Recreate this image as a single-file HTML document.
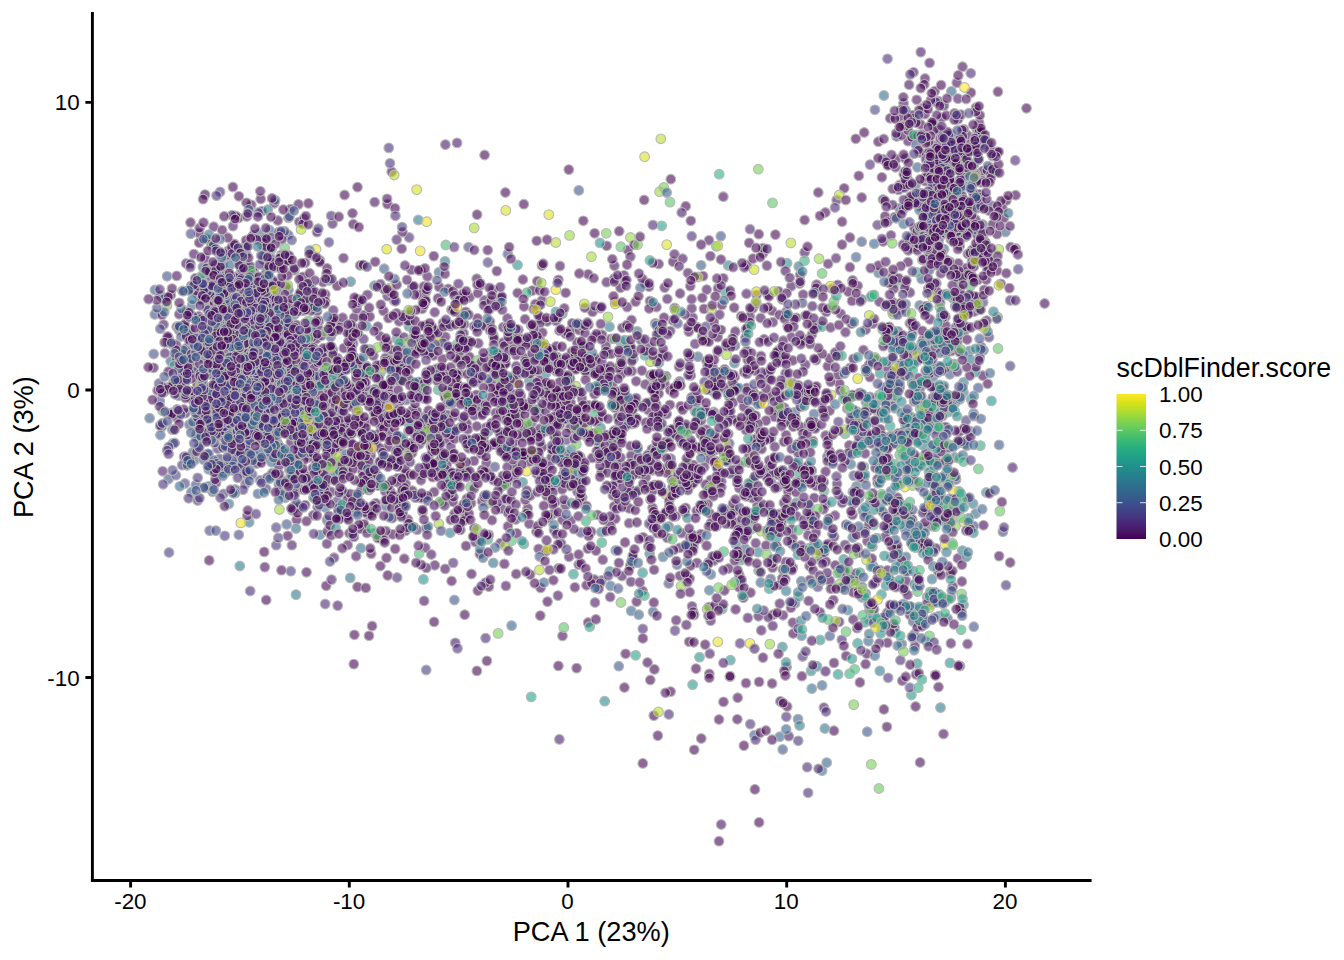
<!DOCTYPE html>
<html lang="en">
<head>
<meta charset="utf-8">
<title>PCA scDblFinder.score</title>
<style>
html,body{margin:0;padding:0;background:#fff;}
body{width:1344px;height:960px;overflow:hidden;font-family:"Liberation Sans",Arial,Helvetica,sans-serif;}
svg{display:block;}
.t{font-family:"Liberation Sans",Arial,Helvetica,sans-serif;font-size:22.4px;fill:#000;}
.T{font-family:"Liberation Sans",Arial,Helvetica,sans-serif;font-size:27.8px;fill:#000;}
</style>
</head>
<body>
<svg width="1344" height="960" viewBox="0 0 1344 960">
<defs>
<linearGradient id="vg" x1="0" y1="1" x2="0" y2="0">
<stop offset="0" stop-color="#440154"/><stop offset="0.0526" stop-color="#481567"/><stop offset="0.1053" stop-color="#482677"/><stop offset="0.1579" stop-color="#453781"/><stop offset="0.2105" stop-color="#404788"/><stop offset="0.2632" stop-color="#39568C"/><stop offset="0.3158" stop-color="#33638D"/><stop offset="0.3684" stop-color="#2D708E"/><stop offset="0.4211" stop-color="#287D8E"/><stop offset="0.4737" stop-color="#238A8D"/><stop offset="0.5263" stop-color="#1F968B"/><stop offset="0.5789" stop-color="#20A387"/><stop offset="0.6316" stop-color="#29AF7F"/><stop offset="0.6842" stop-color="#3CBB75"/><stop offset="0.7368" stop-color="#55C667"/><stop offset="0.7895" stop-color="#73D055"/><stop offset="0.8421" stop-color="#95D840"/><stop offset="0.8947" stop-color="#B8DE29"/><stop offset="0.9474" stop-color="#DCE319"/><stop offset="1" stop-color="#FDE725"/>
</linearGradient>
</defs>
<rect width="1344" height="960" fill="#fff"/>
<g id="pts" fill="#440154" fill-opacity="0.6" stroke="#B8B8B8" stroke-opacity="1" stroke-width="1.1">
<circle cx="564.7" cy="468.3" r="4.85" fill="#460B5D"/>
<circle cx="542.4" cy="332.6" r="4.85"/>
<circle cx="935.9" cy="223.0" r="4.85" fill="#414587"/>
<circle cx="785.9" cy="473.9" r="4.85"/>
<circle cx="809.5" cy="566.0" r="4.85" fill="#460B5D"/>
<circle cx="921.7" cy="404.9" r="4.85" fill="#433E84"/>
<circle cx="265.0" cy="435.5" r="4.85" fill="#472D7B"/>
<circle cx="282.1" cy="234.6" r="4.85"/>
<circle cx="896.3" cy="472.6" r="4.85" fill="#40BD73"/>
<circle cx="967.2" cy="167.3" r="4.85"/>
<circle cx="859.9" cy="682.4" r="4.85"/>
<circle cx="746.8" cy="350.8" r="4.85" fill="#460B5D"/>
<circle cx="361.0" cy="454.6" r="4.85" fill="#481467"/>
<circle cx="493.4" cy="335.7" r="4.85"/>
<circle cx="325.3" cy="507.5" r="4.85" fill="#31678D"/>
<circle cx="356.4" cy="462.1" r="4.85"/>
<circle cx="975.7" cy="513.5" r="4.85" fill="#31678D"/>
<circle cx="992.7" cy="224.3" r="4.85"/>
<circle cx="362.9" cy="394.0" r="4.85" fill="#481467"/>
<circle cx="232.3" cy="450.7" r="4.85" fill="#453680"/>
<circle cx="958.3" cy="263.4" r="4.85"/>
<circle cx="486.4" cy="463.0" r="4.85" fill="#460B5D"/>
<circle cx="505.7" cy="384.7" r="4.85" fill="#31678D"/>
<circle cx="276.2" cy="545.2" r="4.85" fill="#472D7B"/>
<circle cx="191.4" cy="492.2" r="4.85" fill="#3A548B"/>
<circle cx="219.2" cy="356.7" r="4.85"/>
<circle cx="631.1" cy="455.5" r="4.85"/>
<circle cx="386.7" cy="249.2" r="4.85" fill="#DDE319"/>
<circle cx="308.3" cy="341.9" r="4.85"/>
<circle cx="190.8" cy="336.1" r="4.85" fill="#482576"/>
<circle cx="255.1" cy="378.3" r="4.85" fill="#460B5D"/>
<circle cx="392.3" cy="461.7" r="4.85" fill="#433E84"/>
<circle cx="742.2" cy="556.7" r="4.85" fill="#34618D"/>
<circle cx="185.4" cy="413.1" r="4.85" fill="#481467"/>
<circle cx="923.2" cy="339.5" r="4.85"/>
<circle cx="844.3" cy="568.6" r="4.85" fill="#460B5D"/>
<circle cx="263.3" cy="321.3" r="4.85" fill="#375B8C"/>
<circle cx="251.3" cy="204.8" r="4.85" fill="#460B5D"/>
<circle cx="960.1" cy="158.0" r="4.85" fill="#98D83E"/>
<circle cx="392.4" cy="420.9" r="4.85"/>
<circle cx="244.7" cy="323.1" r="4.85" fill="#433E84"/>
<circle cx="343.8" cy="348.1" r="4.85"/>
<circle cx="601.6" cy="472.3" r="4.85"/>
<circle cx="539.8" cy="340.2" r="4.85" fill="#460B5D"/>
<circle cx="697.0" cy="562.9" r="4.85" fill="#460B5D"/>
<circle cx="331.7" cy="437.5" r="4.85" fill="#460B5D"/>
<circle cx="465.3" cy="346.4" r="4.85" fill="#460B5D"/>
<circle cx="958.1" cy="119.3" r="4.85"/>
<circle cx="262.9" cy="285.3" r="4.85" fill="#453680"/>
<circle cx="892.3" cy="405.9" r="4.85"/>
<circle cx="972.2" cy="149.0" r="4.85" fill="#460B5D"/>
<circle cx="704.0" cy="308.9" r="4.85"/>
<circle cx="607.4" cy="472.5" r="4.85" fill="#460B5D"/>
<circle cx="853.5" cy="358.8" r="4.85"/>
<circle cx="218.6" cy="376.3" r="4.85" fill="#472D7B"/>
<circle cx="296.1" cy="335.5" r="4.85" fill="#414587"/>
<circle cx="294.4" cy="314.7" r="4.85" fill="#2E6E8E"/>
<circle cx="898.8" cy="342.5" r="4.85"/>
<circle cx="857.0" cy="411.6" r="4.85" fill="#472D7B"/>
<circle cx="207.3" cy="454.0" r="4.85" fill="#433E84"/>
<circle cx="503.1" cy="342.5" r="4.85"/>
<circle cx="754.5" cy="513.6" r="4.85"/>
<circle cx="931.8" cy="593.3" r="4.85" fill="#460B5D"/>
<circle cx="521.6" cy="343.9" r="4.85" fill="#460B5D"/>
<circle cx="311.8" cy="397.2" r="4.85" fill="#460B5D"/>
<circle cx="454.4" cy="600.0" r="4.85" fill="#3A548B"/>
<circle cx="709.8" cy="653.7" r="4.85" fill="#481467"/>
<circle cx="911.3" cy="335.8" r="4.85" fill="#460B5D"/>
<circle cx="847.9" cy="610.2" r="4.85" fill="#297A8E"/>
<circle cx="829.7" cy="410.6" r="4.85" fill="#460B5D"/>
<circle cx="831.1" cy="394.8" r="4.85" fill="#CBE120"/>
<circle cx="954.8" cy="457.4" r="4.85" fill="#31678D"/>
<circle cx="459.6" cy="361.5" r="4.85" fill="#27818E"/>
<circle cx="506.8" cy="499.4" r="4.85"/>
<circle cx="384.4" cy="344.3" r="4.85"/>
<circle cx="355.3" cy="501.6" r="4.85"/>
<circle cx="523.4" cy="427.7" r="4.85" fill="#481467"/>
<circle cx="949.9" cy="374.3" r="4.85" fill="#3A548B"/>
<circle cx="238.9" cy="430.2" r="4.85" fill="#375B8C"/>
<circle cx="663.1" cy="355.0" r="4.85"/>
<circle cx="282.5" cy="480.6" r="4.85" fill="#482576"/>
<circle cx="360.2" cy="265.4" r="4.85"/>
<circle cx="434.8" cy="565.3" r="4.85" fill="#460B5D"/>
<circle cx="757.3" cy="505.9" r="4.85" fill="#460B5D"/>
<circle cx="978.2" cy="387.9" r="4.85" fill="#3D4D8A"/>
<circle cx="747.0" cy="387.9" r="4.85" fill="#460B5D"/>
<circle cx="446.8" cy="464.4" r="4.85" fill="#460B5D"/>
<circle cx="578.7" cy="564.6" r="4.85" fill="#460B5D"/>
<circle cx="240.8" cy="335.7" r="4.85" fill="#481467"/>
<circle cx="282.7" cy="399.7" r="4.85" fill="#414587"/>
<circle cx="664.6" cy="447.4" r="4.85" fill="#460B5D"/>
<circle cx="236.5" cy="313.8" r="4.85" fill="#460B5D"/>
<circle cx="728.8" cy="413.6" r="4.85" fill="#460B5D"/>
<circle cx="337.7" cy="605.6" r="4.85" fill="#481467"/>
<circle cx="855.8" cy="573.5" r="4.85"/>
<circle cx="262.0" cy="344.2" r="4.85" fill="#34618D"/>
<circle cx="778.2" cy="350.5" r="4.85"/>
<circle cx="301.8" cy="390.0" r="4.85" fill="#460B5D"/>
<circle cx="270.0" cy="389.5" r="4.85" fill="#453680"/>
<circle cx="794.9" cy="412.2" r="4.85" fill="#34618D"/>
<circle cx="246.5" cy="202.8" r="4.85"/>
<circle cx="346.7" cy="369.2" r="4.85"/>
<circle cx="734.7" cy="377.3" r="4.85"/>
<circle cx="952.6" cy="192.3" r="4.85" fill="#460B5D"/>
<circle cx="210.7" cy="428.5" r="4.85" fill="#375B8C"/>
<circle cx="221.1" cy="393.3" r="4.85"/>
<circle cx="479.7" cy="375.2" r="4.85" fill="#414587"/>
<circle cx="330.7" cy="337.0" r="4.85" fill="#414587"/>
<circle cx="471.1" cy="503.3" r="4.85" fill="#460B5D"/>
<circle cx="441.9" cy="502.4" r="4.85"/>
<circle cx="751.4" cy="353.1" r="4.85" fill="#460B5D"/>
<circle cx="872.1" cy="295.3" r="4.85" fill="#2CB17D"/>
<circle cx="903.6" cy="223.9" r="4.85" fill="#31678D"/>
<circle cx="279.6" cy="384.8" r="4.85"/>
<circle cx="268.2" cy="369.6" r="4.85" fill="#31678D"/>
<circle cx="569.2" cy="382.2" r="4.85"/>
<circle cx="760.1" cy="508.4" r="4.85" fill="#22A585"/>
<circle cx="982.6" cy="171.1" r="4.85" fill="#460B5D"/>
<circle cx="215.1" cy="328.6" r="4.85" fill="#375B8C"/>
<circle cx="170.7" cy="361.3" r="4.85" fill="#375B8C"/>
<circle cx="779.4" cy="352.0" r="4.85" fill="#460B5D"/>
<circle cx="322.3" cy="444.3" r="4.85"/>
<circle cx="506.9" cy="454.2" r="4.85" fill="#460B5D"/>
<circle cx="959.0" cy="491.4" r="4.85" fill="#228D8C"/>
<circle cx="631.4" cy="490.2" r="4.85" fill="#460B5D"/>
<circle cx="631.8" cy="424.0" r="4.85" fill="#460B5D"/>
<circle cx="786.6" cy="667.0" r="4.85" fill="#414587"/>
<circle cx="566.2" cy="440.1" r="4.85" fill="#472D7B"/>
<circle cx="469.4" cy="356.9" r="4.85"/>
<circle cx="935.4" cy="460.8" r="4.85" fill="#209F88"/>
<circle cx="391.3" cy="378.3" r="4.85" fill="#460B5D"/>
<circle cx="967.6" cy="498.5" r="4.85" fill="#460B5D"/>
<circle cx="951.1" cy="351.2" r="4.85" fill="#460B5D"/>
<circle cx="918.2" cy="377.9" r="4.85" fill="#460B5D"/>
<circle cx="982.3" cy="180.5" r="4.85" fill="#460B5D"/>
<circle cx="319.1" cy="438.0" r="4.85"/>
<circle cx="917.2" cy="243.3" r="4.85" fill="#36B778"/>
<circle cx="984.2" cy="289.8" r="4.85"/>
<circle cx="197.8" cy="371.1" r="4.85" fill="#460B5D"/>
<circle cx="689.4" cy="357.8" r="4.85" fill="#460B5D"/>
<circle cx="391.7" cy="171.7" r="4.85"/>
<circle cx="685.9" cy="546.9" r="4.85"/>
<circle cx="529.2" cy="523.8" r="4.85" fill="#460B5D"/>
<circle cx="266.6" cy="396.9" r="4.85" fill="#3A548B"/>
<circle cx="485.6" cy="427.7" r="4.85" fill="#460B5D"/>
<circle cx="400.0" cy="415.9" r="4.85" fill="#FDE725"/>
<circle cx="846.1" cy="524.7" r="4.85"/>
<circle cx="673.1" cy="261.8" r="4.85"/>
<circle cx="982.9" cy="375.7" r="4.85"/>
<circle cx="165.8" cy="388.8" r="4.85" fill="#460B5D"/>
<circle cx="873.4" cy="566.4" r="4.85" fill="#34618D"/>
<circle cx="747.4" cy="494.6" r="4.85" fill="#460B5D"/>
<circle cx="918.3" cy="195.4" r="4.85"/>
<circle cx="845.6" cy="397.5" r="4.85"/>
<circle cx="315.6" cy="361.8" r="4.85" fill="#460B5D"/>
<circle cx="431.2" cy="418.5" r="4.85" fill="#460B5D"/>
<circle cx="448.6" cy="439.7" r="4.85"/>
<circle cx="955.0" cy="403.1" r="4.85" fill="#24878D"/>
<circle cx="207.5" cy="352.6" r="4.85"/>
<circle cx="380.7" cy="537.8" r="4.85"/>
<circle cx="565.6" cy="333.7" r="4.85"/>
<circle cx="931.1" cy="217.6" r="4.85" fill="#460B5D"/>
<circle cx="553.4" cy="513.6" r="4.85" fill="#460B5D"/>
<circle cx="206.0" cy="415.7" r="4.85" fill="#472D7B"/>
<circle cx="582.1" cy="368.3" r="4.85"/>
<circle cx="459.9" cy="510.0" r="4.85"/>
<circle cx="898.0" cy="331.3" r="4.85" fill="#433E84"/>
<circle cx="224.3" cy="395.2" r="4.85" fill="#34618D"/>
<circle cx="426.6" cy="464.9" r="4.85"/>
<circle cx="327.0" cy="520.1" r="4.85" fill="#3A548B"/>
<circle cx="506.4" cy="483.6" r="4.85"/>
<circle cx="960.3" cy="272.6" r="4.85" fill="#460B5D"/>
<circle cx="401.7" cy="508.2" r="4.85"/>
<circle cx="189.4" cy="424.6" r="4.85" fill="#3D4D8A"/>
<circle cx="902.4" cy="520.2" r="4.85" fill="#3A548B"/>
<circle cx="451.5" cy="309.8" r="4.85" fill="#460B5D"/>
<circle cx="556.9" cy="356.8" r="4.85" fill="#481467"/>
<circle cx="544.5" cy="475.2" r="4.85"/>
<circle cx="840.8" cy="313.8" r="4.85" fill="#460B5D"/>
<circle cx="414.7" cy="384.4" r="4.85" fill="#460B5D"/>
<circle cx="201.3" cy="381.2" r="4.85"/>
<circle cx="657.4" cy="533.2" r="4.85"/>
<circle cx="781.2" cy="361.5" r="4.85"/>
<circle cx="876.4" cy="359.4" r="4.85"/>
<circle cx="681.7" cy="443.2" r="4.85" fill="#460B5D"/>
<circle cx="154.8" cy="314.4" r="4.85" fill="#3D4D8A"/>
<circle cx="594.4" cy="361.4" r="4.85"/>
<circle cx="1003.7" cy="218.2" r="4.85"/>
<circle cx="554.0" cy="530.1" r="4.85" fill="#460B5D"/>
<circle cx="776.3" cy="472.6" r="4.85"/>
<circle cx="741.2" cy="316.2" r="4.85"/>
<circle cx="758.2" cy="552.2" r="4.85" fill="#27818E"/>
<circle cx="237.8" cy="302.3" r="4.85" fill="#460B5D"/>
<circle cx="934.4" cy="520.3" r="4.85" fill="#433E84"/>
<circle cx="268.4" cy="382.4" r="4.85"/>
<circle cx="959.3" cy="189.7" r="4.85"/>
<circle cx="727.7" cy="453.3" r="4.85" fill="#98D83E"/>
<circle cx="380.5" cy="426.1" r="4.85" fill="#460B5D"/>
<circle cx="775.0" cy="409.7" r="4.85"/>
<circle cx="423.8" cy="286.5" r="4.85"/>
<circle cx="452.6" cy="390.3" r="4.85"/>
<circle cx="396.9" cy="338.9" r="4.85" fill="#20938C"/>
<circle cx="933.4" cy="173.6" r="4.85"/>
<circle cx="245.3" cy="246.3" r="4.85" fill="#460B5D"/>
<circle cx="347.1" cy="472.2" r="4.85"/>
<circle cx="715.4" cy="556.7" r="4.85" fill="#460B5D"/>
<circle cx="979.1" cy="122.7" r="4.85" fill="#460B5D"/>
<circle cx="893.0" cy="302.4" r="4.85"/>
<circle cx="259.3" cy="360.6" r="4.85" fill="#414587"/>
<circle cx="946.2" cy="184.8" r="4.85"/>
<circle cx="723.3" cy="196.7" r="4.85" fill="#460B5D"/>
<circle cx="184.9" cy="483.5" r="4.85" fill="#414587"/>
<circle cx="816.9" cy="327.4" r="4.85" fill="#433E84"/>
<circle cx="504.3" cy="345.7" r="4.85"/>
<circle cx="919.4" cy="348.6" r="4.85" fill="#375B8C"/>
<circle cx="551.5" cy="457.4" r="4.85"/>
<circle cx="234.8" cy="355.4" r="4.85"/>
<circle cx="952.0" cy="223.9" r="4.85" fill="#460B5D"/>
<circle cx="587.8" cy="548.8" r="4.85"/>
<circle cx="450.1" cy="472.8" r="4.85"/>
<circle cx="795.3" cy="463.7" r="4.85" fill="#481467"/>
<circle cx="246.6" cy="428.9" r="4.85"/>
<circle cx="903.3" cy="431.8" r="4.85"/>
<circle cx="457.6" cy="396.5" r="4.85" fill="#460B5D"/>
<circle cx="770.8" cy="396.2" r="4.85"/>
<circle cx="544.9" cy="394.7" r="4.85" fill="#460B5D"/>
<circle cx="400.3" cy="346.6" r="4.85"/>
<circle cx="948.1" cy="397.8" r="4.85" fill="#20938C"/>
<circle cx="202.9" cy="267.0" r="4.85" fill="#34618D"/>
<circle cx="679.9" cy="575.8" r="4.85" fill="#460B5D"/>
<circle cx="805.4" cy="364.6" r="4.85" fill="#460B5D"/>
<circle cx="803.1" cy="294.6" r="4.85" fill="#460B5D"/>
<circle cx="322.3" cy="410.2" r="4.85" fill="#460B5D"/>
<circle cx="552.1" cy="350.0" r="4.85" fill="#460B5D"/>
<circle cx="289.3" cy="369.1" r="4.85" fill="#3A548B"/>
<circle cx="774.4" cy="416.9" r="4.85" fill="#460B5D"/>
<circle cx="964.5" cy="225.2" r="4.85"/>
<circle cx="463.6" cy="333.0" r="4.85" fill="#460B5D"/>
<circle cx="535.9" cy="433.8" r="4.85" fill="#481D6E"/>
<circle cx="539.7" cy="380.0" r="4.85" fill="#460B5D"/>
<circle cx="218.5" cy="281.5" r="4.85"/>
<circle cx="652.7" cy="377.1" r="4.85"/>
<circle cx="238.9" cy="411.3" r="4.85" fill="#460B5D"/>
<circle cx="177.5" cy="360.5" r="4.85" fill="#67CC5C"/>
<circle cx="932.6" cy="333.0" r="4.85"/>
<circle cx="307.2" cy="478.9" r="4.85" fill="#375B8C"/>
<circle cx="232.5" cy="406.3" r="4.85"/>
<circle cx="747.8" cy="617.9" r="4.85" fill="#460B5D"/>
<circle cx="202.6" cy="349.6" r="4.85"/>
<circle cx="272.8" cy="368.1" r="4.85" fill="#67CC5C"/>
<circle cx="360.8" cy="548.2" r="4.85" fill="#2E6E8E"/>
<circle cx="931.4" cy="504.0" r="4.85" fill="#20938C"/>
<circle cx="895.5" cy="443.8" r="4.85" fill="#297A8E"/>
<circle cx="173.2" cy="383.0" r="4.85" fill="#453680"/>
<circle cx="250.5" cy="313.2" r="4.85" fill="#482576"/>
<circle cx="898.7" cy="189.9" r="4.85" fill="#460B5D"/>
<circle cx="286.2" cy="457.6" r="4.85" fill="#453680"/>
<circle cx="377.9" cy="418.2" r="4.85" fill="#460B5D"/>
<circle cx="869.8" cy="377.1" r="4.85"/>
<circle cx="333.8" cy="438.5" r="4.85"/>
<circle cx="247.3" cy="368.1" r="4.85"/>
<circle cx="805.9" cy="339.6" r="4.85" fill="#460B5D"/>
<circle cx="799.8" cy="393.3" r="4.85" fill="#460B5D"/>
<circle cx="405.7" cy="473.8" r="4.85" fill="#460B5D"/>
<circle cx="373.7" cy="511.6" r="4.85" fill="#3D4D8A"/>
<circle cx="885.1" cy="216.4" r="4.85"/>
<circle cx="502.6" cy="486.0" r="4.85" fill="#481467"/>
<circle cx="768.2" cy="532.6" r="4.85"/>
<circle cx="913.0" cy="351.0" r="4.85" fill="#460B5D"/>
<circle cx="588.5" cy="324.6" r="4.85"/>
<circle cx="911.2" cy="425.1" r="4.85" fill="#2B748E"/>
<circle cx="196.2" cy="282.9" r="4.85" fill="#3A548B"/>
<circle cx="652.5" cy="470.3" r="4.85" fill="#460B5D"/>
<circle cx="939.7" cy="186.9" r="4.85"/>
<circle cx="930.3" cy="591.8" r="4.85" fill="#22A585"/>
<circle cx="253.9" cy="271.6" r="4.85"/>
<circle cx="878.2" cy="463.9" r="4.85" fill="#2CB17D"/>
<circle cx="914.1" cy="395.8" r="4.85" fill="#414587"/>
<circle cx="362.4" cy="471.1" r="4.85"/>
<circle cx="924.4" cy="206.1" r="4.85" fill="#453680"/>
<circle cx="234.2" cy="352.3" r="4.85" fill="#472D7B"/>
<circle cx="932.3" cy="425.6" r="4.85" fill="#228D8C"/>
<circle cx="380.4" cy="372.9" r="4.85" fill="#26AB81"/>
<circle cx="948.3" cy="395.2" r="4.85" fill="#375B8C"/>
<circle cx="964.4" cy="215.9" r="4.85" fill="#375B8C"/>
<circle cx="896.4" cy="384.1" r="4.85" fill="#20938C"/>
<circle cx="887.6" cy="221.7" r="4.85"/>
<circle cx="842.6" cy="609.0" r="4.85" fill="#414587"/>
<circle cx="976.9" cy="129.8" r="4.85" fill="#460B5D"/>
<circle cx="302.9" cy="361.3" r="4.85" fill="#460B5D"/>
<circle cx="986.9" cy="170.2" r="4.85"/>
<circle cx="583.6" cy="347.2" r="4.85" fill="#453680"/>
<circle cx="422.1" cy="474.6" r="4.85" fill="#460B5D"/>
<circle cx="489.3" cy="502.8" r="4.85" fill="#87D549"/>
<circle cx="277.5" cy="443.0" r="4.85"/>
<circle cx="624.0" cy="275.3" r="4.85"/>
<circle cx="674.7" cy="489.7" r="4.85"/>
<circle cx="449.9" cy="326.2" r="4.85" fill="#460B5D"/>
<circle cx="723.3" cy="278.4" r="4.85"/>
<circle cx="792.5" cy="538.1" r="4.85"/>
<circle cx="800.8" cy="545.5" r="4.85" fill="#460B5D"/>
<circle cx="293.0" cy="507.5" r="4.85"/>
<circle cx="204.6" cy="439.4" r="4.85" fill="#375B8C"/>
<circle cx="785.5" cy="359.3" r="4.85" fill="#460B5D"/>
<circle cx="315.0" cy="436.4" r="4.85"/>
<circle cx="957.9" cy="558.4" r="4.85" fill="#460B5D"/>
<circle cx="705.7" cy="341.0" r="4.85" fill="#460B5D"/>
<circle cx="532.4" cy="336.0" r="4.85" fill="#460B5D"/>
<circle cx="713.2" cy="391.1" r="4.85" fill="#3A548B"/>
<circle cx="249.5" cy="409.0" r="4.85" fill="#460B5D"/>
<circle cx="185.1" cy="371.1" r="4.85" fill="#460B5D"/>
<circle cx="297.3" cy="335.7" r="4.85"/>
<circle cx="347.8" cy="545.0" r="4.85" fill="#460B5D"/>
<circle cx="874.2" cy="615.8" r="4.85" fill="#36B778"/>
<circle cx="696.0" cy="398.7" r="4.85" fill="#460B5D"/>
<circle cx="722.2" cy="608.9" r="4.85" fill="#1F998A"/>
<circle cx="233.0" cy="226.1" r="4.85" fill="#481467"/>
<circle cx="154.9" cy="290.0" r="4.85" fill="#375B8C"/>
<circle cx="335.7" cy="462.6" r="4.85" fill="#FDE725"/>
<circle cx="599.6" cy="446.7" r="4.85"/>
<circle cx="799.9" cy="481.0" r="4.85" fill="#460B5D"/>
<circle cx="629.6" cy="346.8" r="4.85" fill="#460B5D"/>
<circle cx="709.1" cy="607.1" r="4.85" fill="#460B5D"/>
<circle cx="363.8" cy="505.6" r="4.85"/>
<circle cx="935.8" cy="145.5" r="4.85"/>
<circle cx="777.1" cy="351.7" r="4.85"/>
<circle cx="278.7" cy="466.3" r="4.85" fill="#460B5D"/>
<circle cx="225.1" cy="318.4" r="4.85" fill="#472D7B"/>
<circle cx="779.7" cy="736.7" r="4.85" fill="#34618D"/>
<circle cx="569.0" cy="556.8" r="4.85" fill="#460B5D"/>
<circle cx="925.4" cy="339.6" r="4.85" fill="#481467"/>
<circle cx="398.2" cy="407.5" r="4.85"/>
<circle cx="665.5" cy="494.2" r="4.85" fill="#BADE28"/>
<circle cx="767.8" cy="535.0" r="4.85" fill="#A9DB33"/>
<circle cx="967.6" cy="222.0" r="4.85"/>
<circle cx="717.8" cy="641.8" r="4.85" fill="#EDE51F"/>
<circle cx="905.9" cy="460.3" r="4.85" fill="#27818E"/>
<circle cx="262.9" cy="418.3" r="4.85" fill="#460B5D"/>
<circle cx="551.9" cy="424.5" r="4.85" fill="#460B5D"/>
<circle cx="487.7" cy="539.4" r="4.85" fill="#22A585"/>
<circle cx="330.6" cy="419.6" r="4.85"/>
<circle cx="282.3" cy="370.7" r="4.85" fill="#433E84"/>
<circle cx="218.7" cy="276.3" r="4.85" fill="#3A548B"/>
<circle cx="185.9" cy="357.2" r="4.85" fill="#453680"/>
<circle cx="562.5" cy="635.9" r="4.85" fill="#460B5D"/>
<circle cx="706.5" cy="360.8" r="4.85"/>
<circle cx="725.5" cy="291.9" r="4.85" fill="#1F998A"/>
<circle cx="364.1" cy="380.4" r="4.85" fill="#460B5D"/>
<circle cx="220.7" cy="412.6" r="4.85" fill="#433E84"/>
<circle cx="518.4" cy="417.6" r="4.85"/>
<circle cx="250.3" cy="408.6" r="4.85"/>
<circle cx="427.4" cy="344.6" r="4.85" fill="#481467"/>
<circle cx="957.0" cy="200.5" r="4.85" fill="#460B5D"/>
<circle cx="299.1" cy="412.7" r="4.85" fill="#460B5D"/>
<circle cx="264.8" cy="567.1" r="4.85" fill="#460B5D"/>
<circle cx="224.1" cy="281.4" r="4.85"/>
<circle cx="954.6" cy="162.7" r="4.85" fill="#460B5D"/>
<circle cx="912.2" cy="334.3" r="4.85" fill="#453680"/>
<circle cx="547.8" cy="348.3" r="4.85"/>
<circle cx="722.4" cy="511.6" r="4.85"/>
<circle cx="242.0" cy="371.9" r="4.85"/>
<circle cx="207.0" cy="308.9" r="4.85"/>
<circle cx="284.4" cy="335.7" r="4.85" fill="#3D4D8A"/>
<circle cx="326.8" cy="386.4" r="4.85" fill="#460B5D"/>
<circle cx="422.6" cy="511.6" r="4.85" fill="#460B5D"/>
<circle cx="636.6" cy="601.6" r="4.85"/>
<circle cx="846.1" cy="656.0" r="4.85"/>
<circle cx="911.2" cy="523.3" r="4.85" fill="#2B748E"/>
<circle cx="394.1" cy="300.6" r="4.85" fill="#460B5D"/>
<circle cx="223.2" cy="355.4" r="4.85" fill="#453680"/>
<circle cx="290.4" cy="388.9" r="4.85" fill="#31678D"/>
<circle cx="209.7" cy="374.3" r="4.85" fill="#460B5D"/>
<circle cx="900.8" cy="349.5" r="4.85" fill="#433E84"/>
<circle cx="295.5" cy="379.1" r="4.85" fill="#460B5D"/>
<circle cx="336.4" cy="385.0" r="4.85"/>
<circle cx="668.7" cy="583.5" r="4.85" fill="#433E84"/>
<circle cx="396.0" cy="359.0" r="4.85" fill="#433E84"/>
<circle cx="268.4" cy="326.9" r="4.85"/>
<circle cx="436.6" cy="368.7" r="4.85"/>
<circle cx="448.8" cy="399.2" r="4.85" fill="#460B5D"/>
<circle cx="853.7" cy="414.7" r="4.85" fill="#460B5D"/>
<circle cx="371.2" cy="553.8" r="4.85"/>
<circle cx="849.3" cy="445.3" r="4.85" fill="#460B5D"/>
<circle cx="954.8" cy="411.5" r="4.85" fill="#20938C"/>
<circle cx="800.2" cy="274.7" r="4.85" fill="#460B5D"/>
<circle cx="941.4" cy="232.7" r="4.85"/>
<circle cx="750.9" cy="483.2" r="4.85"/>
<circle cx="290.8" cy="359.7" r="4.85" fill="#460B5D"/>
<circle cx="917.6" cy="591.5" r="4.85" fill="#4CC26C"/>
<circle cx="1002.9" cy="531.7" r="4.85" fill="#414587"/>
<circle cx="298.9" cy="506.6" r="4.85"/>
<circle cx="526.2" cy="368.4" r="4.85"/>
<circle cx="290.5" cy="209.2" r="4.85" fill="#460B5D"/>
<circle cx="251.1" cy="425.5" r="4.85" fill="#481467"/>
<circle cx="561.1" cy="543.4" r="4.85"/>
<circle cx="178.7" cy="395.7" r="4.85" fill="#414587"/>
<circle cx="297.7" cy="386.8" r="4.85" fill="#34618D"/>
<circle cx="322.1" cy="431.1" r="4.85" fill="#460B5D"/>
<circle cx="912.0" cy="247.7" r="4.85" fill="#460B5D"/>
<circle cx="700.9" cy="534.1" r="4.85" fill="#460B5D"/>
<circle cx="507.8" cy="254.0" r="4.85" fill="#414587"/>
<circle cx="920.4" cy="401.4" r="4.85" fill="#31678D"/>
<circle cx="188.6" cy="498.3" r="4.85" fill="#482576"/>
<circle cx="364.9" cy="527.7" r="4.85" fill="#76D153"/>
<circle cx="187.1" cy="371.9" r="4.85" fill="#482576"/>
<circle cx="899.8" cy="387.2" r="4.85" fill="#472D7B"/>
<circle cx="550.9" cy="389.2" r="4.85" fill="#460B5D"/>
<circle cx="477.6" cy="360.5" r="4.85" fill="#67CC5C"/>
<circle cx="717.7" cy="337.1" r="4.85"/>
<circle cx="900.8" cy="565.3" r="4.85" fill="#1F998A"/>
<circle cx="802.4" cy="340.9" r="4.85" fill="#460B5D"/>
<circle cx="559.5" cy="330.7" r="4.85" fill="#460B5D"/>
<circle cx="912.0" cy="115.1" r="4.85"/>
<circle cx="465.0" cy="518.1" r="4.85"/>
<circle cx="220.9" cy="363.1" r="4.85" fill="#3D4D8A"/>
<circle cx="166.9" cy="305.4" r="4.85" fill="#76D153"/>
<circle cx="693.1" cy="464.8" r="4.85" fill="#460B5D"/>
<circle cx="961.8" cy="195.3" r="4.85" fill="#460B5D"/>
<circle cx="750.0" cy="229.2" r="4.85" fill="#481D6E"/>
<circle cx="982.7" cy="224.5" r="4.85" fill="#3D4D8A"/>
<circle cx="420.5" cy="390.3" r="4.85" fill="#460B5D"/>
<circle cx="214.4" cy="365.5" r="4.85" fill="#34618D"/>
<circle cx="201.1" cy="341.4" r="4.85"/>
<circle cx="465.7" cy="311.8" r="4.85"/>
<circle cx="906.0" cy="556.9" r="4.85" fill="#375B8C"/>
<circle cx="945.0" cy="139.9" r="4.85"/>
<circle cx="959.1" cy="170.0" r="4.85"/>
<circle cx="983.8" cy="240.6" r="4.85" fill="#59C765"/>
<circle cx="472.8" cy="446.1" r="4.85" fill="#481467"/>
<circle cx="438.8" cy="523.7" r="4.85" fill="#A9DB33"/>
<circle cx="763.2" cy="504.7" r="4.85"/>
<circle cx="880.0" cy="373.5" r="4.85" fill="#228D8C"/>
<circle cx="1018.2" cy="269.2" r="4.85" fill="#453680"/>
<circle cx="820.7" cy="558.2" r="4.85" fill="#481D6E"/>
<circle cx="895.8" cy="386.9" r="4.85" fill="#414587"/>
<circle cx="796.5" cy="516.1" r="4.85" fill="#460B5D"/>
<circle cx="691.5" cy="397.4" r="4.85" fill="#460B5D"/>
<circle cx="524.1" cy="453.1" r="4.85"/>
<circle cx="801.5" cy="635.7" r="4.85" fill="#2B748E"/>
<circle cx="810.0" cy="468.2" r="4.85" fill="#460B5D"/>
<circle cx="337.2" cy="469.8" r="4.85" fill="#460B5D"/>
<circle cx="910.7" cy="517.6" r="4.85" fill="#20938C"/>
<circle cx="623.5" cy="495.8" r="4.85" fill="#460B5D"/>
<circle cx="581.5" cy="478.8" r="4.85" fill="#453680"/>
<circle cx="771.1" cy="437.8" r="4.85" fill="#460B5D"/>
<circle cx="532.3" cy="290.6" r="4.85"/>
<circle cx="911.4" cy="695.0" r="4.85" fill="#1F998A"/>
<circle cx="899.3" cy="505.1" r="4.85" fill="#297A8E"/>
<circle cx="282.8" cy="349.6" r="4.85" fill="#460B5D"/>
<circle cx="274.4" cy="267.4" r="4.85" fill="#460B5D"/>
<circle cx="798.3" cy="472.4" r="4.85" fill="#26AB81"/>
<circle cx="898.1" cy="481.7" r="4.85"/>
<circle cx="848.6" cy="584.3" r="4.85" fill="#2B748E"/>
<circle cx="160.4" cy="295.6" r="4.85"/>
<circle cx="597.4" cy="420.5" r="4.85"/>
<circle cx="221.6" cy="320.3" r="4.85" fill="#482576"/>
<circle cx="500.8" cy="432.4" r="4.85" fill="#460B5D"/>
<circle cx="273.4" cy="296.5" r="4.85"/>
<circle cx="548.8" cy="486.0" r="4.85" fill="#460B5D"/>
<circle cx="864.2" cy="477.4" r="4.85" fill="#453680"/>
<circle cx="497.4" cy="443.3" r="4.85" fill="#460B5D"/>
<circle cx="213.7" cy="226.7" r="4.85" fill="#460B5D"/>
<circle cx="224.8" cy="290.7" r="4.85"/>
<circle cx="1010.2" cy="300.4" r="4.85" fill="#482576"/>
<circle cx="957.3" cy="371.6" r="4.85" fill="#481467"/>
<circle cx="236.6" cy="433.2" r="4.85" fill="#482576"/>
<circle cx="930.6" cy="199.2" r="4.85" fill="#460B5D"/>
<circle cx="570.4" cy="330.4" r="4.85" fill="#460B5D"/>
<circle cx="739.2" cy="488.3" r="4.85" fill="#481467"/>
<circle cx="332.6" cy="451.8" r="4.85"/>
<circle cx="457.9" cy="385.6" r="4.85" fill="#481467"/>
<circle cx="908.1" cy="141.2" r="4.85" fill="#460B5D"/>
<circle cx="311.4" cy="431.9" r="4.85"/>
<circle cx="418.9" cy="389.6" r="4.85"/>
<circle cx="999.9" cy="511.1" r="4.85" fill="#67CC5C"/>
<circle cx="291.3" cy="339.9" r="4.85" fill="#472D7B"/>
<circle cx="989.0" cy="337.3" r="4.85" fill="#472D7B"/>
<circle cx="247.2" cy="474.8" r="4.85" fill="#414587"/>
<circle cx="470.3" cy="365.3" r="4.85" fill="#460B5D"/>
<circle cx="267.1" cy="351.0" r="4.85" fill="#460B5D"/>
<circle cx="577.1" cy="342.3" r="4.85"/>
<circle cx="262.6" cy="393.9" r="4.85" fill="#31678D"/>
<circle cx="252.6" cy="318.3" r="4.85" fill="#460B5D"/>
<circle cx="463.0" cy="347.9" r="4.85" fill="#460B5D"/>
<circle cx="842.1" cy="244.6" r="4.85"/>
<circle cx="430.2" cy="417.8" r="4.85" fill="#460B5D"/>
<circle cx="909.7" cy="240.7" r="4.85"/>
<circle cx="527.2" cy="426.3" r="4.85" fill="#414587"/>
<circle cx="904.6" cy="172.8" r="4.85" fill="#375B8C"/>
<circle cx="645.3" cy="384.4" r="4.85" fill="#460B5D"/>
<circle cx="917.2" cy="533.9" r="4.85" fill="#414587"/>
<circle cx="325.4" cy="483.2" r="4.85" fill="#460B5D"/>
<circle cx="271.4" cy="416.9" r="4.85" fill="#460B5D"/>
<circle cx="809.5" cy="506.5" r="4.85" fill="#24878D"/>
<circle cx="887.5" cy="389.6" r="4.85" fill="#228D8C"/>
<circle cx="978.0" cy="279.9" r="4.85"/>
<circle cx="488.1" cy="431.4" r="4.85" fill="#27818E"/>
<circle cx="193.4" cy="397.4" r="4.85" fill="#375B8C"/>
<circle cx="580.8" cy="563.4" r="4.85"/>
<circle cx="728.6" cy="568.5" r="4.85"/>
<circle cx="181.0" cy="376.1" r="4.85"/>
<circle cx="288.0" cy="257.3" r="4.85"/>
<circle cx="276.8" cy="354.5" r="4.85" fill="#453680"/>
<circle cx="325.5" cy="409.8" r="4.85" fill="#433E84"/>
<circle cx="948.6" cy="447.9" r="4.85" fill="#481467"/>
<circle cx="642.6" cy="572.7" r="4.85" fill="#20938C"/>
<circle cx="570.2" cy="427.8" r="4.85"/>
<circle cx="594.5" cy="336.6" r="4.85" fill="#460B5D"/>
<circle cx="190.0" cy="373.1" r="4.85"/>
<circle cx="925.2" cy="181.2" r="4.85" fill="#460B5D"/>
<circle cx="447.3" cy="325.0" r="4.85" fill="#24878D"/>
<circle cx="766.9" cy="265.6" r="4.85" fill="#460B5D"/>
<circle cx="748.7" cy="415.5" r="4.85" fill="#297A8E"/>
<circle cx="664.6" cy="383.5" r="4.85" fill="#460B5D"/>
<circle cx="256.8" cy="422.9" r="4.85" fill="#481D6E"/>
<circle cx="931.3" cy="604.3" r="4.85" fill="#24878D"/>
<circle cx="874.1" cy="609.2" r="4.85" fill="#460B5D"/>
<circle cx="611.9" cy="441.1" r="4.85"/>
<circle cx="659.0" cy="362.8" r="4.85" fill="#27818E"/>
<circle cx="811.1" cy="670.9" r="4.85" fill="#24878D"/>
<circle cx="955.1" cy="218.2" r="4.85" fill="#460B5D"/>
<circle cx="556.5" cy="534.1" r="4.85" fill="#460B5D"/>
<circle cx="272.3" cy="382.1" r="4.85" fill="#472D7B"/>
<circle cx="206.0" cy="333.0" r="4.85"/>
<circle cx="333.1" cy="479.5" r="4.85" fill="#460B5D"/>
<circle cx="936.1" cy="413.9" r="4.85" fill="#375B8C"/>
<circle cx="225.1" cy="472.6" r="4.85" fill="#375B8C"/>
<circle cx="414.2" cy="391.2" r="4.85" fill="#453680"/>
<circle cx="438.9" cy="272.3" r="4.85" fill="#34618D"/>
<circle cx="624.3" cy="427.7" r="4.85" fill="#460B5D"/>
<circle cx="506.7" cy="413.8" r="4.85" fill="#460B5D"/>
<circle cx="341.1" cy="460.3" r="4.85" fill="#453680"/>
<circle cx="922.5" cy="259.9" r="4.85" fill="#460B5D"/>
<circle cx="955.7" cy="214.6" r="4.85" fill="#460B5D"/>
<circle cx="726.9" cy="456.3" r="4.85" fill="#460B5D"/>
<circle cx="691.2" cy="484.7" r="4.85"/>
<circle cx="669.1" cy="500.9" r="4.85"/>
<circle cx="413.8" cy="386.0" r="4.85" fill="#40BD73"/>
<circle cx="729.3" cy="443.5" r="4.85" fill="#453680"/>
<circle cx="938.3" cy="101.2" r="4.85" fill="#460B5D"/>
<circle cx="339.3" cy="447.0" r="4.85" fill="#460B5D"/>
<circle cx="273.1" cy="420.3" r="4.85"/>
<circle cx="956.0" cy="479.5" r="4.85" fill="#453680"/>
<circle cx="355.8" cy="391.1" r="4.85" fill="#460B5D"/>
<circle cx="264.7" cy="249.4" r="4.85" fill="#34618D"/>
<circle cx="944.5" cy="504.2" r="4.85" fill="#40BD73"/>
<circle cx="758.6" cy="570.8" r="4.85" fill="#2CB17D"/>
<circle cx="452.8" cy="501.7" r="4.85"/>
<circle cx="221.9" cy="271.0" r="4.85" fill="#453680"/>
<circle cx="579.1" cy="416.0" r="4.85"/>
<circle cx="247.0" cy="384.1" r="4.85" fill="#3D4D8A"/>
<circle cx="909.8" cy="687.7" r="4.85" fill="#453680"/>
<circle cx="788.0" cy="491.3" r="4.85"/>
<circle cx="952.8" cy="586.5" r="4.85"/>
<circle cx="755.2" cy="463.9" r="4.85"/>
<circle cx="339.8" cy="412.6" r="4.85" fill="#460B5D"/>
<circle cx="660.5" cy="357.7" r="4.85" fill="#460B5D"/>
<circle cx="539.6" cy="428.7" r="4.85" fill="#460B5D"/>
<circle cx="226.5" cy="364.7" r="4.85" fill="#482576"/>
<circle cx="910.5" cy="426.0" r="4.85" fill="#481467"/>
<circle cx="502.5" cy="356.1" r="4.85" fill="#414587"/>
<circle cx="546.1" cy="431.1" r="4.85" fill="#460B5D"/>
<circle cx="321.9" cy="363.2" r="4.85"/>
<circle cx="857.4" cy="444.2" r="4.85" fill="#27818E"/>
<circle cx="364.1" cy="524.0" r="4.85"/>
<circle cx="205.2" cy="388.5" r="4.85" fill="#433E84"/>
<circle cx="514.1" cy="477.6" r="4.85" fill="#481467"/>
<circle cx="244.5" cy="317.7" r="4.85" fill="#31678D"/>
<circle cx="512.8" cy="379.0" r="4.85"/>
<circle cx="933.2" cy="376.6" r="4.85" fill="#34618D"/>
<circle cx="269.6" cy="230.2" r="4.85" fill="#34618D"/>
<circle cx="929.2" cy="502.6" r="4.85" fill="#31678D"/>
<circle cx="631.4" cy="347.9" r="4.85"/>
<circle cx="857.1" cy="628.2" r="4.85" fill="#460B5D"/>
<circle cx="955.9" cy="210.5" r="4.85" fill="#481467"/>
<circle cx="264.4" cy="313.3" r="4.85"/>
<circle cx="235.5" cy="403.8" r="4.85" fill="#375B8C"/>
<circle cx="227.8" cy="350.1" r="4.85" fill="#481467"/>
<circle cx="290.9" cy="442.1" r="4.85" fill="#460B5D"/>
<circle cx="760.9" cy="531.1" r="4.85" fill="#A9DB33"/>
<circle cx="615.1" cy="430.2" r="4.85"/>
<circle cx="270.6" cy="279.0" r="4.85"/>
<circle cx="299.0" cy="380.9" r="4.85"/>
<circle cx="644.2" cy="200.0" r="4.85"/>
<circle cx="366.6" cy="443.4" r="4.85" fill="#87D549"/>
<circle cx="967.8" cy="253.9" r="4.85" fill="#460B5D"/>
<circle cx="766.3" cy="473.3" r="4.85" fill="#460B5D"/>
<circle cx="509.9" cy="406.1" r="4.85" fill="#460B5D"/>
<circle cx="911.8" cy="607.4" r="4.85" fill="#3D4D8A"/>
<circle cx="938.8" cy="387.3" r="4.85" fill="#76D153"/>
<circle cx="800.7" cy="467.8" r="4.85" fill="#460B5D"/>
<circle cx="898.0" cy="433.5" r="4.85"/>
<circle cx="534.3" cy="371.2" r="4.85"/>
<circle cx="233.0" cy="326.1" r="4.85" fill="#472D7B"/>
<circle cx="455.0" cy="477.0" r="4.85" fill="#460B5D"/>
<circle cx="932.5" cy="179.9" r="4.85" fill="#481467"/>
<circle cx="882.6" cy="511.9" r="4.85"/>
<circle cx="629.2" cy="508.4" r="4.85"/>
<circle cx="539.4" cy="570.0" r="4.85" fill="#BADE28"/>
<circle cx="238.2" cy="453.6" r="4.85" fill="#460B5D"/>
<circle cx="715.6" cy="372.9" r="4.85" fill="#98D83E"/>
<circle cx="760.5" cy="403.3" r="4.85" fill="#460B5D"/>
<circle cx="962.4" cy="550.6" r="4.85" fill="#2B748E"/>
<circle cx="274.1" cy="323.7" r="4.85" fill="#375B8C"/>
<circle cx="760.6" cy="572.3" r="4.85"/>
<circle cx="501.2" cy="447.9" r="4.85"/>
<circle cx="925.4" cy="383.8" r="4.85" fill="#2E6E8E"/>
<circle cx="959.4" cy="143.9" r="4.85"/>
<circle cx="758.8" cy="234.2" r="4.85"/>
<circle cx="201.4" cy="276.1" r="4.85" fill="#472D7B"/>
<circle cx="555.4" cy="502.2" r="4.85" fill="#460B5D"/>
<circle cx="654.1" cy="569.8" r="4.85"/>
<circle cx="257.9" cy="368.1" r="4.85" fill="#34618D"/>
<circle cx="695.0" cy="411.1" r="4.85" fill="#460B5D"/>
<circle cx="284.1" cy="415.4" r="4.85" fill="#2CB17D"/>
<circle cx="714.1" cy="450.6" r="4.85" fill="#460B5D"/>
<circle cx="914.5" cy="117.9" r="4.85"/>
<circle cx="261.6" cy="438.2" r="4.85" fill="#433E84"/>
<circle cx="409.2" cy="237.5" r="4.85" fill="#482576"/>
<circle cx="194.2" cy="460.5" r="4.85" fill="#375B8C"/>
<circle cx="910.8" cy="518.8" r="4.85" fill="#2B748E"/>
<circle cx="689.2" cy="641.8" r="4.85"/>
<circle cx="890.8" cy="435.8" r="4.85" fill="#375B8C"/>
<circle cx="877.2" cy="398.6" r="4.85"/>
<circle cx="798.0" cy="719.1" r="4.85" fill="#34618D"/>
<circle cx="906.0" cy="581.0" r="4.85" fill="#460B5D"/>
<circle cx="635.9" cy="418.1" r="4.85"/>
<circle cx="535.7" cy="460.7" r="4.85"/>
<circle cx="216.4" cy="334.3" r="4.85"/>
<circle cx="306.0" cy="477.0" r="4.85" fill="#433E84"/>
<circle cx="969.8" cy="170.0" r="4.85"/>
<circle cx="950.1" cy="210.1" r="4.85"/>
<circle cx="916.7" cy="616.6" r="4.85" fill="#26AB81"/>
<circle cx="238.6" cy="218.0" r="4.85"/>
<circle cx="601.5" cy="580.5" r="4.85"/>
<circle cx="298.9" cy="472.2" r="4.85"/>
<circle cx="921.6" cy="279.0" r="4.85" fill="#3A548B"/>
<circle cx="246.3" cy="254.0" r="4.85" fill="#414587"/>
<circle cx="235.6" cy="328.9" r="4.85" fill="#472D7B"/>
<circle cx="730.0" cy="290.6" r="4.85"/>
<circle cx="507.7" cy="331.0" r="4.85"/>
<circle cx="957.3" cy="188.0" r="4.85"/>
<circle cx="946.2" cy="197.9" r="4.85"/>
<circle cx="218.3" cy="310.1" r="4.85" fill="#472D7B"/>
<circle cx="399.2" cy="321.4" r="4.85" fill="#460B5D"/>
<circle cx="308.8" cy="457.5" r="4.85" fill="#460B5D"/>
<circle cx="643.2" cy="537.3" r="4.85"/>
<circle cx="322.9" cy="379.5" r="4.85" fill="#FDE725"/>
<circle cx="706.3" cy="429.6" r="4.85" fill="#460B5D"/>
<circle cx="428.3" cy="464.8" r="4.85" fill="#482576"/>
<circle cx="267.8" cy="401.7" r="4.85" fill="#460B5D"/>
<circle cx="628.4" cy="492.0" r="4.85"/>
<circle cx="975.5" cy="219.6" r="4.85" fill="#460B5D"/>
<circle cx="417.2" cy="529.7" r="4.85" fill="#482576"/>
<circle cx="964.0" cy="522.3" r="4.85" fill="#DDE319"/>
<circle cx="792.8" cy="567.8" r="4.85"/>
<circle cx="304.0" cy="474.0" r="4.85" fill="#460B5D"/>
<circle cx="522.6" cy="482.3" r="4.85" fill="#27818E"/>
<circle cx="786.7" cy="415.4" r="4.85" fill="#460B5D"/>
<circle cx="662.9" cy="376.3" r="4.85" fill="#297A8E"/>
<circle cx="627.9" cy="250.0" r="4.85"/>
<circle cx="332.5" cy="223.8" r="4.85" fill="#481467"/>
<circle cx="702.1" cy="450.9" r="4.85" fill="#460B5D"/>
<circle cx="253.0" cy="270.6" r="4.85" fill="#482576"/>
<circle cx="258.8" cy="233.6" r="4.85" fill="#2B748E"/>
<circle cx="877.5" cy="225.0" r="4.85" fill="#482576"/>
<circle cx="333.0" cy="471.0" r="4.85" fill="#20938C"/>
<circle cx="224.8" cy="467.8" r="4.85"/>
<circle cx="217.4" cy="402.1" r="4.85" fill="#453680"/>
<circle cx="360.2" cy="447.3" r="4.85" fill="#460B5D"/>
<circle cx="217.6" cy="329.8" r="4.85" fill="#460B5D"/>
<circle cx="585.5" cy="370.2" r="4.85" fill="#460B5D"/>
<circle cx="522.2" cy="405.7" r="4.85"/>
<circle cx="686.6" cy="478.8" r="4.85"/>
<circle cx="782.3" cy="578.2" r="4.85" fill="#460B5D"/>
<circle cx="816.2" cy="486.0" r="4.85"/>
<circle cx="238.8" cy="363.4" r="4.85" fill="#453680"/>
<circle cx="385.9" cy="387.8" r="4.85"/>
<circle cx="648.3" cy="410.1" r="4.85" fill="#460B5D"/>
<circle cx="399.9" cy="420.3" r="4.85" fill="#460B5D"/>
<circle cx="907.0" cy="413.9" r="4.85" fill="#2E6E8E"/>
<circle cx="495.1" cy="357.5" r="4.85"/>
<circle cx="462.0" cy="297.6" r="4.85" fill="#460B5D"/>
<circle cx="752.4" cy="498.2" r="4.85"/>
<circle cx="356.5" cy="430.5" r="4.85"/>
<circle cx="415.4" cy="338.4" r="4.85" fill="#460B5D"/>
<circle cx="932.5" cy="526.1" r="4.85" fill="#460B5D"/>
<circle cx="917.4" cy="167.3" r="4.85" fill="#375B8C"/>
<circle cx="432.5" cy="472.3" r="4.85"/>
<circle cx="945.1" cy="227.8" r="4.85" fill="#460B5D"/>
<circle cx="753.1" cy="420.2" r="4.85"/>
<circle cx="872.4" cy="546.5" r="4.85" fill="#433E84"/>
<circle cx="848.7" cy="452.8" r="4.85"/>
<circle cx="341.6" cy="405.6" r="4.85" fill="#A9DB33"/>
<circle cx="299.1" cy="295.5" r="4.85" fill="#460B5D"/>
<circle cx="263.8" cy="430.6" r="4.85" fill="#460B5D"/>
<circle cx="318.2" cy="328.1" r="4.85"/>
<circle cx="869.5" cy="619.4" r="4.85" fill="#228D8C"/>
<circle cx="455.6" cy="479.0" r="4.85" fill="#460B5D"/>
<circle cx="261.4" cy="239.4" r="4.85" fill="#3D4D8A"/>
<circle cx="862.0" cy="597.4" r="4.85" fill="#297A8E"/>
<circle cx="707.7" cy="366.0" r="4.85" fill="#460B5D"/>
<circle cx="973.8" cy="526.1" r="4.85" fill="#414587"/>
<circle cx="570.8" cy="359.2" r="4.85" fill="#460B5D"/>
<circle cx="516.6" cy="382.7" r="4.85" fill="#EDE51F"/>
<circle cx="474.0" cy="326.3" r="4.85"/>
<circle cx="185.5" cy="359.9" r="4.85" fill="#453680"/>
<circle cx="758.3" cy="436.7" r="4.85" fill="#460B5D"/>
<circle cx="591.8" cy="371.4" r="4.85" fill="#460B5D"/>
<circle cx="392.7" cy="534.4" r="4.85"/>
<circle cx="327.9" cy="449.8" r="4.85" fill="#460B5D"/>
<circle cx="668.8" cy="526.5" r="4.85" fill="#3D4D8A"/>
<circle cx="658.7" cy="264.0" r="4.85" fill="#460B5D"/>
<circle cx="622.0" cy="576.0" r="4.85" fill="#460B5D"/>
<circle cx="538.6" cy="457.3" r="4.85" fill="#481467"/>
<circle cx="827.7" cy="366.3" r="4.85"/>
<circle cx="426.3" cy="351.1" r="4.85" fill="#3D4D8A"/>
<circle cx="240.3" cy="415.4" r="4.85" fill="#34618D"/>
<circle cx="343.5" cy="459.5" r="4.85"/>
<circle cx="649.8" cy="402.7" r="4.85" fill="#34618D"/>
<circle cx="323.1" cy="282.2" r="4.85" fill="#460B5D"/>
<circle cx="631.4" cy="469.9" r="4.85" fill="#67CC5C"/>
<circle cx="524.1" cy="403.5" r="4.85"/>
<circle cx="800.4" cy="406.9" r="4.85" fill="#460B5D"/>
<circle cx="308.5" cy="283.9" r="4.85" fill="#481D6E"/>
<circle cx="946.8" cy="205.0" r="4.85" fill="#2E6E8E"/>
<circle cx="269.5" cy="255.3" r="4.85" fill="#375B8C"/>
<circle cx="839.5" cy="584.2" r="4.85" fill="#87D549"/>
<circle cx="845.0" cy="571.8" r="4.85" fill="#460B5D"/>
<circle cx="162.0" cy="426.6" r="4.85" fill="#460B5D"/>
<circle cx="193.4" cy="371.0" r="4.85" fill="#375B8C"/>
<circle cx="192.8" cy="452.4" r="4.85" fill="#375B8C"/>
<circle cx="277.7" cy="340.6" r="4.85" fill="#460B5D"/>
<circle cx="558.5" cy="359.2" r="4.85" fill="#460B5D"/>
<circle cx="340.9" cy="464.8" r="4.85"/>
<circle cx="944.1" cy="249.1" r="4.85" fill="#34618D"/>
<circle cx="266.4" cy="422.1" r="4.85" fill="#3A548B"/>
<circle cx="418.9" cy="381.9" r="4.85" fill="#460B5D"/>
<circle cx="449.7" cy="347.2" r="4.85"/>
<circle cx="364.0" cy="481.0" r="4.85" fill="#34618D"/>
<circle cx="239.5" cy="354.7" r="4.85" fill="#453680"/>
<circle cx="228.2" cy="250.8" r="4.85" fill="#460B5D"/>
<circle cx="389.9" cy="287.8" r="4.85" fill="#CBE120"/>
<circle cx="370.6" cy="349.6" r="4.85" fill="#460B5D"/>
<circle cx="291.2" cy="368.6" r="4.85" fill="#460B5D"/>
<circle cx="935.2" cy="489.3" r="4.85" fill="#67CC5C"/>
<circle cx="971.0" cy="399.2" r="4.85" fill="#20938C"/>
<circle cx="936.1" cy="102.0" r="4.85" fill="#482576"/>
<circle cx="234.2" cy="325.7" r="4.85" fill="#22A585"/>
<circle cx="905.5" cy="424.5" r="4.85" fill="#2E6E8E"/>
<circle cx="986.4" cy="492.5" r="4.85" fill="#228D8C"/>
<circle cx="441.3" cy="452.8" r="4.85" fill="#460B5D"/>
<circle cx="938.7" cy="164.5" r="4.85" fill="#433E84"/>
<circle cx="196.8" cy="433.5" r="4.85"/>
<circle cx="935.2" cy="457.1" r="4.85" fill="#472D7B"/>
<circle cx="640.2" cy="474.0" r="4.85" fill="#460B5D"/>
<circle cx="551.5" cy="485.8" r="4.85"/>
<circle cx="217.0" cy="307.6" r="4.85" fill="#482576"/>
<circle cx="621.0" cy="398.2" r="4.85" fill="#460B5D"/>
<circle cx="378.4" cy="485.6" r="4.85"/>
<circle cx="946.7" cy="508.3" r="4.85" fill="#36B778"/>
<circle cx="267.3" cy="401.4" r="4.85"/>
<circle cx="224.3" cy="390.7" r="4.85" fill="#433E84"/>
<circle cx="983.2" cy="302.3" r="4.85" fill="#433E84"/>
<circle cx="874.2" cy="422.5" r="4.85" fill="#460B5D"/>
<circle cx="888.9" cy="446.2" r="4.85"/>
<circle cx="648.1" cy="486.6" r="4.85"/>
<circle cx="920.1" cy="408.6" r="4.85" fill="#36B778"/>
<circle cx="592.5" cy="311.9" r="4.85"/>
<circle cx="657.2" cy="362.0" r="4.85"/>
<circle cx="961.1" cy="629.8" r="4.85" fill="#2CB17D"/>
<circle cx="565.8" cy="389.4" r="4.85"/>
<circle cx="241.3" cy="307.2" r="4.85" fill="#460B5D"/>
<circle cx="227.0" cy="446.4" r="4.85"/>
<circle cx="969.3" cy="163.7" r="4.85" fill="#460B5D"/>
<circle cx="275.4" cy="288.4" r="4.85" fill="#3D4D8A"/>
<circle cx="419.8" cy="294.7" r="4.85"/>
<circle cx="955.4" cy="165.8" r="4.85" fill="#460B5D"/>
<circle cx="888.2" cy="458.1" r="4.85" fill="#472D7B"/>
<circle cx="766.0" cy="420.6" r="4.85"/>
<circle cx="453.3" cy="486.1" r="4.85"/>
<circle cx="877.5" cy="479.1" r="4.85"/>
<circle cx="967.2" cy="135.0" r="4.85" fill="#460B5D"/>
<circle cx="264.5" cy="336.8" r="4.85"/>
<circle cx="255.2" cy="439.2" r="4.85" fill="#34618D"/>
<circle cx="461.3" cy="342.8" r="4.85"/>
<circle cx="514.6" cy="412.7" r="4.85" fill="#4CC26C"/>
<circle cx="660.7" cy="414.7" r="4.85" fill="#460B5D"/>
<circle cx="832.0" cy="288.6" r="4.85" fill="#460B5D"/>
<circle cx="218.2" cy="417.4" r="4.85" fill="#375B8C"/>
<circle cx="426.4" cy="567.9" r="4.85" fill="#460B5D"/>
<circle cx="501.7" cy="508.8" r="4.85" fill="#481467"/>
<circle cx="250.8" cy="440.1" r="4.85" fill="#3D4D8A"/>
<circle cx="935.4" cy="387.9" r="4.85" fill="#34618D"/>
<circle cx="269.8" cy="437.4" r="4.85"/>
<circle cx="884.7" cy="418.1" r="4.85" fill="#228D8C"/>
<circle cx="498.1" cy="633.4" r="4.85" fill="#76D153"/>
<circle cx="457.0" cy="344.3" r="4.85" fill="#4CC26C"/>
<circle cx="905.3" cy="439.4" r="4.85" fill="#3D4D8A"/>
<circle cx="782.4" cy="415.9" r="4.85" fill="#87D549"/>
<circle cx="425.7" cy="325.5" r="4.85" fill="#460B5D"/>
<circle cx="600.8" cy="376.9" r="4.85" fill="#460B5D"/>
<circle cx="873.7" cy="525.0" r="4.85" fill="#22A585"/>
<circle cx="405.1" cy="468.9" r="4.85"/>
<circle cx="608.0" cy="316.8" r="4.85" fill="#98D83E"/>
<circle cx="637.1" cy="419.1" r="4.85" fill="#460B5D"/>
<circle cx="499.3" cy="353.7" r="4.85"/>
<circle cx="973.3" cy="296.3" r="4.85"/>
<circle cx="444.0" cy="368.9" r="4.85"/>
<circle cx="505.4" cy="419.6" r="4.85" fill="#460B5D"/>
<circle cx="290.8" cy="571.2" r="4.85" fill="#453680"/>
<circle cx="619.9" cy="341.0" r="4.85" fill="#26AB81"/>
<circle cx="944.7" cy="160.4" r="4.85"/>
<circle cx="235.6" cy="313.9" r="4.85" fill="#31678D"/>
<circle cx="453.5" cy="497.0" r="4.85" fill="#460B5D"/>
<circle cx="790.6" cy="421.7" r="4.85" fill="#36B778"/>
<circle cx="873.6" cy="500.2" r="4.85" fill="#460B5D"/>
<circle cx="708.3" cy="451.5" r="4.85" fill="#2B748E"/>
<circle cx="953.5" cy="343.3" r="4.85" fill="#DDE319"/>
<circle cx="311.8" cy="487.9" r="4.85" fill="#375B8C"/>
<circle cx="758.3" cy="169.2" r="4.85" fill="#76D153"/>
<circle cx="922.9" cy="108.1" r="4.85" fill="#481467"/>
<circle cx="790.8" cy="242.9" r="4.85" fill="#BADE28"/>
<circle cx="495.7" cy="412.8" r="4.85" fill="#460B5D"/>
<circle cx="744.1" cy="371.9" r="4.85"/>
<circle cx="782.7" cy="749.5" r="4.85" fill="#3A548B"/>
<circle cx="895.0" cy="608.2" r="4.85" fill="#228D8C"/>
<circle cx="547.2" cy="321.4" r="4.85"/>
<circle cx="935.0" cy="390.2" r="4.85" fill="#3D4D8A"/>
<circle cx="630.2" cy="565.6" r="4.85"/>
<circle cx="399.4" cy="502.5" r="4.85"/>
<circle cx="289.5" cy="362.5" r="4.85" fill="#460B5D"/>
<circle cx="580.1" cy="410.4" r="4.85"/>
<circle cx="518.4" cy="329.8" r="4.85" fill="#460B5D"/>
<circle cx="914.4" cy="228.1" r="4.85"/>
<circle cx="614.1" cy="278.7" r="4.85"/>
<circle cx="316.4" cy="339.0" r="4.85" fill="#460B5D"/>
<circle cx="343.2" cy="435.8" r="4.85" fill="#460B5D"/>
<circle cx="839.2" cy="621.9" r="4.85" fill="#460B5D"/>
<circle cx="932.7" cy="472.1" r="4.85" fill="#2B748E"/>
<circle cx="502.5" cy="382.4" r="4.85" fill="#460B5D"/>
<circle cx="949.6" cy="261.6" r="4.85" fill="#460B5D"/>
<circle cx="792.1" cy="544.0" r="4.85" fill="#460B5D"/>
<circle cx="251.9" cy="307.3" r="4.85" fill="#453680"/>
<circle cx="424.4" cy="497.8" r="4.85" fill="#460B5D"/>
<circle cx="228.8" cy="285.0" r="4.85"/>
<circle cx="527.7" cy="508.2" r="4.85" fill="#460B5D"/>
<circle cx="512.5" cy="393.8" r="4.85" fill="#460B5D"/>
<circle cx="888.3" cy="530.4" r="4.85" fill="#460B5D"/>
<circle cx="266.3" cy="284.6" r="4.85"/>
<circle cx="583.8" cy="466.2" r="4.85"/>
<circle cx="650.0" cy="301.0" r="4.85" fill="#460B5D"/>
<circle cx="542.0" cy="447.3" r="4.85"/>
<circle cx="566.1" cy="411.5" r="4.85"/>
<circle cx="934.8" cy="592.2" r="4.85" fill="#460B5D"/>
<circle cx="845.1" cy="433.8" r="4.85" fill="#36B778"/>
<circle cx="323.0" cy="372.6" r="4.85" fill="#3D4D8A"/>
<circle cx="710.8" cy="479.9" r="4.85" fill="#460B5D"/>
<circle cx="214.3" cy="432.6" r="4.85" fill="#472D7B"/>
<circle cx="941.5" cy="235.1" r="4.85" fill="#481467"/>
<circle cx="967.5" cy="160.4" r="4.85"/>
<circle cx="609.5" cy="326.7" r="4.85" fill="#297A8E"/>
<circle cx="714.3" cy="605.8" r="4.85" fill="#460B5D"/>
<circle cx="795.6" cy="417.7" r="4.85"/>
<circle cx="266.0" cy="338.4" r="4.85" fill="#460B5D"/>
<circle cx="365.3" cy="465.0" r="4.85" fill="#481467"/>
<circle cx="914.4" cy="584.2" r="4.85" fill="#31678D"/>
<circle cx="692.0" cy="606.3" r="4.85" fill="#460B5D"/>
<circle cx="516.3" cy="355.2" r="4.85" fill="#460B5D"/>
<circle cx="225.1" cy="393.9" r="4.85"/>
<circle cx="706.7" cy="289.6" r="4.85" fill="#460B5D"/>
<circle cx="704.5" cy="381.9" r="4.85" fill="#472D7B"/>
<circle cx="474.0" cy="460.9" r="4.85"/>
<circle cx="201.1" cy="429.7" r="4.85" fill="#375B8C"/>
<circle cx="723.2" cy="604.4" r="4.85"/>
<circle cx="304.5" cy="359.0" r="4.85" fill="#481467"/>
<circle cx="385.3" cy="392.4" r="4.85"/>
<circle cx="962.7" cy="175.8" r="4.85" fill="#3D4D8A"/>
<circle cx="238.4" cy="275.7" r="4.85" fill="#453680"/>
<circle cx="938.5" cy="687.0" r="4.85"/>
<circle cx="267.0" cy="295.0" r="4.85" fill="#481D6E"/>
<circle cx="287.8" cy="314.4" r="4.85" fill="#460B5D"/>
<circle cx="897.7" cy="340.3" r="4.85" fill="#31678D"/>
<circle cx="251.8" cy="304.8" r="4.85" fill="#31678D"/>
<circle cx="199.4" cy="323.7" r="4.85" fill="#482576"/>
<circle cx="728.2" cy="460.8" r="4.85" fill="#460B5D"/>
<circle cx="444.7" cy="395.2" r="4.85" fill="#460B5D"/>
<circle cx="931.7" cy="549.4" r="4.85" fill="#2CB17D"/>
<circle cx="289.1" cy="387.0" r="4.85" fill="#453680"/>
<circle cx="319.1" cy="320.9" r="4.85" fill="#460B5D"/>
<circle cx="375.4" cy="468.5" r="4.85" fill="#31678D"/>
<circle cx="540.2" cy="442.3" r="4.85" fill="#481467"/>
<circle cx="349.4" cy="533.3" r="4.85" fill="#460B5D"/>
<circle cx="159.8" cy="401.1" r="4.85" fill="#3D4D8A"/>
<circle cx="824.1" cy="491.0" r="4.85" fill="#36B778"/>
<circle cx="903.0" cy="244.5" r="4.85" fill="#460B5D"/>
<circle cx="281.7" cy="415.3" r="4.85"/>
<circle cx="232.5" cy="279.0" r="4.85" fill="#34618D"/>
<circle cx="685.8" cy="206.2" r="4.85"/>
<circle cx="321.1" cy="409.2" r="4.85" fill="#2E6E8E"/>
<circle cx="890.2" cy="118.3" r="4.85"/>
<circle cx="478.3" cy="442.3" r="4.85"/>
<circle cx="421.4" cy="564.9" r="4.85" fill="#460B5D"/>
<circle cx="461.8" cy="508.8" r="4.85" fill="#481467"/>
<circle cx="231.3" cy="301.0" r="4.85"/>
<circle cx="381.0" cy="365.4" r="4.85"/>
<circle cx="803.1" cy="400.7" r="4.85"/>
<circle cx="891.0" cy="235.3" r="4.85" fill="#460B5D"/>
<circle cx="899.6" cy="185.0" r="4.85" fill="#460B5D"/>
<circle cx="909.0" cy="239.6" r="4.85" fill="#460B5D"/>
<circle cx="288.5" cy="290.0" r="4.85" fill="#3A548B"/>
<circle cx="665.3" cy="442.1" r="4.85"/>
<circle cx="945.4" cy="194.0" r="4.85" fill="#460B5D"/>
<circle cx="835.7" cy="621.3" r="4.85" fill="#BADE28"/>
<circle cx="160.2" cy="425.6" r="4.85" fill="#460B5D"/>
<circle cx="412.4" cy="490.7" r="4.85"/>
<circle cx="901.4" cy="118.1" r="4.85" fill="#460B5D"/>
<circle cx="180.2" cy="391.4" r="4.85" fill="#460B5D"/>
<circle cx="248.0" cy="267.9" r="4.85" fill="#481467"/>
<circle cx="494.1" cy="338.5" r="4.85"/>
<circle cx="553.7" cy="449.7" r="4.85"/>
<circle cx="551.7" cy="365.0" r="4.85" fill="#433E84"/>
<circle cx="773.2" cy="473.0" r="4.85" fill="#481D6E"/>
<circle cx="467.3" cy="439.7" r="4.85" fill="#297A8E"/>
<circle cx="315.5" cy="440.7" r="4.85" fill="#34618D"/>
<circle cx="523.6" cy="436.2" r="4.85" fill="#481467"/>
<circle cx="299.1" cy="398.0" r="4.85"/>
<circle cx="943.3" cy="201.7" r="4.85" fill="#460B5D"/>
<circle cx="317.0" cy="232.1" r="4.85"/>
<circle cx="254.9" cy="296.1" r="4.85"/>
<circle cx="629.8" cy="466.3" r="4.85"/>
<circle cx="253.7" cy="350.4" r="4.85" fill="#1F998A"/>
<circle cx="671.4" cy="433.4" r="4.85" fill="#460B5D"/>
<circle cx="753.3" cy="479.8" r="4.85" fill="#209F88"/>
<circle cx="218.2" cy="346.5" r="4.85" fill="#460B5D"/>
<circle cx="936.4" cy="283.2" r="4.85" fill="#460B5D"/>
<circle cx="268.1" cy="300.1" r="4.85" fill="#34618D"/>
<circle cx="239.6" cy="379.9" r="4.85" fill="#460B5D"/>
<circle cx="225.0" cy="283.0" r="4.85" fill="#460B5D"/>
<circle cx="697.7" cy="448.0" r="4.85"/>
<circle cx="408.7" cy="379.1" r="4.85" fill="#460B5D"/>
<circle cx="650.3" cy="680.0" r="4.85"/>
<circle cx="790.3" cy="515.8" r="4.85"/>
<circle cx="826.3" cy="311.9" r="4.85" fill="#460B5D"/>
<circle cx="295.5" cy="472.5" r="4.85"/>
<circle cx="216.2" cy="301.2" r="4.85" fill="#3A548B"/>
<circle cx="449.3" cy="404.1" r="4.85" fill="#460B5D"/>
<circle cx="963.9" cy="129.4" r="4.85" fill="#460B5D"/>
<circle cx="782.0" cy="521.0" r="4.85"/>
<circle cx="220.1" cy="191.9" r="4.85" fill="#472D7B"/>
<circle cx="721.0" cy="259.5" r="4.85"/>
<circle cx="345.3" cy="454.2" r="4.85" fill="#3D4D8A"/>
<circle cx="209.5" cy="240.4" r="4.85" fill="#87D549"/>
<circle cx="656.5" cy="307.1" r="4.85" fill="#460B5D"/>
<circle cx="812.8" cy="325.8" r="4.85"/>
<circle cx="975.5" cy="372.1" r="4.85" fill="#24878D"/>
<circle cx="602.1" cy="334.7" r="4.85"/>
<circle cx="247.3" cy="449.6" r="4.85" fill="#453680"/>
<circle cx="924.3" cy="527.7" r="4.85" fill="#2B748E"/>
<circle cx="940.2" cy="302.5" r="4.85" fill="#460B5D"/>
<circle cx="249.2" cy="522.3" r="4.85" fill="#2E6E8E"/>
<circle cx="814.9" cy="388.3" r="4.85" fill="#460B5D"/>
<circle cx="280.4" cy="303.0" r="4.85" fill="#3D4D8A"/>
<circle cx="379.0" cy="433.5" r="4.85"/>
<circle cx="764.1" cy="339.2" r="4.85"/>
<circle cx="565.1" cy="454.3" r="4.85"/>
<circle cx="825.9" cy="546.1" r="4.85"/>
<circle cx="988.2" cy="143.7" r="4.85" fill="#460B5D"/>
<circle cx="162.7" cy="471.3" r="4.85" fill="#481D6E"/>
<circle cx="504.9" cy="454.8" r="4.85"/>
<circle cx="390.5" cy="383.3" r="4.85" fill="#460B5D"/>
<circle cx="958.8" cy="180.8" r="4.85"/>
<circle cx="959.0" cy="234.4" r="4.85" fill="#460B5D"/>
<circle cx="923.6" cy="413.1" r="4.85"/>
<circle cx="923.7" cy="204.5" r="4.85"/>
<circle cx="769.9" cy="466.0" r="4.85" fill="#460B5D"/>
<circle cx="970.4" cy="143.8" r="4.85"/>
<circle cx="396.7" cy="284.8" r="4.85"/>
<circle cx="258.3" cy="386.7" r="4.85" fill="#3A548B"/>
<circle cx="916.7" cy="99.8" r="4.85" fill="#460B5D"/>
<circle cx="669.9" cy="404.8" r="4.85"/>
<circle cx="892.7" cy="188.9" r="4.85" fill="#460B5D"/>
<circle cx="844.0" cy="429.6" r="4.85" fill="#BADE28"/>
<circle cx="303.9" cy="411.8" r="4.85" fill="#460B5D"/>
<circle cx="741.1" cy="582.0" r="4.85" fill="#3A548B"/>
<circle cx="219.5" cy="458.9" r="4.85" fill="#472D7B"/>
<circle cx="890.6" cy="466.0" r="4.85" fill="#26AB81"/>
<circle cx="373.7" cy="410.4" r="4.85" fill="#460B5D"/>
<circle cx="932.7" cy="188.4" r="4.85"/>
<circle cx="979.2" cy="240.4" r="4.85"/>
<circle cx="737.3" cy="719.3" r="4.85"/>
<circle cx="400.2" cy="419.5" r="4.85"/>
<circle cx="197.7" cy="294.3" r="4.85" fill="#472D7B"/>
<circle cx="848.3" cy="580.5" r="4.85" fill="#460B5D"/>
<circle cx="251.4" cy="272.2" r="4.85"/>
<circle cx="684.5" cy="484.8" r="4.85"/>
<circle cx="274.2" cy="305.7" r="4.85" fill="#433E84"/>
<circle cx="581.9" cy="398.5" r="4.85" fill="#460B5D"/>
<circle cx="246.0" cy="314.5" r="4.85" fill="#460B5D"/>
<circle cx="452.4" cy="373.8" r="4.85" fill="#460B5D"/>
<circle cx="493.9" cy="357.1" r="4.85" fill="#481D6E"/>
<circle cx="729.4" cy="396.7" r="4.85"/>
<circle cx="414.7" cy="394.9" r="4.85"/>
<circle cx="223.6" cy="279.3" r="4.85" fill="#3A548B"/>
<circle cx="313.2" cy="515.3" r="4.85" fill="#460B5D"/>
<circle cx="356.3" cy="374.6" r="4.85" fill="#460B5D"/>
<circle cx="730.9" cy="515.9" r="4.85" fill="#228D8C"/>
<circle cx="786.0" cy="422.0" r="4.85" fill="#460B5D"/>
<circle cx="699.9" cy="447.1" r="4.85"/>
<circle cx="208.0" cy="410.5" r="4.85" fill="#453680"/>
<circle cx="750.3" cy="724.1" r="4.85" fill="#472D7B"/>
<circle cx="791.2" cy="286.3" r="4.85" fill="#460B5D"/>
<circle cx="881.2" cy="457.7" r="4.85" fill="#460B5D"/>
<circle cx="747.0" cy="265.0" r="4.85"/>
<circle cx="932.2" cy="183.8" r="4.85" fill="#433E84"/>
<circle cx="316.6" cy="469.7" r="4.85" fill="#460B5D"/>
<circle cx="937.6" cy="519.0" r="4.85" fill="#34618D"/>
<circle cx="433.6" cy="355.5" r="4.85"/>
<circle cx="974.6" cy="311.5" r="4.85"/>
<circle cx="500.4" cy="411.7" r="4.85"/>
<circle cx="255.6" cy="380.7" r="4.85"/>
<circle cx="992.0" cy="168.0" r="4.85"/>
<circle cx="445.4" cy="397.7" r="4.85"/>
<circle cx="926.8" cy="550.4" r="4.85" fill="#433E84"/>
<circle cx="218.1" cy="347.8" r="4.85" fill="#34618D"/>
<circle cx="883.0" cy="495.8" r="4.85" fill="#3A548B"/>
<circle cx="223.6" cy="388.3" r="4.85"/>
<circle cx="432.6" cy="477.1" r="4.85"/>
<circle cx="285.1" cy="426.5" r="4.85"/>
<circle cx="237.9" cy="277.4" r="4.85"/>
<circle cx="826.0" cy="561.6" r="4.85"/>
<circle cx="361.7" cy="434.2" r="4.85" fill="#27818E"/>
<circle cx="952.1" cy="543.1" r="4.85" fill="#4CC26C"/>
<circle cx="739.1" cy="587.3" r="4.85"/>
<circle cx="894.8" cy="347.3" r="4.85" fill="#2B748E"/>
<circle cx="214.7" cy="400.1" r="4.85" fill="#472D7B"/>
<circle cx="951.0" cy="171.2" r="4.85" fill="#2CB17D"/>
<circle cx="825.6" cy="471.6" r="4.85"/>
<circle cx="866.8" cy="653.7" r="4.85"/>
<circle cx="667.3" cy="537.9" r="4.85" fill="#460B5D"/>
<circle cx="162.0" cy="315.0" r="4.85"/>
<circle cx="887.4" cy="642.7" r="4.85"/>
<circle cx="653.8" cy="426.2" r="4.85" fill="#460B5D"/>
<circle cx="793.3" cy="426.8" r="4.85"/>
<circle cx="388.2" cy="446.9" r="4.85"/>
<circle cx="212.6" cy="491.8" r="4.85" fill="#375B8C"/>
<circle cx="412.4" cy="286.7" r="4.85" fill="#460B5D"/>
<circle cx="981.2" cy="346.7" r="4.85" fill="#472D7B"/>
<circle cx="198.5" cy="431.9" r="4.85" fill="#31678D"/>
<circle cx="928.1" cy="239.1" r="4.85"/>
<circle cx="215.4" cy="463.8" r="4.85" fill="#481D6E"/>
<circle cx="515.3" cy="375.4" r="4.85"/>
<circle cx="556.3" cy="346.3" r="4.85" fill="#460B5D"/>
<circle cx="536.7" cy="473.8" r="4.85" fill="#460B5D"/>
<circle cx="188.6" cy="463.6" r="4.85" fill="#3A548B"/>
<circle cx="409.1" cy="424.3" r="4.85" fill="#228D8C"/>
<circle cx="768.0" cy="372.4" r="4.85"/>
<circle cx="247.4" cy="515.8" r="4.85" fill="#460B5D"/>
<circle cx="183.9" cy="409.5" r="4.85" fill="#460B5D"/>
<circle cx="236.2" cy="351.9" r="4.85"/>
<circle cx="258.0" cy="338.2" r="4.85" fill="#375B8C"/>
<circle cx="980.7" cy="251.4" r="4.85"/>
<circle cx="595.8" cy="407.2" r="4.85" fill="#481467"/>
<circle cx="743.9" cy="745.6" r="4.85"/>
<circle cx="901.8" cy="644.1" r="4.85" fill="#34618D"/>
<circle cx="941.2" cy="600.8" r="4.85" fill="#76D153"/>
<circle cx="906.8" cy="478.7" r="4.85" fill="#31678D"/>
<circle cx="261.2" cy="318.9" r="4.85" fill="#375B8C"/>
<circle cx="692.7" cy="317.6" r="4.85" fill="#460B5D"/>
<circle cx="705.0" cy="447.9" r="4.85" fill="#460B5D"/>
<circle cx="826.6" cy="395.0" r="4.85" fill="#3D4D8A"/>
<circle cx="299.3" cy="221.9" r="4.85" fill="#460B5D"/>
<circle cx="546.2" cy="373.1" r="4.85" fill="#27818E"/>
<circle cx="940.0" cy="234.7" r="4.85" fill="#460B5D"/>
<circle cx="569.3" cy="457.3" r="4.85" fill="#31678D"/>
<circle cx="387.5" cy="204.2" r="4.85"/>
<circle cx="932.7" cy="397.8" r="4.85" fill="#460B5D"/>
<circle cx="950.9" cy="239.4" r="4.85" fill="#481467"/>
<circle cx="814.0" cy="414.0" r="4.85" fill="#375B8C"/>
<circle cx="979.6" cy="133.2" r="4.85" fill="#460B5D"/>
<circle cx="952.2" cy="238.1" r="4.85" fill="#460B5D"/>
<circle cx="968.6" cy="309.5" r="4.85" fill="#460B5D"/>
<circle cx="325.4" cy="403.3" r="4.85" fill="#460B5D"/>
<circle cx="325.8" cy="502.3" r="4.85"/>
<circle cx="918.3" cy="460.9" r="4.85" fill="#414587"/>
<circle cx="205.9" cy="387.3" r="4.85" fill="#433E84"/>
<circle cx="225.6" cy="350.2" r="4.85" fill="#34618D"/>
<circle cx="845.0" cy="544.9" r="4.85" fill="#481467"/>
<circle cx="823.6" cy="412.7" r="4.85"/>
<circle cx="976.6" cy="248.5" r="4.85"/>
<circle cx="494.8" cy="466.9" r="4.85" fill="#414587"/>
<circle cx="468.9" cy="409.4" r="4.85" fill="#460B5D"/>
<circle cx="851.6" cy="426.0" r="4.85" fill="#460B5D"/>
<circle cx="908.2" cy="432.1" r="4.85" fill="#433E84"/>
<circle cx="323.0" cy="481.4" r="4.85" fill="#20938C"/>
<circle cx="907.3" cy="508.5" r="4.85" fill="#2E6E8E"/>
<circle cx="540.1" cy="318.5" r="4.85" fill="#460B5D"/>
<circle cx="769.2" cy="460.4" r="4.85" fill="#460B5D"/>
<circle cx="278.2" cy="449.1" r="4.85" fill="#414587"/>
<circle cx="465.0" cy="399.4" r="4.85"/>
<circle cx="651.8" cy="449.3" r="4.85" fill="#460B5D"/>
<circle cx="290.8" cy="367.5" r="4.85" fill="#460B5D"/>
<circle cx="956.0" cy="444.4" r="4.85" fill="#297A8E"/>
<circle cx="670.6" cy="691.6" r="4.85"/>
<circle cx="837.7" cy="284.8" r="4.85" fill="#460B5D"/>
<circle cx="746.1" cy="329.6" r="4.85"/>
<circle cx="958.1" cy="212.9" r="4.85" fill="#460B5D"/>
<circle cx="571.8" cy="351.7" r="4.85"/>
<circle cx="335.3" cy="448.0" r="4.85" fill="#460B5D"/>
<circle cx="919.8" cy="152.5" r="4.85"/>
<circle cx="972.0" cy="261.3" r="4.85"/>
<circle cx="199.3" cy="420.5" r="4.85" fill="#482576"/>
<circle cx="412.9" cy="351.5" r="4.85"/>
<circle cx="670.6" cy="466.6" r="4.85"/>
<circle cx="969.5" cy="350.9" r="4.85" fill="#31678D"/>
<circle cx="196.5" cy="344.9" r="4.85" fill="#460B5D"/>
<circle cx="251.1" cy="277.1" r="4.85" fill="#414587"/>
<circle cx="354.1" cy="404.1" r="4.85"/>
<circle cx="945.5" cy="325.4" r="4.85"/>
<circle cx="220.7" cy="432.2" r="4.85" fill="#414587"/>
<circle cx="286.7" cy="433.7" r="4.85" fill="#460B5D"/>
<circle cx="654.7" cy="390.3" r="4.85" fill="#460B5D"/>
<circle cx="696.1" cy="402.8" r="4.85" fill="#460B5D"/>
<circle cx="862.7" cy="510.6" r="4.85" fill="#31678D"/>
<circle cx="910.1" cy="434.4" r="4.85"/>
<circle cx="655.4" cy="387.1" r="4.85" fill="#375B8C"/>
<circle cx="265.1" cy="238.1" r="4.85" fill="#414587"/>
<circle cx="235.9" cy="359.9" r="4.85"/>
<circle cx="380.0" cy="336.2" r="4.85"/>
<circle cx="953.8" cy="161.8" r="4.85" fill="#460B5D"/>
<circle cx="187.6" cy="391.7" r="4.85" fill="#460B5D"/>
<circle cx="940.2" cy="253.0" r="4.85"/>
<circle cx="220.5" cy="369.5" r="4.85" fill="#482576"/>
<circle cx="343.8" cy="492.5" r="4.85" fill="#27818E"/>
<circle cx="724.4" cy="590.5" r="4.85"/>
<circle cx="339.4" cy="471.5" r="4.85" fill="#2E6E8E"/>
<circle cx="176.7" cy="326.7" r="4.85"/>
<circle cx="402.9" cy="368.8" r="4.85" fill="#460B5D"/>
<circle cx="273.5" cy="336.7" r="4.85" fill="#460B5D"/>
<circle cx="680.1" cy="293.5" r="4.85"/>
<circle cx="928.9" cy="205.1" r="4.85"/>
<circle cx="505.0" cy="376.2" r="4.85" fill="#460B5D"/>
<circle cx="574.3" cy="356.4" r="4.85" fill="#460B5D"/>
<circle cx="205.9" cy="407.2" r="4.85" fill="#375B8C"/>
<circle cx="363.7" cy="315.4" r="4.85"/>
<circle cx="333.1" cy="461.0" r="4.85" fill="#2B748E"/>
<circle cx="443.6" cy="476.7" r="4.85" fill="#460B5D"/>
<circle cx="531.9" cy="438.7" r="4.85"/>
<circle cx="192.1" cy="305.4" r="4.85" fill="#31678D"/>
<circle cx="229.8" cy="304.1" r="4.85" fill="#460B5D"/>
<circle cx="981.6" cy="144.6" r="4.85" fill="#481467"/>
<circle cx="439.5" cy="340.9" r="4.85" fill="#CBE120"/>
<circle cx="587.3" cy="359.6" r="4.85" fill="#460B5D"/>
<circle cx="954.3" cy="216.1" r="4.85"/>
<circle cx="387.3" cy="341.9" r="4.85" fill="#460B5D"/>
<circle cx="240.7" cy="393.5" r="4.85" fill="#460B5D"/>
<circle cx="871.3" cy="764.4" r="4.85" fill="#76D153"/>
<circle cx="253.0" cy="283.1" r="4.85" fill="#2CB17D"/>
<circle cx="880.4" cy="429.3" r="4.85" fill="#460B5D"/>
<circle cx="186.9" cy="347.9" r="4.85"/>
<circle cx="582.2" cy="497.6" r="4.85" fill="#460B5D"/>
<circle cx="214.8" cy="339.1" r="4.85" fill="#375B8C"/>
<circle cx="894.4" cy="627.3" r="4.85"/>
<circle cx="228.1" cy="328.6" r="4.85" fill="#460B5D"/>
<circle cx="939.7" cy="306.5" r="4.85" fill="#67CC5C"/>
<circle cx="225.9" cy="349.1" r="4.85"/>
<circle cx="1010.2" cy="366.0" r="4.85" fill="#453680"/>
<circle cx="330.7" cy="491.7" r="4.85" fill="#460B5D"/>
<circle cx="655.3" cy="323.4" r="4.85" fill="#3D4D8A"/>
<circle cx="724.6" cy="369.3" r="4.85"/>
<circle cx="653.0" cy="262.9" r="4.85" fill="#460B5D"/>
<circle cx="606.7" cy="245.8" r="4.85"/>
<circle cx="575.7" cy="479.1" r="4.85" fill="#433E84"/>
<circle cx="896.2" cy="159.2" r="4.85"/>
<circle cx="570.8" cy="520.7" r="4.85" fill="#460B5D"/>
<circle cx="978.6" cy="132.0" r="4.85" fill="#460B5D"/>
<circle cx="950.3" cy="162.5" r="4.85"/>
<circle cx="250.0" cy="266.0" r="4.85" fill="#460B5D"/>
<circle cx="666.7" cy="244.6" r="4.85" fill="#DDE319"/>
<circle cx="450.0" cy="349.1" r="4.85"/>
<circle cx="928.9" cy="208.7" r="4.85" fill="#460B5D"/>
<circle cx="479.8" cy="553.9" r="4.85"/>
<circle cx="963.5" cy="382.4" r="4.85" fill="#297A8E"/>
<circle cx="858.8" cy="436.9" r="4.85" fill="#460B5D"/>
<circle cx="248.4" cy="332.0" r="4.85" fill="#482576"/>
<circle cx="754.9" cy="439.2" r="4.85"/>
<circle cx="676.6" cy="386.3" r="4.85"/>
<circle cx="216.6" cy="357.6" r="4.85"/>
<circle cx="272.7" cy="357.9" r="4.85"/>
<circle cx="276.0" cy="442.7" r="4.85" fill="#472D7B"/>
<circle cx="233.0" cy="300.2" r="4.85" fill="#375B8C"/>
<circle cx="306.1" cy="417.3" r="4.85" fill="#482576"/>
<circle cx="795.0" cy="603.4" r="4.85" fill="#375B8C"/>
<circle cx="839.5" cy="383.7" r="4.85"/>
<circle cx="267.8" cy="317.0" r="4.85" fill="#460B5D"/>
<circle cx="236.7" cy="343.7" r="4.85" fill="#3D4D8A"/>
<circle cx="471.1" cy="445.3" r="4.85"/>
<circle cx="250.6" cy="341.5" r="4.85"/>
<circle cx="585.4" cy="371.3" r="4.85"/>
<circle cx="970.5" cy="431.4" r="4.85" fill="#3D4D8A"/>
<circle cx="235.5" cy="452.0" r="4.85" fill="#481D6E"/>
<circle cx="350.0" cy="406.4" r="4.85"/>
<circle cx="265.3" cy="335.9" r="4.85"/>
<circle cx="552.7" cy="450.1" r="4.85"/>
<circle cx="378.9" cy="405.0" r="4.85" fill="#460B5D"/>
<circle cx="663.3" cy="446.5" r="4.85" fill="#481467"/>
<circle cx="500.8" cy="298.0" r="4.85" fill="#460B5D"/>
<circle cx="241.1" cy="309.4" r="4.85"/>
<circle cx="939.4" cy="367.7" r="4.85" fill="#1F998A"/>
<circle cx="496.1" cy="445.0" r="4.85"/>
<circle cx="288.1" cy="484.1" r="4.85"/>
<circle cx="761.0" cy="356.0" r="4.85"/>
<circle cx="719.2" cy="174.2" r="4.85" fill="#2CB17D"/>
<circle cx="421.0" cy="498.1" r="4.85" fill="#460B5D"/>
<circle cx="699.3" cy="538.6" r="4.85" fill="#460B5D"/>
<circle cx="848.6" cy="548.7" r="4.85"/>
<circle cx="833.4" cy="600.1" r="4.85" fill="#460B5D"/>
<circle cx="555.8" cy="242.5" r="4.85" fill="#BADE28"/>
<circle cx="262.6" cy="390.8" r="4.85"/>
<circle cx="965.5" cy="272.7" r="4.85"/>
<circle cx="208.8" cy="486.1" r="4.85" fill="#34618D"/>
<circle cx="959.7" cy="431.5" r="4.85"/>
<circle cx="218.7" cy="472.2" r="4.85" fill="#433E84"/>
<circle cx="375.8" cy="503.2" r="4.85"/>
<circle cx="239.2" cy="402.5" r="4.85"/>
<circle cx="321.5" cy="335.8" r="4.85"/>
<circle cx="834.2" cy="536.7" r="4.85" fill="#460B5D"/>
<circle cx="890.0" cy="467.0" r="4.85" fill="#2B748E"/>
<circle cx="594.3" cy="579.5" r="4.85"/>
<circle cx="638.9" cy="405.8" r="4.85" fill="#433E84"/>
<circle cx="339.4" cy="394.8" r="4.85" fill="#460B5D"/>
<circle cx="518.7" cy="337.5" r="4.85"/>
<circle cx="486.9" cy="660.9" r="4.85"/>
<circle cx="830.7" cy="381.7" r="4.85"/>
<circle cx="630.9" cy="581.8" r="4.85" fill="#460B5D"/>
<circle cx="728.2" cy="408.7" r="4.85" fill="#460B5D"/>
<circle cx="294.3" cy="423.6" r="4.85" fill="#31678D"/>
<circle cx="973.8" cy="225.3" r="4.85" fill="#460B5D"/>
<circle cx="226.2" cy="426.1" r="4.85" fill="#414587"/>
<circle cx="880.3" cy="507.8" r="4.85" fill="#297A8E"/>
<circle cx="905.4" cy="452.7" r="4.85" fill="#DDE319"/>
<circle cx="827.4" cy="456.5" r="4.85" fill="#453680"/>
<circle cx="669.7" cy="469.3" r="4.85" fill="#BADE28"/>
<circle cx="522.8" cy="408.9" r="4.85" fill="#460B5D"/>
<circle cx="218.9" cy="377.3" r="4.85" fill="#482576"/>
<circle cx="248.4" cy="374.7" r="4.85" fill="#375B8C"/>
<circle cx="958.4" cy="442.8" r="4.85" fill="#2CB17D"/>
<circle cx="945.4" cy="190.9" r="4.85"/>
<circle cx="247.8" cy="398.5" r="4.85" fill="#460B5D"/>
<circle cx="865.0" cy="622.3" r="4.85" fill="#228D8C"/>
<circle cx="896.7" cy="345.5" r="4.85"/>
<circle cx="796.2" cy="317.8" r="4.85"/>
<circle cx="238.5" cy="346.9" r="4.85" fill="#DDE319"/>
<circle cx="733.2" cy="374.8" r="4.85"/>
<circle cx="937.6" cy="508.6" r="4.85" fill="#209F88"/>
<circle cx="256.9" cy="325.8" r="4.85" fill="#460B5D"/>
<circle cx="423.9" cy="383.4" r="4.85"/>
<circle cx="367.3" cy="349.3" r="4.85" fill="#59C765"/>
<circle cx="221.9" cy="291.9" r="4.85"/>
<circle cx="857.8" cy="449.8" r="4.85" fill="#453680"/>
<circle cx="232.9" cy="470.5" r="4.85" fill="#34618D"/>
<circle cx="949.4" cy="224.2" r="4.85" fill="#460B5D"/>
<circle cx="481.2" cy="453.9" r="4.85"/>
<circle cx="194.7" cy="410.7" r="4.85" fill="#3A548B"/>
<circle cx="826.5" cy="393.1" r="4.85"/>
<circle cx="411.3" cy="269.9" r="4.85" fill="#460B5D"/>
<circle cx="268.9" cy="281.5" r="4.85" fill="#414587"/>
<circle cx="609.4" cy="463.8" r="4.85"/>
<circle cx="672.8" cy="320.4" r="4.85" fill="#460B5D"/>
<circle cx="940.4" cy="220.8" r="4.85"/>
<circle cx="204.3" cy="333.3" r="4.85" fill="#433E84"/>
<circle cx="251.9" cy="372.8" r="4.85" fill="#414587"/>
<circle cx="310.4" cy="444.0" r="4.85" fill="#433E84"/>
<circle cx="627.6" cy="424.4" r="4.85" fill="#414587"/>
<circle cx="455.8" cy="396.7" r="4.85"/>
<circle cx="875.1" cy="582.6" r="4.85" fill="#481467"/>
<circle cx="677.1" cy="564.8" r="4.85" fill="#3D4D8A"/>
<circle cx="321.4" cy="472.2" r="4.85" fill="#460B5D"/>
<circle cx="954.3" cy="218.5" r="4.85" fill="#460B5D"/>
<circle cx="223.9" cy="360.2" r="4.85" fill="#34618D"/>
<circle cx="670.0" cy="202.1" r="4.85" fill="#59C765"/>
<circle cx="829.7" cy="580.6" r="4.85"/>
<circle cx="353.2" cy="343.4" r="4.85" fill="#481467"/>
<circle cx="1001.9" cy="502.0" r="4.85"/>
<circle cx="510.2" cy="427.0" r="4.85"/>
<circle cx="723.6" cy="551.6" r="4.85" fill="#40BD73"/>
<circle cx="162.4" cy="410.7" r="4.85" fill="#4CC26C"/>
<circle cx="290.6" cy="476.3" r="4.85" fill="#24878D"/>
<circle cx="232.0" cy="256.3" r="4.85" fill="#3D4D8A"/>
<circle cx="771.6" cy="512.4" r="4.85"/>
<circle cx="233.6" cy="330.0" r="4.85" fill="#482576"/>
<circle cx="609.5" cy="458.6" r="4.85"/>
<circle cx="675.2" cy="494.0" r="4.85" fill="#460B5D"/>
<circle cx="990.6" cy="174.0" r="4.85" fill="#433E84"/>
<circle cx="679.5" cy="381.4" r="4.85" fill="#414587"/>
<circle cx="859.9" cy="572.6" r="4.85" fill="#22A585"/>
<circle cx="577.5" cy="491.9" r="4.85" fill="#460B5D"/>
<circle cx="315.5" cy="499.1" r="4.85" fill="#460B5D"/>
<circle cx="681.0" cy="480.0" r="4.85"/>
<circle cx="522.9" cy="279.5" r="4.85"/>
<circle cx="246.7" cy="445.6" r="4.85" fill="#433E84"/>
<circle cx="261.9" cy="404.3" r="4.85" fill="#414587"/>
<circle cx="979.2" cy="130.1" r="4.85" fill="#460B5D"/>
<circle cx="807.5" cy="466.1" r="4.85"/>
<circle cx="351.0" cy="345.1" r="4.85" fill="#460B5D"/>
<circle cx="908.3" cy="250.4" r="4.85" fill="#481467"/>
<circle cx="934.6" cy="256.8" r="4.85"/>
<circle cx="660.2" cy="426.7" r="4.85" fill="#22A585"/>
<circle cx="557.7" cy="361.8" r="4.85" fill="#460B5D"/>
<circle cx="296.2" cy="438.2" r="4.85" fill="#34618D"/>
<circle cx="221.3" cy="392.2" r="4.85"/>
<circle cx="414.3" cy="335.7" r="4.85" fill="#460B5D"/>
<circle cx="811.8" cy="334.7" r="4.85"/>
<circle cx="762.3" cy="372.5" r="4.85" fill="#481467"/>
<circle cx="923.2" cy="537.9" r="4.85"/>
<circle cx="269.4" cy="387.9" r="4.85"/>
<circle cx="221.4" cy="417.2" r="4.85" fill="#460B5D"/>
<circle cx="782.4" cy="646.9" r="4.85" fill="#24878D"/>
<circle cx="231.7" cy="351.7" r="4.85"/>
<circle cx="615.3" cy="301.9" r="4.85" fill="#460B5D"/>
<circle cx="486.3" cy="326.0" r="4.85"/>
<circle cx="302.5" cy="349.0" r="4.85"/>
<circle cx="686.2" cy="427.8" r="4.85"/>
<circle cx="836.7" cy="200.0" r="4.85" fill="#481467"/>
<circle cx="780.4" cy="701.4" r="4.85"/>
<circle cx="343.6" cy="429.5" r="4.85"/>
<circle cx="792.8" cy="360.5" r="4.85"/>
<circle cx="894.9" cy="408.3" r="4.85" fill="#27818E"/>
<circle cx="354.1" cy="317.5" r="4.85"/>
<circle cx="963.5" cy="604.9" r="4.85" fill="#24878D"/>
<circle cx="197.7" cy="500.5" r="4.85" fill="#472D7B"/>
<circle cx="916.6" cy="135.0" r="4.85"/>
<circle cx="440.2" cy="459.9" r="4.85" fill="#460B5D"/>
<circle cx="930.9" cy="470.7" r="4.85" fill="#209F88"/>
<circle cx="450.7" cy="446.5" r="4.85" fill="#481467"/>
<circle cx="279.0" cy="460.9" r="4.85"/>
<circle cx="245.6" cy="483.9" r="4.85" fill="#433E84"/>
<circle cx="262.6" cy="431.6" r="4.85" fill="#3A548B"/>
<circle cx="900.4" cy="660.2" r="4.85" fill="#482576"/>
<circle cx="275.0" cy="305.6" r="4.85" fill="#460B5D"/>
<circle cx="969.8" cy="375.8" r="4.85" fill="#460B5D"/>
<circle cx="342.2" cy="364.2" r="4.85"/>
<circle cx="945.6" cy="426.9" r="4.85"/>
<circle cx="881.5" cy="594.5" r="4.85" fill="#20938C"/>
<circle cx="919.7" cy="305.4" r="4.85" fill="#34618D"/>
<circle cx="445.4" cy="336.8" r="4.85" fill="#460B5D"/>
<circle cx="899.7" cy="454.9" r="4.85" fill="#4CC26C"/>
<circle cx="719.0" cy="841.2" r="4.85"/>
<circle cx="814.2" cy="497.9" r="4.85"/>
<circle cx="552.7" cy="427.5" r="4.85"/>
<circle cx="738.8" cy="464.8" r="4.85"/>
<circle cx="197.3" cy="384.5" r="4.85" fill="#460B5D"/>
<circle cx="960.1" cy="607.4" r="4.85"/>
<circle cx="798.7" cy="596.6" r="4.85" fill="#24878D"/>
<circle cx="254.7" cy="297.4" r="4.85" fill="#460B5D"/>
<circle cx="559.8" cy="400.2" r="4.85"/>
<circle cx="326.0" cy="372.7" r="4.85"/>
<circle cx="717.7" cy="351.9" r="4.85"/>
<circle cx="924.2" cy="198.7" r="4.85"/>
<circle cx="945.4" cy="316.8" r="4.85" fill="#460B5D"/>
<circle cx="235.8" cy="216.0" r="4.85"/>
<circle cx="614.5" cy="461.7" r="4.85" fill="#27818E"/>
<circle cx="329.4" cy="448.9" r="4.85" fill="#460B5D"/>
<circle cx="962.3" cy="129.9" r="4.85"/>
<circle cx="920.7" cy="206.5" r="4.85" fill="#460B5D"/>
<circle cx="921.9" cy="135.6" r="4.85"/>
<circle cx="825.4" cy="212.5" r="4.85"/>
<circle cx="980.5" cy="231.2" r="4.85" fill="#460B5D"/>
<circle cx="814.4" cy="543.8" r="4.85" fill="#460B5D"/>
<circle cx="209.4" cy="405.5" r="4.85" fill="#460B5D"/>
<circle cx="871.2" cy="443.5" r="4.85"/>
<circle cx="262.2" cy="417.9" r="4.85" fill="#460B5D"/>
<circle cx="391.2" cy="349.7" r="4.85"/>
<circle cx="547.0" cy="349.6" r="4.85"/>
<circle cx="918.0" cy="246.4" r="4.85"/>
<circle cx="604.7" cy="701.2" r="4.85" fill="#24878D"/>
<circle cx="499.5" cy="367.7" r="4.85" fill="#460B5D"/>
<circle cx="405.8" cy="530.8" r="4.85" fill="#460B5D"/>
<circle cx="302.4" cy="392.5" r="4.85"/>
<circle cx="237.5" cy="339.3" r="4.85"/>
<circle cx="707.9" cy="504.2" r="4.85"/>
<circle cx="955.8" cy="217.5" r="4.85"/>
<circle cx="191.4" cy="285.7" r="4.85"/>
<circle cx="548.0" cy="394.4" r="4.85"/>
<circle cx="938.3" cy="443.4" r="4.85" fill="#460B5D"/>
<circle cx="734.5" cy="363.2" r="4.85" fill="#2E6E8E"/>
<circle cx="696.3" cy="326.8" r="4.85" fill="#460B5D"/>
<circle cx="647.5" cy="662.5" r="4.85"/>
<circle cx="862.7" cy="422.5" r="4.85" fill="#59C765"/>
<circle cx="417.6" cy="350.8" r="4.85"/>
<circle cx="208.3" cy="360.8" r="4.85" fill="#3D4D8A"/>
<circle cx="249.0" cy="412.0" r="4.85" fill="#460B5D"/>
<circle cx="260.6" cy="437.4" r="4.85" fill="#481D6E"/>
<circle cx="906.4" cy="570.2" r="4.85" fill="#2B748E"/>
<circle cx="883.2" cy="470.3" r="4.85" fill="#20938C"/>
<circle cx="872.8" cy="323.7" r="4.85" fill="#460B5D"/>
<circle cx="943.5" cy="205.7" r="4.85" fill="#460B5D"/>
<circle cx="936.9" cy="506.1" r="4.85" fill="#453680"/>
<circle cx="539.8" cy="472.9" r="4.85" fill="#481467"/>
<circle cx="873.3" cy="622.6" r="4.85" fill="#453680"/>
<circle cx="270.5" cy="407.2" r="4.85" fill="#433E84"/>
<circle cx="928.3" cy="178.4" r="4.85" fill="#414587"/>
<circle cx="806.3" cy="526.1" r="4.85"/>
<circle cx="254.9" cy="357.7" r="4.85" fill="#36B778"/>
<circle cx="317.0" cy="464.4" r="4.85"/>
<circle cx="618.5" cy="393.9" r="4.85" fill="#460B5D"/>
<circle cx="781.4" cy="525.8" r="4.85" fill="#481467"/>
<circle cx="289.3" cy="469.8" r="4.85" fill="#482576"/>
<circle cx="356.7" cy="308.9" r="4.85" fill="#460B5D"/>
<circle cx="822.6" cy="307.7" r="4.85"/>
<circle cx="669.9" cy="430.0" r="4.85"/>
<circle cx="927.8" cy="431.5" r="4.85" fill="#433E84"/>
<circle cx="327.1" cy="268.4" r="4.85"/>
<circle cx="186.1" cy="263.5" r="4.85" fill="#460B5D"/>
<circle cx="858.7" cy="552.7" r="4.85"/>
<circle cx="955.9" cy="139.3" r="4.85"/>
<circle cx="276.7" cy="340.1" r="4.85"/>
<circle cx="302.7" cy="428.5" r="4.85" fill="#460B5D"/>
<circle cx="973.0" cy="145.3" r="4.85"/>
<circle cx="947.9" cy="412.2" r="4.85" fill="#20938C"/>
<circle cx="688.8" cy="331.6" r="4.85"/>
<circle cx="954.1" cy="364.0" r="4.85" fill="#297A8E"/>
<circle cx="934.3" cy="196.3" r="4.85" fill="#460B5D"/>
<circle cx="565.5" cy="505.4" r="4.85" fill="#460B5D"/>
<circle cx="839.0" cy="430.8" r="4.85" fill="#460B5D"/>
<circle cx="227.9" cy="326.7" r="4.85"/>
<circle cx="312.3" cy="331.5" r="4.85" fill="#34618D"/>
<circle cx="280.6" cy="375.3" r="4.85" fill="#460B5D"/>
<circle cx="200.6" cy="338.9" r="4.85" fill="#453680"/>
<circle cx="455.3" cy="642.8" r="4.85" fill="#481467"/>
<circle cx="172.3" cy="429.7" r="4.85" fill="#34618D"/>
<circle cx="851.9" cy="658.8" r="4.85" fill="#1F998A"/>
<circle cx="837.1" cy="483.7" r="4.85" fill="#460B5D"/>
<circle cx="881.0" cy="468.7" r="4.85"/>
<circle cx="607.2" cy="463.7" r="4.85"/>
<circle cx="267.6" cy="270.1" r="4.85" fill="#3A548B"/>
<circle cx="302.2" cy="285.7" r="4.85" fill="#460B5D"/>
<circle cx="887.9" cy="368.2" r="4.85" fill="#460B5D"/>
<circle cx="882.6" cy="387.3" r="4.85" fill="#3D4D8A"/>
<circle cx="753.0" cy="258.6" r="4.85"/>
<circle cx="769.5" cy="378.7" r="4.85" fill="#460B5D"/>
<circle cx="289.1" cy="311.4" r="4.85" fill="#460B5D"/>
<circle cx="305.2" cy="505.1" r="4.85"/>
<circle cx="488.9" cy="586.6" r="4.85"/>
<circle cx="562.4" cy="519.8" r="4.85" fill="#460B5D"/>
<circle cx="216.7" cy="385.1" r="4.85" fill="#482576"/>
<circle cx="958.4" cy="319.5" r="4.85" fill="#3A548B"/>
<circle cx="475.4" cy="382.1" r="4.85" fill="#481467"/>
<circle cx="905.2" cy="158.5" r="4.85"/>
<circle cx="653.8" cy="715.6" r="4.85"/>
<circle cx="226.0" cy="357.5" r="4.85"/>
<circle cx="778.5" cy="653.7" r="4.85"/>
<circle cx="258.2" cy="406.1" r="4.85" fill="#472D7B"/>
<circle cx="686.6" cy="575.9" r="4.85" fill="#460B5D"/>
<circle cx="895.1" cy="282.5" r="4.85" fill="#36B778"/>
<circle cx="743.8" cy="406.6" r="4.85"/>
<circle cx="324.8" cy="459.8" r="4.85"/>
<circle cx="434.5" cy="430.9" r="4.85" fill="#460B5D"/>
<circle cx="894.8" cy="376.3" r="4.85"/>
<circle cx="207.8" cy="309.8" r="4.85" fill="#414587"/>
<circle cx="256.8" cy="366.1" r="4.85" fill="#34618D"/>
<circle cx="385.9" cy="338.3" r="4.85"/>
<circle cx="681.7" cy="533.2" r="4.85" fill="#460B5D"/>
<circle cx="397.0" cy="439.2" r="4.85" fill="#460B5D"/>
<circle cx="466.8" cy="498.7" r="4.85"/>
<circle cx="300.5" cy="392.2" r="4.85"/>
<circle cx="631.2" cy="610.9" r="4.85" fill="#34618D"/>
<circle cx="924.5" cy="346.0" r="4.85" fill="#297A8E"/>
<circle cx="787.2" cy="706.5" r="4.85"/>
<circle cx="861.7" cy="197.5" r="4.85"/>
<circle cx="808.1" cy="792.8" r="4.85" fill="#482576"/>
<circle cx="452.4" cy="432.7" r="4.85"/>
<circle cx="594.8" cy="414.2" r="4.85" fill="#36B778"/>
<circle cx="754.5" cy="735.1" r="4.85" fill="#34618D"/>
<circle cx="287.0" cy="256.2" r="4.85" fill="#67CC5C"/>
<circle cx="381.4" cy="424.6" r="4.85" fill="#460B5D"/>
<circle cx="484.5" cy="300.3" r="4.85" fill="#481467"/>
<circle cx="294.4" cy="270.2" r="4.85" fill="#460B5D"/>
<circle cx="947.1" cy="270.2" r="4.85" fill="#460B5D"/>
<circle cx="279.5" cy="305.6" r="4.85" fill="#460B5D"/>
<circle cx="652.5" cy="387.3" r="4.85" fill="#460B5D"/>
<circle cx="353.1" cy="455.1" r="4.85" fill="#460B5D"/>
<circle cx="373.2" cy="401.6" r="4.85"/>
<circle cx="428.0" cy="380.5" r="4.85" fill="#460B5D"/>
<circle cx="476.8" cy="426.3" r="4.85"/>
<circle cx="252.9" cy="235.5" r="4.85" fill="#460B5D"/>
<circle cx="897.6" cy="549.9" r="4.85" fill="#481467"/>
<circle cx="776.3" cy="537.9" r="4.85" fill="#20938C"/>
<circle cx="335.0" cy="326.4" r="4.85" fill="#460B5D"/>
<circle cx="198.8" cy="436.5" r="4.85" fill="#34618D"/>
<circle cx="895.4" cy="632.5" r="4.85" fill="#297A8E"/>
<circle cx="953.4" cy="400.7" r="4.85" fill="#460B5D"/>
<circle cx="517.5" cy="265.0" r="4.85" fill="#20938C"/>
<circle cx="182.2" cy="465.1" r="4.85" fill="#472D7B"/>
<circle cx="595.0" cy="421.5" r="4.85"/>
<circle cx="611.1" cy="338.9" r="4.85"/>
<circle cx="598.2" cy="389.2" r="4.85" fill="#26AB81"/>
<circle cx="979.0" cy="309.2" r="4.85" fill="#36B778"/>
<circle cx="616.4" cy="482.1" r="4.85"/>
<circle cx="554.8" cy="447.2" r="4.85" fill="#26AB81"/>
<circle cx="973.8" cy="266.8" r="4.85"/>
<circle cx="928.9" cy="472.0" r="4.85" fill="#20938C"/>
<circle cx="483.4" cy="448.3" r="4.85"/>
<circle cx="833.0" cy="461.2" r="4.85" fill="#460B5D"/>
<circle cx="257.5" cy="345.3" r="4.85"/>
<circle cx="538.9" cy="413.1" r="4.85" fill="#460B5D"/>
<circle cx="401.9" cy="420.4" r="4.85" fill="#460B5D"/>
<circle cx="222.1" cy="436.3" r="4.85" fill="#414587"/>
<circle cx="249.3" cy="318.8" r="4.85" fill="#472D7B"/>
<circle cx="891.9" cy="303.7" r="4.85" fill="#460B5D"/>
<circle cx="733.7" cy="388.4" r="4.85" fill="#297A8E"/>
<circle cx="788.8" cy="736.2" r="4.85" fill="#481467"/>
<circle cx="249.1" cy="362.4" r="4.85" fill="#482576"/>
<circle cx="359.7" cy="528.9" r="4.85"/>
<circle cx="185.3" cy="366.8" r="4.85"/>
<circle cx="558.4" cy="665.9" r="4.85"/>
<circle cx="801.6" cy="387.7" r="4.85" fill="#460B5D"/>
<circle cx="957.3" cy="342.0" r="4.85" fill="#460B5D"/>
<circle cx="923.9" cy="308.6" r="4.85" fill="#481467"/>
<circle cx="163.6" cy="324.6" r="4.85" fill="#481467"/>
<circle cx="973.1" cy="503.6" r="4.85" fill="#297A8E"/>
<circle cx="855.6" cy="447.6" r="4.85" fill="#3A548B"/>
<circle cx="840.0" cy="454.0" r="4.85" fill="#460B5D"/>
<circle cx="879.1" cy="446.8" r="4.85" fill="#460B5D"/>
<circle cx="986.3" cy="279.7" r="4.85"/>
<circle cx="783.7" cy="480.2" r="4.85" fill="#460B5D"/>
<circle cx="447.5" cy="414.9" r="4.85" fill="#460B5D"/>
<circle cx="214.0" cy="324.8" r="4.85"/>
<circle cx="588.1" cy="622.5" r="4.85"/>
<circle cx="203.8" cy="435.5" r="4.85" fill="#414587"/>
<circle cx="445.3" cy="468.9" r="4.85" fill="#460B5D"/>
<circle cx="896.7" cy="515.8" r="4.85" fill="#433E84"/>
<circle cx="631.3" cy="409.1" r="4.85" fill="#460B5D"/>
<circle cx="448.2" cy="288.9" r="4.85"/>
<circle cx="710.4" cy="256.1" r="4.85" fill="#460B5D"/>
<circle cx="478.7" cy="379.0" r="4.85" fill="#460B5D"/>
<circle cx="312.2" cy="486.7" r="4.85" fill="#460B5D"/>
<circle cx="938.4" cy="571.6" r="4.85"/>
<circle cx="835.3" cy="565.3" r="4.85"/>
<circle cx="219.0" cy="253.4" r="4.85" fill="#472D7B"/>
<circle cx="324.1" cy="474.1" r="4.85" fill="#460B5D"/>
<circle cx="964.0" cy="209.5" r="4.85" fill="#460B5D"/>
<circle cx="259.8" cy="429.1" r="4.85" fill="#472D7B"/>
<circle cx="558.4" cy="568.4" r="4.85"/>
<circle cx="460.6" cy="427.4" r="4.85"/>
<circle cx="455.8" cy="348.6" r="4.85"/>
<circle cx="330.1" cy="435.5" r="4.85"/>
<circle cx="616.3" cy="438.5" r="4.85" fill="#209F88"/>
<circle cx="975.9" cy="174.1" r="4.85"/>
<circle cx="948.3" cy="148.5" r="4.85" fill="#460B5D"/>
<circle cx="952.8" cy="298.1" r="4.85" fill="#2B748E"/>
<circle cx="198.7" cy="425.9" r="4.85" fill="#3A548B"/>
<circle cx="883.8" cy="619.7" r="4.85" fill="#460B5D"/>
<circle cx="489.7" cy="475.6" r="4.85"/>
<circle cx="703.1" cy="276.1" r="4.85"/>
<circle cx="243.8" cy="473.1" r="4.85" fill="#375B8C"/>
<circle cx="230.0" cy="324.8" r="4.85" fill="#460B5D"/>
<circle cx="857.6" cy="643.4" r="4.85" fill="#1F998A"/>
<circle cx="857.5" cy="547.6" r="4.85" fill="#472D7B"/>
<circle cx="653.1" cy="611.9" r="4.85" fill="#3A548B"/>
<circle cx="263.5" cy="260.0" r="4.85"/>
<circle cx="893.1" cy="395.6" r="4.85" fill="#297A8E"/>
<circle cx="302.7" cy="276.9" r="4.85"/>
<circle cx="795.7" cy="547.4" r="4.85" fill="#3A548B"/>
<circle cx="778.8" cy="475.0" r="4.85"/>
<circle cx="268.9" cy="450.5" r="4.85" fill="#34618D"/>
<circle cx="998.8" cy="249.4" r="4.85" fill="#A9DB33"/>
<circle cx="322.4" cy="352.4" r="4.85"/>
<circle cx="916.4" cy="586.9" r="4.85" fill="#20938C"/>
<circle cx="260.0" cy="480.3" r="4.85" fill="#414587"/>
<circle cx="948.0" cy="178.9" r="4.85"/>
<circle cx="215.9" cy="297.3" r="4.85" fill="#433E84"/>
<circle cx="410.1" cy="462.0" r="4.85" fill="#481467"/>
<circle cx="926.1" cy="154.1" r="4.85" fill="#460B5D"/>
<circle cx="511.6" cy="540.8" r="4.85" fill="#4CC26C"/>
<circle cx="384.0" cy="456.5" r="4.85" fill="#460B5D"/>
<circle cx="865.5" cy="419.1" r="4.85" fill="#460B5D"/>
<circle cx="880.9" cy="398.6" r="4.85" fill="#2CB17D"/>
<circle cx="906.5" cy="370.7" r="4.85" fill="#460B5D"/>
<circle cx="942.9" cy="317.7" r="4.85" fill="#460B5D"/>
<circle cx="609.8" cy="571.3" r="4.85" fill="#27818E"/>
<circle cx="444.9" cy="273.9" r="4.85" fill="#460B5D"/>
<circle cx="314.2" cy="408.5" r="4.85"/>
<circle cx="985.6" cy="327.7" r="4.85" fill="#2B748E"/>
<circle cx="252.9" cy="276.4" r="4.85" fill="#482576"/>
<circle cx="823.8" cy="482.1" r="4.85" fill="#460B5D"/>
<circle cx="192.8" cy="361.1" r="4.85" fill="#460B5D"/>
<circle cx="635.2" cy="510.2" r="4.85"/>
<circle cx="938.3" cy="445.9" r="4.85" fill="#59C765"/>
<circle cx="392.0" cy="412.6" r="4.85" fill="#460B5D"/>
<circle cx="675.2" cy="434.5" r="4.85"/>
<circle cx="285.1" cy="497.8" r="4.85" fill="#2E6E8E"/>
<circle cx="969.1" cy="518.1" r="4.85" fill="#27818E"/>
<circle cx="562.2" cy="481.0" r="4.85"/>
<circle cx="243.8" cy="327.8" r="4.85" fill="#460B5D"/>
<circle cx="452.0" cy="472.6" r="4.85"/>
<circle cx="459.9" cy="360.0" r="4.85"/>
<circle cx="996.8" cy="151.9" r="4.85"/>
<circle cx="911.3" cy="534.2" r="4.85" fill="#26AB81"/>
<circle cx="296.4" cy="389.3" r="4.85" fill="#460B5D"/>
<circle cx="801.0" cy="468.8" r="4.85"/>
<circle cx="715.9" cy="394.2" r="4.85" fill="#460B5D"/>
<circle cx="275.6" cy="360.1" r="4.85" fill="#3D4D8A"/>
<circle cx="796.1" cy="492.3" r="4.85"/>
<circle cx="909.9" cy="614.9" r="4.85"/>
<circle cx="917.1" cy="272.5" r="4.85" fill="#26AB81"/>
<circle cx="983.5" cy="350.2" r="4.85" fill="#3D4D8A"/>
<circle cx="874.9" cy="109.8" r="4.85" fill="#414587"/>
<circle cx="853.9" cy="554.2" r="4.85" fill="#76D153"/>
<circle cx="312.4" cy="304.7" r="4.85" fill="#481467"/>
<circle cx="239.2" cy="313.1" r="4.85" fill="#3D4D8A"/>
<circle cx="709.3" cy="673.9" r="4.85"/>
<circle cx="204.4" cy="334.5" r="4.85" fill="#3A548B"/>
<circle cx="650.5" cy="361.7" r="4.85" fill="#A9DB33"/>
<circle cx="508.1" cy="512.9" r="4.85"/>
<circle cx="445.4" cy="144.6" r="4.85" fill="#481467"/>
<circle cx="818.3" cy="192.5" r="4.85"/>
<circle cx="464.3" cy="324.3" r="4.85" fill="#481467"/>
<circle cx="866.3" cy="371.9" r="4.85"/>
<circle cx="505.5" cy="499.0" r="4.85" fill="#460B5D"/>
<circle cx="232.2" cy="313.9" r="4.85"/>
<circle cx="700.6" cy="434.1" r="4.85"/>
<circle cx="955.3" cy="366.7" r="4.85" fill="#2B748E"/>
<circle cx="281.1" cy="450.4" r="4.85"/>
<circle cx="949.8" cy="137.5" r="4.85" fill="#460B5D"/>
<circle cx="815.2" cy="426.5" r="4.85"/>
<circle cx="861.7" cy="241.7" r="4.85" fill="#3A548B"/>
<circle cx="529.5" cy="461.7" r="4.85"/>
<circle cx="363.0" cy="447.6" r="4.85" fill="#3A548B"/>
<circle cx="216.3" cy="387.9" r="4.85" fill="#34618D"/>
<circle cx="622.4" cy="428.9" r="4.85" fill="#460B5D"/>
<circle cx="663.1" cy="349.1" r="4.85" fill="#460B5D"/>
<circle cx="405.7" cy="484.0" r="4.85" fill="#460B5D"/>
<circle cx="705.6" cy="484.6" r="4.85"/>
<circle cx="296.2" cy="324.8" r="4.85"/>
<circle cx="905.4" cy="529.6" r="4.85" fill="#3A548B"/>
<circle cx="886.9" cy="726.8" r="4.85"/>
<circle cx="836.0" cy="258.2" r="4.85" fill="#481467"/>
<circle cx="934.8" cy="91.1" r="4.85" fill="#460B5D"/>
<circle cx="252.4" cy="375.9" r="4.85" fill="#460B5D"/>
<circle cx="199.0" cy="233.1" r="4.85"/>
<circle cx="637.6" cy="447.2" r="4.85" fill="#460B5D"/>
<circle cx="967.2" cy="203.7" r="4.85"/>
<circle cx="238.3" cy="387.6" r="4.85" fill="#31678D"/>
<circle cx="972.2" cy="249.9" r="4.85" fill="#460B5D"/>
<circle cx="940.6" cy="447.1" r="4.85" fill="#20938C"/>
<circle cx="373.1" cy="505.5" r="4.85" fill="#460B5D"/>
<circle cx="973.7" cy="164.7" r="4.85"/>
<circle cx="183.8" cy="371.4" r="4.85" fill="#460B5D"/>
<circle cx="457.8" cy="384.8" r="4.85"/>
<circle cx="685.6" cy="507.9" r="4.85"/>
<circle cx="222.6" cy="265.0" r="4.85" fill="#3A548B"/>
<circle cx="680.7" cy="406.2" r="4.85"/>
<circle cx="746.0" cy="683.1" r="4.85"/>
<circle cx="892.4" cy="311.3" r="4.85" fill="#2B748E"/>
<circle cx="376.1" cy="441.7" r="4.85"/>
<circle cx="262.7" cy="357.1" r="4.85" fill="#460B5D"/>
<circle cx="918.3" cy="360.3" r="4.85" fill="#453680"/>
<circle cx="666.2" cy="527.7" r="4.85" fill="#297A8E"/>
<circle cx="399.2" cy="449.6" r="4.85" fill="#27818E"/>
<circle cx="426.1" cy="291.6" r="4.85"/>
<circle cx="718.5" cy="610.4" r="4.85"/>
<circle cx="320.0" cy="534.8" r="4.85" fill="#34618D"/>
<circle cx="546.7" cy="495.9" r="4.85" fill="#460B5D"/>
<circle cx="564.9" cy="378.9" r="4.85" fill="#2B748E"/>
<circle cx="963.8" cy="166.6" r="4.85"/>
<circle cx="273.4" cy="302.9" r="4.85" fill="#460B5D"/>
<circle cx="198.3" cy="402.7" r="4.85" fill="#31678D"/>
<circle cx="160.3" cy="328.7" r="4.85" fill="#414587"/>
<circle cx="1044.6" cy="303.5" r="4.85"/>
<circle cx="939.7" cy="250.0" r="4.85" fill="#481467"/>
<circle cx="308.5" cy="320.8" r="4.85" fill="#36B778"/>
<circle cx="900.8" cy="508.9" r="4.85" fill="#20938C"/>
<circle cx="723.2" cy="452.0" r="4.85"/>
<circle cx="964.9" cy="276.3" r="4.85" fill="#481467"/>
<circle cx="209.2" cy="560.4" r="4.85"/>
<circle cx="874.1" cy="509.8" r="4.85" fill="#24878D"/>
<circle cx="758.2" cy="423.5" r="4.85" fill="#460B5D"/>
<circle cx="999.1" cy="556.1" r="4.85"/>
<circle cx="566.5" cy="549.4" r="4.85" fill="#472D7B"/>
<circle cx="633.3" cy="358.7" r="4.85" fill="#26AB81"/>
<circle cx="400.7" cy="366.1" r="4.85" fill="#2CB17D"/>
<circle cx="195.8" cy="485.0" r="4.85" fill="#414587"/>
<circle cx="855.9" cy="420.7" r="4.85" fill="#228D8C"/>
<circle cx="296.0" cy="594.6" r="4.85" fill="#297A8E"/>
<circle cx="198.6" cy="280.8" r="4.85"/>
<circle cx="173.8" cy="413.5" r="4.85" fill="#472D7B"/>
<circle cx="630.4" cy="256.6" r="4.85" fill="#460B5D"/>
<circle cx="986.1" cy="253.1" r="4.85"/>
<circle cx="439.5" cy="376.4" r="4.85"/>
<circle cx="276.1" cy="283.7" r="4.85"/>
<circle cx="325.3" cy="294.4" r="4.85"/>
<circle cx="749.2" cy="242.9" r="4.85"/>
<circle cx="939.5" cy="188.3" r="4.85" fill="#460B5D"/>
<circle cx="499.2" cy="403.3" r="4.85" fill="#460B5D"/>
<circle cx="653.0" cy="389.8" r="4.85" fill="#460B5D"/>
<circle cx="238.9" cy="416.1" r="4.85" fill="#460B5D"/>
<circle cx="388.3" cy="387.2" r="4.85"/>
<circle cx="745.5" cy="337.6" r="4.85" fill="#460B5D"/>
<circle cx="555.3" cy="390.8" r="4.85"/>
<circle cx="868.2" cy="434.0" r="4.85"/>
<circle cx="588.0" cy="405.2" r="4.85" fill="#460B5D"/>
<circle cx="404.2" cy="315.0" r="4.85"/>
<circle cx="559.7" cy="425.0" r="4.85" fill="#460B5D"/>
<circle cx="256.1" cy="279.7" r="4.85" fill="#375B8C"/>
<circle cx="266.6" cy="269.4" r="4.85" fill="#31678D"/>
<circle cx="503.1" cy="327.2" r="4.85" fill="#460B5D"/>
<circle cx="885.1" cy="222.8" r="4.85" fill="#460B5D"/>
<circle cx="955.5" cy="526.2" r="4.85" fill="#87D549"/>
<circle cx="621.1" cy="439.1" r="4.85"/>
<circle cx="265.7" cy="343.5" r="4.85" fill="#460B5D"/>
<circle cx="304.3" cy="459.8" r="4.85"/>
<circle cx="719.0" cy="719.5" r="4.85"/>
<circle cx="983.5" cy="525.3" r="4.85"/>
<circle cx="562.3" cy="534.0" r="4.85"/>
<circle cx="241.5" cy="351.2" r="4.85"/>
<circle cx="974.6" cy="139.6" r="4.85"/>
<circle cx="893.0" cy="314.2" r="4.85" fill="#76D153"/>
<circle cx="875.5" cy="467.9" r="4.85" fill="#460B5D"/>
<circle cx="727.1" cy="461.3" r="4.85" fill="#481467"/>
<circle cx="223.1" cy="381.0" r="4.85" fill="#472D7B"/>
<circle cx="926.1" cy="429.9" r="4.85" fill="#453680"/>
<circle cx="856.1" cy="257.1" r="4.85" fill="#375B8C"/>
<circle cx="911.3" cy="203.8" r="4.85" fill="#31678D"/>
<circle cx="710.8" cy="485.9" r="4.85" fill="#460B5D"/>
<circle cx="936.0" cy="174.9" r="4.85" fill="#460B5D"/>
<circle cx="246.0" cy="240.3" r="4.85"/>
<circle cx="799.9" cy="426.5" r="4.85"/>
<circle cx="887.4" cy="612.6" r="4.85" fill="#460B5D"/>
<circle cx="709.0" cy="240.3" r="4.85" fill="#460B5D"/>
<circle cx="697.9" cy="328.0" r="4.85"/>
<circle cx="385.2" cy="491.4" r="4.85" fill="#460B5D"/>
<circle cx="288.5" cy="217.8" r="4.85" fill="#460B5D"/>
<circle cx="708.5" cy="489.4" r="4.85" fill="#22A585"/>
<circle cx="315.3" cy="449.7" r="4.85" fill="#3D4D8A"/>
<circle cx="269.5" cy="257.3" r="4.85" fill="#453680"/>
<circle cx="278.2" cy="399.8" r="4.85" fill="#482576"/>
<circle cx="835.0" cy="515.5" r="4.85" fill="#460B5D"/>
<circle cx="888.8" cy="437.9" r="4.85" fill="#460B5D"/>
<circle cx="405.2" cy="505.1" r="4.85" fill="#460B5D"/>
<circle cx="923.6" cy="544.5" r="4.85" fill="#34618D"/>
<circle cx="346.3" cy="517.3" r="4.85"/>
<circle cx="987.7" cy="331.9" r="4.85" fill="#2B748E"/>
<circle cx="674.5" cy="254.3" r="4.85" fill="#460B5D"/>
<circle cx="263.4" cy="458.9" r="4.85"/>
<circle cx="618.8" cy="406.1" r="4.85" fill="#67CC5C"/>
<circle cx="248.4" cy="257.8" r="4.85"/>
<circle cx="912.2" cy="419.3" r="4.85" fill="#36B778"/>
<circle cx="744.5" cy="267.4" r="4.85" fill="#460B5D"/>
<circle cx="890.0" cy="382.4" r="4.85" fill="#453680"/>
<circle cx="245.9" cy="330.6" r="4.85" fill="#31678D"/>
<circle cx="929.6" cy="215.1" r="4.85"/>
<circle cx="906.7" cy="571.8" r="4.85" fill="#453680"/>
<circle cx="217.8" cy="306.4" r="4.85" fill="#3D4D8A"/>
<circle cx="781.3" cy="474.2" r="4.85"/>
<circle cx="771.3" cy="482.7" r="4.85" fill="#460B5D"/>
<circle cx="186.9" cy="333.7" r="4.85" fill="#36B778"/>
<circle cx="339.8" cy="515.6" r="4.85" fill="#460B5D"/>
<circle cx="438.9" cy="440.7" r="4.85" fill="#460B5D"/>
<circle cx="962.7" cy="136.4" r="4.85" fill="#460B5D"/>
<circle cx="791.4" cy="337.2" r="4.85" fill="#460B5D"/>
<circle cx="309.8" cy="349.7" r="4.85"/>
<circle cx="891.4" cy="557.8" r="4.85" fill="#3A548B"/>
<circle cx="272.7" cy="295.1" r="4.85"/>
<circle cx="670.8" cy="458.6" r="4.85" fill="#453680"/>
<circle cx="894.7" cy="217.1" r="4.85"/>
<circle cx="298.5" cy="204.4" r="4.85" fill="#460B5D"/>
<circle cx="870.9" cy="566.6" r="4.85" fill="#27818E"/>
<circle cx="865.9" cy="401.9" r="4.85" fill="#31678D"/>
<circle cx="748.0" cy="512.9" r="4.85" fill="#460B5D"/>
<circle cx="446.9" cy="477.8" r="4.85" fill="#36B778"/>
<circle cx="769.9" cy="439.1" r="4.85" fill="#460B5D"/>
<circle cx="907.9" cy="514.4" r="4.85" fill="#460B5D"/>
<circle cx="824.8" cy="728.5" r="4.85" fill="#297A8E"/>
<circle cx="923.5" cy="620.5" r="4.85" fill="#460B5D"/>
<circle cx="737.7" cy="697.7" r="4.85"/>
<circle cx="935.5" cy="674.8" r="4.85"/>
<circle cx="952.0" cy="221.1" r="4.85" fill="#460B5D"/>
<circle cx="172.9" cy="413.9" r="4.85" fill="#433E84"/>
<circle cx="222.3" cy="337.2" r="4.85" fill="#3D4D8A"/>
<circle cx="213.0" cy="300.9" r="4.85"/>
<circle cx="575.1" cy="458.5" r="4.85"/>
<circle cx="855.4" cy="580.7" r="4.85" fill="#472D7B"/>
<circle cx="987.9" cy="166.1" r="4.85" fill="#414587"/>
<circle cx="293.1" cy="340.0" r="4.85" fill="#460B5D"/>
<circle cx="230.8" cy="276.1" r="4.85" fill="#481D6E"/>
<circle cx="206.4" cy="268.0" r="4.85" fill="#481467"/>
<circle cx="880.6" cy="417.5" r="4.85" fill="#24878D"/>
<circle cx="246.8" cy="357.8" r="4.85" fill="#460B5D"/>
<circle cx="347.3" cy="499.5" r="4.85"/>
<circle cx="225.2" cy="327.9" r="4.85" fill="#482576"/>
<circle cx="666.7" cy="414.1" r="4.85" fill="#460B5D"/>
<circle cx="448.3" cy="390.2" r="4.85"/>
<circle cx="249.9" cy="369.1" r="4.85" fill="#460B5D"/>
<circle cx="264.8" cy="274.7" r="4.85" fill="#472D7B"/>
<circle cx="856.5" cy="486.3" r="4.85" fill="#31678D"/>
<circle cx="958.8" cy="458.2" r="4.85" fill="#36B778"/>
<circle cx="228.9" cy="503.9" r="4.85" fill="#2E6E8E"/>
<circle cx="224.8" cy="535.8" r="4.85" fill="#453680"/>
<circle cx="343.1" cy="471.4" r="4.85" fill="#460B5D"/>
<circle cx="406.0" cy="400.1" r="4.85" fill="#433E84"/>
<circle cx="434.5" cy="465.5" r="4.85" fill="#460B5D"/>
<circle cx="926.2" cy="238.8" r="4.85"/>
<circle cx="779.9" cy="584.8" r="4.85"/>
<circle cx="863.3" cy="577.1" r="4.85" fill="#3A548B"/>
<circle cx="697.4" cy="410.5" r="4.85" fill="#36B778"/>
<circle cx="424.5" cy="396.0" r="4.85"/>
<circle cx="909.8" cy="323.3" r="4.85" fill="#460B5D"/>
<circle cx="990.9" cy="261.3" r="4.85" fill="#460B5D"/>
<circle cx="310.2" cy="305.9" r="4.85" fill="#460B5D"/>
<circle cx="320.2" cy="403.7" r="4.85" fill="#20938C"/>
<circle cx="959.1" cy="153.8" r="4.85" fill="#460B5D"/>
<circle cx="496.8" cy="271.1" r="4.85"/>
<circle cx="944.8" cy="158.8" r="4.85"/>
<circle cx="936.1" cy="177.4" r="4.85" fill="#460B5D"/>
<circle cx="249.0" cy="356.1" r="4.85"/>
<circle cx="606.6" cy="282.2" r="4.85" fill="#460B5D"/>
<circle cx="969.8" cy="253.0" r="4.85" fill="#460B5D"/>
<circle cx="225.8" cy="326.2" r="4.85" fill="#460B5D"/>
<circle cx="316.4" cy="379.6" r="4.85" fill="#460B5D"/>
<circle cx="632.7" cy="557.9" r="4.85" fill="#460B5D"/>
<circle cx="869.1" cy="364.5" r="4.85"/>
<circle cx="253.5" cy="454.2" r="4.85" fill="#453680"/>
<circle cx="874.8" cy="655.6" r="4.85" fill="#34618D"/>
<circle cx="770.2" cy="527.0" r="4.85" fill="#31678D"/>
<circle cx="772.9" cy="514.7" r="4.85" fill="#460B5D"/>
<circle cx="941.1" cy="85.1" r="4.85"/>
<circle cx="645.8" cy="422.6" r="4.85"/>
<circle cx="850.9" cy="464.3" r="4.85" fill="#31678D"/>
<circle cx="354.3" cy="456.6" r="4.85"/>
<circle cx="759.1" cy="681.9" r="4.85"/>
<circle cx="908.9" cy="436.8" r="4.85" fill="#433E84"/>
<circle cx="924.8" cy="532.5" r="4.85" fill="#375B8C"/>
<circle cx="515.7" cy="519.5" r="4.85" fill="#481467"/>
<circle cx="470.5" cy="487.1" r="4.85" fill="#59C765"/>
<circle cx="403.7" cy="505.2" r="4.85" fill="#460B5D"/>
<circle cx="989.9" cy="260.7" r="4.85" fill="#460B5D"/>
<circle cx="945.6" cy="368.2" r="4.85"/>
<circle cx="912.3" cy="519.6" r="4.85"/>
<circle cx="913.1" cy="433.6" r="4.85" fill="#228D8C"/>
<circle cx="270.8" cy="428.4" r="4.85" fill="#460B5D"/>
<circle cx="208.7" cy="346.2" r="4.85" fill="#460B5D"/>
<circle cx="388.6" cy="432.2" r="4.85" fill="#481467"/>
<circle cx="256.2" cy="374.4" r="4.85"/>
<circle cx="326.2" cy="585.8" r="4.85"/>
<circle cx="670.3" cy="331.0" r="4.85" fill="#460B5D"/>
<circle cx="964.3" cy="200.5" r="4.85" fill="#460B5D"/>
<circle cx="536.5" cy="531.8" r="4.85"/>
<circle cx="352.3" cy="422.5" r="4.85"/>
<circle cx="579.3" cy="330.2" r="4.85"/>
<circle cx="756.6" cy="294.8" r="4.85" fill="#460B5D"/>
<circle cx="916.0" cy="674.4" r="4.85" fill="#460B5D"/>
<circle cx="891.5" cy="154.9" r="4.85" fill="#460B5D"/>
<circle cx="229.9" cy="418.4" r="4.85" fill="#453680"/>
<circle cx="275.8" cy="265.3" r="4.85" fill="#481467"/>
<circle cx="319.5" cy="436.6" r="4.85" fill="#460B5D"/>
<circle cx="434.9" cy="330.4" r="4.85"/>
<circle cx="333.0" cy="400.4" r="4.85"/>
<circle cx="171.5" cy="413.0" r="4.85" fill="#460B5D"/>
<circle cx="916.0" cy="391.5" r="4.85" fill="#3A548B"/>
<circle cx="915.7" cy="545.2" r="4.85" fill="#24878D"/>
<circle cx="798.6" cy="484.7" r="4.85"/>
<circle cx="424.3" cy="398.7" r="4.85" fill="#481467"/>
<circle cx="222.2" cy="230.2" r="4.85"/>
<circle cx="899.5" cy="383.2" r="4.85" fill="#3A548B"/>
<circle cx="354.1" cy="328.1" r="4.85" fill="#460B5D"/>
<circle cx="351.1" cy="324.5" r="4.85" fill="#460B5D"/>
<circle cx="767.9" cy="294.9" r="4.85"/>
<circle cx="269.2" cy="399.0" r="4.85"/>
<circle cx="376.9" cy="483.6" r="4.85" fill="#3D4D8A"/>
<circle cx="216.6" cy="195.6" r="4.85" fill="#472D7B"/>
<circle cx="493.5" cy="480.3" r="4.85"/>
<circle cx="711.5" cy="309.3" r="4.85" fill="#BADE28"/>
<circle cx="282.7" cy="383.1" r="4.85" fill="#375B8C"/>
<circle cx="835.0" cy="207.5" r="4.85" fill="#482576"/>
<circle cx="933.8" cy="167.0" r="4.85" fill="#460B5D"/>
<circle cx="657.7" cy="516.7" r="4.85" fill="#22A585"/>
<circle cx="397.5" cy="478.3" r="4.85" fill="#460B5D"/>
<circle cx="614.3" cy="434.8" r="4.85"/>
<circle cx="300.1" cy="489.2" r="4.85" fill="#460B5D"/>
<circle cx="526.5" cy="513.2" r="4.85"/>
<circle cx="629.5" cy="415.4" r="4.85"/>
<circle cx="257.8" cy="377.3" r="4.85" fill="#433E84"/>
<circle cx="913.0" cy="621.4" r="4.85" fill="#3A548B"/>
<circle cx="387.5" cy="296.2" r="4.85" fill="#481467"/>
<circle cx="838.1" cy="674.4" r="4.85" fill="#1F998A"/>
<circle cx="843.7" cy="559.3" r="4.85" fill="#24878D"/>
<circle cx="282.5" cy="378.0" r="4.85"/>
<circle cx="190.0" cy="460.7" r="4.85"/>
<circle cx="946.2" cy="599.4" r="4.85" fill="#209F88"/>
<circle cx="317.6" cy="507.2" r="4.85" fill="#481467"/>
<circle cx="746.9" cy="373.9" r="4.85" fill="#481467"/>
<circle cx="934.8" cy="348.4" r="4.85" fill="#460B5D"/>
<circle cx="943.9" cy="478.5" r="4.85" fill="#472D7B"/>
<circle cx="840.5" cy="573.3" r="4.85" fill="#375B8C"/>
<circle cx="931.1" cy="475.7" r="4.85" fill="#1F998A"/>
<circle cx="888.1" cy="677.8" r="4.85" fill="#472D7B"/>
<circle cx="212.2" cy="401.4" r="4.85"/>
<circle cx="1005.5" cy="232.0" r="4.85" fill="#375B8C"/>
<circle cx="248.0" cy="347.8" r="4.85" fill="#433E84"/>
<circle cx="962.6" cy="179.9" r="4.85" fill="#453680"/>
<circle cx="925.7" cy="510.0" r="4.85"/>
<circle cx="230.7" cy="286.2" r="4.85" fill="#453680"/>
<circle cx="540.6" cy="587.9" r="4.85"/>
<circle cx="555.9" cy="311.9" r="4.85" fill="#24878D"/>
<circle cx="961.2" cy="142.8" r="4.85" fill="#460B5D"/>
<circle cx="228.5" cy="393.4" r="4.85" fill="#34618D"/>
<circle cx="967.3" cy="172.8" r="4.85" fill="#460B5D"/>
<circle cx="247.3" cy="452.7" r="4.85" fill="#472D7B"/>
<circle cx="537.4" cy="336.2" r="4.85"/>
<circle cx="784.2" cy="407.6" r="4.85" fill="#482576"/>
<circle cx="303.8" cy="400.9" r="4.85"/>
<circle cx="723.5" cy="701.9" r="4.85"/>
<circle cx="426.4" cy="528.1" r="4.85" fill="#460B5D"/>
<circle cx="558.0" cy="512.2" r="4.85"/>
<circle cx="356.7" cy="361.5" r="4.85"/>
<circle cx="221.4" cy="319.7" r="4.85" fill="#414587"/>
<circle cx="379.0" cy="378.6" r="4.85" fill="#460B5D"/>
<circle cx="452.7" cy="309.6" r="4.85" fill="#460B5D"/>
<circle cx="267.2" cy="357.7" r="4.85"/>
<circle cx="828.1" cy="263.8" r="4.85" fill="#460B5D"/>
<circle cx="308.6" cy="289.6" r="4.85" fill="#453680"/>
<circle cx="223.3" cy="406.2" r="4.85" fill="#433E84"/>
<circle cx="314.2" cy="376.4" r="4.85" fill="#482576"/>
<circle cx="278.5" cy="342.9" r="4.85" fill="#460B5D"/>
<circle cx="735.8" cy="544.2" r="4.85" fill="#297A8E"/>
<circle cx="936.4" cy="193.2" r="4.85" fill="#460B5D"/>
<circle cx="230.5" cy="354.8" r="4.85" fill="#31678D"/>
<circle cx="923.1" cy="461.1" r="4.85"/>
<circle cx="897.7" cy="645.7" r="4.85" fill="#34618D"/>
<circle cx="712.1" cy="440.6" r="4.85" fill="#460B5D"/>
<circle cx="931.5" cy="504.8" r="4.85"/>
<circle cx="540.2" cy="323.0" r="4.85" fill="#460B5D"/>
<circle cx="961.6" cy="594.0" r="4.85" fill="#67CC5C"/>
<circle cx="952.5" cy="166.1" r="4.85"/>
<circle cx="350.6" cy="281.6" r="4.85" fill="#2B748E"/>
<circle cx="955.1" cy="397.3" r="4.85" fill="#228D8C"/>
<circle cx="928.9" cy="141.6" r="4.85"/>
<circle cx="510.9" cy="258.9" r="4.85" fill="#460B5D"/>
<circle cx="491.5" cy="381.9" r="4.85" fill="#460B5D"/>
<circle cx="241.0" cy="260.4" r="4.85"/>
<circle cx="366.7" cy="477.5" r="4.85"/>
<circle cx="634.1" cy="400.2" r="4.85" fill="#460B5D"/>
<circle cx="805.5" cy="315.8" r="4.85"/>
<circle cx="505.0" cy="433.7" r="4.85"/>
<circle cx="847.3" cy="408.5" r="4.85" fill="#460B5D"/>
<circle cx="337.0" cy="501.2" r="4.85" fill="#453680"/>
<circle cx="735.3" cy="331.5" r="4.85"/>
<circle cx="507.4" cy="318.4" r="4.85" fill="#460B5D"/>
<circle cx="857.7" cy="378.6" r="4.85" fill="#DDE319"/>
<circle cx="682.6" cy="258.7" r="4.85" fill="#460B5D"/>
<circle cx="405.4" cy="416.7" r="4.85"/>
<circle cx="233.3" cy="314.4" r="4.85" fill="#3D4D8A"/>
<circle cx="527.0" cy="292.6" r="4.85" fill="#2CB17D"/>
<circle cx="242.8" cy="397.2" r="4.85"/>
<circle cx="917.5" cy="250.4" r="4.85"/>
<circle cx="849.6" cy="673.7" r="4.85" fill="#2CB17D"/>
<circle cx="245.0" cy="400.8" r="4.85"/>
<circle cx="908.7" cy="519.5" r="4.85" fill="#67CC5C"/>
<circle cx="711.1" cy="522.7" r="4.85" fill="#460B5D"/>
<circle cx="255.3" cy="437.0" r="4.85" fill="#482576"/>
<circle cx="718.5" cy="587.6" r="4.85" fill="#76D153"/>
<circle cx="905.5" cy="282.4" r="4.85" fill="#472D7B"/>
<circle cx="460.3" cy="351.2" r="4.85"/>
<circle cx="482.0" cy="501.1" r="4.85" fill="#460B5D"/>
<circle cx="180.1" cy="362.3" r="4.85" fill="#453680"/>
<circle cx="400.6" cy="400.6" r="4.85"/>
<circle cx="596.0" cy="550.6" r="4.85"/>
<circle cx="460.7" cy="334.7" r="4.85" fill="#460B5D"/>
<circle cx="312.7" cy="468.2" r="4.85"/>
<circle cx="891.7" cy="606.4" r="4.85"/>
<circle cx="705.9" cy="326.6" r="4.85" fill="#453680"/>
<circle cx="246.3" cy="337.1" r="4.85" fill="#375B8C"/>
<circle cx="214.5" cy="248.4" r="4.85" fill="#482576"/>
<circle cx="476.6" cy="369.3" r="4.85"/>
<circle cx="944.0" cy="105.7" r="4.85" fill="#460B5D"/>
<circle cx="204.9" cy="300.1" r="4.85" fill="#3D4D8A"/>
<circle cx="906.1" cy="535.6" r="4.85" fill="#3D4D8A"/>
<circle cx="896.5" cy="506.3" r="4.85" fill="#433E84"/>
<circle cx="951.4" cy="159.3" r="4.85" fill="#460B5D"/>
<circle cx="732.1" cy="419.0" r="4.85" fill="#460B5D"/>
<circle cx="359.5" cy="509.1" r="4.85"/>
<circle cx="666.4" cy="472.6" r="4.85"/>
<circle cx="283.6" cy="324.2" r="4.85"/>
<circle cx="245.9" cy="427.8" r="4.85" fill="#460B5D"/>
<circle cx="417.0" cy="411.3" r="4.85"/>
<circle cx="941.3" cy="311.0" r="4.85" fill="#2E6E8E"/>
<circle cx="398.9" cy="380.7" r="4.85"/>
<circle cx="509.7" cy="509.8" r="4.85" fill="#460B5D"/>
<circle cx="591.2" cy="531.6" r="4.85" fill="#460B5D"/>
<circle cx="931.5" cy="386.9" r="4.85"/>
<circle cx="763.0" cy="253.5" r="4.85" fill="#460B5D"/>
<circle cx="820.2" cy="640.0" r="4.85" fill="#20938C"/>
<circle cx="604.9" cy="373.5" r="4.85" fill="#460B5D"/>
<circle cx="298.0" cy="441.9" r="4.85"/>
<circle cx="940.0" cy="399.4" r="4.85" fill="#460B5D"/>
<circle cx="812.1" cy="395.0" r="4.85"/>
<circle cx="245.3" cy="329.9" r="4.85" fill="#481467"/>
<circle cx="951.3" cy="347.9" r="4.85" fill="#3D4D8A"/>
<circle cx="259.8" cy="264.4" r="4.85" fill="#482576"/>
<circle cx="179.4" cy="389.7" r="4.85" fill="#460B5D"/>
<circle cx="313.8" cy="294.7" r="4.85"/>
<circle cx="280.7" cy="321.9" r="4.85" fill="#31678D"/>
<circle cx="910.2" cy="416.3" r="4.85" fill="#20938C"/>
<circle cx="649.2" cy="308.5" r="4.85"/>
<circle cx="288.2" cy="373.5" r="4.85" fill="#460B5D"/>
<circle cx="862.8" cy="615.4" r="4.85" fill="#40BD73"/>
<circle cx="827.4" cy="308.8" r="4.85" fill="#460B5D"/>
<circle cx="712.4" cy="305.3" r="4.85" fill="#460B5D"/>
<circle cx="963.5" cy="392.2" r="4.85" fill="#27818E"/>
<circle cx="255.9" cy="329.9" r="4.85" fill="#460B5D"/>
<circle cx="785.6" cy="562.0" r="4.85" fill="#460B5D"/>
<circle cx="803.2" cy="549.6" r="4.85"/>
<circle cx="656.3" cy="325.2" r="4.85" fill="#3A548B"/>
<circle cx="944.5" cy="602.8" r="4.85" fill="#34618D"/>
<circle cx="694.5" cy="479.4" r="4.85"/>
<circle cx="928.1" cy="510.8" r="4.85"/>
<circle cx="330.1" cy="415.8" r="4.85"/>
<circle cx="708.5" cy="562.3" r="4.85" fill="#460B5D"/>
<circle cx="611.1" cy="436.0" r="4.85"/>
<circle cx="825.7" cy="504.1" r="4.85" fill="#460B5D"/>
<circle cx="900.6" cy="524.9" r="4.85" fill="#228D8C"/>
<circle cx="240.3" cy="442.4" r="4.85" fill="#472D7B"/>
<circle cx="325.3" cy="301.0" r="4.85"/>
<circle cx="973.6" cy="413.5" r="4.85" fill="#34618D"/>
<circle cx="517.4" cy="452.5" r="4.85"/>
<circle cx="977.4" cy="235.4" r="4.85"/>
<circle cx="653.8" cy="602.5" r="4.85"/>
<circle cx="412.6" cy="409.9" r="4.85" fill="#460B5D"/>
<circle cx="875.0" cy="409.5" r="4.85" fill="#34618D"/>
<circle cx="709.9" cy="373.4" r="4.85"/>
<circle cx="929.5" cy="228.2" r="4.85" fill="#460B5D"/>
<circle cx="882.9" cy="465.0" r="4.85" fill="#481467"/>
<circle cx="630.4" cy="237.5" r="4.85" fill="#98D83E"/>
<circle cx="888.6" cy="164.4" r="4.85" fill="#481467"/>
<circle cx="690.8" cy="375.5" r="4.85"/>
<circle cx="369.8" cy="316.6" r="4.85"/>
<circle cx="374.5" cy="285.7" r="4.85" fill="#2B748E"/>
<circle cx="427.5" cy="336.8" r="4.85" fill="#460B5D"/>
<circle cx="674.7" cy="308.0" r="4.85"/>
<circle cx="667.4" cy="443.8" r="4.85"/>
<circle cx="690.6" cy="470.1" r="4.85" fill="#481467"/>
<circle cx="244.5" cy="406.9" r="4.85" fill="#482576"/>
<circle cx="205.6" cy="319.4" r="4.85"/>
<circle cx="645.9" cy="477.3" r="4.85" fill="#460B5D"/>
<circle cx="931.8" cy="405.7" r="4.85" fill="#20938C"/>
<circle cx="214.3" cy="303.1" r="4.85"/>
<circle cx="897.5" cy="497.6" r="4.85" fill="#460B5D"/>
<circle cx="847.6" cy="569.4" r="4.85" fill="#59C765"/>
<circle cx="250.4" cy="407.2" r="4.85" fill="#2CB17D"/>
<circle cx="196.3" cy="437.6" r="4.85" fill="#31678D"/>
<circle cx="912.7" cy="570.8" r="4.85" fill="#27818E"/>
<circle cx="694.1" cy="542.6" r="4.85"/>
<circle cx="443.0" cy="323.0" r="4.85" fill="#460B5D"/>
<circle cx="371.1" cy="512.8" r="4.85"/>
<circle cx="621.5" cy="374.0" r="4.85"/>
<circle cx="852.7" cy="537.5" r="4.85" fill="#375B8C"/>
<circle cx="383.5" cy="420.0" r="4.85"/>
<circle cx="182.5" cy="290.9" r="4.85" fill="#460B5D"/>
<circle cx="461.3" cy="317.9" r="4.85" fill="#460B5D"/>
<circle cx="491.3" cy="351.8" r="4.85" fill="#27818E"/>
<circle cx="884.3" cy="616.8" r="4.85" fill="#453680"/>
<circle cx="226.0" cy="255.7" r="4.85" fill="#482576"/>
<circle cx="456.1" cy="358.5" r="4.85"/>
<circle cx="850.4" cy="579.4" r="4.85" fill="#2E6E8E"/>
<circle cx="378.7" cy="410.6" r="4.85"/>
<circle cx="923.8" cy="217.6" r="4.85" fill="#460B5D"/>
<circle cx="878.3" cy="141.7" r="4.85"/>
<circle cx="434.7" cy="312.3" r="4.85" fill="#460B5D"/>
<circle cx="475.9" cy="327.1" r="4.85" fill="#460B5D"/>
<circle cx="636.2" cy="381.3" r="4.85"/>
<circle cx="883.2" cy="159.4" r="4.85" fill="#453680"/>
<circle cx="229.8" cy="265.1" r="4.85" fill="#34618D"/>
<circle cx="936.7" cy="291.2" r="4.85"/>
<circle cx="596.0" cy="358.4" r="4.85"/>
<circle cx="850.0" cy="237.5" r="4.85"/>
<circle cx="541.9" cy="300.6" r="4.85" fill="#460B5D"/>
<circle cx="447.8" cy="402.8" r="4.85"/>
<circle cx="825.6" cy="435.5" r="4.85" fill="#460B5D"/>
<circle cx="726.4" cy="354.6" r="4.85" fill="#A9DB33"/>
<circle cx="808.5" cy="425.0" r="4.85"/>
<circle cx="219.3" cy="280.6" r="4.85" fill="#460B5D"/>
<circle cx="307.2" cy="395.9" r="4.85" fill="#3A548B"/>
<circle cx="395.1" cy="369.8" r="4.85" fill="#67CC5C"/>
<circle cx="771.8" cy="464.8" r="4.85"/>
<circle cx="613.8" cy="431.0" r="4.85" fill="#481467"/>
<circle cx="962.6" cy="387.5" r="4.85" fill="#3A548B"/>
<circle cx="904.8" cy="186.0" r="4.85"/>
<circle cx="271.7" cy="340.9" r="4.85" fill="#460B5D"/>
<circle cx="964.6" cy="443.7" r="4.85" fill="#24878D"/>
<circle cx="272.0" cy="375.7" r="4.85"/>
<circle cx="201.6" cy="282.1" r="4.85"/>
<circle cx="769.3" cy="588.7" r="4.85" fill="#1F998A"/>
<circle cx="217.6" cy="448.8" r="4.85" fill="#482576"/>
<circle cx="460.4" cy="529.9" r="4.85"/>
<circle cx="966.8" cy="440.7" r="4.85" fill="#481467"/>
<circle cx="328.0" cy="348.0" r="4.85"/>
<circle cx="600.2" cy="465.9" r="4.85" fill="#460B5D"/>
<circle cx="625.0" cy="542.4" r="4.85"/>
<circle cx="297.3" cy="420.5" r="4.85"/>
<circle cx="997.9" cy="91.7" r="4.85"/>
<circle cx="354.5" cy="357.2" r="4.85"/>
<circle cx="929.3" cy="270.2" r="4.85" fill="#433E84"/>
<circle cx="346.4" cy="425.7" r="4.85"/>
<circle cx="963.6" cy="185.4" r="4.85" fill="#2E6E8E"/>
<circle cx="736.1" cy="387.7" r="4.85" fill="#460B5D"/>
<circle cx="236.7" cy="410.2" r="4.85" fill="#460B5D"/>
<circle cx="354.0" cy="388.5" r="4.85"/>
<circle cx="525.3" cy="500.0" r="4.85" fill="#460B5D"/>
<circle cx="944.9" cy="332.6" r="4.85"/>
<circle cx="890.8" cy="491.4" r="4.85" fill="#3A548B"/>
<circle cx="273.7" cy="281.2" r="4.85" fill="#481467"/>
<circle cx="972.0" cy="215.1" r="4.85" fill="#460B5D"/>
<circle cx="196.6" cy="451.8" r="4.85" fill="#460B5D"/>
<circle cx="234.0" cy="297.7" r="4.85" fill="#460B5D"/>
<circle cx="511.8" cy="431.7" r="4.85" fill="#460B5D"/>
<circle cx="367.4" cy="441.2" r="4.85" fill="#482576"/>
<circle cx="200.7" cy="400.6" r="4.85" fill="#460B5D"/>
<circle cx="288.7" cy="322.1" r="4.85"/>
<circle cx="898.9" cy="501.1" r="4.85" fill="#460B5D"/>
<circle cx="917.6" cy="399.6" r="4.85" fill="#76D153"/>
<circle cx="966.7" cy="267.9" r="4.85" fill="#460B5D"/>
<circle cx="348.1" cy="433.8" r="4.85"/>
<circle cx="387.1" cy="363.9" r="4.85" fill="#481467"/>
<circle cx="257.9" cy="493.8" r="4.85" fill="#3A548B"/>
<circle cx="867.3" cy="541.3" r="4.85" fill="#460B5D"/>
<circle cx="189.2" cy="396.7" r="4.85" fill="#460B5D"/>
<circle cx="514.2" cy="451.8" r="4.85"/>
<circle cx="1015.6" cy="195.2" r="4.85"/>
<circle cx="621.4" cy="359.9" r="4.85" fill="#481467"/>
<circle cx="929.2" cy="221.2" r="4.85" fill="#414587"/>
<circle cx="697.6" cy="419.9" r="4.85" fill="#414587"/>
<circle cx="401.4" cy="362.0" r="4.85" fill="#460B5D"/>
<circle cx="426.8" cy="426.2" r="4.85"/>
<circle cx="920.5" cy="396.5" r="4.85" fill="#2CB17D"/>
<circle cx="635.6" cy="655.3" r="4.85" fill="#22A585"/>
<circle cx="493.3" cy="562.9" r="4.85" fill="#2E6E8E"/>
<circle cx="1010.6" cy="247.1" r="4.85" fill="#460B5D"/>
<circle cx="600.6" cy="427.7" r="4.85" fill="#27818E"/>
<circle cx="556.9" cy="456.9" r="4.85" fill="#460B5D"/>
<circle cx="957.0" cy="206.3" r="4.85"/>
<circle cx="485.6" cy="582.6" r="4.85" fill="#481467"/>
<circle cx="929.9" cy="319.4" r="4.85" fill="#460B5D"/>
<circle cx="786.3" cy="311.8" r="4.85"/>
<circle cx="934.9" cy="401.3" r="4.85"/>
<circle cx="316.0" cy="422.4" r="4.85"/>
<circle cx="945.6" cy="259.6" r="4.85" fill="#460B5D"/>
<circle cx="248.0" cy="298.1" r="4.85" fill="#460B5D"/>
<circle cx="300.4" cy="418.1" r="4.85"/>
<circle cx="938.6" cy="366.5" r="4.85" fill="#228D8C"/>
<circle cx="960.0" cy="666.0" r="4.85"/>
<circle cx="953.0" cy="490.5" r="4.85" fill="#EDE51F"/>
<circle cx="894.9" cy="118.6" r="4.85"/>
<circle cx="510.5" cy="339.6" r="4.85"/>
<circle cx="762.9" cy="248.1" r="4.85" fill="#460B5D"/>
<circle cx="280.2" cy="405.7" r="4.85"/>
<circle cx="766.9" cy="530.5" r="4.85" fill="#209F88"/>
<circle cx="619.7" cy="474.1" r="4.85" fill="#460B5D"/>
<circle cx="973.8" cy="150.7" r="4.85"/>
<circle cx="979.9" cy="144.1" r="4.85"/>
<circle cx="869.5" cy="610.3" r="4.85" fill="#453680"/>
<circle cx="294.2" cy="464.8" r="4.85" fill="#453680"/>
<circle cx="936.6" cy="265.2" r="4.85" fill="#460B5D"/>
<circle cx="717.3" cy="386.9" r="4.85"/>
<circle cx="325.0" cy="485.6" r="4.85" fill="#460B5D"/>
<circle cx="290.9" cy="327.0" r="4.85" fill="#481D6E"/>
<circle cx="229.9" cy="466.0" r="4.85" fill="#460B5D"/>
<circle cx="222.9" cy="316.5" r="4.85" fill="#472D7B"/>
<circle cx="557.9" cy="416.6" r="4.85"/>
<circle cx="332.8" cy="358.0" r="4.85" fill="#98D83E"/>
<circle cx="269.7" cy="400.6" r="4.85"/>
<circle cx="703.8" cy="411.3" r="4.85" fill="#3D4D8A"/>
<circle cx="775.0" cy="458.6" r="4.85"/>
<circle cx="955.2" cy="346.9" r="4.85" fill="#228D8C"/>
<circle cx="865.8" cy="368.8" r="4.85"/>
<circle cx="915.0" cy="201.3" r="4.85"/>
<circle cx="896.4" cy="511.8" r="4.85" fill="#460B5D"/>
<circle cx="439.1" cy="286.9" r="4.85"/>
<circle cx="352.1" cy="444.9" r="4.85" fill="#460B5D"/>
<circle cx="230.0" cy="409.1" r="4.85" fill="#472D7B"/>
<circle cx="377.8" cy="347.3" r="4.85" fill="#87D549"/>
<circle cx="528.5" cy="515.0" r="4.85"/>
<circle cx="199.5" cy="445.7" r="4.85" fill="#34618D"/>
<circle cx="499.9" cy="433.9" r="4.85" fill="#481467"/>
<circle cx="163.7" cy="392.1" r="4.85" fill="#375B8C"/>
<circle cx="227.2" cy="312.5" r="4.85" fill="#460B5D"/>
<circle cx="975.9" cy="243.4" r="4.85"/>
<circle cx="265.3" cy="369.6" r="4.85" fill="#34618D"/>
<circle cx="690.8" cy="220.8" r="4.85"/>
<circle cx="959.9" cy="183.9" r="4.85"/>
<circle cx="863.4" cy="350.0" r="4.85" fill="#460B5D"/>
<circle cx="569.6" cy="235.4" r="4.85" fill="#98D83E"/>
<circle cx="892.5" cy="276.6" r="4.85"/>
<circle cx="482.1" cy="325.7" r="4.85" fill="#481467"/>
<circle cx="363.2" cy="395.3" r="4.85" fill="#481467"/>
<circle cx="334.5" cy="372.9" r="4.85"/>
<circle cx="383.1" cy="368.1" r="4.85" fill="#DDE319"/>
<circle cx="678.1" cy="383.6" r="4.85"/>
<circle cx="368.5" cy="514.7" r="4.85" fill="#481467"/>
<circle cx="617.9" cy="416.9" r="4.85"/>
<circle cx="854.5" cy="395.6" r="4.85" fill="#460B5D"/>
<circle cx="620.6" cy="364.0" r="4.85" fill="#59C765"/>
<circle cx="924.9" cy="425.0" r="4.85" fill="#20938C"/>
<circle cx="172.2" cy="344.3" r="4.85" fill="#453680"/>
<circle cx="712.6" cy="367.2" r="4.85" fill="#460B5D"/>
<circle cx="614.1" cy="506.4" r="4.85"/>
<circle cx="464.8" cy="343.6" r="4.85" fill="#460B5D"/>
<circle cx="594.8" cy="372.1" r="4.85" fill="#375B8C"/>
<circle cx="839.0" cy="570.1" r="4.85" fill="#453680"/>
<circle cx="903.4" cy="651.5" r="4.85" fill="#76D153"/>
<circle cx="901.7" cy="342.4" r="4.85" fill="#31678D"/>
<circle cx="476.7" cy="278.7" r="4.85" fill="#460B5D"/>
<circle cx="538.3" cy="370.3" r="4.85"/>
<circle cx="786.1" cy="435.1" r="4.85"/>
<circle cx="789.0" cy="487.5" r="4.85"/>
<circle cx="469.0" cy="513.9" r="4.85"/>
<circle cx="176.2" cy="357.7" r="4.85" fill="#481D6E"/>
<circle cx="543.3" cy="461.8" r="4.85" fill="#414587"/>
<circle cx="946.8" cy="471.7" r="4.85" fill="#24878D"/>
<circle cx="606.0" cy="346.4" r="4.85" fill="#460B5D"/>
<circle cx="363.1" cy="264.9" r="4.85"/>
<circle cx="222.2" cy="430.8" r="4.85" fill="#460B5D"/>
<circle cx="541.3" cy="361.3" r="4.85"/>
<circle cx="552.1" cy="449.6" r="4.85"/>
<circle cx="930.3" cy="334.3" r="4.85" fill="#24878D"/>
<circle cx="956.7" cy="242.0" r="4.85" fill="#460B5D"/>
<circle cx="408.8" cy="326.2" r="4.85" fill="#24878D"/>
<circle cx="582.9" cy="406.6" r="4.85" fill="#460B5D"/>
<circle cx="632.2" cy="407.4" r="4.85"/>
<circle cx="956.8" cy="82.8" r="4.85" fill="#460B5D"/>
<circle cx="897.5" cy="334.6" r="4.85"/>
<circle cx="261.8" cy="304.2" r="4.85" fill="#460B5D"/>
<circle cx="296.6" cy="519.7" r="4.85"/>
<circle cx="321.9" cy="404.0" r="4.85"/>
<circle cx="961.3" cy="517.8" r="4.85" fill="#59C765"/>
<circle cx="326.4" cy="383.8" r="4.85" fill="#34618D"/>
<circle cx="602.8" cy="559.7" r="4.85" fill="#460B5D"/>
<circle cx="614.0" cy="338.9" r="4.85" fill="#67CC5C"/>
<circle cx="756.4" cy="291.7" r="4.85" fill="#DDE319"/>
<circle cx="249.3" cy="273.3" r="4.85" fill="#460B5D"/>
<circle cx="422.5" cy="509.8" r="4.85"/>
<circle cx="529.4" cy="381.0" r="4.85" fill="#24878D"/>
<circle cx="856.4" cy="534.9" r="4.85"/>
<circle cx="215.9" cy="322.5" r="4.85" fill="#460B5D"/>
<circle cx="360.9" cy="367.1" r="4.85" fill="#460B5D"/>
<circle cx="725.9" cy="461.3" r="4.85" fill="#414587"/>
<circle cx="961.9" cy="564.7" r="4.85"/>
<circle cx="620.8" cy="246.7" r="4.85" fill="#59C765"/>
<circle cx="975.9" cy="296.6" r="4.85" fill="#460B5D"/>
<circle cx="709.1" cy="459.1" r="4.85" fill="#460B5D"/>
<circle cx="966.9" cy="445.8" r="4.85" fill="#3A548B"/>
<circle cx="224.2" cy="253.4" r="4.85"/>
<circle cx="226.1" cy="292.4" r="4.85" fill="#3A548B"/>
<circle cx="157.6" cy="390.4" r="4.85"/>
<circle cx="656.9" cy="615.6" r="4.85" fill="#460B5D"/>
<circle cx="337.1" cy="285.9" r="4.85"/>
<circle cx="814.0" cy="523.2" r="4.85"/>
<circle cx="548.6" cy="518.2" r="4.85" fill="#460B5D"/>
<circle cx="760.5" cy="396.2" r="4.85" fill="#460B5D"/>
<circle cx="663.4" cy="412.3" r="4.85" fill="#460B5D"/>
<circle cx="394.5" cy="279.0" r="4.85" fill="#3A548B"/>
<circle cx="580.9" cy="325.5" r="4.85" fill="#481467"/>
<circle cx="807.4" cy="480.2" r="4.85" fill="#460B5D"/>
<circle cx="934.2" cy="518.6" r="4.85" fill="#460B5D"/>
<circle cx="935.9" cy="340.5" r="4.85" fill="#27818E"/>
<circle cx="463.5" cy="504.3" r="4.85" fill="#460B5D"/>
<circle cx="339.1" cy="385.7" r="4.85" fill="#2CB17D"/>
<circle cx="752.6" cy="308.5" r="4.85" fill="#460B5D"/>
<circle cx="786.1" cy="662.5" r="4.85" fill="#24878D"/>
<circle cx="747.7" cy="360.0" r="4.85"/>
<circle cx="924.1" cy="403.6" r="4.85" fill="#26AB81"/>
<circle cx="772.1" cy="310.8" r="4.85"/>
<circle cx="344.6" cy="424.0" r="4.85" fill="#460B5D"/>
<circle cx="460.9" cy="462.8" r="4.85" fill="#EDE51F"/>
<circle cx="199.1" cy="447.6" r="4.85" fill="#482576"/>
<circle cx="281.5" cy="570.2" r="4.85"/>
<circle cx="927.1" cy="597.0" r="4.85" fill="#228D8C"/>
<circle cx="748.6" cy="483.3" r="4.85" fill="#1F998A"/>
<circle cx="732.4" cy="382.8" r="4.85" fill="#460B5D"/>
<circle cx="948.7" cy="344.1" r="4.85" fill="#460B5D"/>
<circle cx="278.8" cy="426.8" r="4.85"/>
<circle cx="900.2" cy="635.9" r="4.85" fill="#209F88"/>
<circle cx="227.7" cy="459.7" r="4.85" fill="#3A548B"/>
<circle cx="963.6" cy="233.5" r="4.85" fill="#460B5D"/>
<circle cx="386.2" cy="419.5" r="4.85"/>
<circle cx="253.2" cy="326.6" r="4.85" fill="#460B5D"/>
<circle cx="685.1" cy="431.1" r="4.85"/>
<circle cx="294.3" cy="460.7" r="4.85" fill="#460B5D"/>
<circle cx="906.3" cy="347.2" r="4.85" fill="#460B5D"/>
<circle cx="939.9" cy="411.5" r="4.85" fill="#22A585"/>
<circle cx="394.2" cy="428.2" r="4.85"/>
<circle cx="799.6" cy="725.5" r="4.85" fill="#297A8E"/>
<circle cx="323.6" cy="495.8" r="4.85"/>
<circle cx="946.8" cy="458.9" r="4.85" fill="#76D153"/>
<circle cx="707.1" cy="389.6" r="4.85" fill="#460B5D"/>
<circle cx="900.4" cy="309.8" r="4.85" fill="#460B5D"/>
<circle cx="216.1" cy="482.7" r="4.85" fill="#460B5D"/>
<circle cx="610.2" cy="597.0" r="4.85" fill="#460B5D"/>
<circle cx="424.4" cy="416.6" r="4.85" fill="#297A8E"/>
<circle cx="780.7" cy="471.4" r="4.85"/>
<circle cx="932.3" cy="287.0" r="4.85"/>
<circle cx="940.2" cy="331.9" r="4.85" fill="#228D8C"/>
<circle cx="271.5" cy="462.2" r="4.85" fill="#31678D"/>
<circle cx="439.7" cy="420.0" r="4.85" fill="#460B5D"/>
<circle cx="555.8" cy="289.7" r="4.85" fill="#EDE51F"/>
<circle cx="870.5" cy="502.2" r="4.85" fill="#2E6E8E"/>
<circle cx="396.4" cy="332.3" r="4.85"/>
<circle cx="660.9" cy="468.2" r="4.85"/>
<circle cx="400.7" cy="421.1" r="4.85" fill="#460B5D"/>
<circle cx="249.6" cy="284.2" r="4.85" fill="#414587"/>
<circle cx="708.9" cy="341.8" r="4.85"/>
<circle cx="402.0" cy="368.5" r="4.85" fill="#460B5D"/>
<circle cx="853.8" cy="503.5" r="4.85" fill="#460B5D"/>
<circle cx="189.2" cy="372.2" r="4.85" fill="#481467"/>
<circle cx="769.7" cy="505.0" r="4.85"/>
<circle cx="535.5" cy="304.0" r="4.85"/>
<circle cx="878.6" cy="273.0" r="4.85" fill="#31678D"/>
<circle cx="899.3" cy="208.3" r="4.85" fill="#3D4D8A"/>
<circle cx="862.7" cy="432.0" r="4.85" fill="#433E84"/>
<circle cx="869.9" cy="396.9" r="4.85" fill="#414587"/>
<circle cx="239.6" cy="413.6" r="4.85" fill="#482576"/>
<circle cx="400.9" cy="439.2" r="4.85"/>
<circle cx="275.6" cy="475.3" r="4.85" fill="#3A548B"/>
<circle cx="374.7" cy="533.1" r="4.85" fill="#34618D"/>
<circle cx="813.1" cy="570.2" r="4.85" fill="#460B5D"/>
<circle cx="198.9" cy="339.3" r="4.85"/>
<circle cx="696.0" cy="412.4" r="4.85" fill="#1F998A"/>
<circle cx="365.1" cy="512.5" r="4.85"/>
<circle cx="692.5" cy="428.9" r="4.85"/>
<circle cx="838.1" cy="375.0" r="4.85" fill="#460B5D"/>
<circle cx="890.8" cy="526.7" r="4.85" fill="#297A8E"/>
<circle cx="604.2" cy="370.7" r="4.85" fill="#460B5D"/>
<circle cx="865.0" cy="442.4" r="4.85" fill="#297A8E"/>
<circle cx="604.8" cy="445.2" r="4.85"/>
<circle cx="296.4" cy="503.1" r="4.85" fill="#433E84"/>
<circle cx="867.5" cy="411.6" r="4.85" fill="#460B5D"/>
<circle cx="506.0" cy="395.8" r="4.85"/>
<circle cx="232.5" cy="396.6" r="4.85" fill="#414587"/>
<circle cx="477.5" cy="318.4" r="4.85"/>
<circle cx="822.7" cy="402.3" r="4.85"/>
<circle cx="304.4" cy="348.1" r="4.85"/>
<circle cx="883.6" cy="458.9" r="4.85" fill="#228D8C"/>
<circle cx="293.8" cy="459.8" r="4.85" fill="#34618D"/>
<circle cx="589.7" cy="626.6" r="4.85" fill="#22A585"/>
<circle cx="192.7" cy="422.0" r="4.85" fill="#375B8C"/>
<circle cx="619.2" cy="231.2" r="4.85"/>
<circle cx="648.7" cy="346.9" r="4.85" fill="#482576"/>
<circle cx="892.4" cy="359.5" r="4.85" fill="#24878D"/>
<circle cx="755.3" cy="370.8" r="4.85"/>
<circle cx="726.1" cy="346.2" r="4.85"/>
<circle cx="752.9" cy="400.1" r="4.85" fill="#460B5D"/>
<circle cx="931.8" cy="158.8" r="4.85" fill="#2E6E8E"/>
<circle cx="229.2" cy="345.1" r="4.85" fill="#482576"/>
<circle cx="919.5" cy="210.3" r="4.85" fill="#375B8C"/>
<circle cx="713.8" cy="412.0" r="4.85"/>
<circle cx="539.3" cy="409.0" r="4.85" fill="#460B5D"/>
<circle cx="420.2" cy="347.6" r="4.85" fill="#460B5D"/>
<circle cx="897.9" cy="484.5" r="4.85"/>
<circle cx="353.9" cy="536.9" r="4.85"/>
<circle cx="294.8" cy="339.7" r="4.85" fill="#481467"/>
<circle cx="954.0" cy="506.1" r="4.85" fill="#40BD73"/>
<circle cx="592.7" cy="435.8" r="4.85" fill="#460B5D"/>
<circle cx="964.9" cy="330.1" r="4.85"/>
<circle cx="331.0" cy="450.3" r="4.85"/>
<circle cx="250.6" cy="302.8" r="4.85" fill="#375B8C"/>
<circle cx="234.2" cy="243.9" r="4.85" fill="#460B5D"/>
<circle cx="908.4" cy="467.8" r="4.85" fill="#433E84"/>
<circle cx="980.9" cy="204.4" r="4.85" fill="#460B5D"/>
<circle cx="688.4" cy="375.1" r="4.85" fill="#481467"/>
<circle cx="546.2" cy="484.5" r="4.85" fill="#460B5D"/>
<circle cx="326.9" cy="448.9" r="4.85" fill="#460B5D"/>
<circle cx="541.9" cy="265.5" r="4.85"/>
<circle cx="746.6" cy="536.0" r="4.85"/>
<circle cx="252.3" cy="458.1" r="4.85" fill="#472D7B"/>
<circle cx="246.9" cy="366.0" r="4.85" fill="#433E84"/>
<circle cx="696.7" cy="510.9" r="4.85"/>
<circle cx="383.5" cy="428.6" r="4.85"/>
<circle cx="910.0" cy="292.5" r="4.85" fill="#460B5D"/>
<circle cx="968.0" cy="312.5" r="4.85" fill="#453680"/>
<circle cx="247.1" cy="363.8" r="4.85"/>
<circle cx="512.3" cy="329.5" r="4.85" fill="#2E6E8E"/>
<circle cx="452.2" cy="403.2" r="4.85" fill="#460B5D"/>
<circle cx="949.1" cy="348.6" r="4.85"/>
<circle cx="179.2" cy="314.3" r="4.85" fill="#460B5D"/>
<circle cx="286.3" cy="286.8" r="4.85"/>
<circle cx="364.0" cy="372.7" r="4.85"/>
<circle cx="1006.4" cy="200.5" r="4.85"/>
<circle cx="398.4" cy="436.4" r="4.85" fill="#460B5D"/>
<circle cx="911.5" cy="364.4" r="4.85" fill="#228D8C"/>
<circle cx="201.0" cy="357.4" r="4.85" fill="#375B8C"/>
<circle cx="450.1" cy="532.8" r="4.85" fill="#297A8E"/>
<circle cx="770.4" cy="370.1" r="4.85"/>
<circle cx="940.4" cy="494.1" r="4.85" fill="#31678D"/>
<circle cx="361.9" cy="400.4" r="4.85"/>
<circle cx="934.7" cy="367.4" r="4.85" fill="#2E6E8E"/>
<circle cx="718.7" cy="419.4" r="4.85" fill="#481467"/>
<circle cx="853.3" cy="592.4" r="4.85"/>
<circle cx="606.2" cy="351.1" r="4.85" fill="#460B5D"/>
<circle cx="243.6" cy="403.9" r="4.85"/>
<circle cx="176.2" cy="344.7" r="4.85" fill="#460B5D"/>
<circle cx="401.4" cy="493.0" r="4.85"/>
<circle cx="734.6" cy="522.4" r="4.85"/>
<circle cx="210.8" cy="357.6" r="4.85" fill="#472D7B"/>
<circle cx="981.7" cy="131.8" r="4.85" fill="#460B5D"/>
<circle cx="223.4" cy="411.4" r="4.85" fill="#31678D"/>
<circle cx="178.4" cy="385.7" r="4.85" fill="#453680"/>
<circle cx="960.0" cy="288.8" r="4.85" fill="#460B5D"/>
<circle cx="241.4" cy="415.3" r="4.85" fill="#3A548B"/>
<circle cx="385.5" cy="403.4" r="4.85"/>
<circle cx="753.1" cy="519.4" r="4.85"/>
<circle cx="774.2" cy="585.9" r="4.85"/>
<circle cx="335.7" cy="321.5" r="4.85" fill="#460B5D"/>
<circle cx="225.4" cy="290.0" r="4.85"/>
<circle cx="659.6" cy="191.7" r="4.85" fill="#98D83E"/>
<circle cx="287.8" cy="285.3" r="4.85" fill="#98D83E"/>
<circle cx="159.7" cy="406.4" r="4.85" fill="#460B5D"/>
<circle cx="368.1" cy="433.4" r="4.85" fill="#297A8E"/>
<circle cx="730.9" cy="513.0" r="4.85"/>
<circle cx="235.4" cy="374.2" r="4.85" fill="#433E84"/>
<circle cx="902.3" cy="363.0" r="4.85"/>
<circle cx="538.9" cy="452.1" r="4.85" fill="#460B5D"/>
<circle cx="259.3" cy="440.9" r="4.85" fill="#453680"/>
<circle cx="247.0" cy="299.1" r="4.85" fill="#3A548B"/>
<circle cx="481.4" cy="361.6" r="4.85" fill="#460B5D"/>
<circle cx="261.0" cy="362.5" r="4.85" fill="#460B5D"/>
<circle cx="629.1" cy="523.2" r="4.85" fill="#460B5D"/>
<circle cx="721.9" cy="305.0" r="4.85"/>
<circle cx="829.7" cy="358.4" r="4.85"/>
<circle cx="921.7" cy="534.9" r="4.85" fill="#27818E"/>
<circle cx="636.2" cy="398.1" r="4.85" fill="#460B5D"/>
<circle cx="792.8" cy="622.6" r="4.85" fill="#460B5D"/>
<circle cx="935.5" cy="675.5" r="4.85"/>
<circle cx="466.4" cy="462.3" r="4.85"/>
<circle cx="513.4" cy="420.5" r="4.85"/>
<circle cx="555.9" cy="392.8" r="4.85" fill="#460B5D"/>
<circle cx="255.0" cy="228.7" r="4.85"/>
<circle cx="746.2" cy="496.4" r="4.85"/>
<circle cx="704.1" cy="439.4" r="4.85" fill="#460B5D"/>
<circle cx="224.3" cy="387.8" r="4.85"/>
<circle cx="785.6" cy="373.4" r="4.85" fill="#460B5D"/>
<circle cx="428.5" cy="410.5" r="4.85"/>
<circle cx="530.0" cy="342.7" r="4.85" fill="#460B5D"/>
<circle cx="657.3" cy="382.4" r="4.85"/>
<circle cx="815.9" cy="532.6" r="4.85"/>
<circle cx="510.8" cy="499.9" r="4.85" fill="#460B5D"/>
<circle cx="728.3" cy="265.5" r="4.85" fill="#24878D"/>
<circle cx="635.2" cy="493.2" r="4.85" fill="#31678D"/>
<circle cx="733.0" cy="402.6" r="4.85" fill="#460B5D"/>
<circle cx="921.8" cy="542.8" r="4.85" fill="#460B5D"/>
<circle cx="634.8" cy="423.3" r="4.85" fill="#460B5D"/>
<circle cx="914.3" cy="634.3" r="4.85" fill="#3D4D8A"/>
<circle cx="859.1" cy="498.1" r="4.85" fill="#2B748E"/>
<circle cx="716.7" cy="526.1" r="4.85" fill="#460B5D"/>
<circle cx="420.6" cy="270.3" r="4.85" fill="#460B5D"/>
<circle cx="736.6" cy="477.1" r="4.85"/>
<circle cx="941.1" cy="221.2" r="4.85"/>
<circle cx="342.2" cy="507.2" r="4.85" fill="#375B8C"/>
<circle cx="549.3" cy="465.8" r="4.85" fill="#460B5D"/>
<circle cx="222.6" cy="380.5" r="4.85"/>
<circle cx="760.0" cy="436.5" r="4.85"/>
<circle cx="745.1" cy="548.5" r="4.85" fill="#34618D"/>
<circle cx="888.5" cy="375.7" r="4.85" fill="#453680"/>
<circle cx="859.9" cy="392.8" r="4.85" fill="#460B5D"/>
<circle cx="436.1" cy="431.5" r="4.85" fill="#4CC26C"/>
<circle cx="395.0" cy="208.3" r="4.85"/>
<circle cx="230.9" cy="389.9" r="4.85" fill="#34618D"/>
<circle cx="630.6" cy="463.2" r="4.85"/>
<circle cx="891.6" cy="581.6" r="4.85"/>
<circle cx="464.1" cy="296.8" r="4.85"/>
<circle cx="816.1" cy="360.1" r="4.85"/>
<circle cx="675.0" cy="630.6" r="4.85" fill="#472D7B"/>
<circle cx="772.1" cy="739.7" r="4.85"/>
<circle cx="652.6" cy="523.9" r="4.85" fill="#460B5D"/>
<circle cx="279.6" cy="491.8" r="4.85"/>
<circle cx="755.4" cy="513.8" r="4.85" fill="#460B5D"/>
<circle cx="848.5" cy="561.8" r="4.85" fill="#460B5D"/>
<circle cx="360.3" cy="394.0" r="4.85" fill="#460B5D"/>
<circle cx="167.1" cy="276.3" r="4.85" fill="#3D4D8A"/>
<circle cx="430.9" cy="446.2" r="4.85"/>
<circle cx="232.1" cy="215.2" r="4.85" fill="#460B5D"/>
<circle cx="990.9" cy="177.9" r="4.85"/>
<circle cx="935.9" cy="548.4" r="4.85"/>
<circle cx="306.7" cy="303.9" r="4.85"/>
<circle cx="912.8" cy="326.8" r="4.85" fill="#460B5D"/>
<circle cx="201.0" cy="298.9" r="4.85" fill="#3A548B"/>
<circle cx="802.3" cy="303.0" r="4.85" fill="#433E84"/>
<circle cx="729.9" cy="473.5" r="4.85" fill="#481467"/>
<circle cx="817.0" cy="666.4" r="4.85" fill="#297A8E"/>
<circle cx="363.9" cy="458.3" r="4.85" fill="#3A548B"/>
<circle cx="402.5" cy="232.1" r="4.85"/>
<circle cx="684.8" cy="512.3" r="4.85" fill="#460B5D"/>
<circle cx="547.3" cy="385.4" r="4.85" fill="#460B5D"/>
<circle cx="475.4" cy="542.1" r="4.85" fill="#460B5D"/>
<circle cx="973.7" cy="205.2" r="4.85"/>
<circle cx="333.5" cy="387.6" r="4.85"/>
<circle cx="918.3" cy="466.9" r="4.85"/>
<circle cx="678.9" cy="425.3" r="4.85" fill="#87D549"/>
<circle cx="236.0" cy="435.0" r="4.85" fill="#414587"/>
<circle cx="672.2" cy="539.2" r="4.85" fill="#4CC26C"/>
<circle cx="691.7" cy="308.4" r="4.85" fill="#460B5D"/>
<circle cx="332.5" cy="320.7" r="4.85"/>
<circle cx="422.1" cy="308.9" r="4.85" fill="#460B5D"/>
<circle cx="665.2" cy="513.7" r="4.85"/>
<circle cx="408.0" cy="519.5" r="4.85" fill="#460B5D"/>
<circle cx="766.9" cy="477.5" r="4.85"/>
<circle cx="331.3" cy="465.1" r="4.85" fill="#31678D"/>
<circle cx="781.5" cy="418.8" r="4.85"/>
<circle cx="231.9" cy="393.5" r="4.85"/>
<circle cx="724.1" cy="387.9" r="4.85"/>
<circle cx="279.8" cy="429.1" r="4.85" fill="#414587"/>
<circle cx="530.2" cy="495.6" r="4.85"/>
<circle cx="352.0" cy="443.6" r="4.85" fill="#460B5D"/>
<circle cx="841.8" cy="639.8" r="4.85" fill="#482576"/>
<circle cx="515.8" cy="504.5" r="4.85" fill="#460B5D"/>
<circle cx="296.5" cy="347.2" r="4.85" fill="#433E84"/>
<circle cx="923.1" cy="259.2" r="4.85"/>
<circle cx="896.8" cy="396.9" r="4.85" fill="#1F998A"/>
<circle cx="386.0" cy="506.1" r="4.85" fill="#3A548B"/>
<circle cx="468.9" cy="407.4" r="4.85" fill="#460B5D"/>
<circle cx="304.0" cy="218.6" r="4.85" fill="#460B5D"/>
<circle cx="602.2" cy="417.0" r="4.85"/>
<circle cx="442.5" cy="359.0" r="4.85"/>
<circle cx="409.4" cy="321.2" r="4.85" fill="#433E84"/>
<circle cx="576.6" cy="424.5" r="4.85" fill="#460B5D"/>
<circle cx="867.2" cy="731.7" r="4.85" fill="#3A548B"/>
<circle cx="955.6" cy="476.9" r="4.85" fill="#3A548B"/>
<circle cx="276.3" cy="454.4" r="4.85" fill="#453680"/>
<circle cx="385.9" cy="531.0" r="4.85" fill="#460B5D"/>
<circle cx="484.0" cy="497.1" r="4.85" fill="#460B5D"/>
<circle cx="928.4" cy="191.2" r="4.85" fill="#460B5D"/>
<circle cx="275.8" cy="299.1" r="4.85"/>
<circle cx="811.8" cy="470.6" r="4.85"/>
<circle cx="281.5" cy="344.3" r="4.85" fill="#453680"/>
<circle cx="777.9" cy="487.0" r="4.85" fill="#481467"/>
<circle cx="903.0" cy="505.3" r="4.85" fill="#27818E"/>
<circle cx="938.4" cy="155.4" r="4.85" fill="#460B5D"/>
<circle cx="914.1" cy="401.4" r="4.85" fill="#433E84"/>
<circle cx="778.8" cy="395.8" r="4.85"/>
<circle cx="470.0" cy="442.2" r="4.85" fill="#481467"/>
<circle cx="960.0" cy="508.9" r="4.85" fill="#414587"/>
<circle cx="288.2" cy="234.9" r="4.85" fill="#453680"/>
<circle cx="927.7" cy="340.9" r="4.85" fill="#2E6E8E"/>
<circle cx="391.2" cy="292.7" r="4.85"/>
<circle cx="719.5" cy="314.6" r="4.85" fill="#460B5D"/>
<circle cx="265.0" cy="380.5" r="4.85" fill="#31678D"/>
<circle cx="540.6" cy="345.0" r="4.85"/>
<circle cx="250.9" cy="432.9" r="4.85" fill="#375B8C"/>
<circle cx="201.9" cy="285.9" r="4.85" fill="#460B5D"/>
<circle cx="248.9" cy="209.3" r="4.85" fill="#375B8C"/>
<circle cx="228.8" cy="305.3" r="4.85" fill="#460B5D"/>
<circle cx="525.0" cy="319.2" r="4.85"/>
<circle cx="1010.2" cy="562.5" r="4.85"/>
<circle cx="919.7" cy="547.4" r="4.85" fill="#460B5D"/>
<circle cx="469.7" cy="297.3" r="4.85" fill="#460B5D"/>
<circle cx="974.9" cy="138.0" r="4.85" fill="#460B5D"/>
<circle cx="408.7" cy="523.4" r="4.85"/>
<circle cx="324.7" cy="490.3" r="4.85" fill="#460B5D"/>
<circle cx="356.5" cy="410.8" r="4.85"/>
<circle cx="938.3" cy="146.0" r="4.85" fill="#460B5D"/>
<circle cx="823.5" cy="509.3" r="4.85" fill="#460B5D"/>
<circle cx="945.1" cy="159.6" r="4.85" fill="#87D549"/>
<circle cx="853.7" cy="475.6" r="4.85" fill="#414587"/>
<circle cx="997.1" cy="234.2" r="4.85" fill="#460B5D"/>
<circle cx="734.5" cy="510.9" r="4.85" fill="#460B5D"/>
<circle cx="828.8" cy="397.9" r="4.85" fill="#460B5D"/>
<circle cx="658.9" cy="454.2" r="4.85" fill="#460B5D"/>
<circle cx="376.6" cy="416.1" r="4.85" fill="#460B5D"/>
<circle cx="968.0" cy="204.7" r="4.85" fill="#460B5D"/>
<circle cx="342.1" cy="371.1" r="4.85" fill="#460B5D"/>
<circle cx="430.5" cy="427.3" r="4.85" fill="#460B5D"/>
<circle cx="309.0" cy="488.0" r="4.85" fill="#433E84"/>
<circle cx="295.3" cy="425.6" r="4.85"/>
<circle cx="445.7" cy="487.1" r="4.85"/>
<circle cx="558.3" cy="544.2" r="4.85" fill="#460B5D"/>
<circle cx="616.4" cy="572.3" r="4.85" fill="#460B5D"/>
<circle cx="505.9" cy="450.1" r="4.85"/>
<circle cx="970.7" cy="275.1" r="4.85"/>
<circle cx="925.9" cy="453.1" r="4.85" fill="#460B5D"/>
<circle cx="428.0" cy="526.6" r="4.85" fill="#2B748E"/>
<circle cx="940.9" cy="316.9" r="4.85" fill="#34618D"/>
<circle cx="690.1" cy="452.1" r="4.85" fill="#460B5D"/>
<circle cx="572.2" cy="323.3" r="4.85"/>
<circle cx="398.5" cy="465.1" r="4.85" fill="#453680"/>
<circle cx="962.7" cy="455.3" r="4.85" fill="#2E6E8E"/>
<circle cx="971.4" cy="173.1" r="4.85" fill="#BADE28"/>
<circle cx="318.8" cy="493.2" r="4.85" fill="#460B5D"/>
<circle cx="781.4" cy="420.5" r="4.85" fill="#481467"/>
<circle cx="698.0" cy="356.7" r="4.85" fill="#375B8C"/>
<circle cx="978.4" cy="468.9" r="4.85" fill="#4CC26C"/>
<circle cx="934.0" cy="230.7" r="4.85" fill="#3D4D8A"/>
<circle cx="612.9" cy="495.4" r="4.85" fill="#460B5D"/>
<circle cx="321.7" cy="382.6" r="4.85"/>
<circle cx="233.3" cy="440.9" r="4.85"/>
<circle cx="715.8" cy="439.2" r="4.85" fill="#460B5D"/>
<circle cx="599.1" cy="458.8" r="4.85" fill="#460B5D"/>
<circle cx="961.0" cy="114.7" r="4.85" fill="#460B5D"/>
<circle cx="906.4" cy="433.9" r="4.85"/>
<circle cx="592.2" cy="458.0" r="4.85"/>
<circle cx="277.1" cy="342.8" r="4.85" fill="#414587"/>
<circle cx="319.6" cy="429.0" r="4.85" fill="#460B5D"/>
<circle cx="386.2" cy="463.0" r="4.85"/>
<circle cx="309.6" cy="273.2" r="4.85"/>
<circle cx="790.9" cy="607.8" r="4.85"/>
<circle cx="211.0" cy="402.3" r="4.85" fill="#375B8C"/>
<circle cx="800.6" cy="344.4" r="4.85" fill="#460B5D"/>
<circle cx="705.5" cy="410.4" r="4.85" fill="#460B5D"/>
<circle cx="937.8" cy="215.3" r="4.85" fill="#414587"/>
<circle cx="249.0" cy="302.5" r="4.85"/>
<circle cx="278.0" cy="374.1" r="4.85" fill="#3A548B"/>
<circle cx="363.0" cy="317.6" r="4.85" fill="#460B5D"/>
<circle cx="271.8" cy="385.2" r="4.85" fill="#24878D"/>
<circle cx="959.2" cy="270.7" r="4.85" fill="#460B5D"/>
<circle cx="903.6" cy="103.2" r="4.85" fill="#460B5D"/>
<circle cx="416.6" cy="392.2" r="4.85" fill="#460B5D"/>
<circle cx="536.7" cy="382.4" r="4.85" fill="#460B5D"/>
<circle cx="929.5" cy="635.9" r="4.85" fill="#59C765"/>
<circle cx="305.1" cy="440.3" r="4.85" fill="#460B5D"/>
<circle cx="209.1" cy="287.0" r="4.85"/>
<circle cx="644.3" cy="463.2" r="4.85" fill="#460B5D"/>
<circle cx="893.7" cy="288.7" r="4.85" fill="#460B5D"/>
<circle cx="222.2" cy="356.3" r="4.85" fill="#460B5D"/>
<circle cx="384.5" cy="289.5" r="4.85"/>
<circle cx="729.2" cy="373.7" r="4.85" fill="#460B5D"/>
<circle cx="208.7" cy="345.3" r="4.85" fill="#472D7B"/>
<circle cx="882.3" cy="435.6" r="4.85"/>
<circle cx="544.0" cy="345.5" r="4.85"/>
<circle cx="281.6" cy="264.4" r="4.85" fill="#460B5D"/>
<circle cx="950.9" cy="145.3" r="4.85" fill="#460B5D"/>
<circle cx="474.3" cy="528.1" r="4.85"/>
<circle cx="392.3" cy="402.2" r="4.85" fill="#460B5D"/>
<circle cx="904.0" cy="124.9" r="4.85" fill="#CBE120"/>
<circle cx="251.1" cy="332.1" r="4.85" fill="#460B5D"/>
<circle cx="381.6" cy="460.9" r="4.85" fill="#460B5D"/>
<circle cx="273.4" cy="390.9" r="4.85" fill="#26AB81"/>
<circle cx="655.0" cy="416.7" r="4.85"/>
<circle cx="429.9" cy="465.7" r="4.85" fill="#460B5D"/>
<circle cx="693.2" cy="611.7" r="4.85" fill="#460B5D"/>
<circle cx="271.0" cy="378.2" r="4.85"/>
<circle cx="958.5" cy="142.6" r="4.85" fill="#453680"/>
<circle cx="199.5" cy="498.1" r="4.85" fill="#472D7B"/>
<circle cx="690.5" cy="565.6" r="4.85"/>
<circle cx="985.4" cy="242.2" r="4.85" fill="#453680"/>
<circle cx="716.9" cy="465.2" r="4.85"/>
<circle cx="320.5" cy="431.9" r="4.85"/>
<circle cx="896.1" cy="218.3" r="4.85" fill="#375B8C"/>
<circle cx="246.0" cy="247.4" r="4.85" fill="#460B5D"/>
<circle cx="907.8" cy="357.0" r="4.85"/>
<circle cx="247.9" cy="353.4" r="4.85"/>
<circle cx="738.7" cy="387.9" r="4.85" fill="#2E6E8E"/>
<circle cx="938.3" cy="210.3" r="4.85" fill="#460B5D"/>
<circle cx="936.3" cy="333.8" r="4.85" fill="#453680"/>
<circle cx="547.0" cy="402.9" r="4.85"/>
<circle cx="830.5" cy="286.1" r="4.85" fill="#DDE319"/>
<circle cx="658.7" cy="393.6" r="4.85"/>
<circle cx="845.4" cy="461.3" r="4.85"/>
<circle cx="978.1" cy="257.5" r="4.85" fill="#460B5D"/>
<circle cx="901.3" cy="512.0" r="4.85" fill="#3A548B"/>
<circle cx="649.5" cy="540.2" r="4.85" fill="#460B5D"/>
<circle cx="649.6" cy="553.8" r="4.85" fill="#2B748E"/>
<circle cx="612.3" cy="385.1" r="4.85" fill="#460B5D"/>
<circle cx="779.1" cy="405.2" r="4.85" fill="#460B5D"/>
<circle cx="822.2" cy="326.5" r="4.85" fill="#1F998A"/>
<circle cx="804.6" cy="252.4" r="4.85" fill="#460B5D"/>
<circle cx="193.4" cy="400.9" r="4.85" fill="#460B5D"/>
<circle cx="771.7" cy="367.0" r="4.85" fill="#460B5D"/>
<circle cx="772.7" cy="625.9" r="4.85" fill="#460B5D"/>
<circle cx="226.7" cy="367.7" r="4.85"/>
<circle cx="276.3" cy="432.8" r="4.85"/>
<circle cx="926.4" cy="306.1" r="4.85"/>
<circle cx="356.1" cy="511.9" r="4.85" fill="#3D4D8A"/>
<circle cx="730.1" cy="458.3" r="4.85" fill="#460B5D"/>
<circle cx="925.9" cy="458.3" r="4.85"/>
<circle cx="900.7" cy="303.1" r="4.85"/>
<circle cx="304.3" cy="490.0" r="4.85" fill="#460B5D"/>
<circle cx="496.8" cy="398.9" r="4.85" fill="#460B5D"/>
<circle cx="941.9" cy="172.5" r="4.85"/>
<circle cx="638.3" cy="457.4" r="4.85" fill="#460B5D"/>
<circle cx="961.7" cy="216.3" r="4.85" fill="#76D153"/>
<circle cx="353.9" cy="368.6" r="4.85" fill="#460B5D"/>
<circle cx="245.1" cy="372.0" r="4.85" fill="#482576"/>
<circle cx="925.9" cy="159.4" r="4.85" fill="#460B5D"/>
<circle cx="690.3" cy="286.1" r="4.85"/>
<circle cx="538.6" cy="548.8" r="4.85" fill="#460B5D"/>
<circle cx="211.6" cy="429.0" r="4.85"/>
<circle cx="575.8" cy="485.3" r="4.85"/>
<circle cx="421.0" cy="428.5" r="4.85" fill="#481467"/>
<circle cx="588.7" cy="536.0" r="4.85"/>
<circle cx="746.5" cy="293.7" r="4.85" fill="#460B5D"/>
<circle cx="665.8" cy="512.3" r="4.85"/>
<circle cx="949.5" cy="396.9" r="4.85" fill="#460B5D"/>
<circle cx="612.3" cy="403.3" r="4.85"/>
<circle cx="914.3" cy="363.5" r="4.85" fill="#27818E"/>
<circle cx="980.2" cy="255.3" r="4.85"/>
<circle cx="853.3" cy="619.5" r="4.85" fill="#460B5D"/>
<circle cx="272.7" cy="339.1" r="4.85" fill="#460B5D"/>
<circle cx="884.9" cy="537.1" r="4.85" fill="#460B5D"/>
<circle cx="610.6" cy="585.9" r="4.85" fill="#34618D"/>
<circle cx="484.4" cy="443.0" r="4.85" fill="#460B5D"/>
<circle cx="186.5" cy="311.7" r="4.85"/>
<circle cx="313.2" cy="377.7" r="4.85" fill="#460B5D"/>
<circle cx="587.1" cy="428.7" r="4.85" fill="#87D549"/>
<circle cx="769.0" cy="296.4" r="4.85" fill="#460B5D"/>
<circle cx="970.4" cy="286.1" r="4.85" fill="#4CC26C"/>
<circle cx="874.8" cy="357.4" r="4.85" fill="#59C765"/>
<circle cx="820.0" cy="612.3" r="4.85"/>
<circle cx="250.7" cy="367.8" r="4.85" fill="#433E84"/>
<circle cx="693.7" cy="642.3" r="4.85"/>
<circle cx="862.0" cy="586.9" r="4.85" fill="#375B8C"/>
<circle cx="968.4" cy="521.7" r="4.85" fill="#2E6E8E"/>
<circle cx="385.4" cy="358.0" r="4.85" fill="#460B5D"/>
<circle cx="932.2" cy="463.2" r="4.85" fill="#414587"/>
<circle cx="1015.7" cy="248.5" r="4.85"/>
<circle cx="889.8" cy="613.4" r="4.85" fill="#31678D"/>
<circle cx="588.1" cy="274.3" r="4.85"/>
<circle cx="670.2" cy="577.7" r="4.85"/>
<circle cx="176.9" cy="417.7" r="4.85" fill="#481D6E"/>
<circle cx="303.4" cy="340.8" r="4.85" fill="#460B5D"/>
<circle cx="271.7" cy="261.8" r="4.85"/>
<circle cx="717.9" cy="288.2" r="4.85"/>
<circle cx="571.0" cy="449.6" r="4.85" fill="#2E6E8E"/>
<circle cx="702.1" cy="336.5" r="4.85" fill="#460B5D"/>
<circle cx="949.9" cy="662.9" r="4.85" fill="#20938C"/>
<circle cx="305.0" cy="399.0" r="4.85" fill="#76D153"/>
<circle cx="750.0" cy="411.7" r="4.85" fill="#460B5D"/>
<circle cx="370.4" cy="374.1" r="4.85" fill="#460B5D"/>
<circle cx="239.7" cy="417.9" r="4.85" fill="#481D6E"/>
<circle cx="587.0" cy="437.0" r="4.85" fill="#460B5D"/>
<circle cx="914.9" cy="646.4" r="4.85"/>
<circle cx="262.8" cy="419.8" r="4.85" fill="#472D7B"/>
<circle cx="276.7" cy="335.3" r="4.85" fill="#482576"/>
<circle cx="655.6" cy="448.3" r="4.85" fill="#460B5D"/>
<circle cx="193.9" cy="254.1" r="4.85" fill="#460B5D"/>
<circle cx="334.2" cy="427.3" r="4.85"/>
<circle cx="953.0" cy="295.6" r="4.85" fill="#481467"/>
<circle cx="922.9" cy="309.0" r="4.85" fill="#460B5D"/>
<circle cx="586.5" cy="585.3" r="4.85"/>
<circle cx="179.4" cy="361.8" r="4.85" fill="#460B5D"/>
<circle cx="955.5" cy="190.7" r="4.85"/>
<circle cx="305.2" cy="262.8" r="4.85"/>
<circle cx="649.1" cy="286.6" r="4.85" fill="#460B5D"/>
<circle cx="521.1" cy="373.3" r="4.85" fill="#3A548B"/>
<circle cx="627.7" cy="416.7" r="4.85" fill="#460B5D"/>
<circle cx="739.2" cy="574.8" r="4.85"/>
<circle cx="941.6" cy="165.3" r="4.85" fill="#481467"/>
<circle cx="581.4" cy="416.8" r="4.85" fill="#460B5D"/>
<circle cx="865.7" cy="329.7" r="4.85" fill="#460B5D"/>
<circle cx="921.9" cy="461.0" r="4.85" fill="#228D8C"/>
<circle cx="670.2" cy="390.2" r="4.85"/>
<circle cx="488.8" cy="534.9" r="4.85"/>
<circle cx="843.4" cy="398.9" r="4.85" fill="#2CB17D"/>
<circle cx="325.2" cy="604.0" r="4.85" fill="#482576"/>
<circle cx="885.5" cy="499.8" r="4.85" fill="#472D7B"/>
<circle cx="939.8" cy="105.9" r="4.85" fill="#460B5D"/>
<circle cx="961.0" cy="171.3" r="4.85"/>
<circle cx="200.9" cy="300.0" r="4.85" fill="#460B5D"/>
<circle cx="195.4" cy="291.1" r="4.85"/>
<circle cx="816.6" cy="284.6" r="4.85" fill="#460B5D"/>
<circle cx="620.9" cy="602.5" r="4.85" fill="#76D153"/>
<circle cx="304.0" cy="425.6" r="4.85" fill="#375B8C"/>
<circle cx="404.6" cy="487.6" r="4.85"/>
<circle cx="403.9" cy="337.3" r="4.85" fill="#460B5D"/>
<circle cx="278.6" cy="232.2" r="4.85" fill="#460B5D"/>
<circle cx="578.2" cy="458.5" r="4.85"/>
<circle cx="220.6" cy="399.1" r="4.85" fill="#3D4D8A"/>
<circle cx="883.0" cy="199.5" r="4.85" fill="#482576"/>
<circle cx="699.1" cy="398.9" r="4.85"/>
<circle cx="633.7" cy="465.0" r="4.85" fill="#460B5D"/>
<circle cx="757.8" cy="404.3" r="4.85" fill="#31678D"/>
<circle cx="740.8" cy="560.2" r="4.85" fill="#22A585"/>
<circle cx="501.9" cy="296.5" r="4.85"/>
<circle cx="546.0" cy="362.2" r="4.85"/>
<circle cx="984.0" cy="328.1" r="4.85" fill="#CBE120"/>
<circle cx="908.4" cy="180.4" r="4.85"/>
<circle cx="262.8" cy="245.3" r="4.85" fill="#1F998A"/>
<circle cx="782.3" cy="384.5" r="4.85" fill="#460B5D"/>
<circle cx="526.6" cy="471.2" r="4.85" fill="#EDE51F"/>
<circle cx="231.8" cy="285.0" r="4.85" fill="#460B5D"/>
<circle cx="936.2" cy="225.2" r="4.85" fill="#34618D"/>
<circle cx="857.3" cy="425.3" r="4.85"/>
<circle cx="798.1" cy="461.3" r="4.85" fill="#27818E"/>
<circle cx="936.2" cy="219.4" r="4.85" fill="#460B5D"/>
<circle cx="713.9" cy="560.6" r="4.85" fill="#481467"/>
<circle cx="957.9" cy="279.4" r="4.85" fill="#24878D"/>
<circle cx="210.1" cy="274.2" r="4.85"/>
<circle cx="769.4" cy="410.5" r="4.85"/>
<circle cx="294.5" cy="480.4" r="4.85" fill="#453680"/>
<circle cx="689.3" cy="445.7" r="4.85"/>
<circle cx="210.0" cy="295.9" r="4.85"/>
<circle cx="445.2" cy="376.3" r="4.85" fill="#460B5D"/>
<circle cx="730.0" cy="676.7" r="4.85"/>
<circle cx="725.5" cy="443.2" r="4.85" fill="#CBE120"/>
<circle cx="236.2" cy="464.3" r="4.85" fill="#3A548B"/>
<circle cx="734.0" cy="389.9" r="4.85"/>
<circle cx="924.8" cy="213.8" r="4.85" fill="#472D7B"/>
<circle cx="960.1" cy="221.4" r="4.85" fill="#460B5D"/>
<circle cx="531.2" cy="696.9" r="4.85" fill="#22A585"/>
<circle cx="941.5" cy="344.5" r="4.85" fill="#36B778"/>
<circle cx="227.8" cy="237.7" r="4.85"/>
<circle cx="202.8" cy="330.2" r="4.85" fill="#460B5D"/>
<circle cx="577.3" cy="419.7" r="4.85" fill="#460B5D"/>
<circle cx="280.7" cy="284.3" r="4.85" fill="#460B5D"/>
<circle cx="931.2" cy="162.6" r="4.85" fill="#460B5D"/>
<circle cx="909.4" cy="462.8" r="4.85" fill="#375B8C"/>
<circle cx="733.0" cy="503.6" r="4.85" fill="#460B5D"/>
<circle cx="632.9" cy="555.4" r="4.85" fill="#460B5D"/>
<circle cx="580.3" cy="456.9" r="4.85"/>
<circle cx="637.2" cy="331.4" r="4.85" fill="#2E6E8E"/>
<circle cx="852.0" cy="300.9" r="4.85"/>
<circle cx="313.6" cy="368.5" r="4.85"/>
<circle cx="937.1" cy="343.9" r="4.85" fill="#22A585"/>
<circle cx="886.4" cy="500.5" r="4.85" fill="#34618D"/>
<circle cx="856.0" cy="446.4" r="4.85"/>
<circle cx="877.7" cy="483.2" r="4.85"/>
<circle cx="207.9" cy="395.0" r="4.85" fill="#472D7B"/>
<circle cx="686.6" cy="463.1" r="4.85" fill="#67CC5C"/>
<circle cx="259.0" cy="301.9" r="4.85" fill="#3D4D8A"/>
<circle cx="970.1" cy="359.4" r="4.85" fill="#2B748E"/>
<circle cx="496.4" cy="388.5" r="4.85"/>
<circle cx="279.4" cy="509.5" r="4.85" fill="#A9DB33"/>
<circle cx="968.5" cy="313.9" r="4.85" fill="#460B5D"/>
<circle cx="718.2" cy="516.8" r="4.85" fill="#460B5D"/>
<circle cx="515.3" cy="467.9" r="4.85" fill="#460B5D"/>
<circle cx="224.8" cy="426.6" r="4.85" fill="#472D7B"/>
<circle cx="414.3" cy="433.1" r="4.85" fill="#460B5D"/>
<circle cx="989.6" cy="149.6" r="4.85"/>
<circle cx="584.8" cy="333.0" r="4.85" fill="#460B5D"/>
<circle cx="822.1" cy="770.6" r="4.85" fill="#2E6E8E"/>
<circle cx="575.9" cy="386.2" r="4.85" fill="#A9DB33"/>
<circle cx="642.6" cy="590.9" r="4.85" fill="#460B5D"/>
<circle cx="199.2" cy="242.7" r="4.85"/>
<circle cx="233.1" cy="286.8" r="4.85" fill="#375B8C"/>
<circle cx="263.3" cy="256.4" r="4.85" fill="#31678D"/>
<circle cx="1000.8" cy="283.8" r="4.85" fill="#481467"/>
<circle cx="601.5" cy="361.5" r="4.85" fill="#460B5D"/>
<circle cx="896.7" cy="136.5" r="4.85" fill="#472D7B"/>
<circle cx="394.2" cy="175.0" r="4.85" fill="#BADE28"/>
<circle cx="227.0" cy="315.5" r="4.85" fill="#481D6E"/>
<circle cx="339.2" cy="519.3" r="4.85"/>
<circle cx="810.0" cy="579.8" r="4.85" fill="#460B5D"/>
<circle cx="463.8" cy="400.9" r="4.85"/>
<circle cx="867.7" cy="406.5" r="4.85" fill="#67CC5C"/>
<circle cx="645.4" cy="283.8" r="4.85"/>
<circle cx="958.6" cy="165.6" r="4.85" fill="#460B5D"/>
<circle cx="398.1" cy="453.7" r="4.85" fill="#460B5D"/>
<circle cx="749.5" cy="519.3" r="4.85" fill="#1F998A"/>
<circle cx="302.6" cy="421.3" r="4.85"/>
<circle cx="778.6" cy="291.3" r="4.85"/>
<circle cx="979.9" cy="115.3" r="4.85"/>
<circle cx="711.9" cy="486.4" r="4.85" fill="#A9DB33"/>
<circle cx="372.8" cy="391.5" r="4.85" fill="#2CB17D"/>
<circle cx="288.7" cy="327.2" r="4.85" fill="#34618D"/>
<circle cx="940.8" cy="273.4" r="4.85" fill="#460B5D"/>
<circle cx="862.6" cy="444.4" r="4.85" fill="#31678D"/>
<circle cx="352.5" cy="213.3" r="4.85"/>
<circle cx="942.1" cy="181.8" r="4.85" fill="#414587"/>
<circle cx="369.6" cy="479.3" r="4.85" fill="#460B5D"/>
<circle cx="932.4" cy="296.9" r="4.85" fill="#CBE120"/>
<circle cx="492.9" cy="289.9" r="4.85" fill="#460B5D"/>
<circle cx="201.0" cy="374.3" r="4.85"/>
<circle cx="563.3" cy="375.0" r="4.85" fill="#460B5D"/>
<circle cx="469.0" cy="341.2" r="4.85"/>
<circle cx="925.6" cy="177.1" r="4.85" fill="#460B5D"/>
<circle cx="659.0" cy="448.4" r="4.85"/>
<circle cx="911.7" cy="137.2" r="4.85"/>
<circle cx="286.6" cy="333.1" r="4.85" fill="#460B5D"/>
<circle cx="596.6" cy="333.8" r="4.85" fill="#460B5D"/>
<circle cx="222.6" cy="447.6" r="4.85" fill="#482576"/>
<circle cx="539.5" cy="290.4" r="4.85"/>
<circle cx="301.5" cy="441.7" r="4.85" fill="#481467"/>
<circle cx="190.0" cy="289.5" r="4.85"/>
<circle cx="477.0" cy="410.2" r="4.85" fill="#481467"/>
<circle cx="197.3" cy="417.5" r="4.85" fill="#460B5D"/>
<circle cx="977.6" cy="153.9" r="4.85" fill="#460B5D"/>
<circle cx="425.6" cy="457.6" r="4.85"/>
<circle cx="891.6" cy="500.6" r="4.85"/>
<circle cx="238.9" cy="196.3" r="4.85"/>
<circle cx="769.2" cy="481.7" r="4.85" fill="#460B5D"/>
<circle cx="902.8" cy="335.4" r="4.85" fill="#460B5D"/>
<circle cx="310.6" cy="379.1" r="4.85" fill="#460B5D"/>
<circle cx="180.9" cy="414.5" r="4.85" fill="#414587"/>
<circle cx="204.8" cy="287.5" r="4.85" fill="#375B8C"/>
<circle cx="468.2" cy="405.1" r="4.85" fill="#460B5D"/>
<circle cx="388.9" cy="462.3" r="4.85"/>
<circle cx="894.4" cy="393.1" r="4.85" fill="#4CC26C"/>
<circle cx="826.7" cy="525.1" r="4.85" fill="#414587"/>
<circle cx="744.3" cy="495.3" r="4.85" fill="#460B5D"/>
<circle cx="929.5" cy="364.6" r="4.85" fill="#2E6E8E"/>
<circle cx="578.4" cy="464.1" r="4.85" fill="#460B5D"/>
<circle cx="209.4" cy="281.7" r="4.85" fill="#472D7B"/>
<circle cx="728.3" cy="433.9" r="4.85"/>
<circle cx="578.4" cy="516.3" r="4.85" fill="#460B5D"/>
<circle cx="895.3" cy="340.9" r="4.85"/>
<circle cx="287.7" cy="535.8" r="4.85"/>
<circle cx="576.3" cy="444.4" r="4.85" fill="#67CC5C"/>
<circle cx="845.5" cy="332.3" r="4.85" fill="#460B5D"/>
<circle cx="497.4" cy="502.9" r="4.85" fill="#460B5D"/>
<circle cx="204.0" cy="351.7" r="4.85" fill="#460B5D"/>
<circle cx="278.8" cy="484.6" r="4.85" fill="#482576"/>
<circle cx="317.2" cy="311.2" r="4.85" fill="#460B5D"/>
<circle cx="529.9" cy="374.0" r="4.85" fill="#460B5D"/>
<circle cx="997.7" cy="317.1" r="4.85" fill="#4CC26C"/>
<circle cx="693.3" cy="547.6" r="4.85" fill="#460B5D"/>
<circle cx="901.6" cy="135.4" r="4.85" fill="#460B5D"/>
<circle cx="663.8" cy="187.5" r="4.85" fill="#76D153"/>
<circle cx="453.6" cy="475.5" r="4.85" fill="#460B5D"/>
<circle cx="364.0" cy="376.7" r="4.85" fill="#460B5D"/>
<circle cx="912.4" cy="485.5" r="4.85" fill="#76D153"/>
<circle cx="772.8" cy="518.1" r="4.85" fill="#460B5D"/>
<circle cx="701.7" cy="431.2" r="4.85"/>
<circle cx="292.8" cy="510.4" r="4.85" fill="#481467"/>
<circle cx="353.7" cy="393.4" r="4.85" fill="#460B5D"/>
<circle cx="935.0" cy="429.1" r="4.85" fill="#375B8C"/>
<circle cx="677.5" cy="530.0" r="4.85" fill="#27818E"/>
<circle cx="229.5" cy="355.8" r="4.85" fill="#4CC26C"/>
<circle cx="907.9" cy="130.4" r="4.85" fill="#460B5D"/>
<circle cx="844.1" cy="373.7" r="4.85" fill="#31678D"/>
<circle cx="168.5" cy="479.0" r="4.85" fill="#3A548B"/>
<circle cx="195.7" cy="413.5" r="4.85" fill="#375B8C"/>
<circle cx="442.8" cy="342.9" r="4.85" fill="#433E84"/>
<circle cx="897.5" cy="314.9" r="4.85" fill="#472D7B"/>
<circle cx="893.3" cy="309.4" r="4.85" fill="#481467"/>
<circle cx="314.8" cy="280.5" r="4.85" fill="#481467"/>
<circle cx="284.6" cy="453.4" r="4.85"/>
<circle cx="893.7" cy="524.3" r="4.85" fill="#460B5D"/>
<circle cx="444.6" cy="505.5" r="4.85" fill="#481467"/>
<circle cx="344.9" cy="390.8" r="4.85"/>
<circle cx="996.9" cy="318.8" r="4.85" fill="#472D7B"/>
<circle cx="925.9" cy="216.8" r="4.85" fill="#3A548B"/>
<circle cx="383.5" cy="311.0" r="4.85"/>
<circle cx="710.9" cy="574.5" r="4.85" fill="#34618D"/>
<circle cx="715.9" cy="461.2" r="4.85" fill="#460B5D"/>
<circle cx="793.2" cy="633.5" r="4.85"/>
<circle cx="656.6" cy="422.1" r="4.85" fill="#460B5D"/>
<circle cx="615.4" cy="518.7" r="4.85"/>
<circle cx="741.7" cy="519.1" r="4.85" fill="#460B5D"/>
<circle cx="276.7" cy="291.1" r="4.85" fill="#3D4D8A"/>
<circle cx="583.8" cy="364.6" r="4.85"/>
<circle cx="254.3" cy="352.2" r="4.85" fill="#414587"/>
<circle cx="255.8" cy="330.5" r="4.85" fill="#482576"/>
<circle cx="279.0" cy="354.9" r="4.85"/>
<circle cx="923.5" cy="237.5" r="4.85" fill="#460B5D"/>
<circle cx="333.0" cy="349.9" r="4.85" fill="#460B5D"/>
<circle cx="276.3" cy="445.1" r="4.85" fill="#460B5D"/>
<circle cx="807.5" cy="246.7" r="4.85"/>
<circle cx="266.7" cy="374.8" r="4.85" fill="#460B5D"/>
<circle cx="753.7" cy="392.4" r="4.85"/>
<circle cx="952.7" cy="156.1" r="4.85" fill="#2E6E8E"/>
<circle cx="933.7" cy="466.4" r="4.85" fill="#24878D"/>
<circle cx="299.9" cy="419.5" r="4.85" fill="#482576"/>
<circle cx="433.8" cy="333.1" r="4.85" fill="#481467"/>
<circle cx="728.2" cy="421.8" r="4.85" fill="#460B5D"/>
<circle cx="659.5" cy="334.7" r="4.85" fill="#4CC26C"/>
<circle cx="810.9" cy="461.3" r="4.85" fill="#2B748E"/>
<circle cx="737.6" cy="550.9" r="4.85"/>
<circle cx="737.3" cy="422.1" r="4.85"/>
<circle cx="882.2" cy="438.0" r="4.85" fill="#24878D"/>
<circle cx="504.8" cy="484.8" r="4.85" fill="#67CC5C"/>
<circle cx="246.8" cy="388.8" r="4.85" fill="#460B5D"/>
<circle cx="269.2" cy="286.5" r="4.85" fill="#460B5D"/>
<circle cx="617.0" cy="474.9" r="4.85"/>
<circle cx="233.4" cy="437.0" r="4.85" fill="#433E84"/>
<circle cx="476.9" cy="670.9" r="4.85"/>
<circle cx="888.7" cy="523.9" r="4.85" fill="#460B5D"/>
<circle cx="588.0" cy="437.0" r="4.85" fill="#460B5D"/>
<circle cx="223.0" cy="403.7" r="4.85" fill="#34618D"/>
<circle cx="814.0" cy="421.7" r="4.85"/>
<circle cx="448.1" cy="483.9" r="4.85" fill="#460B5D"/>
<circle cx="295.7" cy="432.2" r="4.85" fill="#460B5D"/>
<circle cx="444.5" cy="291.7" r="4.85" fill="#34618D"/>
<circle cx="337.5" cy="423.5" r="4.85" fill="#460B5D"/>
<circle cx="260.1" cy="298.2" r="4.85"/>
<circle cx="240.7" cy="258.8" r="4.85" fill="#BADE28"/>
<circle cx="962.5" cy="66.7" r="4.85" fill="#460B5D"/>
<circle cx="893.9" cy="371.6" r="4.85"/>
<circle cx="714.3" cy="462.1" r="4.85"/>
<circle cx="778.4" cy="472.1" r="4.85"/>
<circle cx="270.4" cy="426.5" r="4.85" fill="#31678D"/>
<circle cx="274.3" cy="203.3" r="4.85" fill="#460B5D"/>
<circle cx="942.6" cy="415.9" r="4.85" fill="#34618D"/>
<circle cx="952.5" cy="285.3" r="4.85" fill="#460B5D"/>
<circle cx="610.5" cy="525.7" r="4.85"/>
<circle cx="617.0" cy="450.5" r="4.85"/>
<circle cx="210.4" cy="467.0" r="4.85" fill="#433E84"/>
<circle cx="873.5" cy="408.6" r="4.85" fill="#460B5D"/>
<circle cx="236.8" cy="379.2" r="4.85" fill="#481D6E"/>
<circle cx="266.2" cy="488.9" r="4.85" fill="#453680"/>
<circle cx="390.8" cy="492.0" r="4.85"/>
<circle cx="717.9" cy="350.4" r="4.85" fill="#460B5D"/>
<circle cx="509.4" cy="407.7" r="4.85"/>
<circle cx="327.6" cy="394.2" r="4.85" fill="#460B5D"/>
<circle cx="658.9" cy="330.2" r="4.85" fill="#460B5D"/>
<circle cx="888.2" cy="343.9" r="4.85" fill="#472D7B"/>
<circle cx="190.3" cy="329.9" r="4.85" fill="#453680"/>
<circle cx="213.2" cy="269.4" r="4.85" fill="#460B5D"/>
<circle cx="935.1" cy="506.9" r="4.85" fill="#36B778"/>
<circle cx="477.8" cy="293.2" r="4.85"/>
<circle cx="196.2" cy="337.8" r="4.85" fill="#472D7B"/>
<circle cx="181.2" cy="382.1" r="4.85" fill="#481467"/>
<circle cx="316.6" cy="482.8" r="4.85" fill="#460B5D"/>
<circle cx="231.9" cy="432.9" r="4.85" fill="#31678D"/>
<circle cx="810.0" cy="471.0" r="4.85"/>
<circle cx="459.3" cy="373.9" r="4.85"/>
<circle cx="246.9" cy="432.7" r="4.85"/>
<circle cx="936.1" cy="435.0" r="4.85" fill="#472D7B"/>
<circle cx="216.3" cy="434.7" r="4.85" fill="#460B5D"/>
<circle cx="816.3" cy="479.8" r="4.85" fill="#460B5D"/>
<circle cx="919.5" cy="609.3" r="4.85" fill="#24878D"/>
<circle cx="904.4" cy="590.3" r="4.85" fill="#34618D"/>
<circle cx="874.2" cy="243.8" r="4.85" fill="#34618D"/>
<circle cx="919.1" cy="399.6" r="4.85" fill="#24878D"/>
<circle cx="642.5" cy="279.0" r="4.85" fill="#460B5D"/>
<circle cx="226.4" cy="406.9" r="4.85" fill="#3A548B"/>
<circle cx="792.1" cy="383.1" r="4.85" fill="#460B5D"/>
<circle cx="265.1" cy="387.4" r="4.85"/>
<circle cx="604.8" cy="452.1" r="4.85" fill="#460B5D"/>
<circle cx="870.6" cy="609.2" r="4.85" fill="#76D153"/>
<circle cx="377.8" cy="326.6" r="4.85" fill="#460B5D"/>
<circle cx="270.3" cy="441.2" r="4.85" fill="#3D4D8A"/>
<circle cx="492.8" cy="501.7" r="4.85"/>
<circle cx="761.6" cy="449.1" r="4.85"/>
<circle cx="471.1" cy="364.8" r="4.85" fill="#460B5D"/>
<circle cx="255.4" cy="358.3" r="4.85" fill="#460B5D"/>
<circle cx="182.3" cy="354.1" r="4.85" fill="#460B5D"/>
<circle cx="261.9" cy="211.1" r="4.85" fill="#460B5D"/>
<circle cx="813.0" cy="441.0" r="4.85" fill="#460B5D"/>
<circle cx="540.9" cy="434.4" r="4.85" fill="#460B5D"/>
<circle cx="890.6" cy="632.3" r="4.85"/>
<circle cx="510.6" cy="412.1" r="4.85"/>
<circle cx="277.2" cy="386.8" r="4.85" fill="#472D7B"/>
<circle cx="923.0" cy="553.0" r="4.85" fill="#24878D"/>
<circle cx="222.3" cy="278.1" r="4.85" fill="#433E84"/>
<circle cx="276.8" cy="420.8" r="4.85"/>
<circle cx="327.4" cy="531.5" r="4.85" fill="#460B5D"/>
<circle cx="829.8" cy="636.0" r="4.85" fill="#3D4D8A"/>
<circle cx="239.0" cy="249.2" r="4.85" fill="#460B5D"/>
<circle cx="779.8" cy="514.0" r="4.85"/>
<circle cx="474.2" cy="227.9" r="4.85" fill="#A9DB33"/>
<circle cx="931.1" cy="427.0" r="4.85" fill="#433E84"/>
<circle cx="276.1" cy="306.0" r="4.85" fill="#460B5D"/>
<circle cx="201.8" cy="422.6" r="4.85"/>
<circle cx="687.9" cy="545.7" r="4.85" fill="#472D7B"/>
<circle cx="360.4" cy="400.7" r="4.85" fill="#460B5D"/>
<circle cx="444.1" cy="458.8" r="4.85" fill="#375B8C"/>
<circle cx="366.7" cy="401.1" r="4.85"/>
<circle cx="601.8" cy="412.5" r="4.85"/>
<circle cx="505.2" cy="363.1" r="4.85"/>
<circle cx="996.2" cy="171.4" r="4.85" fill="#31678D"/>
<circle cx="655.3" cy="449.8" r="4.85" fill="#460B5D"/>
<circle cx="827.1" cy="572.9" r="4.85" fill="#460B5D"/>
<circle cx="366.4" cy="422.4" r="4.85"/>
<circle cx="296.7" cy="404.4" r="4.85" fill="#460B5D"/>
<circle cx="624.7" cy="396.1" r="4.85" fill="#460B5D"/>
<circle cx="383.1" cy="436.0" r="4.85" fill="#460B5D"/>
<circle cx="215.0" cy="309.1" r="4.85"/>
<circle cx="875.3" cy="404.2" r="4.85" fill="#24878D"/>
<circle cx="408.0" cy="321.3" r="4.85" fill="#460B5D"/>
<circle cx="360.4" cy="373.2" r="4.85" fill="#27818E"/>
<circle cx="322.5" cy="441.8" r="4.85" fill="#31678D"/>
<circle cx="728.1" cy="449.5" r="4.85"/>
<circle cx="505.9" cy="585.9" r="4.85" fill="#460B5D"/>
<circle cx="311.6" cy="390.5" r="4.85"/>
<circle cx="954.0" cy="268.9" r="4.85"/>
<circle cx="901.3" cy="509.8" r="4.85" fill="#2E6E8E"/>
<circle cx="168.4" cy="338.0" r="4.85" fill="#460B5D"/>
<circle cx="249.0" cy="291.2" r="4.85" fill="#472D7B"/>
<circle cx="930.9" cy="283.4" r="4.85" fill="#460B5D"/>
<circle cx="748.7" cy="412.8" r="4.85" fill="#460B5D"/>
<circle cx="172.7" cy="443.5" r="4.85" fill="#2E6E8E"/>
<circle cx="335.3" cy="405.1" r="4.85" fill="#460B5D"/>
<circle cx="644.6" cy="156.7" r="4.85" fill="#DDE319"/>
<circle cx="554.5" cy="436.7" r="4.85"/>
<circle cx="746.7" cy="558.0" r="4.85"/>
<circle cx="918.8" cy="673.2" r="4.85"/>
<circle cx="719.5" cy="448.2" r="4.85"/>
<circle cx="927.4" cy="547.7" r="4.85"/>
<circle cx="538.1" cy="356.8" r="4.85"/>
<circle cx="375.2" cy="415.5" r="4.85" fill="#460B5D"/>
<circle cx="395.6" cy="301.3" r="4.85" fill="#472D7B"/>
<circle cx="918.1" cy="199.7" r="4.85"/>
<circle cx="943.9" cy="476.2" r="4.85" fill="#414587"/>
<circle cx="295.5" cy="339.7" r="4.85" fill="#460B5D"/>
<circle cx="174.2" cy="365.4" r="4.85" fill="#1F998A"/>
<circle cx="237.4" cy="423.6" r="4.85" fill="#3A548B"/>
<circle cx="940.5" cy="599.1" r="4.85" fill="#20938C"/>
<circle cx="312.8" cy="255.3" r="4.85" fill="#460B5D"/>
<circle cx="195.7" cy="318.6" r="4.85" fill="#472D7B"/>
<circle cx="432.2" cy="464.3" r="4.85"/>
<circle cx="311.2" cy="310.8" r="4.85" fill="#460B5D"/>
<circle cx="999.1" cy="444.9" r="4.85" fill="#3A548B"/>
<circle cx="941.8" cy="117.6" r="4.85" fill="#460B5D"/>
<circle cx="930.9" cy="100.1" r="4.85" fill="#460B5D"/>
<circle cx="361.1" cy="490.2" r="4.85"/>
<circle cx="412.2" cy="452.9" r="4.85"/>
<circle cx="254.1" cy="398.6" r="4.85"/>
<circle cx="929.6" cy="420.1" r="4.85" fill="#24878D"/>
<circle cx="926.3" cy="641.1" r="4.85" fill="#20938C"/>
<circle cx="397.2" cy="482.3" r="4.85" fill="#460B5D"/>
<circle cx="454.5" cy="513.7" r="4.85"/>
<circle cx="388.3" cy="367.3" r="4.85"/>
<circle cx="899.8" cy="585.5" r="4.85" fill="#414587"/>
<circle cx="298.4" cy="446.1" r="4.85" fill="#34618D"/>
<circle cx="541.0" cy="465.6" r="4.85"/>
<circle cx="665.6" cy="692.8" r="4.85" fill="#460B5D"/>
<circle cx="631.5" cy="320.0" r="4.85"/>
<circle cx="935.2" cy="283.2" r="4.85" fill="#460B5D"/>
<circle cx="259.8" cy="419.1" r="4.85" fill="#414587"/>
<circle cx="287.6" cy="418.7" r="4.85"/>
<circle cx="738.9" cy="528.0" r="4.85" fill="#460B5D"/>
<circle cx="207.3" cy="372.5" r="4.85" fill="#482576"/>
<circle cx="415.5" cy="497.7" r="4.85" fill="#460B5D"/>
<circle cx="351.5" cy="348.1" r="4.85"/>
<circle cx="210.1" cy="399.9" r="4.85"/>
<circle cx="248.2" cy="384.7" r="4.85" fill="#3D4D8A"/>
<circle cx="233.9" cy="353.9" r="4.85" fill="#460B5D"/>
<circle cx="454.4" cy="438.9" r="4.85" fill="#460B5D"/>
<circle cx="957.4" cy="231.4" r="4.85"/>
<circle cx="772.5" cy="202.9" r="4.85" fill="#59C765"/>
<circle cx="717.8" cy="382.0" r="4.85" fill="#460B5D"/>
<circle cx="456.3" cy="480.4" r="4.85" fill="#460B5D"/>
<circle cx="329.0" cy="280.4" r="4.85" fill="#297A8E"/>
<circle cx="926.3" cy="554.1" r="4.85" fill="#27818E"/>
<circle cx="897.3" cy="545.4" r="4.85"/>
<circle cx="449.5" cy="401.8" r="4.85" fill="#460B5D"/>
<circle cx="203.3" cy="405.1" r="4.85" fill="#3A548B"/>
<circle cx="348.5" cy="515.7" r="4.85" fill="#460B5D"/>
<circle cx="252.7" cy="361.8" r="4.85" fill="#460B5D"/>
<circle cx="215.2" cy="387.3" r="4.85" fill="#3D4D8A"/>
<circle cx="904.8" cy="487.0" r="4.85" fill="#EDE51F"/>
<circle cx="279.4" cy="380.0" r="4.85" fill="#460B5D"/>
<circle cx="649.0" cy="523.8" r="4.85" fill="#482576"/>
<circle cx="571.7" cy="363.7" r="4.85" fill="#27818E"/>
<circle cx="266.7" cy="291.9" r="4.85"/>
<circle cx="509.8" cy="417.7" r="4.85" fill="#460B5D"/>
<circle cx="497.0" cy="393.2" r="4.85" fill="#460B5D"/>
<circle cx="952.5" cy="365.3" r="4.85" fill="#59C765"/>
<circle cx="213.2" cy="247.1" r="4.85" fill="#34618D"/>
<circle cx="572.7" cy="389.4" r="4.85" fill="#481467"/>
<circle cx="555.9" cy="321.0" r="4.85" fill="#460B5D"/>
<circle cx="278.3" cy="308.0" r="4.85" fill="#460B5D"/>
<circle cx="937.6" cy="184.8" r="4.85" fill="#472D7B"/>
<circle cx="946.1" cy="353.3" r="4.85" fill="#24878D"/>
<circle cx="316.6" cy="376.3" r="4.85" fill="#414587"/>
<circle cx="610.4" cy="516.4" r="4.85" fill="#460B5D"/>
<circle cx="205.2" cy="407.4" r="4.85" fill="#433E84"/>
<circle cx="904.1" cy="187.7" r="4.85" fill="#460B5D"/>
<circle cx="970.4" cy="437.1" r="4.85" fill="#460B5D"/>
<circle cx="404.4" cy="352.5" r="4.85" fill="#460B5D"/>
<circle cx="516.5" cy="472.9" r="4.85"/>
<circle cx="276.1" cy="423.3" r="4.85"/>
<circle cx="776.8" cy="355.9" r="4.85" fill="#460B5D"/>
<circle cx="221.3" cy="365.8" r="4.85"/>
<circle cx="851.4" cy="323.6" r="4.85"/>
<circle cx="286.6" cy="358.4" r="4.85" fill="#460B5D"/>
<circle cx="202.1" cy="394.4" r="4.85"/>
<circle cx="271.6" cy="249.3" r="4.85" fill="#34618D"/>
<circle cx="483.8" cy="305.2" r="4.85"/>
<circle cx="350.3" cy="397.3" r="4.85"/>
<circle cx="851.8" cy="454.4" r="4.85" fill="#3D4D8A"/>
<circle cx="937.6" cy="463.2" r="4.85" fill="#460B5D"/>
<circle cx="291.3" cy="414.8" r="4.85" fill="#460B5D"/>
<circle cx="500.4" cy="543.1" r="4.85" fill="#460B5D"/>
<circle cx="739.3" cy="507.7" r="4.85" fill="#433E84"/>
<circle cx="902.6" cy="454.2" r="4.85" fill="#26AB81"/>
<circle cx="932.6" cy="371.3" r="4.85" fill="#472D7B"/>
<circle cx="688.0" cy="327.1" r="4.85" fill="#460B5D"/>
<circle cx="930.9" cy="478.9" r="4.85" fill="#34618D"/>
<circle cx="530.2" cy="574.6" r="4.85"/>
<circle cx="902.5" cy="340.1" r="4.85" fill="#3A548B"/>
<circle cx="466.0" cy="545.9" r="4.85"/>
<circle cx="776.6" cy="545.9" r="4.85"/>
<circle cx="498.2" cy="354.8" r="4.85" fill="#460B5D"/>
<circle cx="766.0" cy="545.5" r="4.85"/>
<circle cx="245.1" cy="286.8" r="4.85" fill="#433E84"/>
<circle cx="286.0" cy="391.1" r="4.85" fill="#460B5D"/>
<circle cx="520.9" cy="396.0" r="4.85" fill="#460B5D"/>
<circle cx="350.4" cy="387.0" r="4.85"/>
<circle cx="938.5" cy="418.9" r="4.85" fill="#2E6E8E"/>
<circle cx="473.9" cy="488.7" r="4.85" fill="#460B5D"/>
<circle cx="982.9" cy="236.3" r="4.85" fill="#460B5D"/>
<circle cx="385.8" cy="500.9" r="4.85" fill="#460B5D"/>
<circle cx="231.2" cy="443.5" r="4.85" fill="#482576"/>
<circle cx="982.1" cy="237.6" r="4.85" fill="#481D6E"/>
<circle cx="309.1" cy="445.0" r="4.85" fill="#460B5D"/>
<circle cx="842.2" cy="503.0" r="4.85" fill="#460B5D"/>
<circle cx="625.6" cy="653.8" r="4.85"/>
<circle cx="929.9" cy="373.6" r="4.85"/>
<circle cx="597.1" cy="374.0" r="4.85" fill="#460B5D"/>
<circle cx="320.8" cy="436.0" r="4.85"/>
<circle cx="249.7" cy="359.4" r="4.85" fill="#460B5D"/>
<circle cx="357.8" cy="389.4" r="4.85" fill="#3D4D8A"/>
<circle cx="966.0" cy="420.5" r="4.85" fill="#453680"/>
<circle cx="965.5" cy="236.8" r="4.85" fill="#433E84"/>
<circle cx="908.4" cy="162.7" r="4.85"/>
<circle cx="601.6" cy="339.5" r="4.85" fill="#460B5D"/>
<circle cx="650.4" cy="375.0" r="4.85" fill="#460B5D"/>
<circle cx="627.2" cy="307.1" r="4.85" fill="#460B5D"/>
<circle cx="393.0" cy="495.6" r="4.85"/>
<circle cx="787.7" cy="541.1" r="4.85" fill="#460B5D"/>
<circle cx="682.7" cy="409.9" r="4.85"/>
<circle cx="872.2" cy="362.4" r="4.85" fill="#3D4D8A"/>
<circle cx="266.4" cy="378.4" r="4.85" fill="#460B5D"/>
<circle cx="967.7" cy="274.0" r="4.85" fill="#460B5D"/>
<circle cx="935.9" cy="230.3" r="4.85" fill="#460B5D"/>
<circle cx="413.8" cy="527.1" r="4.85"/>
<circle cx="462.3" cy="342.9" r="4.85"/>
<circle cx="227.3" cy="394.7" r="4.85" fill="#460B5D"/>
<circle cx="526.1" cy="571.7" r="4.85" fill="#460B5D"/>
<circle cx="534.1" cy="328.5" r="4.85"/>
<circle cx="283.6" cy="309.6" r="4.85"/>
<circle cx="478.4" cy="343.4" r="4.85" fill="#460B5D"/>
<circle cx="761.3" cy="630.4" r="4.85" fill="#460B5D"/>
<circle cx="563.3" cy="474.2" r="4.85"/>
<circle cx="679.6" cy="547.9" r="4.85" fill="#460B5D"/>
<circle cx="774.6" cy="355.4" r="4.85" fill="#460B5D"/>
<circle cx="163.7" cy="298.7" r="4.85" fill="#2E6E8E"/>
<circle cx="849.9" cy="420.0" r="4.85"/>
<circle cx="622.3" cy="327.8" r="4.85" fill="#460B5D"/>
<circle cx="198.0" cy="286.3" r="4.85"/>
<circle cx="562.1" cy="489.4" r="4.85"/>
<circle cx="233.1" cy="320.6" r="4.85"/>
<circle cx="795.7" cy="421.0" r="4.85"/>
<circle cx="926.0" cy="207.6" r="4.85" fill="#460B5D"/>
<circle cx="306.2" cy="330.9" r="4.85"/>
<circle cx="216.6" cy="340.3" r="4.85"/>
<circle cx="219.5" cy="290.5" r="4.85" fill="#460B5D"/>
<circle cx="924.2" cy="196.3" r="4.85" fill="#460B5D"/>
<circle cx="489.9" cy="330.1" r="4.85" fill="#460B5D"/>
<circle cx="891.7" cy="546.4" r="4.85"/>
<circle cx="976.0" cy="107.6" r="4.85" fill="#460B5D"/>
<circle cx="671.7" cy="509.8" r="4.85"/>
<circle cx="781.1" cy="380.1" r="4.85" fill="#481467"/>
<circle cx="491.9" cy="444.9" r="4.85" fill="#460B5D"/>
<circle cx="488.3" cy="378.9" r="4.85" fill="#3D4D8A"/>
<circle cx="281.4" cy="254.8" r="4.85" fill="#460B5D"/>
<circle cx="595.4" cy="406.2" r="4.85"/>
<circle cx="300.1" cy="344.1" r="4.85"/>
<circle cx="803.3" cy="390.5" r="4.85"/>
<circle cx="654.8" cy="377.6" r="4.85" fill="#460B5D"/>
<circle cx="269.5" cy="341.6" r="4.85" fill="#460B5D"/>
<circle cx="507.4" cy="467.0" r="4.85" fill="#460B5D"/>
<circle cx="976.9" cy="430.7" r="4.85" fill="#3A548B"/>
<circle cx="956.4" cy="277.1" r="4.85" fill="#460B5D"/>
<circle cx="827.9" cy="543.8" r="4.85" fill="#460B5D"/>
<circle cx="275.7" cy="396.7" r="4.85" fill="#460B5D"/>
<circle cx="798.0" cy="452.8" r="4.85"/>
<circle cx="625.7" cy="346.6" r="4.85" fill="#2CB17D"/>
<circle cx="333.4" cy="332.1" r="4.85" fill="#460B5D"/>
<circle cx="263.7" cy="422.2" r="4.85" fill="#453680"/>
<circle cx="294.2" cy="268.4" r="4.85" fill="#460B5D"/>
<circle cx="298.7" cy="432.3" r="4.85" fill="#460B5D"/>
<circle cx="252.6" cy="274.3" r="4.85" fill="#481467"/>
<circle cx="261.9" cy="424.0" r="4.85" fill="#414587"/>
<circle cx="407.3" cy="527.7" r="4.85" fill="#460B5D"/>
<circle cx="280.2" cy="482.4" r="4.85" fill="#3A548B"/>
<circle cx="960.3" cy="199.5" r="4.85" fill="#460B5D"/>
<circle cx="961.0" cy="184.5" r="4.85"/>
<circle cx="230.1" cy="419.8" r="4.85" fill="#375B8C"/>
<circle cx="386.5" cy="557.9" r="4.85"/>
<circle cx="774.3" cy="457.4" r="4.85"/>
<circle cx="950.9" cy="597.8" r="4.85" fill="#34618D"/>
<circle cx="846.1" cy="319.3" r="4.85" fill="#460B5D"/>
<circle cx="888.7" cy="475.0" r="4.85" fill="#2B748E"/>
<circle cx="261.2" cy="255.5" r="4.85" fill="#453680"/>
<circle cx="446.4" cy="430.3" r="4.85" fill="#460B5D"/>
<circle cx="770.6" cy="578.8" r="4.85" fill="#414587"/>
<circle cx="924.0" cy="238.4" r="4.85"/>
<circle cx="935.3" cy="488.3" r="4.85" fill="#414587"/>
<circle cx="580.3" cy="497.9" r="4.85"/>
<circle cx="372.4" cy="434.9" r="4.85" fill="#460B5D"/>
<circle cx="893.8" cy="444.0" r="4.85" fill="#414587"/>
<circle cx="195.3" cy="278.4" r="4.85"/>
<circle cx="916.1" cy="384.6" r="4.85" fill="#460B5D"/>
<circle cx="958.2" cy="209.9" r="4.85" fill="#460B5D"/>
<circle cx="238.3" cy="421.4" r="4.85" fill="#481467"/>
<circle cx="355.8" cy="458.3" r="4.85"/>
<circle cx="591.6" cy="583.3" r="4.85"/>
<circle cx="943.1" cy="179.0" r="4.85" fill="#460B5D"/>
<circle cx="331.2" cy="215.8" r="4.85" fill="#482576"/>
<circle cx="678.5" cy="421.7" r="4.85"/>
<circle cx="355.8" cy="402.4" r="4.85" fill="#375B8C"/>
<circle cx="537.3" cy="492.1" r="4.85" fill="#460B5D"/>
<circle cx="407.9" cy="341.8" r="4.85" fill="#87D549"/>
<circle cx="620.8" cy="437.0" r="4.85" fill="#460B5D"/>
<circle cx="926.6" cy="177.1" r="4.85" fill="#460B5D"/>
<circle cx="951.1" cy="217.1" r="4.85" fill="#481467"/>
<circle cx="514.3" cy="336.4" r="4.85" fill="#2B748E"/>
<circle cx="748.8" cy="457.0" r="4.85" fill="#460B5D"/>
<circle cx="174.6" cy="443.0" r="4.85" fill="#453680"/>
<circle cx="912.5" cy="509.8" r="4.85" fill="#414587"/>
<circle cx="656.2" cy="404.3" r="4.85" fill="#460B5D"/>
<circle cx="919.5" cy="486.9" r="4.85" fill="#433E84"/>
<circle cx="379.1" cy="397.6" r="4.85" fill="#481467"/>
<circle cx="382.0" cy="436.5" r="4.85"/>
<circle cx="760.7" cy="582.5" r="4.85" fill="#34618D"/>
<circle cx="475.9" cy="443.2" r="4.85" fill="#481467"/>
<circle cx="220.9" cy="280.6" r="4.85" fill="#453680"/>
<circle cx="919.5" cy="586.2" r="4.85" fill="#433E84"/>
<circle cx="296.3" cy="361.6" r="4.85"/>
<circle cx="185.6" cy="398.2" r="4.85"/>
<circle cx="201.8" cy="390.2" r="4.85"/>
<circle cx="491.6" cy="423.0" r="4.85" fill="#460B5D"/>
<circle cx="342.6" cy="438.5" r="4.85" fill="#BADE28"/>
<circle cx="720.8" cy="236.2" r="4.85" fill="#3A548B"/>
<circle cx="368.9" cy="490.1" r="4.85" fill="#460B5D"/>
<circle cx="312.5" cy="431.9" r="4.85" fill="#460B5D"/>
<circle cx="216.3" cy="421.1" r="4.85" fill="#3D4D8A"/>
<circle cx="484.1" cy="358.2" r="4.85" fill="#460B5D"/>
<circle cx="887.6" cy="448.8" r="4.85" fill="#460B5D"/>
<circle cx="930.2" cy="545.6" r="4.85" fill="#2B748E"/>
<circle cx="282.1" cy="494.6" r="4.85" fill="#297A8E"/>
<circle cx="644.4" cy="595.5" r="4.85" fill="#26AB81"/>
<circle cx="835.2" cy="404.3" r="4.85" fill="#31678D"/>
<circle cx="939.7" cy="147.2" r="4.85"/>
<circle cx="749.9" cy="316.5" r="4.85" fill="#460B5D"/>
<circle cx="961.1" cy="168.4" r="4.85" fill="#460B5D"/>
<circle cx="300.6" cy="398.6" r="4.85" fill="#2E6E8E"/>
<circle cx="370.9" cy="455.3" r="4.85" fill="#460B5D"/>
<circle cx="766.6" cy="554.2" r="4.85" fill="#76D153"/>
<circle cx="165.0" cy="353.3" r="4.85" fill="#481467"/>
<circle cx="251.4" cy="275.3" r="4.85" fill="#453680"/>
<circle cx="948.9" cy="397.7" r="4.85" fill="#59C765"/>
<circle cx="216.1" cy="380.1" r="4.85"/>
<circle cx="950.5" cy="574.0" r="4.85"/>
<circle cx="962.7" cy="295.6" r="4.85" fill="#460B5D"/>
<circle cx="245.2" cy="431.6" r="4.85" fill="#482576"/>
<circle cx="774.4" cy="546.4" r="4.85" fill="#2B748E"/>
<circle cx="692.6" cy="444.5" r="4.85"/>
<circle cx="324.9" cy="462.6" r="4.85"/>
<circle cx="973.3" cy="279.2" r="4.85" fill="#460B5D"/>
<circle cx="731.0" cy="295.7" r="4.85"/>
<circle cx="783.2" cy="340.7" r="4.85" fill="#460B5D"/>
<circle cx="917.5" cy="577.2" r="4.85" fill="#460B5D"/>
<circle cx="753.3" cy="426.3" r="4.85" fill="#433E84"/>
<circle cx="303.8" cy="310.8" r="4.85"/>
<circle cx="362.8" cy="476.0" r="4.85"/>
<circle cx="328.9" cy="515.9" r="4.85" fill="#481467"/>
<circle cx="415.0" cy="404.0" r="4.85" fill="#460B5D"/>
<circle cx="247.6" cy="416.9" r="4.85" fill="#472D7B"/>
<circle cx="942.2" cy="370.7" r="4.85" fill="#453680"/>
<circle cx="218.6" cy="306.5" r="4.85" fill="#460B5D"/>
<circle cx="556.8" cy="434.3" r="4.85" fill="#460B5D"/>
<circle cx="963.3" cy="153.8" r="4.85" fill="#460B5D"/>
<circle cx="388.5" cy="486.0" r="4.85" fill="#460B5D"/>
<circle cx="933.8" cy="551.9" r="4.85" fill="#453680"/>
<circle cx="898.4" cy="435.1" r="4.85" fill="#481467"/>
<circle cx="225.5" cy="299.5" r="4.85" fill="#375B8C"/>
<circle cx="251.2" cy="312.9" r="4.85"/>
<circle cx="917.5" cy="136.0" r="4.85" fill="#460B5D"/>
<circle cx="315.5" cy="407.9" r="4.85" fill="#460B5D"/>
<circle cx="962.5" cy="277.7" r="4.85" fill="#460B5D"/>
<circle cx="213.9" cy="310.9" r="4.85" fill="#482576"/>
<circle cx="241.3" cy="283.1" r="4.85" fill="#34618D"/>
<circle cx="932.9" cy="602.6" r="4.85" fill="#453680"/>
<circle cx="878.4" cy="265.6" r="4.85"/>
<circle cx="949.4" cy="142.3" r="4.85"/>
<circle cx="719.0" cy="557.7" r="4.85" fill="#460B5D"/>
<circle cx="961.8" cy="218.3" r="4.85"/>
<circle cx="989.6" cy="182.3" r="4.85"/>
<circle cx="274.9" cy="361.2" r="4.85"/>
<circle cx="427.9" cy="434.9" r="4.85" fill="#2B748E"/>
<circle cx="925.3" cy="381.1" r="4.85" fill="#20938C"/>
<circle cx="338.3" cy="507.9" r="4.85"/>
<circle cx="209.4" cy="421.0" r="4.85"/>
<circle cx="559.8" cy="412.9" r="4.85"/>
<circle cx="791.9" cy="570.2" r="4.85" fill="#460B5D"/>
<circle cx="525.0" cy="358.4" r="4.85" fill="#460B5D"/>
<circle cx="329.5" cy="371.3" r="4.85" fill="#375B8C"/>
<circle cx="350.2" cy="493.8" r="4.85" fill="#460B5D"/>
<circle cx="232.8" cy="378.9" r="4.85" fill="#460B5D"/>
<circle cx="617.8" cy="368.2" r="4.85"/>
<circle cx="276.0" cy="397.5" r="4.85" fill="#472D7B"/>
<circle cx="903.8" cy="174.3" r="4.85"/>
<circle cx="829.7" cy="451.3" r="4.85"/>
<circle cx="377.9" cy="538.1" r="4.85" fill="#460B5D"/>
<circle cx="802.8" cy="433.3" r="4.85" fill="#460B5D"/>
<circle cx="922.9" cy="421.0" r="4.85" fill="#2B748E"/>
<circle cx="187.1" cy="465.3" r="4.85" fill="#34618D"/>
<circle cx="264.4" cy="319.4" r="4.85"/>
<circle cx="704.4" cy="504.8" r="4.85"/>
<circle cx="409.8" cy="418.9" r="4.85"/>
<circle cx="808.0" cy="535.3" r="4.85" fill="#460B5D"/>
<circle cx="437.9" cy="298.4" r="4.85"/>
<circle cx="870.8" cy="296.9" r="4.85" fill="#209F88"/>
<circle cx="712.6" cy="556.3" r="4.85" fill="#460B5D"/>
<circle cx="303.3" cy="420.6" r="4.85" fill="#460B5D"/>
<circle cx="303.4" cy="427.2" r="4.85" fill="#2B748E"/>
<circle cx="525.4" cy="361.1" r="4.85" fill="#460B5D"/>
<circle cx="621.6" cy="442.9" r="4.85"/>
<circle cx="651.4" cy="559.6" r="4.85"/>
<circle cx="959.7" cy="246.0" r="4.85" fill="#460B5D"/>
<circle cx="321.1" cy="484.3" r="4.85"/>
<circle cx="452.7" cy="454.4" r="4.85" fill="#460B5D"/>
<circle cx="401.1" cy="514.3" r="4.85"/>
<circle cx="360.7" cy="421.4" r="4.85" fill="#460B5D"/>
<circle cx="263.9" cy="242.6" r="4.85"/>
<circle cx="724.3" cy="437.9" r="4.85"/>
<circle cx="278.8" cy="499.8" r="4.85" fill="#375B8C"/>
<circle cx="567.6" cy="388.4" r="4.85"/>
<circle cx="596.7" cy="451.1" r="4.85" fill="#460B5D"/>
<circle cx="951.5" cy="217.6" r="4.85" fill="#460B5D"/>
<circle cx="235.5" cy="420.1" r="4.85" fill="#481467"/>
<circle cx="390.2" cy="359.9" r="4.85" fill="#460B5D"/>
<circle cx="168.2" cy="387.3" r="4.85"/>
<circle cx="789.6" cy="505.8" r="4.85"/>
<circle cx="256.4" cy="292.0" r="4.85" fill="#34618D"/>
<circle cx="915.1" cy="428.9" r="4.85" fill="#460B5D"/>
<circle cx="243.8" cy="404.7" r="4.85"/>
<circle cx="484.1" cy="436.0" r="4.85"/>
<circle cx="758.5" cy="616.3" r="4.85" fill="#460B5D"/>
<circle cx="604.9" cy="368.3" r="4.85" fill="#460B5D"/>
<circle cx="979.5" cy="194.1" r="4.85"/>
<circle cx="276.8" cy="375.3" r="4.85" fill="#460B5D"/>
<circle cx="243.8" cy="422.4" r="4.85"/>
<circle cx="253.2" cy="311.6" r="4.85" fill="#460B5D"/>
<circle cx="170.8" cy="295.2" r="4.85"/>
<circle cx="749.5" cy="447.3" r="4.85" fill="#481467"/>
<circle cx="659.6" cy="518.7" r="4.85"/>
<circle cx="632.7" cy="409.5" r="4.85" fill="#460B5D"/>
<circle cx="208.4" cy="418.9" r="4.85"/>
<circle cx="816.4" cy="386.3" r="4.85"/>
<circle cx="326.0" cy="424.8" r="4.85" fill="#460B5D"/>
<circle cx="425.1" cy="299.6" r="4.85" fill="#460B5D"/>
<circle cx="732.3" cy="469.9" r="4.85" fill="#460B5D"/>
<circle cx="731.9" cy="524.1" r="4.85"/>
<circle cx="641.2" cy="340.5" r="4.85" fill="#453680"/>
<circle cx="450.6" cy="355.5" r="4.85" fill="#460B5D"/>
<circle cx="283.8" cy="383.6" r="4.85" fill="#460B5D"/>
<circle cx="613.5" cy="296.2" r="4.85"/>
<circle cx="831.1" cy="460.1" r="4.85" fill="#460B5D"/>
<circle cx="267.5" cy="411.2" r="4.85" fill="#482576"/>
<circle cx="225.6" cy="294.6" r="4.85" fill="#414587"/>
<circle cx="331.5" cy="579.6" r="4.85" fill="#481467"/>
<circle cx="893.0" cy="349.4" r="4.85" fill="#2B748E"/>
<circle cx="950.2" cy="187.7" r="4.85" fill="#34618D"/>
<circle cx="231.2" cy="336.7" r="4.85" fill="#3D4D8A"/>
<circle cx="505.3" cy="377.3" r="4.85" fill="#460B5D"/>
<circle cx="810.2" cy="421.6" r="4.85" fill="#460B5D"/>
<circle cx="342.3" cy="490.7" r="4.85"/>
<circle cx="494.2" cy="442.7" r="4.85"/>
<circle cx="936.9" cy="159.9" r="4.85"/>
<circle cx="917.0" cy="231.1" r="4.85" fill="#460B5D"/>
<circle cx="624.8" cy="340.1" r="4.85" fill="#24878D"/>
<circle cx="822.3" cy="353.9" r="4.85"/>
<circle cx="848.3" cy="291.6" r="4.85"/>
<circle cx="225.1" cy="361.0" r="4.85" fill="#34618D"/>
<circle cx="947.5" cy="618.5" r="4.85" fill="#414587"/>
<circle cx="183.5" cy="350.0" r="4.85" fill="#31678D"/>
<circle cx="329.0" cy="242.3" r="4.85" fill="#472D7B"/>
<circle cx="866.4" cy="397.2" r="4.85" fill="#3D4D8A"/>
<circle cx="525.4" cy="340.0" r="4.85" fill="#460B5D"/>
<circle cx="456.3" cy="373.7" r="4.85" fill="#460B5D"/>
<circle cx="335.2" cy="435.6" r="4.85" fill="#2B748E"/>
<circle cx="494.7" cy="360.3" r="4.85" fill="#460B5D"/>
<circle cx="317.3" cy="435.5" r="4.85" fill="#482576"/>
<circle cx="802.6" cy="656.5" r="4.85" fill="#472D7B"/>
<circle cx="289.5" cy="399.2" r="4.85" fill="#375B8C"/>
<circle cx="790.1" cy="562.4" r="4.85"/>
<circle cx="509.2" cy="247.1" r="4.85"/>
<circle cx="600.0" cy="476.8" r="4.85"/>
<circle cx="229.2" cy="309.9" r="4.85" fill="#3A548B"/>
<circle cx="220.2" cy="239.1" r="4.85" fill="#375B8C"/>
<circle cx="844.2" cy="188.3" r="4.85"/>
<circle cx="466.5" cy="472.1" r="4.85" fill="#460B5D"/>
<circle cx="708.4" cy="563.7" r="4.85" fill="#460B5D"/>
<circle cx="363.4" cy="482.7" r="4.85"/>
<circle cx="299.8" cy="401.2" r="4.85" fill="#460B5D"/>
<circle cx="889.0" cy="282.9" r="4.85"/>
<circle cx="915.6" cy="706.5" r="4.85"/>
<circle cx="938.6" cy="240.6" r="4.85" fill="#31678D"/>
<circle cx="880.3" cy="570.3" r="4.85" fill="#481467"/>
<circle cx="941.8" cy="180.0" r="4.85" fill="#472D7B"/>
<circle cx="871.6" cy="544.9" r="4.85" fill="#22A585"/>
<circle cx="978.4" cy="159.9" r="4.85" fill="#34618D"/>
<circle cx="948.5" cy="190.1" r="4.85" fill="#460B5D"/>
<circle cx="772.2" cy="520.7" r="4.85" fill="#460B5D"/>
<circle cx="949.8" cy="346.9" r="4.85" fill="#22A585"/>
<circle cx="163.2" cy="387.2" r="4.85" fill="#460B5D"/>
<circle cx="217.3" cy="275.5" r="4.85"/>
<circle cx="318.5" cy="502.0" r="4.85" fill="#2CB17D"/>
<circle cx="584.7" cy="462.5" r="4.85"/>
<circle cx="579.1" cy="431.8" r="4.85"/>
<circle cx="732.6" cy="338.3" r="4.85"/>
<circle cx="285.1" cy="313.0" r="4.85"/>
<circle cx="244.1" cy="395.7" r="4.85" fill="#460B5D"/>
<circle cx="962.5" cy="598.7" r="4.85" fill="#209F88"/>
<circle cx="686.9" cy="465.5" r="4.85"/>
<circle cx="201.3" cy="378.7" r="4.85"/>
<circle cx="861.9" cy="299.4" r="4.85" fill="#375B8C"/>
<circle cx="626.8" cy="349.7" r="4.85" fill="#460B5D"/>
<circle cx="750.5" cy="592.6" r="4.85"/>
<circle cx="874.2" cy="319.0" r="4.85" fill="#460B5D"/>
<circle cx="930.5" cy="258.3" r="4.85" fill="#2B748E"/>
<circle cx="269.9" cy="284.6" r="4.85" fill="#414587"/>
<circle cx="283.5" cy="359.5" r="4.85" fill="#460B5D"/>
<circle cx="951.4" cy="91.4" r="4.85" fill="#34618D"/>
<circle cx="153.7" cy="354.0" r="4.85" fill="#3D4D8A"/>
<circle cx="460.2" cy="471.0" r="4.85" fill="#460B5D"/>
<circle cx="912.6" cy="271.5" r="4.85" fill="#472D7B"/>
<circle cx="723.9" cy="300.4" r="4.85" fill="#31678D"/>
<circle cx="357.3" cy="496.6" r="4.85" fill="#460B5D"/>
<circle cx="866.7" cy="514.2" r="4.85" fill="#297A8E"/>
<circle cx="807.1" cy="433.8" r="4.85"/>
<circle cx="1002.4" cy="208.3" r="4.85"/>
<circle cx="943.6" cy="229.7" r="4.85"/>
<circle cx="360.7" cy="432.0" r="4.85"/>
<circle cx="751.1" cy="427.7" r="4.85" fill="#460B5D"/>
<circle cx="422.2" cy="428.0" r="4.85" fill="#460B5D"/>
<circle cx="887.1" cy="328.2" r="4.85"/>
<circle cx="905.6" cy="125.7" r="4.85"/>
<circle cx="222.7" cy="276.6" r="4.85" fill="#453680"/>
<circle cx="954.0" cy="221.8" r="4.85" fill="#460B5D"/>
<circle cx="219.9" cy="394.0" r="4.85" fill="#460B5D"/>
<circle cx="825.2" cy="399.3" r="4.85"/>
<circle cx="340.0" cy="363.0" r="4.85" fill="#481467"/>
<circle cx="500.3" cy="287.1" r="4.85" fill="#460B5D"/>
<circle cx="772.1" cy="683.5" r="4.85"/>
<circle cx="471.7" cy="380.0" r="4.85" fill="#414587"/>
<circle cx="966.9" cy="167.9" r="4.85" fill="#460B5D"/>
<circle cx="868.8" cy="524.7" r="4.85" fill="#460B5D"/>
<circle cx="264.7" cy="288.6" r="4.85" fill="#3D4D8A"/>
<circle cx="359.0" cy="524.5" r="4.85"/>
<circle cx="981.1" cy="182.4" r="4.85" fill="#460B5D"/>
<circle cx="926.8" cy="603.5" r="4.85" fill="#481467"/>
<circle cx="698.1" cy="277.0" r="4.85" fill="#BADE28"/>
<circle cx="938.0" cy="153.2" r="4.85" fill="#433E84"/>
<circle cx="976.0" cy="230.1" r="4.85" fill="#31678D"/>
<circle cx="955.5" cy="327.5" r="4.85" fill="#472D7B"/>
<circle cx="497.0" cy="390.4" r="4.85"/>
<circle cx="224.6" cy="368.2" r="4.85" fill="#22A585"/>
<circle cx="367.0" cy="266.8" r="4.85" fill="#482576"/>
<circle cx="208.5" cy="453.8" r="4.85" fill="#34618D"/>
<circle cx="932.3" cy="260.9" r="4.85" fill="#460B5D"/>
<circle cx="428.3" cy="458.1" r="4.85"/>
<circle cx="280.2" cy="447.2" r="4.85" fill="#472D7B"/>
<circle cx="824.1" cy="552.5" r="4.85" fill="#460B5D"/>
<circle cx="970.8" cy="529.2" r="4.85" fill="#460B5D"/>
<circle cx="559.8" cy="458.4" r="4.85" fill="#433E84"/>
<circle cx="917.2" cy="203.6" r="4.85" fill="#482576"/>
<circle cx="950.9" cy="643.4" r="4.85" fill="#460B5D"/>
<circle cx="957.9" cy="249.2" r="4.85" fill="#460B5D"/>
<circle cx="302.6" cy="224.0" r="4.85" fill="#460B5D"/>
<circle cx="248.2" cy="284.7" r="4.85"/>
<circle cx="294.3" cy="492.8" r="4.85"/>
<circle cx="667.3" cy="299.0" r="4.85" fill="#460B5D"/>
<circle cx="899.7" cy="365.2" r="4.85" fill="#433E84"/>
<circle cx="1000.0" cy="225.9" r="4.85" fill="#460B5D"/>
<circle cx="306.1" cy="479.8" r="4.85" fill="#297A8E"/>
<circle cx="958.4" cy="665.7" r="4.85"/>
<circle cx="957.4" cy="215.0" r="4.85"/>
<circle cx="230.0" cy="390.4" r="4.85" fill="#460B5D"/>
<circle cx="181.5" cy="308.9" r="4.85" fill="#31678D"/>
<circle cx="976.8" cy="201.1" r="4.85"/>
<circle cx="242.0" cy="435.4" r="4.85" fill="#34618D"/>
<circle cx="508.6" cy="351.1" r="4.85" fill="#460B5D"/>
<circle cx="316.0" cy="249.2" r="4.85" fill="#EDE51F"/>
<circle cx="453.6" cy="416.6" r="4.85" fill="#460B5D"/>
<circle cx="928.9" cy="228.1" r="4.85" fill="#482576"/>
<circle cx="413.8" cy="286.2" r="4.85" fill="#460B5D"/>
<circle cx="965.1" cy="155.5" r="4.85" fill="#472D7B"/>
<circle cx="618.9" cy="562.9" r="4.85"/>
<circle cx="439.9" cy="502.0" r="4.85" fill="#67CC5C"/>
<circle cx="808.3" cy="395.7" r="4.85"/>
<circle cx="303.8" cy="304.5" r="4.85" fill="#414587"/>
<circle cx="992.6" cy="169.4" r="4.85"/>
<circle cx="281.9" cy="371.4" r="4.85" fill="#34618D"/>
<circle cx="879.4" cy="643.4" r="4.85" fill="#481467"/>
<circle cx="223.5" cy="493.9" r="4.85" fill="#433E84"/>
<circle cx="920.0" cy="613.2" r="4.85" fill="#67CC5C"/>
<circle cx="288.0" cy="304.3" r="4.85"/>
<circle cx="909.0" cy="201.9" r="4.85" fill="#3A548B"/>
<circle cx="267.7" cy="317.8" r="4.85" fill="#460B5D"/>
<circle cx="653.3" cy="528.2" r="4.85"/>
<circle cx="377.0" cy="365.0" r="4.85" fill="#460B5D"/>
<circle cx="925.2" cy="522.3" r="4.85"/>
<circle cx="798.2" cy="740.8" r="4.85" fill="#472D7B"/>
<circle cx="980.8" cy="128.0" r="4.85"/>
<circle cx="414.0" cy="389.1" r="4.85" fill="#460B5D"/>
<circle cx="919.0" cy="606.8" r="4.85" fill="#27818E"/>
<circle cx="773.0" cy="614.7" r="4.85" fill="#460B5D"/>
<circle cx="578.9" cy="391.6" r="4.85" fill="#460B5D"/>
<circle cx="199.6" cy="228.0" r="4.85" fill="#460B5D"/>
<circle cx="453.9" cy="453.3" r="4.85" fill="#460B5D"/>
<circle cx="932.4" cy="123.3" r="4.85" fill="#460B5D"/>
<circle cx="949.6" cy="335.9" r="4.85" fill="#460B5D"/>
<circle cx="266.6" cy="304.3" r="4.85"/>
<circle cx="271.0" cy="392.0" r="4.85" fill="#414587"/>
<circle cx="558.5" cy="370.1" r="4.85" fill="#375B8C"/>
<circle cx="399.8" cy="399.3" r="4.85"/>
<circle cx="618.2" cy="588.5" r="4.85" fill="#3D4D8A"/>
<circle cx="710.7" cy="620.7" r="4.85" fill="#460B5D"/>
<circle cx="763.8" cy="403.2" r="4.85" fill="#FDE725"/>
<circle cx="361.4" cy="424.4" r="4.85" fill="#460B5D"/>
<circle cx="291.9" cy="545.2" r="4.85" fill="#481467"/>
<circle cx="515.4" cy="415.3" r="4.85"/>
<circle cx="671.9" cy="479.6" r="4.85" fill="#460B5D"/>
<circle cx="941.1" cy="395.0" r="4.85" fill="#26AB81"/>
<circle cx="941.6" cy="294.6" r="4.85"/>
<circle cx="365.6" cy="386.6" r="4.85" fill="#460B5D"/>
<circle cx="332.4" cy="371.3" r="4.85" fill="#460B5D"/>
<circle cx="238.1" cy="364.0" r="4.85" fill="#375B8C"/>
<circle cx="571.7" cy="475.0" r="4.85" fill="#460B5D"/>
<circle cx="211.7" cy="245.6" r="4.85" fill="#460B5D"/>
<circle cx="977.9" cy="142.9" r="4.85"/>
<circle cx="864.5" cy="516.7" r="4.85" fill="#453680"/>
<circle cx="860.8" cy="477.8" r="4.85" fill="#460B5D"/>
<circle cx="370.6" cy="511.1" r="4.85" fill="#460B5D"/>
<circle cx="454.5" cy="311.7" r="4.85" fill="#460B5D"/>
<circle cx="263.5" cy="335.6" r="4.85"/>
<circle cx="946.9" cy="214.4" r="4.85"/>
<circle cx="622.4" cy="487.3" r="4.85" fill="#481467"/>
<circle cx="290.9" cy="402.6" r="4.85" fill="#460B5D"/>
<circle cx="784.3" cy="670.9" r="4.85"/>
<circle cx="864.2" cy="132.5" r="4.85"/>
<circle cx="786.7" cy="293.2" r="4.85"/>
<circle cx="952.1" cy="230.8" r="4.85" fill="#472D7B"/>
<circle cx="262.8" cy="388.6" r="4.85" fill="#460B5D"/>
<circle cx="559.4" cy="414.1" r="4.85"/>
<circle cx="273.9" cy="447.4" r="4.85" fill="#2E6E8E"/>
<circle cx="875.4" cy="503.2" r="4.85"/>
<circle cx="903.5" cy="603.9" r="4.85" fill="#375B8C"/>
<circle cx="881.6" cy="494.2" r="4.85" fill="#59C765"/>
<circle cx="656.6" cy="442.0" r="4.85"/>
<circle cx="526.8" cy="490.5" r="4.85" fill="#460B5D"/>
<circle cx="824.8" cy="549.5" r="4.85" fill="#27818E"/>
<circle cx="973.8" cy="395.9" r="4.85" fill="#31678D"/>
<circle cx="901.4" cy="109.7" r="4.85"/>
<circle cx="264.2" cy="377.5" r="4.85" fill="#460B5D"/>
<circle cx="207.9" cy="359.5" r="4.85"/>
<circle cx="939.6" cy="161.1" r="4.85" fill="#460B5D"/>
<circle cx="270.5" cy="454.7" r="4.85" fill="#481D6E"/>
<circle cx="984.9" cy="134.8" r="4.85"/>
<circle cx="358.0" cy="302.8" r="4.85"/>
<circle cx="786.1" cy="591.0" r="4.85" fill="#297A8E"/>
<circle cx="576.0" cy="416.0" r="4.85" fill="#460B5D"/>
<circle cx="437.1" cy="374.4" r="4.85" fill="#228D8C"/>
<circle cx="772.6" cy="567.7" r="4.85"/>
<circle cx="407.0" cy="279.9" r="4.85" fill="#460B5D"/>
<circle cx="905.0" cy="416.5" r="4.85" fill="#460B5D"/>
<circle cx="858.1" cy="591.2" r="4.85" fill="#460B5D"/>
<circle cx="366.9" cy="533.0" r="4.85" fill="#460B5D"/>
<circle cx="441.5" cy="375.8" r="4.85"/>
<circle cx="285.0" cy="294.3" r="4.85" fill="#460B5D"/>
<circle cx="489.6" cy="367.5" r="4.85"/>
<circle cx="596.7" cy="441.0" r="4.85" fill="#31678D"/>
<circle cx="719.5" cy="372.3" r="4.85" fill="#460B5D"/>
<circle cx="850.3" cy="367.8" r="4.85" fill="#460B5D"/>
<circle cx="236.9" cy="286.0" r="4.85" fill="#460B5D"/>
<circle cx="308.6" cy="380.8" r="4.85" fill="#460B5D"/>
<circle cx="242.8" cy="297.0" r="4.85" fill="#460B5D"/>
<circle cx="244.1" cy="427.9" r="4.85" fill="#3A548B"/>
<circle cx="564.3" cy="359.9" r="4.85" fill="#460B5D"/>
<circle cx="225.1" cy="342.5" r="4.85" fill="#3D4D8A"/>
<circle cx="932.4" cy="124.1" r="4.85"/>
<circle cx="852.2" cy="394.8" r="4.85" fill="#460B5D"/>
<circle cx="413.3" cy="398.1" r="4.85" fill="#481467"/>
<circle cx="215.2" cy="479.6" r="4.85" fill="#460B5D"/>
<circle cx="311.0" cy="350.4" r="4.85" fill="#460B5D"/>
<circle cx="596.6" cy="387.8" r="4.85"/>
<circle cx="546.1" cy="382.3" r="4.85"/>
<circle cx="349.1" cy="420.8" r="4.85" fill="#460B5D"/>
<circle cx="289.4" cy="216.7" r="4.85" fill="#375B8C"/>
<circle cx="204.9" cy="414.4" r="4.85"/>
<circle cx="460.8" cy="404.3" r="4.85"/>
<circle cx="347.5" cy="432.8" r="4.85" fill="#460B5D"/>
<circle cx="497.4" cy="376.6" r="4.85" fill="#67CC5C"/>
<circle cx="463.3" cy="339.6" r="4.85"/>
<circle cx="751.3" cy="529.3" r="4.85" fill="#2CB17D"/>
<circle cx="215.1" cy="408.3" r="4.85"/>
<circle cx="898.6" cy="503.9" r="4.85" fill="#27818E"/>
<circle cx="176.7" cy="275.9" r="4.85" fill="#460B5D"/>
<circle cx="580.7" cy="493.8" r="4.85" fill="#460B5D"/>
<circle cx="221.8" cy="281.3" r="4.85" fill="#59C765"/>
<circle cx="659.7" cy="450.4" r="4.85"/>
<circle cx="987.6" cy="266.3" r="4.85"/>
<circle cx="365.5" cy="509.1" r="4.85"/>
<circle cx="971.8" cy="265.1" r="4.85" fill="#460B5D"/>
<circle cx="950.3" cy="138.9" r="4.85" fill="#481467"/>
<circle cx="637.6" cy="448.8" r="4.85" fill="#31678D"/>
<circle cx="562.4" cy="313.8" r="4.85" fill="#228D8C"/>
<circle cx="269.0" cy="276.0" r="4.85" fill="#453680"/>
<circle cx="542.3" cy="466.9" r="4.85" fill="#460B5D"/>
<circle cx="425.9" cy="300.9" r="4.85"/>
<circle cx="620.5" cy="287.8" r="4.85"/>
<circle cx="479.5" cy="438.3" r="4.85" fill="#460B5D"/>
<circle cx="537.3" cy="281.2" r="4.85"/>
<circle cx="966.3" cy="328.2" r="4.85" fill="#31678D"/>
<circle cx="215.7" cy="338.3" r="4.85"/>
<circle cx="947.0" cy="98.5" r="4.85"/>
<circle cx="838.4" cy="421.8" r="4.85" fill="#472D7B"/>
<circle cx="385.9" cy="499.9" r="4.85" fill="#460B5D"/>
<circle cx="199.4" cy="363.9" r="4.85" fill="#460B5D"/>
<circle cx="289.1" cy="407.7" r="4.85" fill="#460B5D"/>
<circle cx="949.7" cy="498.8" r="4.85" fill="#453680"/>
<circle cx="574.2" cy="469.8" r="4.85"/>
<circle cx="282.6" cy="416.6" r="4.85"/>
<circle cx="947.8" cy="483.8" r="4.85" fill="#24878D"/>
<circle cx="932.4" cy="359.4" r="4.85" fill="#460B5D"/>
<circle cx="524.9" cy="414.6" r="4.85"/>
<circle cx="213.5" cy="393.5" r="4.85" fill="#460B5D"/>
<circle cx="265.3" cy="442.6" r="4.85"/>
<circle cx="402.3" cy="489.9" r="4.85"/>
<circle cx="818.3" cy="508.9" r="4.85" fill="#67CC5C"/>
<circle cx="259.6" cy="341.9" r="4.85" fill="#472D7B"/>
<circle cx="312.3" cy="337.2" r="4.85"/>
<circle cx="747.0" cy="493.1" r="4.85"/>
<circle cx="610.4" cy="378.0" r="4.85"/>
<circle cx="263.0" cy="381.2" r="4.85"/>
<circle cx="903.5" cy="420.1" r="4.85" fill="#460B5D"/>
<circle cx="206.1" cy="238.8" r="4.85"/>
<circle cx="908.1" cy="201.6" r="4.85" fill="#482576"/>
<circle cx="482.4" cy="469.8" r="4.85"/>
<circle cx="387.7" cy="575.4" r="4.85"/>
<circle cx="706.8" cy="571.4" r="4.85" fill="#433E84"/>
<circle cx="222.0" cy="285.1" r="4.85"/>
<circle cx="258.5" cy="212.5" r="4.85" fill="#453680"/>
<circle cx="368.9" cy="461.5" r="4.85"/>
<circle cx="277.9" cy="358.9" r="4.85"/>
<circle cx="672.6" cy="487.1" r="4.85" fill="#460B5D"/>
<circle cx="645.0" cy="355.4" r="4.85" fill="#209F88"/>
<circle cx="209.0" cy="270.5" r="4.85" fill="#3A548B"/>
<circle cx="280.7" cy="426.6" r="4.85"/>
<circle cx="735.2" cy="536.5" r="4.85"/>
<circle cx="182.6" cy="328.7" r="4.85" fill="#460B5D"/>
<circle cx="749.8" cy="322.1" r="4.85"/>
<circle cx="256.9" cy="239.5" r="4.85"/>
<circle cx="947.3" cy="147.4" r="4.85"/>
<circle cx="652.6" cy="507.9" r="4.85"/>
<circle cx="970.9" cy="303.7" r="4.85" fill="#472D7B"/>
<circle cx="615.7" cy="550.4" r="4.85" fill="#2E6E8E"/>
<circle cx="232.4" cy="417.9" r="4.85" fill="#375B8C"/>
<circle cx="714.4" cy="387.9" r="4.85"/>
<circle cx="709.5" cy="513.3" r="4.85"/>
<circle cx="395.8" cy="450.9" r="4.85" fill="#433E84"/>
<circle cx="357.5" cy="299.3" r="4.85" fill="#460B5D"/>
<circle cx="229.7" cy="415.8" r="4.85" fill="#375B8C"/>
<circle cx="292.7" cy="409.7" r="4.85" fill="#414587"/>
<circle cx="749.9" cy="643.4" r="4.85" fill="#EDE51F"/>
<circle cx="806.7" cy="315.1" r="4.85" fill="#460B5D"/>
<circle cx="246.5" cy="407.0" r="4.85" fill="#433E84"/>
<circle cx="300.0" cy="292.7" r="4.85"/>
<circle cx="397.3" cy="458.4" r="4.85" fill="#460B5D"/>
<circle cx="535.3" cy="395.2" r="4.85" fill="#460B5D"/>
<circle cx="294.9" cy="338.2" r="4.85" fill="#460B5D"/>
<circle cx="567.6" cy="332.7" r="4.85"/>
<circle cx="976.0" cy="367.1" r="4.85"/>
<circle cx="948.1" cy="169.4" r="4.85"/>
<circle cx="259.7" cy="451.8" r="4.85" fill="#34618D"/>
<circle cx="545.4" cy="410.7" r="4.85" fill="#460B5D"/>
<circle cx="310.1" cy="376.1" r="4.85" fill="#433E84"/>
<circle cx="437.6" cy="381.3" r="4.85"/>
<circle cx="496.8" cy="363.5" r="4.85"/>
<circle cx="932.6" cy="215.3" r="4.85" fill="#414587"/>
<circle cx="317.0" cy="515.6" r="4.85" fill="#460B5D"/>
<circle cx="284.5" cy="457.8" r="4.85" fill="#375B8C"/>
<circle cx="480.5" cy="285.1" r="4.85" fill="#460B5D"/>
<circle cx="243.1" cy="357.5" r="4.85" fill="#375B8C"/>
<circle cx="779.8" cy="406.8" r="4.85" fill="#76D153"/>
<circle cx="964.2" cy="428.4" r="4.85"/>
<circle cx="274.6" cy="442.4" r="4.85" fill="#482576"/>
<circle cx="941.2" cy="451.9" r="4.85"/>
<circle cx="679.5" cy="438.2" r="4.85" fill="#460B5D"/>
<circle cx="248.0" cy="246.2" r="4.85" fill="#472D7B"/>
<circle cx="818.9" cy="551.3" r="4.85" fill="#460B5D"/>
<circle cx="936.3" cy="220.5" r="4.85" fill="#453680"/>
<circle cx="924.8" cy="114.2" r="4.85"/>
<circle cx="449.9" cy="493.6" r="4.85" fill="#460B5D"/>
<circle cx="900.1" cy="605.9" r="4.85" fill="#460B5D"/>
<circle cx="438.0" cy="332.8" r="4.85" fill="#460B5D"/>
<circle cx="597.6" cy="514.9" r="4.85" fill="#460B5D"/>
<circle cx="391.4" cy="507.7" r="4.85" fill="#460B5D"/>
<circle cx="246.9" cy="216.5" r="4.85" fill="#460B5D"/>
<circle cx="313.3" cy="347.3" r="4.85"/>
<circle cx="509.3" cy="427.4" r="4.85" fill="#460B5D"/>
<circle cx="267.7" cy="325.8" r="4.85" fill="#3A548B"/>
<circle cx="280.2" cy="342.3" r="4.85"/>
<circle cx="253.3" cy="368.7" r="4.85" fill="#453680"/>
<circle cx="462.7" cy="293.9" r="4.85" fill="#460B5D"/>
<circle cx="934.8" cy="199.0" r="4.85"/>
<circle cx="783.1" cy="615.3" r="4.85" fill="#460B5D"/>
<circle cx="957.0" cy="300.4" r="4.85"/>
<circle cx="980.7" cy="197.3" r="4.85" fill="#460B5D"/>
<circle cx="969.5" cy="294.6" r="4.85" fill="#460B5D"/>
<circle cx="193.6" cy="285.2" r="4.85" fill="#482576"/>
<circle cx="717.7" cy="480.9" r="4.85" fill="#460B5D"/>
<circle cx="390.4" cy="402.7" r="4.85" fill="#460B5D"/>
<circle cx="614.4" cy="265.7" r="4.85" fill="#460B5D"/>
<circle cx="901.5" cy="126.5" r="4.85" fill="#460B5D"/>
<circle cx="318.1" cy="469.4" r="4.85"/>
<circle cx="353.8" cy="664.1" r="4.85"/>
<circle cx="238.8" cy="454.5" r="4.85" fill="#460B5D"/>
<circle cx="950.8" cy="185.7" r="4.85"/>
<circle cx="804.1" cy="406.0" r="4.85" fill="#20938C"/>
<circle cx="768.3" cy="307.3" r="4.85"/>
<circle cx="961.7" cy="612.8" r="4.85" fill="#460B5D"/>
<circle cx="326.4" cy="442.3" r="4.85" fill="#297A8E"/>
<circle cx="352.9" cy="366.5" r="4.85" fill="#2E6E8E"/>
<circle cx="353.3" cy="224.2" r="4.85"/>
<circle cx="480.2" cy="549.5" r="4.85" fill="#34618D"/>
<circle cx="219.8" cy="341.8" r="4.85"/>
<circle cx="672.3" cy="429.2" r="4.85"/>
<circle cx="958.5" cy="335.8" r="4.85" fill="#460B5D"/>
<circle cx="505.6" cy="363.8" r="4.85"/>
<circle cx="351.2" cy="452.2" r="4.85" fill="#460B5D"/>
<circle cx="872.6" cy="499.0" r="4.85" fill="#460B5D"/>
<circle cx="653.4" cy="511.3" r="4.85"/>
<circle cx="224.5" cy="379.4" r="4.85" fill="#414587"/>
<circle cx="183.9" cy="326.1" r="4.85" fill="#460B5D"/>
<circle cx="918.2" cy="434.4" r="4.85" fill="#20938C"/>
<circle cx="298.9" cy="464.0" r="4.85" fill="#460B5D"/>
<circle cx="706.7" cy="441.2" r="4.85"/>
<circle cx="452.8" cy="291.1" r="4.85"/>
<circle cx="976.9" cy="181.4" r="4.85" fill="#460B5D"/>
<circle cx="426.1" cy="418.2" r="4.85" fill="#460B5D"/>
<circle cx="184.1" cy="456.7" r="4.85"/>
<circle cx="998.7" cy="151.8" r="4.85"/>
<circle cx="329.8" cy="525.4" r="4.85" fill="#460B5D"/>
<circle cx="227.0" cy="377.1" r="4.85" fill="#433E84"/>
<circle cx="363.5" cy="339.1" r="4.85" fill="#481467"/>
<circle cx="577.7" cy="424.8" r="4.85" fill="#481467"/>
<circle cx="735.5" cy="499.5" r="4.85" fill="#460B5D"/>
<circle cx="690.5" cy="481.3" r="4.85" fill="#67CC5C"/>
<circle cx="241.5" cy="278.6" r="4.85"/>
<circle cx="277.1" cy="333.3" r="4.85" fill="#460B5D"/>
<circle cx="712.7" cy="334.3" r="4.85" fill="#460B5D"/>
<circle cx="460.4" cy="464.3" r="4.85"/>
<circle cx="434.1" cy="621.9" r="4.85"/>
<circle cx="397.3" cy="462.2" r="4.85"/>
<circle cx="814.9" cy="608.9" r="4.85" fill="#460B5D"/>
<circle cx="268.1" cy="367.4" r="4.85" fill="#481467"/>
<circle cx="966.2" cy="326.7" r="4.85"/>
<circle cx="359.8" cy="360.1" r="4.85"/>
<circle cx="374.8" cy="413.5" r="4.85" fill="#460B5D"/>
<circle cx="261.1" cy="392.1" r="4.85"/>
<circle cx="503.9" cy="393.5" r="4.85" fill="#460B5D"/>
<circle cx="943.3" cy="230.4" r="4.85"/>
<circle cx="337.7" cy="358.2" r="4.85" fill="#481467"/>
<circle cx="232.3" cy="395.4" r="4.85" fill="#460B5D"/>
<circle cx="925.0" cy="78.5" r="4.85" fill="#460B5D"/>
<circle cx="320.1" cy="498.9" r="4.85" fill="#481467"/>
<circle cx="301.1" cy="229.4" r="4.85" fill="#BADE28"/>
<circle cx="287.5" cy="275.4" r="4.85"/>
<circle cx="341.7" cy="372.8" r="4.85" fill="#460B5D"/>
<circle cx="635.6" cy="301.7" r="4.85"/>
<circle cx="815.4" cy="515.8" r="4.85" fill="#460B5D"/>
<circle cx="265.6" cy="408.1" r="4.85" fill="#453680"/>
<circle cx="522.1" cy="517.2" r="4.85" fill="#2E6E8E"/>
<circle cx="942.0" cy="252.7" r="4.85"/>
<circle cx="618.7" cy="395.9" r="4.85" fill="#460B5D"/>
<circle cx="282.2" cy="400.9" r="4.85" fill="#482576"/>
<circle cx="631.4" cy="561.6" r="4.85" fill="#34618D"/>
<circle cx="906.8" cy="347.9" r="4.85" fill="#1F998A"/>
<circle cx="269.3" cy="344.8" r="4.85"/>
<circle cx="903.2" cy="209.6" r="4.85"/>
<circle cx="943.1" cy="219.7" r="4.85"/>
<circle cx="287.5" cy="327.3" r="4.85" fill="#3D4D8A"/>
<circle cx="690.1" cy="355.2" r="4.85" fill="#460B5D"/>
<circle cx="970.6" cy="203.4" r="4.85"/>
<circle cx="443.9" cy="417.4" r="4.85" fill="#27818E"/>
<circle cx="252.8" cy="403.5" r="4.85" fill="#460B5D"/>
<circle cx="919.5" cy="389.4" r="4.85" fill="#453680"/>
<circle cx="474.1" cy="535.9" r="4.85"/>
<circle cx="975.9" cy="111.7" r="4.85"/>
<circle cx="998.9" cy="285.3" r="4.85" fill="#CBE120"/>
<circle cx="851.9" cy="396.9" r="4.85" fill="#4CC26C"/>
<circle cx="268.4" cy="248.3" r="4.85" fill="#453680"/>
<circle cx="469.4" cy="439.8" r="4.85"/>
<circle cx="560.1" cy="403.6" r="4.85"/>
<circle cx="306.1" cy="344.5" r="4.85" fill="#460B5D"/>
<circle cx="265.8" cy="382.2" r="4.85" fill="#3A548B"/>
<circle cx="306.2" cy="489.5" r="4.85"/>
<circle cx="261.8" cy="310.6" r="4.85" fill="#482576"/>
<circle cx="342.4" cy="548.3" r="4.85" fill="#460B5D"/>
<circle cx="918.9" cy="580.6" r="4.85" fill="#460B5D"/>
<circle cx="238.6" cy="386.1" r="4.85" fill="#472D7B"/>
<circle cx="921.8" cy="679.4" r="4.85" fill="#22A585"/>
<circle cx="878.3" cy="158.3" r="4.85"/>
<circle cx="966.7" cy="148.0" r="4.85"/>
<circle cx="419.5" cy="444.3" r="4.85" fill="#481467"/>
<circle cx="934.2" cy="339.9" r="4.85" fill="#453680"/>
<circle cx="952.4" cy="144.8" r="4.85" fill="#481467"/>
<circle cx="978.9" cy="106.3" r="4.85"/>
<circle cx="865.0" cy="531.3" r="4.85" fill="#3D4D8A"/>
<circle cx="430.5" cy="440.8" r="4.85" fill="#EDE51F"/>
<circle cx="302.4" cy="301.9" r="4.85"/>
<circle cx="323.7" cy="374.6" r="4.85" fill="#460B5D"/>
<circle cx="701.2" cy="420.6" r="4.85" fill="#460B5D"/>
<circle cx="213.5" cy="399.1" r="4.85" fill="#460B5D"/>
<circle cx="776.8" cy="362.8" r="4.85" fill="#460B5D"/>
<circle cx="686.5" cy="486.5" r="4.85"/>
<circle cx="630.6" cy="340.0" r="4.85"/>
<circle cx="813.0" cy="443.2" r="4.85" fill="#22A585"/>
<circle cx="350.0" cy="333.7" r="4.85"/>
<circle cx="778.9" cy="523.1" r="4.85"/>
<circle cx="291.7" cy="476.0" r="4.85" fill="#453680"/>
<circle cx="690.8" cy="440.2" r="4.85" fill="#460B5D"/>
<circle cx="364.6" cy="506.6" r="4.85" fill="#460B5D"/>
<circle cx="248.3" cy="328.0" r="4.85" fill="#481467"/>
<circle cx="370.9" cy="450.0" r="4.85" fill="#460B5D"/>
<circle cx="225.3" cy="446.5" r="4.85" fill="#3A548B"/>
<circle cx="208.2" cy="368.5" r="4.85" fill="#472D7B"/>
<circle cx="817.8" cy="586.9" r="4.85" fill="#453680"/>
<circle cx="881.2" cy="412.4" r="4.85" fill="#460B5D"/>
<circle cx="366.1" cy="479.9" r="4.85" fill="#460B5D"/>
<circle cx="749.9" cy="551.9" r="4.85" fill="#460B5D"/>
<circle cx="405.9" cy="369.9" r="4.85"/>
<circle cx="358.1" cy="333.2" r="4.85"/>
<circle cx="763.0" cy="435.5" r="4.85" fill="#EDE51F"/>
<circle cx="457.3" cy="374.5" r="4.85"/>
<circle cx="410.2" cy="474.7" r="4.85"/>
<circle cx="452.4" cy="490.0" r="4.85" fill="#460B5D"/>
<circle cx="203.5" cy="459.6" r="4.85" fill="#375B8C"/>
<circle cx="551.8" cy="356.6" r="4.85" fill="#460B5D"/>
<circle cx="378.3" cy="399.3" r="4.85"/>
<circle cx="955.7" cy="498.8" r="4.85"/>
<circle cx="858.8" cy="175.8" r="4.85"/>
<circle cx="259.3" cy="435.6" r="4.85" fill="#34618D"/>
<circle cx="961.0" cy="187.3" r="4.85" fill="#3D4D8A"/>
<circle cx="881.7" cy="626.5" r="4.85"/>
<circle cx="711.2" cy="452.3" r="4.85" fill="#460B5D"/>
<circle cx="252.4" cy="327.8" r="4.85" fill="#433E84"/>
<circle cx="616.2" cy="338.1" r="4.85" fill="#460B5D"/>
<circle cx="264.0" cy="492.4" r="4.85" fill="#31678D"/>
<circle cx="197.7" cy="477.8" r="4.85" fill="#472D7B"/>
<circle cx="683.1" cy="467.1" r="4.85" fill="#481467"/>
<circle cx="544.4" cy="291.8" r="4.85" fill="#460B5D"/>
<circle cx="223.8" cy="373.5" r="4.85"/>
<circle cx="275.8" cy="396.0" r="4.85" fill="#31678D"/>
<circle cx="213.1" cy="284.5" r="4.85" fill="#460B5D"/>
<circle cx="781.9" cy="299.3" r="4.85" fill="#460B5D"/>
<circle cx="802.5" cy="440.4" r="4.85" fill="#460B5D"/>
<circle cx="670.8" cy="179.2" r="4.85"/>
<circle cx="931.1" cy="446.3" r="4.85" fill="#22A585"/>
<circle cx="294.7" cy="383.7" r="4.85"/>
<circle cx="212.6" cy="362.9" r="4.85" fill="#460B5D"/>
<circle cx="706.0" cy="402.9" r="4.85"/>
<circle cx="928.0" cy="109.1" r="4.85"/>
<circle cx="282.8" cy="430.6" r="4.85" fill="#481467"/>
<circle cx="251.8" cy="316.6" r="4.85"/>
<circle cx="225.5" cy="292.7" r="4.85" fill="#460B5D"/>
<circle cx="308.9" cy="338.2" r="4.85" fill="#59C765"/>
<circle cx="426.5" cy="289.7" r="4.85" fill="#460B5D"/>
<circle cx="232.4" cy="344.3" r="4.85" fill="#460B5D"/>
<circle cx="585.6" cy="379.8" r="4.85"/>
<circle cx="195.0" cy="328.1" r="4.85"/>
<circle cx="312.1" cy="383.8" r="4.85"/>
<circle cx="239.2" cy="375.9" r="4.85" fill="#3D4D8A"/>
<circle cx="312.7" cy="484.5" r="4.85" fill="#460B5D"/>
<circle cx="760.9" cy="440.0" r="4.85" fill="#460B5D"/>
<circle cx="908.0" cy="438.6" r="4.85"/>
<circle cx="188.7" cy="290.4" r="4.85" fill="#31678D"/>
<circle cx="700.8" cy="411.9" r="4.85" fill="#27818E"/>
<circle cx="551.8" cy="445.5" r="4.85" fill="#472D7B"/>
<circle cx="946.2" cy="294.0" r="4.85" fill="#2B748E"/>
<circle cx="500.8" cy="451.5" r="4.85"/>
<circle cx="894.6" cy="464.2" r="4.85" fill="#36B778"/>
<circle cx="883.4" cy="346.2" r="4.85" fill="#460B5D"/>
<circle cx="896.2" cy="133.4" r="4.85" fill="#460B5D"/>
<circle cx="810.3" cy="452.4" r="4.85"/>
<circle cx="944.3" cy="338.8" r="4.85" fill="#460B5D"/>
<circle cx="447.6" cy="396.7" r="4.85"/>
<circle cx="207.8" cy="432.3" r="4.85" fill="#460B5D"/>
<circle cx="336.4" cy="381.9" r="4.85" fill="#481467"/>
<circle cx="664.6" cy="287.6" r="4.85" fill="#460B5D"/>
<circle cx="210.3" cy="295.1" r="4.85"/>
<circle cx="338.0" cy="457.1" r="4.85" fill="#A9DB33"/>
<circle cx="803.1" cy="371.6" r="4.85"/>
<circle cx="865.1" cy="453.5" r="4.85" fill="#460B5D"/>
<circle cx="797.5" cy="444.2" r="4.85"/>
<circle cx="930.3" cy="177.0" r="4.85"/>
<circle cx="749.8" cy="493.4" r="4.85" fill="#460B5D"/>
<circle cx="439.3" cy="417.6" r="4.85" fill="#460B5D"/>
<circle cx="909.8" cy="502.0" r="4.85" fill="#36B778"/>
<circle cx="656.8" cy="334.6" r="4.85" fill="#481467"/>
<circle cx="435.4" cy="344.4" r="4.85" fill="#433E84"/>
<circle cx="905.3" cy="444.5" r="4.85" fill="#24878D"/>
<circle cx="890.2" cy="426.1" r="4.85" fill="#22A585"/>
<circle cx="434.2" cy="492.0" r="4.85"/>
<circle cx="689.7" cy="578.6" r="4.85"/>
<circle cx="952.4" cy="570.9" r="4.85"/>
<circle cx="200.2" cy="385.2" r="4.85" fill="#EDE51F"/>
<circle cx="524.6" cy="455.8" r="4.85"/>
<circle cx="343.4" cy="282.6" r="4.85" fill="#460B5D"/>
<circle cx="581.7" cy="392.3" r="4.85" fill="#460B5D"/>
<circle cx="490.2" cy="579.7" r="4.85" fill="#460B5D"/>
<circle cx="834.0" cy="730.7" r="4.85"/>
<circle cx="566.5" cy="433.0" r="4.85" fill="#460B5D"/>
<circle cx="820.0" cy="215.8" r="4.85"/>
<circle cx="919.3" cy="228.4" r="4.85" fill="#40BD73"/>
<circle cx="260.4" cy="312.6" r="4.85" fill="#460B5D"/>
<circle cx="229.3" cy="323.6" r="4.85" fill="#460B5D"/>
<circle cx="344.6" cy="195.0" r="4.85"/>
<circle cx="557.6" cy="404.9" r="4.85" fill="#460B5D"/>
<circle cx="276.2" cy="527.5" r="4.85" fill="#453680"/>
<circle cx="923.4" cy="236.0" r="4.85"/>
<circle cx="245.0" cy="332.2" r="4.85" fill="#460B5D"/>
<circle cx="801.9" cy="676.2" r="4.85"/>
<circle cx="702.2" cy="508.7" r="4.85" fill="#460B5D"/>
<circle cx="212.2" cy="388.0" r="4.85" fill="#481D6E"/>
<circle cx="761.9" cy="472.2" r="4.85" fill="#460B5D"/>
<circle cx="291.2" cy="375.0" r="4.85" fill="#460B5D"/>
<circle cx="509.8" cy="397.5" r="4.85" fill="#460B5D"/>
<circle cx="361.4" cy="465.5" r="4.85"/>
<circle cx="702.6" cy="504.8" r="4.85" fill="#460B5D"/>
<circle cx="331.8" cy="392.7" r="4.85"/>
<circle cx="971.7" cy="189.8" r="4.85"/>
<circle cx="332.5" cy="465.9" r="4.85" fill="#67CC5C"/>
<circle cx="763.9" cy="397.8" r="4.85" fill="#460B5D"/>
<circle cx="916.5" cy="418.4" r="4.85" fill="#2B748E"/>
<circle cx="207.5" cy="291.7" r="4.85" fill="#375B8C"/>
<circle cx="913.5" cy="72.3" r="4.85" fill="#460B5D"/>
<circle cx="902.4" cy="435.2" r="4.85" fill="#453680"/>
<circle cx="460.0" cy="339.0" r="4.85" fill="#460B5D"/>
<circle cx="924.0" cy="420.7" r="4.85" fill="#3D4D8A"/>
<circle cx="926.9" cy="104.8" r="4.85" fill="#460B5D"/>
<circle cx="245.2" cy="312.8" r="4.85"/>
<circle cx="439.1" cy="447.3" r="4.85"/>
<circle cx="210.0" cy="423.6" r="4.85" fill="#460B5D"/>
<circle cx="209.6" cy="348.5" r="4.85" fill="#472D7B"/>
<circle cx="198.8" cy="316.3" r="4.85" fill="#460B5D"/>
<circle cx="521.0" cy="452.9" r="4.85" fill="#460B5D"/>
<circle cx="908.7" cy="432.9" r="4.85" fill="#209F88"/>
<circle cx="827.5" cy="461.1" r="4.85"/>
<circle cx="238.7" cy="433.9" r="4.85" fill="#433E84"/>
<circle cx="432.5" cy="413.7" r="4.85" fill="#460B5D"/>
<circle cx="214.6" cy="443.0" r="4.85" fill="#453680"/>
<circle cx="407.1" cy="352.1" r="4.85" fill="#2B748E"/>
<circle cx="253.0" cy="345.8" r="4.85"/>
<circle cx="962.6" cy="317.7" r="4.85"/>
<circle cx="280.5" cy="378.1" r="4.85" fill="#460B5D"/>
<circle cx="273.4" cy="325.1" r="4.85" fill="#481467"/>
<circle cx="252.5" cy="385.7" r="4.85" fill="#481467"/>
<circle cx="929.3" cy="607.7" r="4.85" fill="#A9DB33"/>
<circle cx="268.1" cy="386.4" r="4.85" fill="#460B5D"/>
<circle cx="647.5" cy="455.0" r="4.85" fill="#460B5D"/>
<circle cx="286.8" cy="389.1" r="4.85" fill="#2E6E8E"/>
<circle cx="660.6" cy="385.4" r="4.85" fill="#460B5D"/>
<circle cx="943.2" cy="521.1" r="4.85" fill="#27818E"/>
<circle cx="952.4" cy="187.7" r="4.85" fill="#460B5D"/>
<circle cx="217.8" cy="333.6" r="4.85" fill="#34618D"/>
<circle cx="186.2" cy="456.8" r="4.85" fill="#472D7B"/>
<circle cx="878.9" cy="788.5" r="4.85" fill="#67CC5C"/>
<circle cx="366.6" cy="366.2" r="4.85" fill="#460B5D"/>
<circle cx="540.3" cy="304.9" r="4.85" fill="#460B5D"/>
<circle cx="783.9" cy="441.8" r="4.85"/>
<circle cx="580.9" cy="532.5" r="4.85" fill="#433E84"/>
<circle cx="930.8" cy="498.5" r="4.85" fill="#453680"/>
<circle cx="513.5" cy="348.8" r="4.85"/>
<circle cx="546.4" cy="488.2" r="4.85" fill="#460B5D"/>
<circle cx="779.4" cy="314.9" r="4.85"/>
<circle cx="780.1" cy="551.2" r="4.85" fill="#2B748E"/>
<circle cx="491.1" cy="387.8" r="4.85"/>
<circle cx="566.2" cy="357.6" r="4.85" fill="#460B5D"/>
<circle cx="904.5" cy="375.6" r="4.85" fill="#460B5D"/>
<circle cx="904.0" cy="367.1" r="4.85" fill="#36B778"/>
<circle cx="822.6" cy="321.2" r="4.85"/>
<circle cx="815.2" cy="428.7" r="4.85" fill="#481467"/>
<circle cx="922.1" cy="134.6" r="4.85"/>
<circle cx="457.8" cy="509.8" r="4.85" fill="#460B5D"/>
<circle cx="936.8" cy="115.3" r="4.85" fill="#460B5D"/>
<circle cx="360.2" cy="301.0" r="4.85" fill="#460B5D"/>
<circle cx="673.8" cy="550.0" r="4.85"/>
<circle cx="879.4" cy="301.8" r="4.85" fill="#460B5D"/>
<circle cx="685.3" cy="314.5" r="4.85" fill="#460B5D"/>
<circle cx="213.9" cy="460.2" r="4.85" fill="#3A548B"/>
<circle cx="683.0" cy="509.6" r="4.85" fill="#460B5D"/>
<circle cx="172.0" cy="288.6" r="4.85" fill="#460B5D"/>
<circle cx="402.8" cy="316.9" r="4.85" fill="#460B5D"/>
<circle cx="168.4" cy="296.8" r="4.85"/>
<circle cx="516.4" cy="329.1" r="4.85" fill="#460B5D"/>
<circle cx="942.4" cy="344.8" r="4.85" fill="#3D4D8A"/>
<circle cx="959.9" cy="138.7" r="4.85" fill="#460B5D"/>
<circle cx="175.9" cy="475.2" r="4.85" fill="#433E84"/>
<circle cx="654.0" cy="341.6" r="4.85"/>
<circle cx="713.9" cy="322.0" r="4.85"/>
<circle cx="781.5" cy="413.8" r="4.85" fill="#297A8E"/>
<circle cx="478.7" cy="401.1" r="4.85"/>
<circle cx="578.6" cy="455.5" r="4.85" fill="#460B5D"/>
<circle cx="400.8" cy="380.0" r="4.85" fill="#36B778"/>
<circle cx="231.6" cy="247.4" r="4.85" fill="#481467"/>
<circle cx="274.4" cy="315.0" r="4.85" fill="#460B5D"/>
<circle cx="469.6" cy="471.2" r="4.85"/>
<circle cx="320.5" cy="461.4" r="4.85" fill="#2CB17D"/>
<circle cx="483.6" cy="387.6" r="4.85"/>
<circle cx="961.7" cy="306.0" r="4.85" fill="#460B5D"/>
<circle cx="256.5" cy="345.7" r="4.85" fill="#481D6E"/>
<circle cx="813.6" cy="318.3" r="4.85" fill="#460B5D"/>
<circle cx="331.5" cy="346.9" r="4.85" fill="#460B5D"/>
<circle cx="183.2" cy="366.5" r="4.85" fill="#482576"/>
<circle cx="755.6" cy="739.7" r="4.85" fill="#482576"/>
<circle cx="795.6" cy="304.4" r="4.85" fill="#481D6E"/>
<circle cx="273.5" cy="371.3" r="4.85"/>
<circle cx="270.3" cy="246.9" r="4.85"/>
<circle cx="938.9" cy="594.1" r="4.85" fill="#24878D"/>
<circle cx="796.9" cy="482.0" r="4.85" fill="#460B5D"/>
<circle cx="313.8" cy="533.8" r="4.85" fill="#482576"/>
<circle cx="266.0" cy="327.8" r="4.85" fill="#481467"/>
<circle cx="833.0" cy="627.6" r="4.85"/>
<circle cx="617.8" cy="550.8" r="4.85" fill="#481467"/>
<circle cx="1008.1" cy="213.1" r="4.85" fill="#2E6E8E"/>
<circle cx="923.1" cy="217.0" r="4.85"/>
<circle cx="447.9" cy="346.2" r="4.85" fill="#482576"/>
<circle cx="901.7" cy="560.0" r="4.85" fill="#460B5D"/>
<circle cx="359.2" cy="415.4" r="4.85" fill="#460B5D"/>
<circle cx="939.5" cy="174.2" r="4.85"/>
<circle cx="904.3" cy="184.6" r="4.85" fill="#460B5D"/>
<circle cx="380.4" cy="284.1" r="4.85" fill="#481467"/>
<circle cx="223.2" cy="314.7" r="4.85" fill="#375B8C"/>
<circle cx="309.5" cy="301.5" r="4.85" fill="#1F998A"/>
<circle cx="772.2" cy="563.4" r="4.85" fill="#460B5D"/>
<circle cx="470.8" cy="496.1" r="4.85" fill="#460B5D"/>
<circle cx="504.8" cy="479.3" r="4.85" fill="#460B5D"/>
<circle cx="792.5" cy="602.7" r="4.85"/>
<circle cx="270.5" cy="401.2" r="4.85" fill="#482576"/>
<circle cx="184.9" cy="326.9" r="4.85" fill="#460B5D"/>
<circle cx="474.3" cy="415.4" r="4.85" fill="#460B5D"/>
<circle cx="179.8" cy="359.3" r="4.85" fill="#3D4D8A"/>
<circle cx="397.8" cy="466.7" r="4.85" fill="#460B5D"/>
<circle cx="412.3" cy="527.3" r="4.85" fill="#24878D"/>
<circle cx="858.6" cy="526.5" r="4.85" fill="#3A548B"/>
<circle cx="253.2" cy="391.8" r="4.85" fill="#34618D"/>
<circle cx="904.1" cy="354.6" r="4.85" fill="#460B5D"/>
<circle cx="737.6" cy="570.4" r="4.85"/>
<circle cx="695.1" cy="343.9" r="4.85" fill="#481467"/>
<circle cx="392.0" cy="480.7" r="4.85"/>
<circle cx="935.4" cy="261.1" r="4.85" fill="#460B5D"/>
<circle cx="587.4" cy="531.1" r="4.85"/>
<circle cx="236.5" cy="334.7" r="4.85" fill="#460B5D"/>
<circle cx="307.9" cy="390.5" r="4.85" fill="#460B5D"/>
<circle cx="240.9" cy="319.6" r="4.85" fill="#472D7B"/>
<circle cx="330.3" cy="504.0" r="4.85" fill="#460B5D"/>
<circle cx="275.7" cy="388.7" r="4.85" fill="#460B5D"/>
<circle cx="279.2" cy="474.3" r="4.85" fill="#460B5D"/>
<circle cx="973.5" cy="193.8" r="4.85" fill="#460B5D"/>
<circle cx="454.8" cy="459.0" r="4.85"/>
<circle cx="438.6" cy="428.2" r="4.85" fill="#460B5D"/>
<circle cx="849.9" cy="267.2" r="4.85"/>
<circle cx="710.7" cy="450.5" r="4.85" fill="#460B5D"/>
<circle cx="865.8" cy="593.6" r="4.85" fill="#31678D"/>
<circle cx="628.9" cy="476.8" r="4.85"/>
<circle cx="483.0" cy="557.8" r="4.85" fill="#375B8C"/>
<circle cx="754.1" cy="269.6" r="4.85" fill="#CBE120"/>
<circle cx="441.1" cy="409.8" r="4.85"/>
<circle cx="954.2" cy="183.7" r="4.85"/>
<circle cx="954.0" cy="624.4" r="4.85" fill="#460B5D"/>
<circle cx="227.2" cy="388.5" r="4.85" fill="#3A548B"/>
<circle cx="898.2" cy="553.7" r="4.85" fill="#27818E"/>
<circle cx="247.2" cy="423.1" r="4.85"/>
<circle cx="254.2" cy="350.8" r="4.85"/>
<circle cx="918.3" cy="687.7" r="4.85" fill="#2CB17D"/>
<circle cx="586.6" cy="366.9" r="4.85" fill="#3D4D8A"/>
<circle cx="697.3" cy="539.3" r="4.85" fill="#460B5D"/>
<circle cx="215.6" cy="400.3" r="4.85" fill="#34618D"/>
<circle cx="253.5" cy="304.9" r="4.85" fill="#472D7B"/>
<circle cx="477.3" cy="331.8" r="4.85" fill="#460B5D"/>
<circle cx="932.2" cy="160.0" r="4.85"/>
<circle cx="251.5" cy="455.2" r="4.85" fill="#3A548B"/>
<circle cx="687.9" cy="273.0" r="4.85" fill="#460B5D"/>
<circle cx="454.6" cy="429.3" r="4.85" fill="#481467"/>
<circle cx="945.4" cy="213.5" r="4.85" fill="#460B5D"/>
<circle cx="951.2" cy="181.8" r="4.85" fill="#460B5D"/>
<circle cx="887.1" cy="472.7" r="4.85" fill="#433E84"/>
<circle cx="361.4" cy="449.8" r="4.85"/>
<circle cx="612.2" cy="450.3" r="4.85" fill="#460B5D"/>
<circle cx="708.8" cy="526.4" r="4.85" fill="#460B5D"/>
<circle cx="270.1" cy="249.0" r="4.85" fill="#2B748E"/>
<circle cx="671.8" cy="495.9" r="4.85"/>
<circle cx="321.2" cy="464.8" r="4.85"/>
<circle cx="748.4" cy="438.6" r="4.85" fill="#1F998A"/>
<circle cx="297.6" cy="383.4" r="4.85" fill="#460B5D"/>
<circle cx="919.9" cy="193.2" r="4.85"/>
<circle cx="989.4" cy="493.4" r="4.85"/>
<circle cx="929.1" cy="336.2" r="4.85" fill="#460B5D"/>
<circle cx="467.3" cy="374.1" r="4.85"/>
<circle cx="246.0" cy="343.6" r="4.85" fill="#453680"/>
<circle cx="906.8" cy="434.7" r="4.85" fill="#375B8C"/>
<circle cx="219.4" cy="327.0" r="4.85" fill="#460B5D"/>
<circle cx="450.4" cy="402.4" r="4.85" fill="#34618D"/>
<circle cx="947.4" cy="135.3" r="4.85" fill="#460B5D"/>
<circle cx="365.6" cy="456.0" r="4.85" fill="#460B5D"/>
<circle cx="836.5" cy="476.5" r="4.85" fill="#482576"/>
<circle cx="811.8" cy="688.6" r="4.85" fill="#2E6E8E"/>
<circle cx="943.0" cy="388.0" r="4.85"/>
<circle cx="213.3" cy="427.0" r="4.85" fill="#481D6E"/>
<circle cx="308.2" cy="360.4" r="4.85" fill="#460B5D"/>
<circle cx="189.0" cy="340.0" r="4.85"/>
<circle cx="712.9" cy="413.2" r="4.85"/>
<circle cx="938.9" cy="188.8" r="4.85" fill="#481467"/>
<circle cx="423.4" cy="579.4" r="4.85" fill="#20938C"/>
<circle cx="961.4" cy="441.8" r="4.85" fill="#414587"/>
<circle cx="282.4" cy="415.1" r="4.85" fill="#460B5D"/>
<circle cx="209.6" cy="530.6" r="4.85" fill="#414587"/>
<circle cx="229.6" cy="357.0" r="4.85" fill="#433E84"/>
<circle cx="271.9" cy="329.8" r="4.85" fill="#67CC5C"/>
<circle cx="243.2" cy="489.6" r="4.85" fill="#482576"/>
<circle cx="852.5" cy="514.9" r="4.85"/>
<circle cx="232.1" cy="449.9" r="4.85" fill="#482576"/>
<circle cx="578.6" cy="355.5" r="4.85" fill="#460B5D"/>
<circle cx="327.5" cy="495.5" r="4.85"/>
<circle cx="352.3" cy="501.4" r="4.85" fill="#460B5D"/>
<circle cx="245.2" cy="308.1" r="4.85" fill="#375B8C"/>
<circle cx="390.4" cy="394.1" r="4.85"/>
<circle cx="476.4" cy="394.9" r="4.85"/>
<circle cx="491.5" cy="368.4" r="4.85"/>
<circle cx="319.7" cy="394.4" r="4.85"/>
<circle cx="686.7" cy="458.3" r="4.85" fill="#460B5D"/>
<circle cx="296.3" cy="369.2" r="4.85" fill="#24878D"/>
<circle cx="958.4" cy="306.9" r="4.85"/>
<circle cx="335.6" cy="443.7" r="4.85"/>
<circle cx="793.4" cy="466.4" r="4.85" fill="#460B5D"/>
<circle cx="576.3" cy="368.3" r="4.85"/>
<circle cx="545.8" cy="356.8" r="4.85" fill="#481467"/>
<circle cx="262.2" cy="366.9" r="4.85"/>
<circle cx="430.5" cy="337.4" r="4.85"/>
<circle cx="938.8" cy="616.2" r="4.85" fill="#31678D"/>
<circle cx="398.2" cy="390.0" r="4.85"/>
<circle cx="563.9" cy="499.7" r="4.85" fill="#460B5D"/>
<circle cx="980.4" cy="445.6" r="4.85" fill="#26AB81"/>
<circle cx="922.2" cy="194.7" r="4.85"/>
<circle cx="916.8" cy="354.7" r="4.85" fill="#A9DB33"/>
<circle cx="284.6" cy="231.4" r="4.85" fill="#414587"/>
<circle cx="481.5" cy="439.4" r="4.85"/>
<circle cx="924.0" cy="380.5" r="4.85" fill="#228D8C"/>
<circle cx="276.6" cy="327.3" r="4.85" fill="#460B5D"/>
<circle cx="748.7" cy="486.8" r="4.85" fill="#460B5D"/>
<circle cx="327.9" cy="479.4" r="4.85" fill="#481467"/>
<circle cx="401.9" cy="478.2" r="4.85"/>
<circle cx="804.2" cy="482.6" r="4.85" fill="#453680"/>
<circle cx="498.6" cy="306.0" r="4.85" fill="#460B5D"/>
<circle cx="219.0" cy="420.5" r="4.85" fill="#460B5D"/>
<circle cx="339.8" cy="419.7" r="4.85" fill="#460B5D"/>
<circle cx="839.2" cy="195.0" r="4.85" fill="#BADE28"/>
<circle cx="564.1" cy="475.9" r="4.85" fill="#460B5D"/>
<circle cx="707.4" cy="493.3" r="4.85"/>
<circle cx="215.4" cy="264.8" r="4.85"/>
<circle cx="889.5" cy="578.7" r="4.85" fill="#297A8E"/>
<circle cx="284.6" cy="362.5" r="4.85" fill="#460B5D"/>
<circle cx="928.8" cy="252.6" r="4.85" fill="#460B5D"/>
<circle cx="226.1" cy="330.5" r="4.85" fill="#453680"/>
<circle cx="456.4" cy="378.2" r="4.85"/>
<circle cx="903.6" cy="154.7" r="4.85"/>
<circle cx="333.5" cy="326.9" r="4.85"/>
<circle cx="221.6" cy="292.6" r="4.85"/>
<circle cx="598.0" cy="455.2" r="4.85" fill="#460B5D"/>
<circle cx="410.6" cy="443.0" r="4.85"/>
<circle cx="957.9" cy="98.6" r="4.85" fill="#481467"/>
<circle cx="935.0" cy="202.7" r="4.85"/>
<circle cx="879.8" cy="670.9" r="4.85" fill="#297A8E"/>
<circle cx="229.9" cy="423.9" r="4.85" fill="#472D7B"/>
<circle cx="948.4" cy="338.9" r="4.85" fill="#453680"/>
<circle cx="522.7" cy="455.1" r="4.85"/>
<circle cx="699.5" cy="657.2" r="4.85" fill="#20938C"/>
<circle cx="373.4" cy="355.8" r="4.85" fill="#460B5D"/>
<circle cx="451.5" cy="382.2" r="4.85"/>
<circle cx="343.5" cy="258.1" r="4.85" fill="#460B5D"/>
<circle cx="274.8" cy="337.3" r="4.85" fill="#460B5D"/>
<circle cx="950.5" cy="134.2" r="4.85" fill="#481467"/>
<circle cx="485.9" cy="456.7" r="4.85"/>
<circle cx="276.2" cy="352.0" r="4.85" fill="#460B5D"/>
<circle cx="457.5" cy="387.2" r="4.85"/>
<circle cx="734.2" cy="307.6" r="4.85"/>
<circle cx="250.2" cy="591.0" r="4.85" fill="#482576"/>
<circle cx="628.8" cy="417.7" r="4.85" fill="#460B5D"/>
<circle cx="933.9" cy="642.3" r="4.85" fill="#482576"/>
<circle cx="353.0" cy="469.2" r="4.85"/>
<circle cx="905.7" cy="311.9" r="4.85" fill="#453680"/>
<circle cx="234.3" cy="409.8" r="4.85" fill="#460B5D"/>
<circle cx="468.6" cy="314.7" r="4.85" fill="#460B5D"/>
<circle cx="200.6" cy="318.7" r="4.85" fill="#460B5D"/>
<circle cx="485.6" cy="638.1" r="4.85" fill="#482576"/>
<circle cx="275.5" cy="336.8" r="4.85"/>
<circle cx="235.1" cy="219.0" r="4.85"/>
<circle cx="749.1" cy="462.5" r="4.85" fill="#460B5D"/>
<circle cx="895.5" cy="167.3" r="4.85"/>
<circle cx="968.5" cy="162.2" r="4.85" fill="#31678D"/>
<circle cx="565.7" cy="292.8" r="4.85"/>
<circle cx="206.1" cy="388.8" r="4.85" fill="#433E84"/>
<circle cx="175.0" cy="394.3" r="4.85" fill="#460B5D"/>
<circle cx="379.7" cy="447.9" r="4.85" fill="#460B5D"/>
<circle cx="652.9" cy="302.3" r="4.85" fill="#27818E"/>
<circle cx="937.3" cy="154.7" r="4.85" fill="#460B5D"/>
<circle cx="842.4" cy="467.7" r="4.85" fill="#460B5D"/>
<circle cx="252.2" cy="320.3" r="4.85" fill="#481467"/>
<circle cx="642.8" cy="628.8" r="4.85" fill="#482576"/>
<circle cx="194.1" cy="443.3" r="4.85" fill="#433E84"/>
<circle cx="785.4" cy="579.1" r="4.85" fill="#460B5D"/>
<circle cx="616.4" cy="391.3" r="4.85" fill="#460B5D"/>
<circle cx="237.9" cy="251.3" r="4.85"/>
<circle cx="676.0" cy="493.5" r="4.85"/>
<circle cx="887.5" cy="570.3" r="4.85" fill="#460B5D"/>
<circle cx="249.7" cy="360.2" r="4.85"/>
<circle cx="580.9" cy="473.8" r="4.85" fill="#460B5D"/>
<circle cx="947.4" cy="295.2" r="4.85" fill="#24878D"/>
<circle cx="193.2" cy="392.3" r="4.85"/>
<circle cx="863.4" cy="426.9" r="4.85"/>
<circle cx="940.8" cy="254.4" r="4.85"/>
<circle cx="350.6" cy="363.0" r="4.85" fill="#481467"/>
<circle cx="187.6" cy="460.4" r="4.85" fill="#34618D"/>
<circle cx="571.5" cy="469.4" r="4.85" fill="#CBE120"/>
<circle cx="317.8" cy="362.8" r="4.85"/>
<circle cx="443.3" cy="327.0" r="4.85" fill="#460B5D"/>
<circle cx="504.9" cy="545.6" r="4.85" fill="#A9DB33"/>
<circle cx="278.9" cy="406.3" r="4.85" fill="#414587"/>
<circle cx="937.7" cy="487.1" r="4.85" fill="#297A8E"/>
<circle cx="908.0" cy="262.2" r="4.85"/>
<circle cx="297.5" cy="513.2" r="4.85"/>
<circle cx="600.8" cy="454.9" r="4.85" fill="#3D4D8A"/>
<circle cx="554.8" cy="416.2" r="4.85"/>
<circle cx="666.8" cy="458.3" r="4.85"/>
<circle cx="391.2" cy="416.6" r="4.85"/>
<circle cx="225.1" cy="277.7" r="4.85" fill="#34618D"/>
<circle cx="614.3" cy="281.6" r="4.85" fill="#460B5D"/>
<circle cx="402.5" cy="380.9" r="4.85"/>
<circle cx="340.6" cy="326.9" r="4.85" fill="#460B5D"/>
<circle cx="946.1" cy="145.4" r="4.85" fill="#433E84"/>
<circle cx="869.2" cy="315.3" r="4.85" fill="#BADE28"/>
<circle cx="266.0" cy="314.7" r="4.85" fill="#31678D"/>
<circle cx="272.6" cy="423.8" r="4.85"/>
<circle cx="537.6" cy="526.0" r="4.85"/>
<circle cx="265.7" cy="413.2" r="4.85" fill="#482576"/>
<circle cx="183.3" cy="291.2" r="4.85" fill="#375B8C"/>
<circle cx="755.6" cy="415.6" r="4.85"/>
<circle cx="219.2" cy="369.2" r="4.85" fill="#414587"/>
<circle cx="338.4" cy="511.5" r="4.85"/>
<circle cx="882.7" cy="329.6" r="4.85" fill="#228D8C"/>
<circle cx="794.1" cy="394.6" r="4.85" fill="#460B5D"/>
<circle cx="232.5" cy="460.5" r="4.85" fill="#433E84"/>
<circle cx="168.2" cy="342.5" r="4.85" fill="#375B8C"/>
<circle cx="788.7" cy="373.2" r="4.85" fill="#460B5D"/>
<circle cx="240.8" cy="522.9" r="4.85" fill="#EDE51F"/>
<circle cx="332.8" cy="354.4" r="4.85" fill="#460B5D"/>
<circle cx="1001.3" cy="200.8" r="4.85"/>
<circle cx="928.0" cy="411.4" r="4.85" fill="#472D7B"/>
<circle cx="514.5" cy="441.7" r="4.85"/>
<circle cx="505.5" cy="358.8" r="4.85" fill="#460B5D"/>
<circle cx="618.5" cy="499.9" r="4.85"/>
<circle cx="951.1" cy="161.1" r="4.85" fill="#460B5D"/>
<circle cx="872.9" cy="604.9" r="4.85"/>
<circle cx="312.9" cy="444.1" r="4.85"/>
<circle cx="936.4" cy="448.6" r="4.85" fill="#24878D"/>
<circle cx="797.9" cy="554.7" r="4.85" fill="#228D8C"/>
<circle cx="931.7" cy="93.3" r="4.85"/>
<circle cx="503.8" cy="390.8" r="4.85"/>
<circle cx="771.5" cy="523.9" r="4.85" fill="#414587"/>
<circle cx="786.3" cy="314.2" r="4.85" fill="#460B5D"/>
<circle cx="233.9" cy="321.6" r="4.85" fill="#460B5D"/>
<circle cx="236.0" cy="345.8" r="4.85"/>
<circle cx="222.7" cy="343.2" r="4.85" fill="#460B5D"/>
<circle cx="958.4" cy="440.8" r="4.85"/>
<circle cx="272.8" cy="324.7" r="4.85" fill="#460B5D"/>
<circle cx="705.2" cy="644.6" r="4.85"/>
<circle cx="218.9" cy="355.4" r="4.85" fill="#3A548B"/>
<circle cx="231.2" cy="436.8" r="4.85" fill="#3D4D8A"/>
<circle cx="287.9" cy="334.6" r="4.85"/>
<circle cx="307.0" cy="417.1" r="4.85"/>
<circle cx="208.1" cy="354.9" r="4.85" fill="#34618D"/>
<circle cx="868.6" cy="604.5" r="4.85" fill="#433E84"/>
<circle cx="485.1" cy="404.7" r="4.85"/>
<circle cx="541.2" cy="282.9" r="4.85" fill="#98D83E"/>
<circle cx="939.8" cy="502.0" r="4.85" fill="#228D8C"/>
<circle cx="216.0" cy="299.7" r="4.85" fill="#3A548B"/>
<circle cx="850.5" cy="428.4" r="4.85" fill="#453680"/>
<circle cx="223.5" cy="472.5" r="4.85" fill="#31678D"/>
<circle cx="962.0" cy="304.0" r="4.85" fill="#460B5D"/>
<circle cx="947.8" cy="361.9" r="4.85" fill="#20938C"/>
<circle cx="484.7" cy="495.3" r="4.85" fill="#481467"/>
<circle cx="332.4" cy="425.7" r="4.85" fill="#481467"/>
<circle cx="956.5" cy="609.1" r="4.85"/>
<circle cx="832.5" cy="534.1" r="4.85" fill="#414587"/>
<circle cx="717.0" cy="467.8" r="4.85" fill="#460B5D"/>
<circle cx="374.7" cy="368.8" r="4.85"/>
<circle cx="486.5" cy="367.6" r="4.85"/>
<circle cx="951.4" cy="233.4" r="4.85"/>
<circle cx="490.0" cy="321.5" r="4.85" fill="#460B5D"/>
<circle cx="932.5" cy="444.8" r="4.85" fill="#3D4D8A"/>
<circle cx="313.8" cy="409.2" r="4.85"/>
<circle cx="335.7" cy="528.2" r="4.85" fill="#24878D"/>
<circle cx="788.0" cy="440.7" r="4.85"/>
<circle cx="220.9" cy="304.1" r="4.85" fill="#460B5D"/>
<circle cx="531.0" cy="325.2" r="4.85" fill="#460B5D"/>
<circle cx="667.5" cy="356.4" r="4.85" fill="#460B5D"/>
<circle cx="823.9" cy="707.6" r="4.85" fill="#481467"/>
<circle cx="520.0" cy="423.5" r="4.85"/>
<circle cx="924.7" cy="311.1" r="4.85"/>
<circle cx="706.4" cy="535.2" r="4.85" fill="#34618D"/>
<circle cx="656.5" cy="517.1" r="4.85"/>
<circle cx="905.5" cy="449.8" r="4.85" fill="#2CB17D"/>
<circle cx="746.7" cy="328.3" r="4.85" fill="#460B5D"/>
<circle cx="254.8" cy="342.8" r="4.85" fill="#59C765"/>
<circle cx="454.3" cy="295.3" r="4.85" fill="#460B5D"/>
<circle cx="223.9" cy="293.5" r="4.85" fill="#460B5D"/>
<circle cx="721.0" cy="329.8" r="4.85"/>
<circle cx="624.1" cy="409.3" r="4.85"/>
<circle cx="332.0" cy="370.6" r="4.85"/>
<circle cx="200.2" cy="373.4" r="4.85" fill="#460B5D"/>
<circle cx="924.3" cy="84.4" r="4.85"/>
<circle cx="333.3" cy="310.4" r="4.85" fill="#481467"/>
<circle cx="559.4" cy="368.0" r="4.85" fill="#209F88"/>
<circle cx="645.5" cy="466.4" r="4.85" fill="#3A548B"/>
<circle cx="398.9" cy="508.7" r="4.85"/>
<circle cx="692.9" cy="550.9" r="4.85"/>
<circle cx="923.2" cy="138.0" r="4.85" fill="#460B5D"/>
<circle cx="584.9" cy="433.9" r="4.85" fill="#460B5D"/>
<circle cx="653.2" cy="490.3" r="4.85"/>
<circle cx="791.7" cy="449.0" r="4.85" fill="#460B5D"/>
<circle cx="1004.0" cy="527.5" r="4.85" fill="#482576"/>
<circle cx="504.1" cy="400.0" r="4.85" fill="#460B5D"/>
<circle cx="730.4" cy="410.9" r="4.85" fill="#460B5D"/>
<circle cx="688.2" cy="405.3" r="4.85"/>
<circle cx="466.7" cy="423.5" r="4.85"/>
<circle cx="654.9" cy="484.9" r="4.85" fill="#460B5D"/>
<circle cx="219.1" cy="251.5" r="4.85" fill="#472D7B"/>
<circle cx="490.2" cy="425.8" r="4.85"/>
<circle cx="890.3" cy="604.9" r="4.85"/>
<circle cx="308.3" cy="224.4" r="4.85"/>
<circle cx="552.8" cy="504.4" r="4.85"/>
<circle cx="534.9" cy="397.5" r="4.85" fill="#460B5D"/>
<circle cx="269.1" cy="359.5" r="4.85" fill="#414587"/>
<circle cx="190.8" cy="233.7" r="4.85" fill="#414587"/>
<circle cx="928.1" cy="166.6" r="4.85" fill="#460B5D"/>
<circle cx="259.8" cy="394.0" r="4.85" fill="#375B8C"/>
<circle cx="743.0" cy="528.1" r="4.85" fill="#460B5D"/>
<circle cx="772.9" cy="322.2" r="4.85" fill="#460B5D"/>
<circle cx="664.0" cy="317.6" r="4.85"/>
<circle cx="402.1" cy="227.1" r="4.85" fill="#453680"/>
<circle cx="948.9" cy="135.1" r="4.85" fill="#414587"/>
<circle cx="384.1" cy="539.7" r="4.85"/>
<circle cx="779.7" cy="532.8" r="4.85"/>
<circle cx="946.8" cy="335.8" r="4.85"/>
<circle cx="226.9" cy="342.6" r="4.85"/>
<circle cx="290.7" cy="340.4" r="4.85" fill="#460B5D"/>
<circle cx="251.0" cy="401.3" r="4.85" fill="#453680"/>
<circle cx="888.0" cy="419.3" r="4.85" fill="#2E6E8E"/>
<circle cx="209.7" cy="360.2" r="4.85"/>
<circle cx="413.8" cy="330.4" r="4.85" fill="#3D4D8A"/>
<circle cx="937.1" cy="156.6" r="4.85"/>
<circle cx="306.2" cy="338.8" r="4.85" fill="#297A8E"/>
<circle cx="191.8" cy="378.5" r="4.85"/>
<circle cx="277.8" cy="220.5" r="4.85"/>
<circle cx="226.5" cy="328.8" r="4.85" fill="#460B5D"/>
<circle cx="179.1" cy="330.1" r="4.85" fill="#472D7B"/>
<circle cx="259.6" cy="423.8" r="4.85" fill="#460B5D"/>
<circle cx="871.0" cy="435.1" r="4.85" fill="#460B5D"/>
<circle cx="211.8" cy="326.1" r="4.85" fill="#3A548B"/>
<circle cx="747.5" cy="420.7" r="4.85"/>
<circle cx="770.6" cy="512.4" r="4.85" fill="#34618D"/>
<circle cx="290.6" cy="383.0" r="4.85" fill="#460B5D"/>
<circle cx="559.5" cy="382.4" r="4.85"/>
<circle cx="322.5" cy="355.5" r="4.85"/>
<circle cx="411.9" cy="444.6" r="4.85" fill="#481467"/>
<circle cx="666.7" cy="192.5" r="4.85" fill="#34618D"/>
<circle cx="239.9" cy="343.2" r="4.85" fill="#31678D"/>
<circle cx="864.9" cy="474.5" r="4.85" fill="#24878D"/>
<circle cx="415.7" cy="353.9" r="4.85"/>
<circle cx="269.6" cy="353.3" r="4.85"/>
<circle cx="246.0" cy="325.5" r="4.85" fill="#460B5D"/>
<circle cx="243.2" cy="433.7" r="4.85" fill="#414587"/>
<circle cx="247.8" cy="510.5" r="4.85" fill="#460B5D"/>
<circle cx="922.8" cy="512.8" r="4.85" fill="#481467"/>
<circle cx="935.4" cy="239.8" r="4.85"/>
<circle cx="267.3" cy="307.2" r="4.85" fill="#31678D"/>
<circle cx="993.5" cy="311.7" r="4.85" fill="#297A8E"/>
<circle cx="350.2" cy="577.9" r="4.85" fill="#2E6E8E"/>
<circle cx="464.2" cy="474.8" r="4.85" fill="#460B5D"/>
<circle cx="837.9" cy="355.1" r="4.85" fill="#209F88"/>
<circle cx="517.7" cy="434.6" r="4.85"/>
<circle cx="397.1" cy="577.5" r="4.85" fill="#482576"/>
<circle cx="847.0" cy="400.8" r="4.85"/>
<circle cx="855.8" cy="138.8" r="4.85"/>
<circle cx="505.4" cy="192.5" r="4.85"/>
<circle cx="628.0" cy="405.6" r="4.85" fill="#460B5D"/>
<circle cx="946.0" cy="206.0" r="4.85"/>
<circle cx="960.5" cy="179.4" r="4.85" fill="#460B5D"/>
<circle cx="266.0" cy="246.7" r="4.85"/>
<circle cx="216.7" cy="271.8" r="4.85" fill="#34618D"/>
<circle cx="266.5" cy="434.5" r="4.85" fill="#433E84"/>
<circle cx="285.0" cy="425.9" r="4.85" fill="#460B5D"/>
<circle cx="382.7" cy="452.2" r="4.85" fill="#460B5D"/>
<circle cx="384.2" cy="268.7" r="4.85" fill="#375B8C"/>
<circle cx="260.6" cy="359.5" r="4.85"/>
<circle cx="458.4" cy="283.8" r="4.85" fill="#481467"/>
<circle cx="796.4" cy="446.4" r="4.85" fill="#31678D"/>
<circle cx="191.0" cy="354.2" r="4.85" fill="#460B5D"/>
<circle cx="351.8" cy="351.8" r="4.85" fill="#460B5D"/>
<circle cx="267.5" cy="257.4" r="4.85" fill="#460B5D"/>
<circle cx="371.4" cy="473.5" r="4.85" fill="#460B5D"/>
<circle cx="523.9" cy="544.0" r="4.85" fill="#22A585"/>
<circle cx="576.4" cy="430.5" r="4.85"/>
<circle cx="857.7" cy="285.8" r="4.85" fill="#460B5D"/>
<circle cx="245.3" cy="329.0" r="4.85" fill="#31678D"/>
<circle cx="570.7" cy="402.5" r="4.85"/>
<circle cx="387.2" cy="289.2" r="4.85" fill="#460B5D"/>
<circle cx="251.0" cy="353.2" r="4.85" fill="#34618D"/>
<circle cx="267.6" cy="436.9" r="4.85" fill="#481467"/>
<circle cx="437.6" cy="469.9" r="4.85" fill="#460B5D"/>
<circle cx="940.8" cy="218.1" r="4.85" fill="#460B5D"/>
<circle cx="181.0" cy="336.4" r="4.85" fill="#3D4D8A"/>
<circle cx="226.1" cy="336.7" r="4.85" fill="#460B5D"/>
<circle cx="222.3" cy="307.0" r="4.85" fill="#460B5D"/>
<circle cx="746.7" cy="448.8" r="4.85" fill="#460B5D"/>
<circle cx="907.8" cy="610.0" r="4.85" fill="#2B748E"/>
<circle cx="594.5" cy="394.3" r="4.85"/>
<circle cx="904.7" cy="287.8" r="4.85"/>
<circle cx="917.1" cy="627.3" r="4.85"/>
<circle cx="239.8" cy="566.0" r="4.85" fill="#297A8E"/>
<circle cx="496.4" cy="364.7" r="4.85" fill="#460B5D"/>
<circle cx="260.0" cy="458.9" r="4.85" fill="#375B8C"/>
<circle cx="799.6" cy="283.5" r="4.85" fill="#460B5D"/>
<circle cx="348.2" cy="418.4" r="4.85" fill="#460B5D"/>
<circle cx="188.2" cy="367.1" r="4.85"/>
<circle cx="887.6" cy="475.2" r="4.85" fill="#59C765"/>
<circle cx="401.7" cy="248.8" r="4.85"/>
<circle cx="254.0" cy="387.3" r="4.85"/>
<circle cx="863.9" cy="466.8" r="4.85" fill="#26AB81"/>
<circle cx="603.1" cy="388.8" r="4.85"/>
<circle cx="232.8" cy="327.4" r="4.85" fill="#460B5D"/>
<circle cx="966.3" cy="530.6" r="4.85" fill="#460B5D"/>
<circle cx="244.6" cy="358.1" r="4.85" fill="#3A548B"/>
<circle cx="416.0" cy="310.0" r="4.85"/>
<circle cx="205.4" cy="405.1" r="4.85" fill="#482576"/>
<circle cx="314.1" cy="425.8" r="4.85" fill="#3D4D8A"/>
<circle cx="618.1" cy="466.1" r="4.85" fill="#460B5D"/>
<circle cx="559.7" cy="479.4" r="4.85" fill="#472D7B"/>
<circle cx="822.7" cy="409.8" r="4.85"/>
<circle cx="978.5" cy="140.8" r="4.85" fill="#24878D"/>
<circle cx="301.0" cy="371.8" r="4.85"/>
<circle cx="929.2" cy="411.3" r="4.85" fill="#460B5D"/>
<circle cx="224.7" cy="506.1" r="4.85" fill="#460B5D"/>
<circle cx="395.4" cy="215.8" r="4.85" fill="#482576"/>
<circle cx="883.7" cy="139.0" r="4.85" fill="#460B5D"/>
<circle cx="920.2" cy="458.0" r="4.85" fill="#67CC5C"/>
<circle cx="924.4" cy="270.5" r="4.85" fill="#460B5D"/>
<circle cx="766.9" cy="248.9" r="4.85" fill="#460B5D"/>
<circle cx="791.8" cy="529.1" r="4.85" fill="#460B5D"/>
<circle cx="958.6" cy="332.8" r="4.85" fill="#228D8C"/>
<circle cx="634.5" cy="549.4" r="4.85"/>
<circle cx="202.6" cy="380.9" r="4.85" fill="#34618D"/>
<circle cx="564.5" cy="483.5" r="4.85" fill="#460B5D"/>
<circle cx="219.4" cy="409.6" r="4.85" fill="#433E84"/>
<circle cx="296.0" cy="423.0" r="4.85" fill="#3D4D8A"/>
<circle cx="222.8" cy="362.7" r="4.85"/>
<circle cx="709.3" cy="590.3" r="4.85" fill="#2E6E8E"/>
<circle cx="765.0" cy="440.2" r="4.85" fill="#460B5D"/>
<circle cx="798.1" cy="592.4" r="4.85" fill="#297A8E"/>
<circle cx="289.6" cy="378.3" r="4.85" fill="#31678D"/>
<circle cx="230.2" cy="410.8" r="4.85" fill="#460B5D"/>
<circle cx="945.4" cy="461.2" r="4.85"/>
<circle cx="667.6" cy="334.4" r="4.85" fill="#460B5D"/>
<circle cx="916.9" cy="386.8" r="4.85" fill="#20938C"/>
<circle cx="560.4" cy="448.6" r="4.85"/>
<circle cx="919.5" cy="570.2" r="4.85" fill="#40BD73"/>
<circle cx="637.9" cy="490.7" r="4.85" fill="#460B5D"/>
<circle cx="338.0" cy="361.2" r="4.85"/>
<circle cx="252.5" cy="372.8" r="4.85" fill="#472D7B"/>
<circle cx="963.5" cy="461.5" r="4.85" fill="#2CB17D"/>
<circle cx="639.1" cy="539.0" r="4.85" fill="#460B5D"/>
<circle cx="887.0" cy="361.8" r="4.85" fill="#3A548B"/>
<circle cx="296.0" cy="426.7" r="4.85" fill="#460B5D"/>
<circle cx="367.5" cy="468.7" r="4.85" fill="#2B748E"/>
<circle cx="213.8" cy="397.0" r="4.85" fill="#433E84"/>
<circle cx="434.1" cy="463.1" r="4.85" fill="#460B5D"/>
<circle cx="257.5" cy="440.0" r="4.85" fill="#460B5D"/>
<circle cx="760.3" cy="432.0" r="4.85" fill="#460B5D"/>
<circle cx="244.8" cy="419.1" r="4.85"/>
<circle cx="879.2" cy="470.0" r="4.85" fill="#24878D"/>
<circle cx="348.5" cy="519.9" r="4.85"/>
<circle cx="712.3" cy="414.3" r="4.85" fill="#460B5D"/>
<circle cx="703.9" cy="388.6" r="4.85" fill="#DDE319"/>
<circle cx="425.3" cy="547.7" r="4.85" fill="#460B5D"/>
<circle cx="958.4" cy="323.5" r="4.85" fill="#460B5D"/>
<circle cx="415.0" cy="320.9" r="4.85"/>
<circle cx="414.6" cy="387.2" r="4.85" fill="#297A8E"/>
<circle cx="402.3" cy="502.4" r="4.85" fill="#460B5D"/>
<circle cx="621.6" cy="364.9" r="4.85" fill="#460B5D"/>
<circle cx="717.5" cy="555.0" r="4.85"/>
<circle cx="944.1" cy="314.8" r="4.85"/>
<circle cx="283.4" cy="403.6" r="4.85" fill="#460B5D"/>
<circle cx="909.2" cy="507.4" r="4.85" fill="#3A548B"/>
<circle cx="398.1" cy="371.7" r="4.85"/>
<circle cx="600.4" cy="582.7" r="4.85" fill="#472D7B"/>
<circle cx="518.9" cy="384.2" r="4.85"/>
<circle cx="981.4" cy="139.2" r="4.85"/>
<circle cx="208.7" cy="469.4" r="4.85" fill="#34618D"/>
<circle cx="275.6" cy="419.2" r="4.85" fill="#433E84"/>
<circle cx="619.0" cy="421.3" r="4.85" fill="#460B5D"/>
<circle cx="223.6" cy="409.5" r="4.85" fill="#433E84"/>
<circle cx="935.5" cy="200.0" r="4.85"/>
<circle cx="801.3" cy="581.2" r="4.85" fill="#34618D"/>
<circle cx="960.4" cy="323.4" r="4.85" fill="#460B5D"/>
<circle cx="294.7" cy="421.9" r="4.85"/>
<circle cx="420.7" cy="339.1" r="4.85"/>
<circle cx="939.1" cy="246.6" r="4.85"/>
<circle cx="848.1" cy="525.7" r="4.85" fill="#2B748E"/>
<circle cx="533.6" cy="309.1" r="4.85"/>
<circle cx="411.2" cy="395.2" r="4.85"/>
<circle cx="291.8" cy="299.0" r="4.85"/>
<circle cx="232.0" cy="253.6" r="4.85" fill="#460B5D"/>
<circle cx="437.8" cy="377.5" r="4.85"/>
<circle cx="380.0" cy="410.5" r="4.85" fill="#460B5D"/>
<circle cx="538.3" cy="437.3" r="4.85"/>
<circle cx="363.3" cy="357.3" r="4.85" fill="#31678D"/>
<circle cx="335.1" cy="480.6" r="4.85"/>
<circle cx="956.3" cy="274.5" r="4.85"/>
<circle cx="267.3" cy="354.4" r="4.85" fill="#453680"/>
<circle cx="463.1" cy="438.9" r="4.85" fill="#460B5D"/>
<circle cx="288.6" cy="323.0" r="4.85" fill="#460B5D"/>
<circle cx="393.9" cy="294.7" r="4.85"/>
<circle cx="937.7" cy="163.8" r="4.85"/>
<circle cx="431.9" cy="451.9" r="4.85"/>
<circle cx="506.9" cy="327.0" r="4.85" fill="#460B5D"/>
<circle cx="299.1" cy="449.6" r="4.85" fill="#460B5D"/>
<circle cx="290.2" cy="344.5" r="4.85" fill="#433E84"/>
<circle cx="921.6" cy="358.7" r="4.85"/>
<circle cx="606.3" cy="434.8" r="4.85"/>
<circle cx="895.3" cy="539.8" r="4.85" fill="#3A548B"/>
<circle cx="913.3" cy="196.8" r="4.85"/>
<circle cx="477.4" cy="284.7" r="4.85"/>
<circle cx="264.9" cy="301.3" r="4.85"/>
<circle cx="334.1" cy="557.7" r="4.85" fill="#481467"/>
<circle cx="804.5" cy="260.7" r="4.85" fill="#2CB17D"/>
<circle cx="200.7" cy="436.3" r="4.85" fill="#375B8C"/>
<circle cx="803.6" cy="519.8" r="4.85" fill="#481467"/>
<circle cx="652.7" cy="486.0" r="4.85"/>
<circle cx="969.4" cy="497.6" r="4.85" fill="#414587"/>
<circle cx="634.6" cy="403.9" r="4.85"/>
<circle cx="850.6" cy="501.0" r="4.85" fill="#2E6E8E"/>
<circle cx="328.3" cy="436.5" r="4.85"/>
<circle cx="311.9" cy="385.2" r="4.85" fill="#FDE725"/>
<circle cx="578.6" cy="554.5" r="4.85"/>
<circle cx="821.4" cy="580.8" r="4.85" fill="#460B5D"/>
<circle cx="254.6" cy="350.1" r="4.85" fill="#34618D"/>
<circle cx="257.1" cy="337.0" r="4.85"/>
<circle cx="547.9" cy="476.8" r="4.85" fill="#460B5D"/>
<circle cx="768.8" cy="583.4" r="4.85" fill="#20938C"/>
<circle cx="1014.4" cy="249.4" r="4.85"/>
<circle cx="634.2" cy="244.8" r="4.85" fill="#460B5D"/>
<circle cx="352.5" cy="462.8" r="4.85"/>
<circle cx="464.6" cy="315.2" r="4.85" fill="#2B748E"/>
<circle cx="463.9" cy="520.6" r="4.85"/>
<circle cx="714.2" cy="359.9" r="4.85"/>
<circle cx="944.6" cy="204.0" r="4.85" fill="#460B5D"/>
<circle cx="775.3" cy="488.2" r="4.85" fill="#460B5D"/>
<circle cx="558.1" cy="447.0" r="4.85" fill="#460B5D"/>
<circle cx="208.9" cy="234.6" r="4.85" fill="#2E6E8E"/>
<circle cx="810.1" cy="514.5" r="4.85"/>
<circle cx="529.0" cy="433.4" r="4.85" fill="#36B778"/>
<circle cx="599.7" cy="457.2" r="4.85"/>
<circle cx="586.5" cy="505.9" r="4.85"/>
<circle cx="171.8" cy="386.2" r="4.85"/>
<circle cx="239.3" cy="304.2" r="4.85" fill="#375B8C"/>
<circle cx="383.2" cy="385.8" r="4.85" fill="#460B5D"/>
<circle cx="239.0" cy="406.3" r="4.85" fill="#375B8C"/>
<circle cx="608.2" cy="380.2" r="4.85" fill="#481467"/>
<circle cx="547.9" cy="349.6" r="4.85" fill="#460B5D"/>
<circle cx="760.2" cy="257.1" r="4.85"/>
<circle cx="832.8" cy="463.7" r="4.85" fill="#414587"/>
<circle cx="369.3" cy="406.4" r="4.85"/>
<circle cx="487.3" cy="447.9" r="4.85" fill="#460B5D"/>
<circle cx="787.1" cy="263.2" r="4.85" fill="#20938C"/>
<circle cx="472.3" cy="406.9" r="4.85"/>
<circle cx="253.8" cy="385.4" r="4.85"/>
<circle cx="272.4" cy="475.9" r="4.85"/>
<circle cx="932.5" cy="251.5" r="4.85"/>
<circle cx="168.5" cy="371.5" r="4.85"/>
<circle cx="326.0" cy="456.1" r="4.85" fill="#460B5D"/>
<circle cx="357.5" cy="493.8" r="4.85" fill="#34618D"/>
<circle cx="909.9" cy="606.1" r="4.85" fill="#2B748E"/>
<circle cx="864.9" cy="596.4" r="4.85" fill="#2CB17D"/>
<circle cx="883.9" cy="95.5" r="4.85" fill="#2E6E8E"/>
<circle cx="616.4" cy="509.0" r="4.85" fill="#460B5D"/>
<circle cx="417.3" cy="427.4" r="4.85" fill="#460B5D"/>
<circle cx="739.5" cy="530.0" r="4.85" fill="#460B5D"/>
<circle cx="879.4" cy="483.1" r="4.85" fill="#24878D"/>
<circle cx="368.9" cy="449.4" r="4.85"/>
<circle cx="223.5" cy="331.8" r="4.85" fill="#460B5D"/>
<circle cx="583.2" cy="404.8" r="4.85"/>
<circle cx="260.7" cy="199.0" r="4.85"/>
<circle cx="818.6" cy="768.8" r="4.85" fill="#481D6E"/>
<circle cx="385.3" cy="485.3" r="4.85"/>
<circle cx="210.9" cy="393.7" r="4.85" fill="#3D4D8A"/>
<circle cx="800.8" cy="620.8" r="4.85" fill="#297A8E"/>
<circle cx="365.7" cy="427.6" r="4.85" fill="#460B5D"/>
<circle cx="903.1" cy="294.2" r="4.85" fill="#472D7B"/>
<circle cx="613.1" cy="485.9" r="4.85" fill="#460B5D"/>
<circle cx="219.8" cy="296.6" r="4.85" fill="#34618D"/>
<circle cx="414.5" cy="495.0" r="4.85" fill="#453680"/>
<circle cx="427.4" cy="276.5" r="4.85" fill="#460B5D"/>
<circle cx="530.8" cy="437.2" r="4.85" fill="#460B5D"/>
<circle cx="246.3" cy="394.2" r="4.85" fill="#472D7B"/>
<circle cx="661.9" cy="490.9" r="4.85" fill="#460B5D"/>
<circle cx="652.5" cy="375.7" r="4.85"/>
<circle cx="584.9" cy="307.8" r="4.85"/>
<circle cx="649.9" cy="260.5" r="4.85" fill="#209F88"/>
<circle cx="306.9" cy="329.5" r="4.85" fill="#460B5D"/>
<circle cx="967.6" cy="231.0" r="4.85"/>
<circle cx="679.1" cy="266.3" r="4.85" fill="#460B5D"/>
<circle cx="532.1" cy="370.0" r="4.85" fill="#460B5D"/>
<circle cx="928.3" cy="543.3" r="4.85"/>
<circle cx="692.6" cy="684.7" r="4.85" fill="#1F998A"/>
<circle cx="928.2" cy="417.7" r="4.85"/>
<circle cx="562.1" cy="365.6" r="4.85" fill="#460B5D"/>
<circle cx="945.0" cy="544.7" r="4.85" fill="#DDE319"/>
<circle cx="237.1" cy="431.4" r="4.85"/>
<circle cx="318.6" cy="424.3" r="4.85" fill="#460B5D"/>
<circle cx="538.6" cy="315.4" r="4.85"/>
<circle cx="359.2" cy="422.6" r="4.85"/>
<circle cx="721.4" cy="481.5" r="4.85" fill="#481467"/>
<circle cx="611.1" cy="353.9" r="4.85"/>
<circle cx="543.2" cy="476.6" r="4.85" fill="#453680"/>
<circle cx="391.5" cy="439.3" r="4.85"/>
<circle cx="404.3" cy="558.7" r="4.85"/>
<circle cx="880.6" cy="443.9" r="4.85"/>
<circle cx="969.6" cy="176.4" r="4.85" fill="#375B8C"/>
<circle cx="486.9" cy="405.7" r="4.85"/>
<circle cx="566.2" cy="514.4" r="4.85" fill="#3D4D8A"/>
<circle cx="205.0" cy="194.6" r="4.85"/>
<circle cx="935.3" cy="169.9" r="4.85"/>
<circle cx="239.9" cy="265.2" r="4.85" fill="#460B5D"/>
<circle cx="929.2" cy="596.1" r="4.85" fill="#24878D"/>
<circle cx="756.2" cy="303.5" r="4.85" fill="#460B5D"/>
<circle cx="966.5" cy="159.4" r="4.85"/>
<circle cx="927.9" cy="163.7" r="4.85" fill="#375B8C"/>
<circle cx="256.0" cy="514.0" r="4.85" fill="#482576"/>
<circle cx="339.1" cy="493.0" r="4.85" fill="#460B5D"/>
<circle cx="278.3" cy="537.9" r="4.85" fill="#453680"/>
<circle cx="159.0" cy="383.5" r="4.85" fill="#433E84"/>
<circle cx="382.5" cy="418.1" r="4.85" fill="#460B5D"/>
<circle cx="754.7" cy="476.4" r="4.85" fill="#460B5D"/>
<circle cx="397.2" cy="420.4" r="4.85" fill="#460B5D"/>
<circle cx="380.8" cy="304.6" r="4.85"/>
<circle cx="944.0" cy="385.8" r="4.85" fill="#2B748E"/>
<circle cx="414.8" cy="294.6" r="4.85" fill="#460B5D"/>
<circle cx="701.3" cy="416.2" r="4.85"/>
<circle cx="466.2" cy="291.2" r="4.85"/>
<circle cx="557.9" cy="595.6" r="4.85" fill="#460B5D"/>
<circle cx="735.1" cy="390.7" r="4.85"/>
<circle cx="796.3" cy="502.7" r="4.85" fill="#2B748E"/>
<circle cx="443.4" cy="473.5" r="4.85" fill="#460B5D"/>
<circle cx="620.1" cy="478.8" r="4.85" fill="#460B5D"/>
<circle cx="922.5" cy="197.1" r="4.85" fill="#481467"/>
<circle cx="768.3" cy="617.3" r="4.85" fill="#460B5D"/>
<circle cx="897.3" cy="510.3" r="4.85"/>
<circle cx="969.3" cy="151.9" r="4.85" fill="#460B5D"/>
<circle cx="361.2" cy="483.2" r="4.85"/>
<circle cx="450.8" cy="519.8" r="4.85"/>
<circle cx="955.9" cy="157.1" r="4.85"/>
<circle cx="207.0" cy="342.1" r="4.85"/>
<circle cx="222.6" cy="410.9" r="4.85" fill="#460B5D"/>
<circle cx="784.0" cy="581.7" r="4.85" fill="#460B5D"/>
<circle cx="214.4" cy="472.5" r="4.85"/>
<circle cx="643.1" cy="484.0" r="4.85"/>
<circle cx="997.1" cy="270.7" r="4.85"/>
<circle cx="886.6" cy="335.1" r="4.85"/>
<circle cx="419.1" cy="553.5" r="4.85" fill="#40BD73"/>
<circle cx="402.6" cy="438.0" r="4.85" fill="#20938C"/>
<circle cx="288.1" cy="346.9" r="4.85" fill="#453680"/>
<circle cx="302.3" cy="391.7" r="4.85"/>
<circle cx="457.6" cy="484.2" r="4.85"/>
<circle cx="973.3" cy="252.9" r="4.85"/>
<circle cx="201.8" cy="395.6" r="4.85" fill="#433E84"/>
<circle cx="460.8" cy="522.9" r="4.85" fill="#481467"/>
<circle cx="299.7" cy="413.8" r="4.85"/>
<circle cx="308.9" cy="452.7" r="4.85" fill="#3D4D8A"/>
<circle cx="757.8" cy="485.7" r="4.85" fill="#460B5D"/>
<circle cx="910.5" cy="237.2" r="4.85"/>
<circle cx="489.5" cy="287.8" r="4.85"/>
<circle cx="654.5" cy="392.8" r="4.85"/>
<circle cx="904.5" cy="514.7" r="4.85"/>
<circle cx="467.7" cy="429.4" r="4.85" fill="#460B5D"/>
<circle cx="563.5" cy="408.4" r="4.85"/>
<circle cx="912.6" cy="370.2" r="4.85" fill="#26AB81"/>
<circle cx="477.7" cy="323.7" r="4.85" fill="#3A548B"/>
<circle cx="794.4" cy="319.0" r="4.85"/>
<circle cx="930.5" cy="516.5" r="4.85" fill="#453680"/>
<circle cx="915.5" cy="185.0" r="4.85" fill="#34618D"/>
<circle cx="734.7" cy="560.8" r="4.85"/>
<circle cx="274.8" cy="356.7" r="4.85" fill="#453680"/>
<circle cx="714.3" cy="379.8" r="4.85"/>
<circle cx="668.3" cy="432.2" r="4.85" fill="#481467"/>
<circle cx="876.5" cy="437.3" r="4.85" fill="#228D8C"/>
<circle cx="316.8" cy="320.8" r="4.85"/>
<circle cx="486.6" cy="472.4" r="4.85" fill="#460B5D"/>
<circle cx="288.1" cy="260.3" r="4.85"/>
<circle cx="975.1" cy="224.4" r="4.85" fill="#460B5D"/>
<circle cx="916.0" cy="144.8" r="4.85" fill="#3A548B"/>
<circle cx="264.2" cy="551.9" r="4.85"/>
<circle cx="372.0" cy="515.9" r="4.85"/>
<circle cx="968.4" cy="232.8" r="4.85" fill="#460B5D"/>
<circle cx="584.2" cy="423.3" r="4.85" fill="#460B5D"/>
<circle cx="987.6" cy="383.8" r="4.85"/>
<circle cx="497.2" cy="353.0" r="4.85" fill="#34618D"/>
<circle cx="737.4" cy="556.8" r="4.85"/>
<circle cx="428.0" cy="495.8" r="4.85" fill="#481467"/>
<circle cx="813.9" cy="329.7" r="4.85" fill="#460B5D"/>
<circle cx="920.1" cy="762.4" r="4.85" fill="#460B5D"/>
<circle cx="376.9" cy="535.4" r="4.85" fill="#59C765"/>
<circle cx="700.9" cy="415.1" r="4.85" fill="#20938C"/>
<circle cx="901.3" cy="401.7" r="4.85" fill="#24878D"/>
<circle cx="627.1" cy="264.6" r="4.85"/>
<circle cx="252.6" cy="367.5" r="4.85" fill="#453680"/>
<circle cx="643.2" cy="472.2" r="4.85"/>
<circle cx="399.3" cy="342.9" r="4.85" fill="#2CB17D"/>
<circle cx="291.4" cy="398.5" r="4.85" fill="#481D6E"/>
<circle cx="564.2" cy="410.3" r="4.85"/>
<circle cx="741.5" cy="579.5" r="4.85" fill="#460B5D"/>
<circle cx="287.2" cy="462.6" r="4.85" fill="#414587"/>
<circle cx="282.2" cy="388.3" r="4.85" fill="#375B8C"/>
<circle cx="176.0" cy="349.7" r="4.85" fill="#460B5D"/>
<circle cx="319.4" cy="361.3" r="4.85" fill="#460B5D"/>
<circle cx="238.8" cy="286.0" r="4.85" fill="#482576"/>
<circle cx="873.4" cy="404.0" r="4.85" fill="#297A8E"/>
<circle cx="922.1" cy="626.3" r="4.85"/>
<circle cx="890.1" cy="338.4" r="4.85" fill="#76D153"/>
<circle cx="679.0" cy="366.8" r="4.85" fill="#460B5D"/>
<circle cx="432.7" cy="420.0" r="4.85"/>
<circle cx="898.1" cy="187.2" r="4.85" fill="#460B5D"/>
<circle cx="681.2" cy="312.0" r="4.85" fill="#2E6E8E"/>
<circle cx="929.5" cy="461.1" r="4.85"/>
<circle cx="192.5" cy="299.6" r="4.85" fill="#31678D"/>
<circle cx="418.6" cy="545.7" r="4.85" fill="#460B5D"/>
<circle cx="865.1" cy="411.6" r="4.85" fill="#460B5D"/>
<circle cx="313.1" cy="453.4" r="4.85"/>
<circle cx="941.5" cy="390.3" r="4.85" fill="#460B5D"/>
<circle cx="221.9" cy="423.4" r="4.85" fill="#3A548B"/>
<circle cx="263.2" cy="304.5" r="4.85" fill="#472D7B"/>
<circle cx="919.3" cy="244.9" r="4.85"/>
<circle cx="931.2" cy="499.4" r="4.85" fill="#460B5D"/>
<circle cx="594.9" cy="306.1" r="4.85" fill="#460B5D"/>
<circle cx="423.9" cy="387.8" r="4.85" fill="#4CC26C"/>
<circle cx="845.8" cy="200.0" r="4.85"/>
<circle cx="395.4" cy="368.7" r="4.85"/>
<circle cx="919.7" cy="226.6" r="4.85"/>
<circle cx="626.0" cy="466.1" r="4.85"/>
<circle cx="502.9" cy="475.8" r="4.85"/>
<circle cx="701.3" cy="738.5" r="4.85"/>
<circle cx="591.9" cy="339.8" r="4.85"/>
<circle cx="214.0" cy="319.1" r="4.85"/>
<circle cx="650.9" cy="462.1" r="4.85"/>
<circle cx="705.1" cy="443.1" r="4.85" fill="#460B5D"/>
<circle cx="538.4" cy="386.3" r="4.85" fill="#460B5D"/>
<circle cx="845.8" cy="371.0" r="4.85" fill="#472D7B"/>
<circle cx="614.9" cy="466.7" r="4.85"/>
<circle cx="681.0" cy="586.1" r="4.85" fill="#98D83E"/>
<circle cx="959.8" cy="182.4" r="4.85" fill="#460B5D"/>
<circle cx="185.3" cy="394.9" r="4.85"/>
<circle cx="601.4" cy="532.1" r="4.85" fill="#297A8E"/>
<circle cx="220.0" cy="375.3" r="4.85" fill="#433E84"/>
<circle cx="214.0" cy="320.9" r="4.85" fill="#375B8C"/>
<circle cx="992.6" cy="156.1" r="4.85"/>
<circle cx="152.6" cy="399.8" r="4.85"/>
<circle cx="258.3" cy="345.9" r="4.85" fill="#460B5D"/>
<circle cx="224.0" cy="398.8" r="4.85" fill="#482576"/>
<circle cx="626.7" cy="325.2" r="4.85" fill="#460B5D"/>
<circle cx="234.1" cy="309.4" r="4.85" fill="#482576"/>
<circle cx="245.2" cy="388.6" r="4.85" fill="#472D7B"/>
<circle cx="424.1" cy="304.9" r="4.85" fill="#460B5D"/>
<circle cx="994.7" cy="490.3" r="4.85" fill="#3D4D8A"/>
<circle cx="396.7" cy="239.6" r="4.85" fill="#481467"/>
<circle cx="227.0" cy="438.9" r="4.85" fill="#453680"/>
<circle cx="472.1" cy="411.1" r="4.85"/>
<circle cx="614.9" cy="407.8" r="4.85"/>
<circle cx="688.0" cy="490.2" r="4.85" fill="#460B5D"/>
<circle cx="354.5" cy="297.6" r="4.85"/>
<circle cx="575.7" cy="369.5" r="4.85" fill="#460B5D"/>
<circle cx="217.5" cy="330.9" r="4.85"/>
<circle cx="321.3" cy="486.6" r="4.85" fill="#34618D"/>
<circle cx="853.8" cy="409.9" r="4.85" fill="#34618D"/>
<circle cx="746.8" cy="390.9" r="4.85" fill="#460B5D"/>
<circle cx="347.1" cy="384.8" r="4.85" fill="#460B5D"/>
<circle cx="227.3" cy="337.8" r="4.85"/>
<circle cx="209.4" cy="271.8" r="4.85" fill="#460B5D"/>
<circle cx="939.8" cy="194.0" r="4.85" fill="#481467"/>
<circle cx="233.3" cy="373.6" r="4.85"/>
<circle cx="926.9" cy="236.9" r="4.85"/>
<circle cx="841.8" cy="587.4" r="4.85" fill="#433E84"/>
<circle cx="618.4" cy="352.8" r="4.85"/>
<circle cx="357.5" cy="455.7" r="4.85"/>
<circle cx="487.7" cy="250.1" r="4.85" fill="#460B5D"/>
<circle cx="280.7" cy="394.5" r="4.85" fill="#460B5D"/>
<circle cx="168.8" cy="446.9" r="4.85" fill="#433E84"/>
<circle cx="971.5" cy="188.7" r="4.85"/>
<circle cx="292.0" cy="423.6" r="4.85"/>
<circle cx="253.8" cy="414.0" r="4.85" fill="#31678D"/>
<circle cx="477.8" cy="590.6" r="4.85"/>
<circle cx="222.6" cy="370.5" r="4.85" fill="#375B8C"/>
<circle cx="759.1" cy="822.4" r="4.85"/>
<circle cx="921.7" cy="343.0" r="4.85" fill="#297A8E"/>
<circle cx="407.4" cy="359.8" r="4.85" fill="#460B5D"/>
<circle cx="296.9" cy="298.9" r="4.85" fill="#24878D"/>
<circle cx="948.5" cy="171.4" r="4.85" fill="#460B5D"/>
<circle cx="618.8" cy="666.2" r="4.85" fill="#3A548B"/>
<circle cx="811.7" cy="561.9" r="4.85" fill="#460B5D"/>
<circle cx="229.2" cy="393.3" r="4.85" fill="#481D6E"/>
<circle cx="781.9" cy="297.7" r="4.85" fill="#460B5D"/>
<circle cx="900.0" cy="349.7" r="4.85" fill="#297A8E"/>
<circle cx="574.1" cy="438.8" r="4.85" fill="#460B5D"/>
<circle cx="277.5" cy="399.1" r="4.85" fill="#414587"/>
<circle cx="802.3" cy="587.3" r="4.85" fill="#3A548B"/>
<circle cx="771.5" cy="380.0" r="4.85" fill="#460B5D"/>
<circle cx="508.3" cy="477.7" r="4.85" fill="#460B5D"/>
<circle cx="465.8" cy="388.6" r="4.85"/>
<circle cx="883.5" cy="361.8" r="4.85" fill="#22A585"/>
<circle cx="579.3" cy="273.5" r="4.85"/>
<circle cx="927.6" cy="249.5" r="4.85"/>
<circle cx="230.5" cy="394.9" r="4.85" fill="#414587"/>
<circle cx="301.8" cy="263.1" r="4.85"/>
<circle cx="821.7" cy="479.4" r="4.85"/>
<circle cx="464.3" cy="387.7" r="4.85"/>
<circle cx="439.0" cy="441.9" r="4.85" fill="#460B5D"/>
<circle cx="946.3" cy="115.5" r="4.85"/>
<circle cx="936.6" cy="148.1" r="4.85"/>
<circle cx="202.5" cy="374.3" r="4.85" fill="#3D4D8A"/>
<circle cx="504.4" cy="376.9" r="4.85"/>
<circle cx="601.1" cy="379.7" r="4.85" fill="#460B5D"/>
<circle cx="495.2" cy="372.7" r="4.85"/>
<circle cx="219.3" cy="370.8" r="4.85"/>
<circle cx="895.4" cy="342.3" r="4.85" fill="#414587"/>
<circle cx="280.3" cy="370.4" r="4.85" fill="#34618D"/>
<circle cx="951.8" cy="160.1" r="4.85"/>
<circle cx="485.0" cy="447.4" r="4.85"/>
<circle cx="798.8" cy="266.4" r="4.85" fill="#2B748E"/>
<circle cx="959.6" cy="399.4" r="4.85" fill="#24878D"/>
<circle cx="495.2" cy="547.5" r="4.85" fill="#375B8C"/>
<circle cx="215.9" cy="269.8" r="4.85" fill="#460B5D"/>
<circle cx="298.9" cy="396.5" r="4.85" fill="#460B5D"/>
<circle cx="249.8" cy="440.9" r="4.85" fill="#414587"/>
<circle cx="926.2" cy="379.5" r="4.85" fill="#26AB81"/>
<circle cx="236.2" cy="366.4" r="4.85" fill="#460B5D"/>
<circle cx="799.9" cy="335.3" r="4.85" fill="#460B5D"/>
<circle cx="436.3" cy="417.0" r="4.85" fill="#375B8C"/>
<circle cx="507.9" cy="526.4" r="4.85"/>
<circle cx="236.3" cy="356.3" r="4.85" fill="#481467"/>
<circle cx="203.9" cy="288.7" r="4.85"/>
<circle cx="728.9" cy="404.8" r="4.85"/>
<circle cx="583.3" cy="220.8" r="4.85"/>
<circle cx="822.1" cy="685.4" r="4.85" fill="#34618D"/>
<circle cx="967.5" cy="644.0" r="4.85" fill="#460B5D"/>
<circle cx="947.6" cy="403.1" r="4.85" fill="#460B5D"/>
<circle cx="852.0" cy="528.3" r="4.85" fill="#460B5D"/>
<circle cx="420.2" cy="250.9" r="4.85" fill="#EDE51F"/>
<circle cx="471.5" cy="399.5" r="4.85" fill="#460B5D"/>
<circle cx="947.1" cy="397.8" r="4.85"/>
<circle cx="389.7" cy="440.9" r="4.85"/>
<circle cx="962.5" cy="199.2" r="4.85"/>
<circle cx="948.0" cy="158.8" r="4.85"/>
<circle cx="203.2" cy="320.1" r="4.85" fill="#472D7B"/>
<circle cx="174.7" cy="353.4" r="4.85" fill="#3A548B"/>
<circle cx="667.9" cy="283.2" r="4.85"/>
<circle cx="502.7" cy="410.8" r="4.85" fill="#460B5D"/>
<circle cx="531.5" cy="423.1" r="4.85" fill="#414587"/>
<circle cx="932.1" cy="407.3" r="4.85" fill="#26AB81"/>
<circle cx="272.2" cy="473.2" r="4.85" fill="#453680"/>
<circle cx="938.8" cy="339.8" r="4.85" fill="#1F998A"/>
<circle cx="226.7" cy="471.4" r="4.85" fill="#31678D"/>
<circle cx="200.6" cy="388.5" r="4.85" fill="#453680"/>
<circle cx="661.5" cy="330.1" r="4.85" fill="#460B5D"/>
<circle cx="234.6" cy="244.6" r="4.85"/>
<circle cx="475.6" cy="438.4" r="4.85"/>
<circle cx="615.2" cy="304.0" r="4.85" fill="#DDE319"/>
<circle cx="763.7" cy="610.6" r="4.85" fill="#482576"/>
<circle cx="694.1" cy="615.0" r="4.85" fill="#460B5D"/>
<circle cx="678.6" cy="423.8" r="4.85"/>
<circle cx="415.0" cy="382.4" r="4.85" fill="#297A8E"/>
<circle cx="238.7" cy="409.4" r="4.85" fill="#414587"/>
<circle cx="249.8" cy="356.0" r="4.85" fill="#453680"/>
<circle cx="318.8" cy="465.8" r="4.85" fill="#453680"/>
<circle cx="467.6" cy="347.1" r="4.85"/>
<circle cx="229.3" cy="273.1" r="4.85"/>
<circle cx="939.4" cy="427.2" r="4.85" fill="#67CC5C"/>
<circle cx="742.9" cy="511.8" r="4.85"/>
<circle cx="730.7" cy="375.9" r="4.85" fill="#460B5D"/>
<circle cx="693.3" cy="483.3" r="4.85"/>
<circle cx="816.2" cy="287.7" r="4.85"/>
<circle cx="601.8" cy="542.6" r="4.85" fill="#26AB81"/>
<circle cx="637.9" cy="562.9" r="4.85" fill="#375B8C"/>
<circle cx="258.7" cy="350.9" r="4.85" fill="#453680"/>
<circle cx="303.1" cy="446.6" r="4.85" fill="#481467"/>
<circle cx="613.0" cy="391.5" r="4.85" fill="#460B5D"/>
<circle cx="578.0" cy="323.6" r="4.85"/>
<circle cx="866.8" cy="424.5" r="4.85" fill="#24878D"/>
<circle cx="507.1" cy="431.6" r="4.85"/>
<circle cx="797.4" cy="374.1" r="4.85"/>
<circle cx="665.3" cy="409.3" r="4.85" fill="#460B5D"/>
<circle cx="687.4" cy="517.9" r="4.85" fill="#297A8E"/>
<circle cx="160.4" cy="435.0" r="4.85" fill="#375B8C"/>
<circle cx="810.7" cy="426.7" r="4.85"/>
<circle cx="445.8" cy="245.0" r="4.85" fill="#40BD73"/>
<circle cx="567.4" cy="419.1" r="4.85"/>
<circle cx="313.7" cy="389.1" r="4.85" fill="#22A585"/>
<circle cx="654.6" cy="451.8" r="4.85" fill="#460B5D"/>
<circle cx="234.1" cy="324.1" r="4.85" fill="#460B5D"/>
<circle cx="492.0" cy="520.3" r="4.85"/>
<circle cx="235.9" cy="371.9" r="4.85" fill="#460B5D"/>
<circle cx="321.2" cy="384.3" r="4.85" fill="#481467"/>
<circle cx="686.9" cy="433.2" r="4.85" fill="#59C765"/>
<circle cx="865.9" cy="485.1" r="4.85" fill="#3D4D8A"/>
<circle cx="311.1" cy="288.5" r="4.85" fill="#453680"/>
<circle cx="959.2" cy="170.8" r="4.85"/>
<circle cx="907.2" cy="506.9" r="4.85" fill="#40BD73"/>
<circle cx="177.1" cy="382.2" r="4.85"/>
<circle cx="750.7" cy="360.2" r="4.85" fill="#460B5D"/>
<circle cx="354.7" cy="480.3" r="4.85"/>
<circle cx="571.4" cy="503.0" r="4.85" fill="#297A8E"/>
<circle cx="244.1" cy="299.3" r="4.85"/>
<circle cx="517.6" cy="293.0" r="4.85"/>
<circle cx="319.3" cy="505.2" r="4.85" fill="#453680"/>
<circle cx="556.1" cy="371.2" r="4.85" fill="#460B5D"/>
<circle cx="903.3" cy="510.6" r="4.85" fill="#472D7B"/>
<circle cx="404.8" cy="490.7" r="4.85" fill="#460B5D"/>
<circle cx="510.4" cy="379.7" r="4.85"/>
<circle cx="235.3" cy="314.5" r="4.85"/>
<circle cx="264.5" cy="324.6" r="4.85" fill="#31678D"/>
<circle cx="490.9" cy="301.0" r="4.85"/>
<circle cx="232.7" cy="466.1" r="4.85" fill="#34618D"/>
<circle cx="312.0" cy="348.7" r="4.85" fill="#460B5D"/>
<circle cx="216.9" cy="463.4" r="4.85" fill="#3A548B"/>
<circle cx="585.6" cy="568.5" r="4.85"/>
<circle cx="268.7" cy="266.5" r="4.85"/>
<circle cx="826.7" cy="762.6" r="4.85" fill="#34618D"/>
<circle cx="985.9" cy="182.9" r="4.85" fill="#460B5D"/>
<circle cx="465.3" cy="348.4" r="4.85" fill="#481467"/>
<circle cx="944.2" cy="407.8" r="4.85" fill="#460B5D"/>
<circle cx="398.9" cy="398.7" r="4.85" fill="#482576"/>
<circle cx="973.3" cy="124.7" r="4.85"/>
<circle cx="938.6" cy="149.6" r="4.85"/>
<circle cx="973.4" cy="532.8" r="4.85" fill="#24878D"/>
<circle cx="843.8" cy="645.7" r="4.85"/>
<circle cx="213.3" cy="339.7" r="4.85" fill="#34618D"/>
<circle cx="524.0" cy="306.5" r="4.85"/>
<circle cx="324.8" cy="303.7" r="4.85"/>
<circle cx="252.2" cy="474.5" r="4.85" fill="#433E84"/>
<circle cx="470.3" cy="519.7" r="4.85"/>
<circle cx="905.7" cy="304.1" r="4.85" fill="#34618D"/>
<circle cx="677.8" cy="475.0" r="4.85" fill="#460B5D"/>
<circle cx="683.2" cy="443.3" r="4.85" fill="#460B5D"/>
<circle cx="547.1" cy="239.6" r="4.85"/>
<circle cx="377.0" cy="286.8" r="4.85" fill="#460B5D"/>
<circle cx="625.1" cy="281.6" r="4.85"/>
<circle cx="754.9" cy="789.4" r="4.85"/>
<circle cx="298.2" cy="446.8" r="4.85" fill="#460B5D"/>
<circle cx="449.7" cy="324.6" r="4.85" fill="#460B5D"/>
<circle cx="376.3" cy="378.0" r="4.85" fill="#460B5D"/>
<circle cx="835.0" cy="352.5" r="4.85" fill="#460B5D"/>
<circle cx="450.7" cy="367.2" r="4.85"/>
<circle cx="179.0" cy="423.9" r="4.85"/>
<circle cx="483.4" cy="507.5" r="4.85" fill="#3A548B"/>
<circle cx="887.0" cy="529.1" r="4.85" fill="#414587"/>
<circle cx="523.4" cy="455.9" r="4.85"/>
<circle cx="247.0" cy="316.5" r="4.85"/>
<circle cx="388.5" cy="318.2" r="4.85"/>
<circle cx="812.7" cy="524.4" r="4.85"/>
<circle cx="306.5" cy="572.3" r="4.85"/>
<circle cx="612.3" cy="259.2" r="4.85"/>
<circle cx="721.4" cy="378.0" r="4.85" fill="#460B5D"/>
<circle cx="220.7" cy="366.0" r="4.85" fill="#460B5D"/>
<circle cx="461.5" cy="457.4" r="4.85"/>
<circle cx="949.8" cy="179.8" r="4.85" fill="#460B5D"/>
<circle cx="191.2" cy="432.6" r="4.85" fill="#3A548B"/>
<circle cx="543.8" cy="505.7" r="4.85"/>
<circle cx="979.6" cy="338.7" r="4.85" fill="#3D4D8A"/>
<circle cx="754.0" cy="384.5" r="4.85" fill="#453680"/>
<circle cx="605.6" cy="450.9" r="4.85" fill="#460B5D"/>
<circle cx="600.4" cy="308.1" r="4.85" fill="#460B5D"/>
<circle cx="225.5" cy="440.5" r="4.85" fill="#433E84"/>
<circle cx="321.2" cy="399.8" r="4.85"/>
<circle cx="269.7" cy="409.0" r="4.85" fill="#453680"/>
<circle cx="243.0" cy="290.3" r="4.85" fill="#460B5D"/>
<circle cx="243.9" cy="414.4" r="4.85" fill="#31678D"/>
<circle cx="726.4" cy="433.1" r="4.85"/>
<circle cx="910.4" cy="74.4" r="4.85" fill="#482576"/>
<circle cx="369.7" cy="471.9" r="4.85"/>
<circle cx="718.4" cy="463.9" r="4.85" fill="#EDE51F"/>
<circle cx="674.9" cy="488.7" r="4.85"/>
<circle cx="287.9" cy="351.6" r="4.85"/>
<circle cx="939.4" cy="129.9" r="4.85" fill="#481467"/>
<circle cx="454.9" cy="412.8" r="4.85"/>
<circle cx="302.4" cy="420.0" r="4.85" fill="#2B748E"/>
<circle cx="324.7" cy="498.6" r="4.85"/>
<circle cx="643.2" cy="469.0" r="4.85" fill="#31678D"/>
<circle cx="229.7" cy="376.3" r="4.85" fill="#34618D"/>
<circle cx="285.3" cy="482.7" r="4.85" fill="#460B5D"/>
<circle cx="275.6" cy="445.4" r="4.85" fill="#31678D"/>
<circle cx="983.4" cy="295.3" r="4.85" fill="#460B5D"/>
<circle cx="929.6" cy="62.9" r="4.85" fill="#460B5D"/>
<circle cx="508.9" cy="387.3" r="4.85" fill="#460B5D"/>
<circle cx="205.0" cy="258.3" r="4.85"/>
<circle cx="495.7" cy="374.6" r="4.85" fill="#460B5D"/>
<circle cx="513.7" cy="351.2" r="4.85" fill="#460B5D"/>
<circle cx="904.7" cy="565.8" r="4.85" fill="#59C765"/>
<circle cx="695.5" cy="518.1" r="4.85"/>
<circle cx="969.9" cy="210.6" r="4.85" fill="#460B5D"/>
<circle cx="420.8" cy="432.2" r="4.85" fill="#1F998A"/>
<circle cx="958.2" cy="206.4" r="4.85" fill="#460B5D"/>
<circle cx="753.0" cy="394.6" r="4.85" fill="#460B5D"/>
<circle cx="513.0" cy="401.9" r="4.85"/>
<circle cx="576.3" cy="461.6" r="4.85"/>
<circle cx="658.1" cy="418.1" r="4.85"/>
<circle cx="773.5" cy="431.6" r="4.85" fill="#460B5D"/>
<circle cx="963.2" cy="284.7" r="4.85" fill="#460B5D"/>
<circle cx="806.1" cy="400.9" r="4.85"/>
<circle cx="269.5" cy="313.1" r="4.85"/>
<circle cx="214.6" cy="314.3" r="4.85"/>
<circle cx="205.5" cy="487.8" r="4.85" fill="#3D4D8A"/>
<circle cx="299.5" cy="350.4" r="4.85" fill="#460B5D"/>
<circle cx="341.3" cy="427.7" r="4.85" fill="#460B5D"/>
<circle cx="924.3" cy="507.8" r="4.85" fill="#433E84"/>
<circle cx="745.8" cy="511.1" r="4.85"/>
<circle cx="991.4" cy="205.7" r="4.85" fill="#433E84"/>
<circle cx="941.1" cy="575.0" r="4.85"/>
<circle cx="547.6" cy="480.8" r="4.85"/>
<circle cx="490.8" cy="397.2" r="4.85"/>
<circle cx="209.0" cy="400.4" r="4.85"/>
<circle cx="306.6" cy="351.9" r="4.85" fill="#24878D"/>
<circle cx="270.0" cy="452.8" r="4.85" fill="#34618D"/>
<circle cx="341.0" cy="431.1" r="4.85" fill="#460B5D"/>
<circle cx="916.4" cy="482.7" r="4.85" fill="#DDE319"/>
<circle cx="347.6" cy="435.6" r="4.85" fill="#481467"/>
<circle cx="989.2" cy="210.7" r="4.85" fill="#460B5D"/>
<circle cx="256.8" cy="463.5" r="4.85" fill="#460B5D"/>
<circle cx="648.4" cy="546.4" r="4.85"/>
<circle cx="232.8" cy="319.8" r="4.85"/>
<circle cx="191.1" cy="358.6" r="4.85" fill="#433E84"/>
<circle cx="313.5" cy="497.7" r="4.85" fill="#2E6E8E"/>
<circle cx="204.0" cy="402.0" r="4.85" fill="#460B5D"/>
<circle cx="487.8" cy="262.5" r="4.85" fill="#453680"/>
<circle cx="573.5" cy="574.2" r="4.85" fill="#209F88"/>
<circle cx="163.2" cy="484.3" r="4.85" fill="#472D7B"/>
<circle cx="409.8" cy="385.3" r="4.85" fill="#460B5D"/>
<circle cx="334.9" cy="426.4" r="4.85" fill="#482576"/>
<circle cx="457.1" cy="142.9" r="4.85" fill="#481467"/>
<circle cx="236.0" cy="439.0" r="4.85"/>
<circle cx="893.6" cy="331.0" r="4.85" fill="#228D8C"/>
<circle cx="383.5" cy="486.7" r="4.85" fill="#40BD73"/>
<circle cx="566.3" cy="401.0" r="4.85"/>
<circle cx="940.5" cy="415.1" r="4.85" fill="#31678D"/>
<circle cx="313.0" cy="351.6" r="4.85" fill="#460B5D"/>
<circle cx="943.5" cy="162.1" r="4.85" fill="#3A548B"/>
<circle cx="997.6" cy="255.9" r="4.85" fill="#460B5D"/>
<circle cx="661.7" cy="225.8" r="4.85" fill="#22A585"/>
<circle cx="708.6" cy="363.9" r="4.85" fill="#481467"/>
<circle cx="224.2" cy="216.4" r="4.85"/>
<circle cx="440.4" cy="443.4" r="4.85" fill="#481467"/>
<circle cx="941.3" cy="402.9" r="4.85" fill="#460B5D"/>
<circle cx="536.0" cy="358.5" r="4.85" fill="#460B5D"/>
<circle cx="397.2" cy="350.0" r="4.85" fill="#460B5D"/>
<circle cx="364.8" cy="348.9" r="4.85" fill="#460B5D"/>
<circle cx="940.5" cy="707.6" r="4.85" fill="#297A8E"/>
<circle cx="261.5" cy="316.8" r="4.85" fill="#433E84"/>
<circle cx="305.3" cy="323.0" r="4.85" fill="#460B5D"/>
<circle cx="474.6" cy="375.0" r="4.85"/>
<circle cx="450.9" cy="435.0" r="4.85" fill="#460B5D"/>
<circle cx="952.6" cy="409.4" r="4.85" fill="#297A8E"/>
<circle cx="883.1" cy="241.5" r="4.85"/>
<circle cx="236.4" cy="379.5" r="4.85" fill="#460B5D"/>
<circle cx="887.5" cy="463.0" r="4.85" fill="#460B5D"/>
<circle cx="305.9" cy="216.1" r="4.85" fill="#460B5D"/>
<circle cx="319.8" cy="385.9" r="4.85" fill="#20938C"/>
<circle cx="374.8" cy="440.6" r="4.85"/>
<circle cx="263.1" cy="405.8" r="4.85"/>
<circle cx="257.7" cy="246.5" r="4.85" fill="#2E6E8E"/>
<circle cx="358.8" cy="227.1" r="4.85"/>
<circle cx="743.4" cy="597.6" r="4.85"/>
<circle cx="261.1" cy="462.9" r="4.85"/>
<circle cx="885.5" cy="402.9" r="4.85" fill="#27818E"/>
<circle cx="238.1" cy="308.7" r="4.85" fill="#460B5D"/>
<circle cx="561.9" cy="346.6" r="4.85"/>
<circle cx="307.7" cy="418.3" r="4.85" fill="#460B5D"/>
<circle cx="877.1" cy="570.3" r="4.85" fill="#472D7B"/>
<circle cx="844.7" cy="589.9" r="4.85" fill="#3A548B"/>
<circle cx="947.1" cy="500.2" r="4.85" fill="#24878D"/>
<circle cx="621.4" cy="416.7" r="4.85" fill="#481467"/>
<circle cx="531.6" cy="431.2" r="4.85" fill="#460B5D"/>
<circle cx="573.9" cy="456.6" r="4.85" fill="#481467"/>
<circle cx="620.9" cy="400.3" r="4.85"/>
<circle cx="748.7" cy="561.3" r="4.85"/>
<circle cx="692.4" cy="467.8" r="4.85"/>
<circle cx="851.4" cy="414.1" r="4.85" fill="#375B8C"/>
<circle cx="651.6" cy="389.3" r="4.85" fill="#460B5D"/>
<circle cx="963.1" cy="308.9" r="4.85"/>
<circle cx="429.9" cy="354.0" r="4.85"/>
<circle cx="631.8" cy="371.1" r="4.85" fill="#460B5D"/>
<circle cx="852.6" cy="280.4" r="4.85" fill="#460B5D"/>
<circle cx="997.3" cy="205.7" r="4.85"/>
<circle cx="230.3" cy="333.5" r="4.85"/>
<circle cx="612.1" cy="489.6" r="4.85" fill="#460B5D"/>
<circle cx="321.7" cy="433.4" r="4.85" fill="#460B5D"/>
<circle cx="199.0" cy="409.5" r="4.85" fill="#482576"/>
<circle cx="961.1" cy="140.8" r="4.85"/>
<circle cx="346.5" cy="361.2" r="4.85" fill="#460B5D"/>
<circle cx="524.7" cy="373.4" r="4.85" fill="#460B5D"/>
<circle cx="911.7" cy="321.8" r="4.85"/>
<circle cx="297.0" cy="394.8" r="4.85" fill="#375B8C"/>
<circle cx="252.0" cy="413.4" r="4.85" fill="#460B5D"/>
<circle cx="167.3" cy="389.3" r="4.85" fill="#460B5D"/>
<circle cx="998.6" cy="211.6" r="4.85"/>
<circle cx="948.0" cy="566.2" r="4.85"/>
<circle cx="959.4" cy="241.8" r="4.85"/>
<circle cx="261.2" cy="438.7" r="4.85" fill="#460B5D"/>
<circle cx="956.6" cy="162.0" r="4.85" fill="#460B5D"/>
<circle cx="955.2" cy="149.7" r="4.85" fill="#460B5D"/>
<circle cx="941.6" cy="168.2" r="4.85"/>
<circle cx="225.1" cy="469.6" r="4.85" fill="#482576"/>
<circle cx="331.6" cy="412.7" r="4.85" fill="#460B5D"/>
<circle cx="681.7" cy="212.5" r="4.85" fill="#481467"/>
<circle cx="927.9" cy="496.3" r="4.85" fill="#2CB17D"/>
<circle cx="578.0" cy="422.1" r="4.85" fill="#460B5D"/>
<circle cx="204.5" cy="456.3" r="4.85"/>
<circle cx="650.0" cy="469.7" r="4.85" fill="#460B5D"/>
<circle cx="724.6" cy="371.1" r="4.85" fill="#2E6E8E"/>
<circle cx="218.2" cy="382.2" r="4.85" fill="#433E84"/>
<circle cx="945.9" cy="158.5" r="4.85"/>
<circle cx="419.4" cy="422.6" r="4.85" fill="#460B5D"/>
<circle cx="251.6" cy="285.2" r="4.85" fill="#460B5D"/>
<circle cx="818.4" cy="348.0" r="4.85" fill="#460B5D"/>
<circle cx="164.2" cy="312.1" r="4.85" fill="#31678D"/>
<circle cx="885.4" cy="306.0" r="4.85" fill="#3D4D8A"/>
<circle cx="364.4" cy="441.6" r="4.85" fill="#460B5D"/>
<circle cx="950.7" cy="511.2" r="4.85" fill="#27818E"/>
<circle cx="746.3" cy="532.9" r="4.85"/>
<circle cx="582.4" cy="482.4" r="4.85" fill="#481467"/>
<circle cx="923.8" cy="492.3" r="4.85" fill="#414587"/>
<circle cx="896.2" cy="367.2" r="4.85" fill="#CBE120"/>
<circle cx="661.8" cy="423.4" r="4.85" fill="#481D6E"/>
<circle cx="760.6" cy="318.0" r="4.85" fill="#460B5D"/>
<circle cx="544.8" cy="354.4" r="4.85" fill="#433E84"/>
<circle cx="559.6" cy="393.6" r="4.85" fill="#460B5D"/>
<circle cx="928.2" cy="368.6" r="4.85" fill="#24878D"/>
<circle cx="705.3" cy="371.9" r="4.85" fill="#460B5D"/>
<circle cx="528.2" cy="406.9" r="4.85"/>
<circle cx="905.8" cy="206.8" r="4.85" fill="#460B5D"/>
<circle cx="598.7" cy="589.0" r="4.85" fill="#460B5D"/>
<circle cx="804.5" cy="470.2" r="4.85"/>
<circle cx="238.3" cy="424.0" r="4.85" fill="#482576"/>
<circle cx="742.8" cy="317.6" r="4.85"/>
<circle cx="948.7" cy="460.6" r="4.85"/>
<circle cx="584.2" cy="367.9" r="4.85" fill="#460B5D"/>
<circle cx="607.8" cy="383.7" r="4.85" fill="#2E6E8E"/>
<circle cx="975.5" cy="175.2" r="4.85" fill="#453680"/>
<circle cx="912.8" cy="638.0" r="4.85" fill="#460B5D"/>
<circle cx="508.2" cy="337.1" r="4.85" fill="#460B5D"/>
<circle cx="272.5" cy="419.4" r="4.85" fill="#3D4D8A"/>
<circle cx="928.2" cy="307.1" r="4.85" fill="#2B748E"/>
<circle cx="271.8" cy="360.5" r="4.85"/>
<circle cx="893.6" cy="623.9" r="4.85" fill="#460B5D"/>
<circle cx="887.5" cy="58.8" r="4.85" fill="#472D7B"/>
<circle cx="240.0" cy="344.6" r="4.85" fill="#414587"/>
<circle cx="966.5" cy="297.4" r="4.85" fill="#453680"/>
<circle cx="648.7" cy="457.5" r="4.85" fill="#297A8E"/>
<circle cx="685.2" cy="573.2" r="4.85"/>
<circle cx="896.5" cy="521.0" r="4.85" fill="#228D8C"/>
<circle cx="335.8" cy="421.0" r="4.85" fill="#460B5D"/>
<circle cx="608.3" cy="575.6" r="4.85" fill="#482576"/>
<circle cx="333.0" cy="431.4" r="4.85" fill="#460B5D"/>
<circle cx="628.1" cy="371.3" r="4.85" fill="#481467"/>
<circle cx="652.8" cy="416.2" r="4.85" fill="#460B5D"/>
<circle cx="385.2" cy="361.1" r="4.85" fill="#460B5D"/>
<circle cx="268.4" cy="324.7" r="4.85" fill="#460B5D"/>
<circle cx="437.0" cy="280.2" r="4.85" fill="#433E84"/>
<circle cx="432.1" cy="446.8" r="4.85"/>
<circle cx="715.0" cy="526.6" r="4.85"/>
<circle cx="551.8" cy="419.9" r="4.85"/>
<circle cx="928.3" cy="288.8" r="4.85" fill="#460B5D"/>
<circle cx="943.4" cy="402.8" r="4.85" fill="#3D4D8A"/>
<circle cx="947.4" cy="131.9" r="4.85" fill="#460B5D"/>
<circle cx="216.7" cy="415.8" r="4.85" fill="#3A548B"/>
<circle cx="225.4" cy="328.7" r="4.85" fill="#31678D"/>
<circle cx="273.4" cy="266.6" r="4.85" fill="#460B5D"/>
<circle cx="342.6" cy="317.7" r="4.85" fill="#460B5D"/>
<circle cx="424.9" cy="268.4" r="4.85"/>
<circle cx="362.2" cy="433.4" r="4.85"/>
<circle cx="750.0" cy="370.2" r="4.85" fill="#460B5D"/>
<circle cx="223.3" cy="468.6" r="4.85" fill="#3D4D8A"/>
<circle cx="905.6" cy="110.1" r="4.85" fill="#3A548B"/>
<circle cx="987.4" cy="270.3" r="4.85" fill="#460B5D"/>
<circle cx="492.5" cy="363.2" r="4.85"/>
<circle cx="830.8" cy="588.8" r="4.85"/>
<circle cx="968.7" cy="274.8" r="4.85"/>
<circle cx="234.7" cy="386.6" r="4.85"/>
<circle cx="543.1" cy="263.7" r="4.85"/>
<circle cx="513.2" cy="434.5" r="4.85"/>
<circle cx="952.9" cy="505.4" r="4.85" fill="#59C765"/>
<circle cx="500.4" cy="367.7" r="4.85" fill="#460B5D"/>
<circle cx="633.7" cy="474.7" r="4.85"/>
<circle cx="955.5" cy="430.7" r="4.85" fill="#460B5D"/>
<circle cx="831.5" cy="502.0" r="4.85" fill="#20938C"/>
<circle cx="239.1" cy="282.2" r="4.85" fill="#3A548B"/>
<circle cx="774.0" cy="401.5" r="4.85" fill="#460B5D"/>
<circle cx="948.1" cy="262.0" r="4.85"/>
<circle cx="875.9" cy="648.7" r="4.85"/>
<circle cx="716.2" cy="246.3" r="4.85" fill="#40BD73"/>
<circle cx="900.8" cy="465.7" r="4.85" fill="#24878D"/>
<circle cx="909.4" cy="376.4" r="4.85" fill="#375B8C"/>
<circle cx="237.5" cy="286.4" r="4.85" fill="#460B5D"/>
<circle cx="415.8" cy="415.1" r="4.85"/>
<circle cx="986.6" cy="320.6" r="4.85" fill="#460B5D"/>
<circle cx="559.9" cy="391.7" r="4.85" fill="#460B5D"/>
<circle cx="673.8" cy="387.8" r="4.85" fill="#460B5D"/>
<circle cx="676.3" cy="561.1" r="4.85"/>
<circle cx="310.2" cy="373.4" r="4.85" fill="#460B5D"/>
<circle cx="281.2" cy="384.4" r="4.85" fill="#31678D"/>
<circle cx="217.7" cy="320.8" r="4.85" fill="#460B5D"/>
<circle cx="959.8" cy="298.5" r="4.85" fill="#460B5D"/>
<circle cx="914.1" cy="479.9" r="4.85" fill="#460B5D"/>
<circle cx="384.5" cy="395.3" r="4.85"/>
<circle cx="852.8" cy="283.3" r="4.85"/>
<circle cx="356.1" cy="556.3" r="4.85" fill="#460B5D"/>
<circle cx="934.4" cy="617.7" r="4.85" fill="#414587"/>
<circle cx="612.0" cy="394.4" r="4.85" fill="#460B5D"/>
<circle cx="220.1" cy="419.0" r="4.85"/>
<circle cx="977.0" cy="208.2" r="4.85" fill="#433E84"/>
<circle cx="247.2" cy="434.9" r="4.85" fill="#460B5D"/>
<circle cx="337.8" cy="438.7" r="4.85"/>
<circle cx="512.4" cy="401.1" r="4.85" fill="#460B5D"/>
<circle cx="966.3" cy="429.4" r="4.85" fill="#460B5D"/>
<circle cx="958.5" cy="151.9" r="4.85" fill="#460B5D"/>
<circle cx="782.9" cy="569.4" r="4.85" fill="#460B5D"/>
<circle cx="294.7" cy="327.2" r="4.85"/>
<circle cx="788.6" cy="508.0" r="4.85" fill="#A9DB33"/>
<circle cx="779.7" cy="457.2" r="4.85" fill="#3D4D8A"/>
<circle cx="419.0" cy="438.6" r="4.85" fill="#460B5D"/>
<circle cx="307.2" cy="402.7" r="4.85" fill="#433E84"/>
<circle cx="798.4" cy="385.4" r="4.85" fill="#481467"/>
<circle cx="738.1" cy="529.5" r="4.85" fill="#460B5D"/>
<circle cx="514.4" cy="397.7" r="4.85" fill="#481467"/>
<circle cx="352.8" cy="534.4" r="4.85" fill="#482576"/>
<circle cx="997.0" cy="217.1" r="4.85" fill="#460B5D"/>
<circle cx="169.0" cy="552.5" r="4.85" fill="#453680"/>
<circle cx="626.4" cy="280.0" r="4.85" fill="#460B5D"/>
<circle cx="385.4" cy="385.1" r="4.85"/>
<circle cx="274.4" cy="327.9" r="4.85"/>
<circle cx="171.8" cy="414.1" r="4.85"/>
<circle cx="220.0" cy="349.9" r="4.85" fill="#460B5D"/>
<circle cx="287.2" cy="318.9" r="4.85" fill="#3D4D8A"/>
<circle cx="915.6" cy="542.2" r="4.85"/>
<circle cx="556.6" cy="423.8" r="4.85" fill="#460B5D"/>
<circle cx="427.3" cy="430.4" r="4.85" fill="#98D83E"/>
<circle cx="527.7" cy="423.1" r="4.85" fill="#76D153"/>
<circle cx="315.5" cy="322.5" r="4.85" fill="#460B5D"/>
<circle cx="962.7" cy="225.2" r="4.85"/>
<circle cx="628.5" cy="397.8" r="4.85" fill="#34618D"/>
<circle cx="291.4" cy="508.5" r="4.85" fill="#460B5D"/>
<circle cx="565.1" cy="419.1" r="4.85"/>
<circle cx="913.5" cy="134.9" r="4.85" fill="#36B778"/>
<circle cx="402.8" cy="513.6" r="4.85" fill="#481467"/>
<circle cx="803.6" cy="453.6" r="4.85" fill="#460B5D"/>
<circle cx="721.4" cy="487.2" r="4.85" fill="#460B5D"/>
<circle cx="376.7" cy="508.5" r="4.85" fill="#460B5D"/>
<circle cx="919.0" cy="426.5" r="4.85" fill="#22A585"/>
<circle cx="871.8" cy="558.5" r="4.85"/>
<circle cx="203.9" cy="487.6" r="4.85" fill="#3A548B"/>
<circle cx="229.8" cy="361.0" r="4.85" fill="#228D8C"/>
<circle cx="242.0" cy="466.8" r="4.85"/>
<circle cx="900.8" cy="266.1" r="4.85" fill="#460B5D"/>
<circle cx="276.9" cy="435.5" r="4.85" fill="#375B8C"/>
<circle cx="445.0" cy="261.4" r="4.85" fill="#297A8E"/>
<circle cx="431.3" cy="554.5" r="4.85" fill="#460B5D"/>
<circle cx="445.2" cy="568.9" r="4.85" fill="#460B5D"/>
<circle cx="548.1" cy="515.5" r="4.85" fill="#460B5D"/>
<circle cx="720.9" cy="285.4" r="4.85" fill="#481467"/>
<circle cx="265.0" cy="381.4" r="4.85"/>
<circle cx="325.4" cy="380.4" r="4.85"/>
<circle cx="740.0" cy="643.4" r="4.85" fill="#482576"/>
<circle cx="668.8" cy="714.4" r="4.85" fill="#482576"/>
<circle cx="804.6" cy="220.0" r="4.85"/>
<circle cx="239.6" cy="343.7" r="4.85" fill="#31678D"/>
<circle cx="252.8" cy="460.7" r="4.85" fill="#3A548B"/>
<circle cx="300.3" cy="411.1" r="4.85" fill="#3D4D8A"/>
<circle cx="248.0" cy="286.0" r="4.85" fill="#453680"/>
<circle cx="354.4" cy="634.8" r="4.85"/>
<circle cx="265.2" cy="318.8" r="4.85" fill="#31678D"/>
<circle cx="432.1" cy="327.1" r="4.85"/>
<circle cx="221.7" cy="466.3" r="4.85"/>
<circle cx="826.0" cy="711.5" r="4.85" fill="#482576"/>
<circle cx="281.5" cy="389.3" r="4.85" fill="#3A548B"/>
<circle cx="489.6" cy="309.1" r="4.85" fill="#460B5D"/>
<circle cx="388.2" cy="422.7" r="4.85"/>
<circle cx="514.3" cy="512.7" r="4.85" fill="#460B5D"/>
<circle cx="744.3" cy="353.5" r="4.85"/>
<circle cx="923.6" cy="407.7" r="4.85" fill="#98D83E"/>
<circle cx="941.6" cy="477.6" r="4.85" fill="#297A8E"/>
<circle cx="884.5" cy="555.8" r="4.85" fill="#228D8C"/>
<circle cx="998.0" cy="348.5" r="4.85" fill="#59C765"/>
<circle cx="570.7" cy="486.1" r="4.85"/>
<circle cx="244.7" cy="358.9" r="4.85" fill="#414587"/>
<circle cx="325.1" cy="332.3" r="4.85" fill="#67CC5C"/>
<circle cx="660.8" cy="486.8" r="4.85" fill="#3A548B"/>
<circle cx="738.2" cy="554.1" r="4.85"/>
<circle cx="663.0" cy="556.9" r="4.85" fill="#31678D"/>
<circle cx="222.7" cy="476.0" r="4.85" fill="#34618D"/>
<circle cx="531.0" cy="454.8" r="4.85" fill="#460B5D"/>
<circle cx="398.7" cy="370.8" r="4.85" fill="#460B5D"/>
<circle cx="245.8" cy="366.5" r="4.85"/>
<circle cx="936.7" cy="602.4" r="4.85" fill="#375B8C"/>
<circle cx="923.4" cy="617.8" r="4.85" fill="#297A8E"/>
<circle cx="764.5" cy="290.5" r="4.85" fill="#460B5D"/>
<circle cx="735.0" cy="345.6" r="4.85" fill="#433E84"/>
<circle cx="914.9" cy="396.8" r="4.85"/>
<circle cx="375.1" cy="389.0" r="4.85" fill="#433E84"/>
<circle cx="577.2" cy="436.5" r="4.85" fill="#460B5D"/>
<circle cx="216.7" cy="412.8" r="4.85" fill="#460B5D"/>
<circle cx="841.5" cy="355.6" r="4.85" fill="#22A585"/>
<circle cx="912.2" cy="383.1" r="4.85" fill="#36B778"/>
<circle cx="668.9" cy="442.5" r="4.85" fill="#460B5D"/>
<circle cx="985.3" cy="261.5" r="4.85"/>
<circle cx="496.6" cy="418.8" r="4.85"/>
<circle cx="543.8" cy="343.9" r="4.85" fill="#CBE120"/>
<circle cx="365.0" cy="400.9" r="4.85" fill="#460B5D"/>
<circle cx="250.7" cy="454.4" r="4.85" fill="#3A548B"/>
<circle cx="724.1" cy="424.4" r="4.85"/>
<circle cx="282.0" cy="276.5" r="4.85"/>
<circle cx="584.9" cy="325.5" r="4.85" fill="#460B5D"/>
<circle cx="264.8" cy="292.2" r="4.85"/>
<circle cx="258.0" cy="318.4" r="4.85" fill="#3D4D8A"/>
<circle cx="587.4" cy="322.5" r="4.85" fill="#460B5D"/>
<circle cx="785.4" cy="675.5" r="4.85"/>
<circle cx="909.6" cy="393.9" r="4.85"/>
<circle cx="919.2" cy="384.0" r="4.85" fill="#375B8C"/>
<circle cx="998.5" cy="164.4" r="4.85"/>
<circle cx="797.9" cy="628.6" r="4.85" fill="#414587"/>
<circle cx="881.9" cy="177.3" r="4.85"/>
<circle cx="558.4" cy="279.8" r="4.85"/>
<circle cx="240.2" cy="382.4" r="4.85" fill="#DDE319"/>
<circle cx="931.9" cy="258.5" r="4.85" fill="#460B5D"/>
<circle cx="610.2" cy="366.3" r="4.85" fill="#460B5D"/>
<circle cx="164.8" cy="411.7" r="4.85" fill="#414587"/>
<circle cx="827.8" cy="440.4" r="4.85"/>
<circle cx="825.5" cy="671.4" r="4.85" fill="#460B5D"/>
<circle cx="949.9" cy="515.1" r="4.85" fill="#460B5D"/>
<circle cx="911.0" cy="521.0" r="4.85" fill="#2E6E8E"/>
<circle cx="925.6" cy="245.5" r="4.85" fill="#2E6E8E"/>
<circle cx="538.6" cy="533.2" r="4.85" fill="#460B5D"/>
<circle cx="936.7" cy="418.3" r="4.85" fill="#2E6E8E"/>
<circle cx="193.2" cy="316.3" r="4.85" fill="#482576"/>
<circle cx="928.7" cy="152.3" r="4.85" fill="#460B5D"/>
<circle cx="468.5" cy="247.1" r="4.85" fill="#433E84"/>
<circle cx="303.0" cy="365.3" r="4.85"/>
<circle cx="928.9" cy="371.2" r="4.85" fill="#414587"/>
<circle cx="525.8" cy="345.4" r="4.85"/>
<circle cx="389.3" cy="396.2" r="4.85" fill="#460B5D"/>
<circle cx="255.4" cy="399.5" r="4.85" fill="#34618D"/>
<circle cx="915.3" cy="203.1" r="4.85" fill="#460B5D"/>
<circle cx="498.3" cy="490.6" r="4.85"/>
<circle cx="716.2" cy="516.9" r="4.85"/>
<circle cx="936.8" cy="236.8" r="4.85" fill="#460B5D"/>
<circle cx="662.3" cy="323.8" r="4.85"/>
<circle cx="728.1" cy="516.5" r="4.85"/>
<circle cx="225.8" cy="310.4" r="4.85" fill="#460B5D"/>
<circle cx="271.6" cy="446.2" r="4.85" fill="#375B8C"/>
<circle cx="690.0" cy="370.0" r="4.85"/>
<circle cx="843.5" cy="499.6" r="4.85" fill="#460B5D"/>
<circle cx="345.1" cy="404.2" r="4.85" fill="#59C765"/>
<circle cx="884.5" cy="281.6" r="4.85" fill="#375B8C"/>
<circle cx="398.9" cy="498.9" r="4.85"/>
<circle cx="932.2" cy="168.4" r="4.85" fill="#460B5D"/>
<circle cx="347.4" cy="332.9" r="4.85"/>
<circle cx="451.8" cy="485.2" r="4.85" fill="#22A585"/>
<circle cx="203.1" cy="199.1" r="4.85"/>
<circle cx="391.2" cy="397.1" r="4.85" fill="#460B5D"/>
<circle cx="342.0" cy="504.3" r="4.85" fill="#22A585"/>
<circle cx="409.9" cy="450.8" r="4.85" fill="#460B5D"/>
<circle cx="286.0" cy="255.7" r="4.85" fill="#414587"/>
<circle cx="512.9" cy="459.9" r="4.85"/>
<circle cx="658.5" cy="414.5" r="4.85" fill="#460B5D"/>
<circle cx="928.2" cy="559.8" r="4.85" fill="#460B5D"/>
<circle cx="577.7" cy="472.0" r="4.85" fill="#27818E"/>
<circle cx="427.0" cy="399.4" r="4.85"/>
<circle cx="947.8" cy="525.8" r="4.85" fill="#3A548B"/>
<circle cx="955.3" cy="341.3" r="4.85" fill="#460B5D"/>
<circle cx="924.7" cy="609.8" r="4.85" fill="#228D8C"/>
<circle cx="232.2" cy="443.7" r="4.85" fill="#460B5D"/>
<circle cx="921.2" cy="241.3" r="4.85" fill="#460B5D"/>
<circle cx="1006.3" cy="273.3" r="4.85"/>
<circle cx="908.9" cy="481.7" r="4.85" fill="#34618D"/>
<circle cx="569.8" cy="363.5" r="4.85" fill="#481467"/>
<circle cx="944.8" cy="613.5" r="4.85" fill="#2CB17D"/>
<circle cx="852.9" cy="368.0" r="4.85"/>
<circle cx="954.4" cy="119.9" r="4.85" fill="#460B5D"/>
<circle cx="968.9" cy="113.2" r="4.85" fill="#433E84"/>
<circle cx="319.9" cy="260.4" r="4.85" fill="#460B5D"/>
<circle cx="273.4" cy="457.9" r="4.85" fill="#375B8C"/>
<circle cx="755.7" cy="543.1" r="4.85" fill="#460B5D"/>
<circle cx="238.0" cy="247.7" r="4.85" fill="#453680"/>
<circle cx="928.6" cy="646.4" r="4.85" fill="#481467"/>
<circle cx="260.3" cy="191.3" r="4.85" fill="#460B5D"/>
<circle cx="345.7" cy="382.3" r="4.85"/>
<circle cx="507.6" cy="421.2" r="4.85"/>
<circle cx="938.6" cy="169.6" r="4.85"/>
<circle cx="284.7" cy="248.3" r="4.85" fill="#59C765"/>
<circle cx="721.6" cy="472.5" r="4.85"/>
<circle cx="341.3" cy="377.2" r="4.85"/>
<circle cx="586.5" cy="408.7" r="4.85"/>
<circle cx="979.9" cy="229.1" r="4.85" fill="#453680"/>
<circle cx="392.5" cy="398.0" r="4.85"/>
<circle cx="943.6" cy="400.1" r="4.85"/>
<circle cx="938.6" cy="509.7" r="4.85"/>
<circle cx="314.2" cy="488.2" r="4.85"/>
<circle cx="996.0" cy="156.6" r="4.85" fill="#481467"/>
<circle cx="186.1" cy="336.3" r="4.85" fill="#460B5D"/>
<circle cx="542.7" cy="462.9" r="4.85"/>
<circle cx="731.2" cy="346.9" r="4.85" fill="#460B5D"/>
<circle cx="295.1" cy="308.5" r="4.85"/>
<circle cx="388.4" cy="406.7" r="4.85" fill="#460B5D"/>
<circle cx="374.6" cy="202.1" r="4.85" fill="#460B5D"/>
<circle cx="265.8" cy="371.7" r="4.85" fill="#31678D"/>
<circle cx="340.7" cy="441.4" r="4.85" fill="#460B5D"/>
<circle cx="1015.4" cy="300.4" r="4.85" fill="#481467"/>
<circle cx="548.8" cy="214.6" r="4.85" fill="#DDE319"/>
<circle cx="377.5" cy="475.5" r="4.85"/>
<circle cx="394.8" cy="465.2" r="4.85" fill="#460B5D"/>
<circle cx="716.7" cy="598.1" r="4.85"/>
<circle cx="970.9" cy="327.5" r="4.85"/>
<circle cx="936.3" cy="482.8" r="4.85" fill="#67CC5C"/>
<circle cx="701.1" cy="265.3" r="4.85" fill="#375B8C"/>
<circle cx="476.9" cy="399.5" r="4.85"/>
<circle cx="177.2" cy="409.4" r="4.85" fill="#433E84"/>
<circle cx="915.8" cy="400.4" r="4.85" fill="#3A548B"/>
<circle cx="214.7" cy="344.6" r="4.85" fill="#460B5D"/>
<circle cx="250.6" cy="333.5" r="4.85" fill="#460B5D"/>
<circle cx="283.2" cy="300.5" r="4.85"/>
<circle cx="268.9" cy="342.3" r="4.85" fill="#482576"/>
<circle cx="956.4" cy="511.7" r="4.85"/>
<circle cx="642.8" cy="638.4" r="4.85"/>
<circle cx="215.8" cy="530.6" r="4.85" fill="#414587"/>
<circle cx="920.6" cy="124.5" r="4.85"/>
<circle cx="252.8" cy="396.8" r="4.85" fill="#482576"/>
<circle cx="560.8" cy="458.5" r="4.85" fill="#2E6E8E"/>
<circle cx="946.9" cy="170.6" r="4.85" fill="#472D7B"/>
<circle cx="256.7" cy="373.6" r="4.85" fill="#481467"/>
<circle cx="833.9" cy="301.6" r="4.85" fill="#67CC5C"/>
<circle cx="306.8" cy="379.9" r="4.85" fill="#472D7B"/>
<circle cx="340.1" cy="364.5" r="4.85"/>
<circle cx="937.9" cy="441.8" r="4.85" fill="#36B778"/>
<circle cx="421.9" cy="325.9" r="4.85"/>
<circle cx="180.3" cy="388.5" r="4.85" fill="#460B5D"/>
<circle cx="520.8" cy="350.9" r="4.85" fill="#460B5D"/>
<circle cx="928.1" cy="278.6" r="4.85" fill="#460B5D"/>
<circle cx="536.4" cy="409.5" r="4.85" fill="#36B778"/>
<circle cx="980.6" cy="206.1" r="4.85" fill="#433E84"/>
<circle cx="653.4" cy="374.4" r="4.85"/>
<circle cx="209.6" cy="355.2" r="4.85" fill="#460B5D"/>
<circle cx="370.9" cy="529.0" r="4.85" fill="#36B778"/>
<circle cx="535.4" cy="417.6" r="4.85"/>
<circle cx="260.9" cy="405.5" r="4.85" fill="#3D4D8A"/>
<circle cx="213.0" cy="350.4" r="4.85"/>
<circle cx="269.9" cy="327.0" r="4.85" fill="#482576"/>
<circle cx="253.4" cy="347.2" r="4.85" fill="#482576"/>
<circle cx="306.5" cy="298.7" r="4.85"/>
<circle cx="303.6" cy="429.4" r="4.85" fill="#460B5D"/>
<circle cx="199.7" cy="376.1" r="4.85"/>
<circle cx="261.6" cy="402.4" r="4.85" fill="#460B5D"/>
<circle cx="951.7" cy="520.6" r="4.85" fill="#76D153"/>
<circle cx="894.2" cy="554.6" r="4.85" fill="#460B5D"/>
<circle cx="540.3" cy="615.6" r="4.85"/>
<circle cx="380.4" cy="408.1" r="4.85" fill="#460B5D"/>
<circle cx="461.9" cy="324.2" r="4.85" fill="#460B5D"/>
<circle cx="238.8" cy="534.8" r="4.85" fill="#414587"/>
<circle cx="877.0" cy="538.2" r="4.85" fill="#1F998A"/>
<circle cx="277.3" cy="374.8" r="4.85" fill="#460B5D"/>
<circle cx="285.4" cy="381.6" r="4.85" fill="#460B5D"/>
<circle cx="930.8" cy="179.2" r="4.85" fill="#460B5D"/>
<circle cx="782.3" cy="516.4" r="4.85"/>
<circle cx="219.3" cy="465.3" r="4.85" fill="#3A548B"/>
<circle cx="281.0" cy="257.0" r="4.85" fill="#460B5D"/>
<circle cx="213.8" cy="431.8" r="4.85" fill="#453680"/>
<circle cx="594.9" cy="374.2" r="4.85"/>
<circle cx="185.4" cy="381.4" r="4.85"/>
<circle cx="312.4" cy="387.3" r="4.85" fill="#460B5D"/>
<circle cx="861.9" cy="393.9" r="4.85" fill="#31678D"/>
<circle cx="418.5" cy="270.3" r="4.85"/>
<circle cx="318.3" cy="228.7" r="4.85" fill="#453680"/>
<circle cx="858.4" cy="626.2" r="4.85"/>
<circle cx="400.2" cy="447.5" r="4.85" fill="#460B5D"/>
<circle cx="468.9" cy="395.7" r="4.85" fill="#460B5D"/>
<circle cx="925.9" cy="143.3" r="4.85"/>
<circle cx="874.2" cy="539.1" r="4.85" fill="#3A548B"/>
<circle cx="216.9" cy="394.2" r="4.85"/>
<circle cx="312.8" cy="392.3" r="4.85" fill="#3D4D8A"/>
<circle cx="287.5" cy="463.6" r="4.85" fill="#3A548B"/>
<circle cx="889.1" cy="464.5" r="4.85" fill="#2E6E8E"/>
<circle cx="392.2" cy="518.1" r="4.85"/>
<circle cx="822.2" cy="487.6" r="4.85" fill="#460B5D"/>
<circle cx="607.0" cy="485.6" r="4.85"/>
<circle cx="348.2" cy="461.7" r="4.85" fill="#460B5D"/>
<circle cx="994.3" cy="216.2" r="4.85"/>
<circle cx="230.2" cy="280.5" r="4.85"/>
<circle cx="960.4" cy="397.4" r="4.85" fill="#3D4D8A"/>
<circle cx="644.8" cy="339.4" r="4.85" fill="#460B5D"/>
<circle cx="278.5" cy="299.9" r="4.85" fill="#472D7B"/>
<circle cx="213.8" cy="313.4" r="4.85"/>
<circle cx="220.5" cy="266.5" r="4.85"/>
<circle cx="694.2" cy="749.8" r="4.85"/>
<circle cx="267.3" cy="392.6" r="4.85" fill="#31678D"/>
<circle cx="245.7" cy="296.7" r="4.85" fill="#472D7B"/>
<circle cx="299.4" cy="279.3" r="4.85"/>
<circle cx="523.9" cy="406.4" r="4.85"/>
<circle cx="908.9" cy="468.9" r="4.85"/>
<circle cx="652.8" cy="355.8" r="4.85" fill="#460B5D"/>
<circle cx="923.1" cy="344.7" r="4.85" fill="#375B8C"/>
<circle cx="195.6" cy="352.2" r="4.85" fill="#375B8C"/>
<circle cx="834.0" cy="662.9" r="4.85"/>
<circle cx="309.3" cy="407.0" r="4.85"/>
<circle cx="545.0" cy="428.9" r="4.85" fill="#27818E"/>
<circle cx="257.8" cy="387.6" r="4.85" fill="#460B5D"/>
<circle cx="876.6" cy="618.2" r="4.85" fill="#1F998A"/>
<circle cx="961.9" cy="581.5" r="4.85"/>
<circle cx="673.1" cy="481.5" r="4.85" fill="#87D549"/>
<circle cx="997.3" cy="262.7" r="4.85" fill="#460B5D"/>
<circle cx="717.9" cy="245.8" r="4.85" fill="#CBE120"/>
<circle cx="744.9" cy="462.0" r="4.85" fill="#59C765"/>
<circle cx="810.5" cy="516.1" r="4.85"/>
<circle cx="660.9" cy="342.4" r="4.85" fill="#460B5D"/>
<circle cx="928.9" cy="427.5" r="4.85" fill="#34618D"/>
<circle cx="747.7" cy="530.9" r="4.85" fill="#460B5D"/>
<circle cx="396.7" cy="414.5" r="4.85" fill="#228D8C"/>
<circle cx="401.4" cy="517.0" r="4.85" fill="#481467"/>
<circle cx="271.3" cy="237.5" r="4.85" fill="#472D7B"/>
<circle cx="231.6" cy="400.5" r="4.85"/>
<circle cx="246.9" cy="472.0" r="4.85"/>
<circle cx="442.8" cy="418.6" r="4.85" fill="#460B5D"/>
<circle cx="556.6" cy="389.7" r="4.85"/>
<circle cx="546.3" cy="317.9" r="4.85"/>
<circle cx="811.1" cy="483.4" r="4.85"/>
<circle cx="946.5" cy="193.7" r="4.85" fill="#375B8C"/>
<circle cx="574.9" cy="350.1" r="4.85"/>
<circle cx="355.6" cy="418.3" r="4.85" fill="#460B5D"/>
<circle cx="287.4" cy="386.1" r="4.85" fill="#2E6E8E"/>
<circle cx="375.2" cy="261.8" r="4.85"/>
<circle cx="812.9" cy="665.2" r="4.85"/>
<circle cx="405.4" cy="495.5" r="4.85" fill="#460B5D"/>
<circle cx="576.6" cy="459.4" r="4.85"/>
<circle cx="607.3" cy="452.4" r="4.85" fill="#460B5D"/>
<circle cx="199.5" cy="410.4" r="4.85" fill="#472D7B"/>
<circle cx="267.0" cy="356.2" r="4.85" fill="#31678D"/>
<circle cx="835.3" cy="367.4" r="4.85" fill="#460B5D"/>
<circle cx="306.4" cy="397.2" r="4.85" fill="#460B5D"/>
<circle cx="246.4" cy="333.4" r="4.85"/>
<circle cx="351.9" cy="433.6" r="4.85" fill="#460B5D"/>
<circle cx="162.3" cy="423.4" r="4.85" fill="#414587"/>
<circle cx="245.5" cy="315.9" r="4.85" fill="#460B5D"/>
<circle cx="1006.0" cy="585.2" r="4.85" fill="#472D7B"/>
<circle cx="388.2" cy="408.2" r="4.85"/>
<circle cx="252.6" cy="297.6" r="4.85" fill="#460B5D"/>
<circle cx="782.9" cy="470.2" r="4.85" fill="#481D6E"/>
<circle cx="253.8" cy="294.7" r="4.85" fill="#460B5D"/>
<circle cx="230.4" cy="412.6" r="4.85"/>
<circle cx="986.5" cy="199.1" r="4.85" fill="#460B5D"/>
<circle cx="228.6" cy="435.6" r="4.85" fill="#375B8C"/>
<circle cx="957.9" cy="318.7" r="4.85" fill="#460B5D"/>
<circle cx="830.1" cy="604.4" r="4.85"/>
<circle cx="559.4" cy="739.4" r="4.85" fill="#481D6E"/>
<circle cx="968.2" cy="213.3" r="4.85"/>
<circle cx="944.6" cy="538.7" r="4.85" fill="#460B5D"/>
<circle cx="917.2" cy="663.6" r="4.85" fill="#20938C"/>
<circle cx="331.0" cy="467.7" r="4.85" fill="#CBE120"/>
<circle cx="934.4" cy="129.8" r="4.85"/>
<circle cx="893.1" cy="509.6" r="4.85" fill="#460B5D"/>
<circle cx="915.6" cy="421.5" r="4.85" fill="#414587"/>
<circle cx="970.9" cy="92.6" r="4.85"/>
<circle cx="655.3" cy="514.3" r="4.85" fill="#460B5D"/>
<circle cx="909.5" cy="222.2" r="4.85" fill="#453680"/>
<circle cx="833.1" cy="546.1" r="4.85"/>
<circle cx="807.2" cy="512.0" r="4.85" fill="#460B5D"/>
<circle cx="204.6" cy="289.1" r="4.85" fill="#453680"/>
<circle cx="939.8" cy="416.3" r="4.85" fill="#460B5D"/>
<circle cx="287.5" cy="348.6" r="4.85" fill="#460B5D"/>
<circle cx="924.0" cy="135.6" r="4.85"/>
<circle cx="800.2" cy="281.8" r="4.85" fill="#460B5D"/>
<circle cx="216.4" cy="379.4" r="4.85" fill="#482576"/>
<circle cx="911.1" cy="313.4" r="4.85" fill="#76D153"/>
<circle cx="314.6" cy="358.5" r="4.85" fill="#31678D"/>
<circle cx="346.0" cy="369.8" r="4.85" fill="#453680"/>
<circle cx="556.1" cy="369.6" r="4.85" fill="#481467"/>
<circle cx="927.7" cy="194.0" r="4.85" fill="#34618D"/>
<circle cx="394.2" cy="500.2" r="4.85" fill="#481467"/>
<circle cx="772.3" cy="559.1" r="4.85" fill="#3A548B"/>
<circle cx="319.8" cy="262.2" r="4.85"/>
<circle cx="491.8" cy="295.5" r="4.85"/>
<circle cx="972.9" cy="403.7" r="4.85"/>
<circle cx="624.9" cy="391.2" r="4.85" fill="#460B5D"/>
<circle cx="479.7" cy="540.6" r="4.85" fill="#481D6E"/>
<circle cx="547.1" cy="368.9" r="4.85"/>
<circle cx="569.0" cy="413.2" r="4.85" fill="#460B5D"/>
<circle cx="621.3" cy="362.8" r="4.85" fill="#460B5D"/>
<circle cx="769.8" cy="644.1" r="4.85" fill="#98D83E"/>
<circle cx="255.4" cy="432.7" r="4.85" fill="#481467"/>
<circle cx="907.6" cy="594.9" r="4.85" fill="#460B5D"/>
<circle cx="915.7" cy="426.9" r="4.85" fill="#228D8C"/>
<circle cx="615.9" cy="474.4" r="4.85" fill="#460B5D"/>
<circle cx="226.5" cy="420.7" r="4.85"/>
<circle cx="408.2" cy="494.7" r="4.85"/>
<circle cx="914.9" cy="471.9" r="4.85" fill="#20938C"/>
<circle cx="906.9" cy="236.2" r="4.85" fill="#433E84"/>
<circle cx="590.4" cy="420.8" r="4.85" fill="#460B5D"/>
<circle cx="783.0" cy="414.9" r="4.85"/>
<circle cx="909.1" cy="84.7" r="4.85" fill="#460B5D"/>
<circle cx="576.6" cy="668.1" r="4.85"/>
<circle cx="533.1" cy="459.5" r="4.85"/>
<circle cx="669.1" cy="552.5" r="4.85" fill="#3A548B"/>
<circle cx="809.3" cy="479.7" r="4.85" fill="#460B5D"/>
<circle cx="306.2" cy="357.3" r="4.85" fill="#460B5D"/>
<circle cx="932.0" cy="195.1" r="4.85"/>
<circle cx="372.1" cy="626.0" r="4.85"/>
<circle cx="930.1" cy="286.9" r="4.85" fill="#460B5D"/>
<circle cx="901.4" cy="412.6" r="4.85" fill="#2B748E"/>
<circle cx="267.2" cy="477.6" r="4.85" fill="#482576"/>
<circle cx="709.3" cy="677.8" r="4.85"/>
<circle cx="630.5" cy="446.0" r="4.85"/>
<circle cx="391.3" cy="459.5" r="4.85" fill="#460B5D"/>
<circle cx="241.5" cy="270.4" r="4.85" fill="#460B5D"/>
<circle cx="324.5" cy="415.8" r="4.85" fill="#460B5D"/>
<circle cx="900.3" cy="484.2" r="4.85" fill="#4CC26C"/>
<circle cx="511.1" cy="328.2" r="4.85" fill="#481467"/>
<circle cx="930.7" cy="264.4" r="4.85"/>
<circle cx="895.4" cy="486.4" r="4.85" fill="#20938C"/>
<circle cx="669.4" cy="505.9" r="4.85" fill="#460B5D"/>
<circle cx="837.8" cy="573.1" r="4.85" fill="#59C765"/>
<circle cx="899.7" cy="580.0" r="4.85" fill="#228D8C"/>
<circle cx="300.8" cy="302.6" r="4.85"/>
<circle cx="967.0" cy="235.5" r="4.85" fill="#460B5D"/>
<circle cx="791.1" cy="519.5" r="4.85" fill="#20938C"/>
<circle cx="213.7" cy="489.6" r="4.85" fill="#3D4D8A"/>
<circle cx="932.0" cy="579.2" r="4.85" fill="#2E6E8E"/>
<circle cx="610.4" cy="371.1" r="4.85"/>
<circle cx="941.0" cy="230.1" r="4.85" fill="#460B5D"/>
<circle cx="201.5" cy="279.7" r="4.85" fill="#375B8C"/>
<circle cx="475.1" cy="368.5" r="4.85"/>
<circle cx="255.1" cy="370.8" r="4.85" fill="#3A548B"/>
<circle cx="927.9" cy="353.7" r="4.85" fill="#481467"/>
<circle cx="657.1" cy="464.7" r="4.85"/>
<circle cx="488.3" cy="310.0" r="4.85" fill="#460B5D"/>
<circle cx="955.5" cy="223.7" r="4.85" fill="#482576"/>
<circle cx="316.4" cy="470.8" r="4.85"/>
<circle cx="595.0" cy="602.5" r="4.85" fill="#481467"/>
<circle cx="615.1" cy="475.9" r="4.85" fill="#460B5D"/>
<circle cx="318.5" cy="460.7" r="4.85" fill="#3D4D8A"/>
<circle cx="426.2" cy="670.0" r="4.85" fill="#433E84"/>
<circle cx="291.0" cy="433.1" r="4.85" fill="#3D4D8A"/>
<circle cx="738.9" cy="531.6" r="4.85" fill="#460B5D"/>
<circle cx="456.0" cy="393.5" r="4.85"/>
<circle cx="234.4" cy="377.3" r="4.85"/>
<circle cx="240.2" cy="417.2" r="4.85" fill="#414587"/>
<circle cx="486.4" cy="494.9" r="4.85" fill="#3D4D8A"/>
<circle cx="330.9" cy="324.1" r="4.85"/>
<circle cx="480.2" cy="283.4" r="4.85" fill="#460B5D"/>
<circle cx="561.3" cy="462.5" r="4.85"/>
<circle cx="295.9" cy="484.1" r="4.85" fill="#3D4D8A"/>
<circle cx="647.1" cy="428.9" r="4.85" fill="#460B5D"/>
<circle cx="774.7" cy="446.7" r="4.85" fill="#460B5D"/>
<circle cx="189.6" cy="340.6" r="4.85"/>
<circle cx="178.7" cy="368.6" r="4.85" fill="#433E84"/>
<circle cx="903.3" cy="97.3" r="4.85" fill="#460B5D"/>
<circle cx="785.7" cy="484.5" r="4.85" fill="#460B5D"/>
<circle cx="258.6" cy="276.8" r="4.85"/>
<circle cx="947.0" cy="331.6" r="4.85"/>
<circle cx="954.1" cy="149.8" r="4.85" fill="#472D7B"/>
<circle cx="788.1" cy="412.1" r="4.85" fill="#482576"/>
<circle cx="416.0" cy="387.1" r="4.85" fill="#460B5D"/>
<circle cx="937.9" cy="372.5" r="4.85" fill="#414587"/>
<circle cx="348.3" cy="341.9" r="4.85"/>
<circle cx="511.2" cy="449.2" r="4.85"/>
<circle cx="902.3" cy="680.8" r="4.85" fill="#460B5D"/>
<circle cx="911.2" cy="337.2" r="4.85" fill="#228D8C"/>
<circle cx="879.3" cy="394.9" r="4.85" fill="#36B778"/>
<circle cx="951.2" cy="142.0" r="4.85" fill="#481D6E"/>
<circle cx="466.1" cy="359.8" r="4.85"/>
<circle cx="599.1" cy="453.7" r="4.85" fill="#460B5D"/>
<circle cx="730.4" cy="660.2" r="4.85" fill="#20938C"/>
<circle cx="242.7" cy="254.3" r="4.85" fill="#453680"/>
<circle cx="807.9" cy="392.4" r="4.85"/>
<circle cx="963.7" cy="199.6" r="4.85"/>
<circle cx="985.8" cy="140.0" r="4.85" fill="#3A548B"/>
<circle cx="308.1" cy="419.9" r="4.85" fill="#EDE51F"/>
<circle cx="979.8" cy="357.3" r="4.85" fill="#472D7B"/>
<circle cx="903.1" cy="342.2" r="4.85" fill="#481467"/>
<circle cx="621.9" cy="507.2" r="4.85" fill="#460B5D"/>
<circle cx="292.2" cy="435.6" r="4.85" fill="#3A548B"/>
<circle cx="807.5" cy="324.0" r="4.85"/>
<circle cx="707.1" cy="609.2" r="4.85" fill="#98D83E"/>
<circle cx="832.8" cy="434.6" r="4.85"/>
<circle cx="257.4" cy="410.3" r="4.85" fill="#34618D"/>
<circle cx="338.7" cy="329.7" r="4.85" fill="#460B5D"/>
<circle cx="830.8" cy="454.5" r="4.85"/>
<circle cx="857.3" cy="452.7" r="4.85" fill="#209F88"/>
<circle cx="455.6" cy="430.9" r="4.85" fill="#453680"/>
<circle cx="720.2" cy="492.7" r="4.85"/>
<circle cx="853.9" cy="322.1" r="4.85" fill="#2E6E8E"/>
<circle cx="205.9" cy="329.7" r="4.85" fill="#414587"/>
<circle cx="876.3" cy="452.6" r="4.85" fill="#3A548B"/>
<circle cx="650.8" cy="422.2" r="4.85" fill="#460B5D"/>
<circle cx="236.4" cy="297.0" r="4.85" fill="#433E84"/>
<circle cx="208.1" cy="329.7" r="4.85" fill="#433E84"/>
<circle cx="570.3" cy="336.5" r="4.85" fill="#460B5D"/>
<circle cx="366.4" cy="326.1" r="4.85" fill="#297A8E"/>
<circle cx="954.5" cy="113.3" r="4.85" fill="#460B5D"/>
<circle cx="714.8" cy="434.3" r="4.85" fill="#460B5D"/>
<circle cx="585.2" cy="356.2" r="4.85"/>
<circle cx="339.2" cy="408.4" r="4.85"/>
<circle cx="975.0" cy="176.6" r="4.85" fill="#FDE725"/>
<circle cx="422.4" cy="440.1" r="4.85" fill="#460B5D"/>
<circle cx="446.1" cy="496.3" r="4.85" fill="#460B5D"/>
<circle cx="846.1" cy="580.2" r="4.85"/>
<circle cx="895.8" cy="587.2" r="4.85"/>
<circle cx="245.1" cy="410.7" r="4.85" fill="#3A548B"/>
<circle cx="857.5" cy="413.6" r="4.85" fill="#2B748E"/>
<circle cx="502.3" cy="309.9" r="4.85" fill="#481467"/>
<circle cx="577.4" cy="503.4" r="4.85"/>
<circle cx="357.5" cy="506.8" r="4.85" fill="#460B5D"/>
<circle cx="309.6" cy="415.2" r="4.85" fill="#297A8E"/>
<circle cx="883.6" cy="341.0" r="4.85" fill="#59C765"/>
<circle cx="885.6" cy="261.8" r="4.85" fill="#460B5D"/>
<circle cx="659.4" cy="471.9" r="4.85"/>
<circle cx="259.0" cy="414.7" r="4.85" fill="#3A548B"/>
<circle cx="631.8" cy="361.3" r="4.85"/>
<circle cx="925.7" cy="370.9" r="4.85" fill="#453680"/>
<circle cx="950.8" cy="579.3" r="4.85" fill="#1F998A"/>
<circle cx="352.1" cy="355.9" r="4.85"/>
<circle cx="317.8" cy="417.6" r="4.85" fill="#1F998A"/>
<circle cx="689.8" cy="478.8" r="4.85"/>
<circle cx="357.5" cy="586.9" r="4.85"/>
<circle cx="783.1" cy="703.0" r="4.85"/>
<circle cx="527.9" cy="366.0" r="4.85" fill="#460B5D"/>
<circle cx="369.0" cy="635.8" r="4.85"/>
<circle cx="343.0" cy="406.9" r="4.85" fill="#460B5D"/>
<circle cx="574.5" cy="465.2" r="4.85" fill="#3D4D8A"/>
<circle cx="947.7" cy="214.8" r="4.85" fill="#460B5D"/>
<circle cx="695.7" cy="421.9" r="4.85"/>
<circle cx="966.2" cy="99.0" r="4.85" fill="#460B5D"/>
<circle cx="700.2" cy="508.8" r="4.85" fill="#460B5D"/>
<circle cx="841.7" cy="457.4" r="4.85" fill="#460B5D"/>
<circle cx="656.1" cy="385.8" r="4.85" fill="#460B5D"/>
<circle cx="963.3" cy="354.1" r="4.85" fill="#2E6E8E"/>
<circle cx="374.6" cy="437.9" r="4.85"/>
<circle cx="935.5" cy="203.3" r="4.85" fill="#460B5D"/>
<circle cx="588.3" cy="361.7" r="4.85" fill="#460B5D"/>
<circle cx="433.3" cy="421.1" r="4.85" fill="#460B5D"/>
<circle cx="308.8" cy="428.4" r="4.85" fill="#460B5D"/>
<circle cx="190.8" cy="391.0" r="4.85" fill="#460B5D"/>
<circle cx="894.7" cy="110.9" r="4.85" fill="#460B5D"/>
<circle cx="247.2" cy="381.6" r="4.85" fill="#3A548B"/>
<circle cx="980.5" cy="236.7" r="4.85" fill="#414587"/>
<circle cx="485.2" cy="432.2" r="4.85" fill="#460B5D"/>
<circle cx="881.2" cy="479.5" r="4.85" fill="#2B748E"/>
<circle cx="313.7" cy="474.1" r="4.85" fill="#460B5D"/>
<circle cx="895.1" cy="477.6" r="4.85" fill="#34618D"/>
<circle cx="955.2" cy="306.1" r="4.85" fill="#297A8E"/>
<circle cx="612.5" cy="434.1" r="4.85"/>
<circle cx="263.1" cy="426.4" r="4.85" fill="#433E84"/>
<circle cx="812.4" cy="306.2" r="4.85" fill="#460B5D"/>
<circle cx="241.1" cy="301.0" r="4.85" fill="#460B5D"/>
<circle cx="813.3" cy="520.7" r="4.85" fill="#3A548B"/>
<circle cx="389.4" cy="517.3" r="4.85" fill="#375B8C"/>
<circle cx="583.2" cy="345.8" r="4.85" fill="#460B5D"/>
<circle cx="954.1" cy="332.2" r="4.85"/>
<circle cx="874.8" cy="420.6" r="4.85" fill="#460B5D"/>
<circle cx="769.5" cy="530.9" r="4.85" fill="#460B5D"/>
<circle cx="855.1" cy="430.5" r="4.85" fill="#453680"/>
<circle cx="454.2" cy="247.1" r="4.85" fill="#482576"/>
<circle cx="946.5" cy="552.1" r="4.85" fill="#2B748E"/>
<circle cx="701.2" cy="244.6" r="4.85"/>
<circle cx="709.1" cy="358.9" r="4.85"/>
<circle cx="687.4" cy="485.4" r="4.85"/>
<circle cx="689.8" cy="537.5" r="4.85" fill="#481467"/>
<circle cx="933.3" cy="483.8" r="4.85" fill="#481467"/>
<circle cx="225.0" cy="348.5" r="4.85"/>
<circle cx="435.7" cy="516.1" r="4.85"/>
<circle cx="218.4" cy="384.5" r="4.85"/>
<circle cx="342.9" cy="475.0" r="4.85"/>
<circle cx="725.0" cy="509.3" r="4.85" fill="#482576"/>
<circle cx="266.1" cy="292.8" r="4.85" fill="#3D4D8A"/>
<circle cx="516.2" cy="366.2" r="4.85" fill="#460B5D"/>
<circle cx="814.0" cy="389.5" r="4.85" fill="#460B5D"/>
<circle cx="892.2" cy="243.3" r="4.85" fill="#76D153"/>
<circle cx="680.2" cy="424.6" r="4.85"/>
<circle cx="726.1" cy="523.9" r="4.85" fill="#460B5D"/>
<circle cx="523.1" cy="452.3" r="4.85"/>
<circle cx="955.8" cy="163.2" r="4.85"/>
<circle cx="536.7" cy="240.8" r="4.85"/>
<circle cx="581.9" cy="353.0" r="4.85" fill="#460B5D"/>
<circle cx="225.8" cy="311.0" r="4.85" fill="#481467"/>
<circle cx="621.6" cy="433.9" r="4.85"/>
<circle cx="755.0" cy="516.5" r="4.85"/>
<circle cx="304.9" cy="414.8" r="4.85" fill="#98D83E"/>
<circle cx="228.4" cy="317.8" r="4.85" fill="#453680"/>
<circle cx="561.4" cy="396.0" r="4.85" fill="#460B5D"/>
<circle cx="508.2" cy="376.5" r="4.85" fill="#297A8E"/>
<circle cx="496.2" cy="428.5" r="4.85" fill="#460B5D"/>
<circle cx="752.3" cy="458.1" r="4.85" fill="#EDE51F"/>
<circle cx="327.6" cy="440.4" r="4.85"/>
<circle cx="283.8" cy="353.8" r="4.85" fill="#460B5D"/>
<circle cx="779.7" cy="603.6" r="4.85" fill="#460B5D"/>
<circle cx="453.1" cy="373.2" r="4.85" fill="#460B5D"/>
<circle cx="779.9" cy="386.2" r="4.85" fill="#460B5D"/>
<circle cx="601.5" cy="307.0" r="4.85" fill="#460B5D"/>
<circle cx="294.5" cy="495.4" r="4.85" fill="#482576"/>
<circle cx="633.3" cy="354.3" r="4.85" fill="#460B5D"/>
<circle cx="982.5" cy="233.2" r="4.85" fill="#460B5D"/>
<circle cx="212.7" cy="369.7" r="4.85" fill="#31678D"/>
<circle cx="790.3" cy="602.0" r="4.85" fill="#453680"/>
<circle cx="656.3" cy="528.0" r="4.85" fill="#460B5D"/>
<circle cx="333.1" cy="377.0" r="4.85" fill="#1F998A"/>
<circle cx="272.5" cy="285.7" r="4.85" fill="#460B5D"/>
<circle cx="885.9" cy="404.5" r="4.85" fill="#433E84"/>
<circle cx="782.3" cy="346.4" r="4.85" fill="#460B5D"/>
<circle cx="566.0" cy="476.0" r="4.85" fill="#460B5D"/>
<circle cx="593.7" cy="278.2" r="4.85" fill="#460B5D"/>
<circle cx="167.2" cy="450.2" r="4.85" fill="#482576"/>
<circle cx="299.2" cy="378.2" r="4.85" fill="#460B5D"/>
<circle cx="861.0" cy="650.3" r="4.85" fill="#482576"/>
<circle cx="202.4" cy="377.5" r="4.85" fill="#481D6E"/>
<circle cx="204.7" cy="333.7" r="4.85" fill="#453680"/>
<circle cx="840.3" cy="569.1" r="4.85" fill="#375B8C"/>
<circle cx="543.9" cy="582.6" r="4.85" fill="#34618D"/>
<circle cx="991.4" cy="400.9" r="4.85" fill="#20938C"/>
<circle cx="692.6" cy="447.8" r="4.85"/>
<circle cx="256.3" cy="417.5" r="4.85" fill="#FDE725"/>
<circle cx="563.8" cy="627.5" r="4.85" fill="#59C765"/>
<circle cx="884.1" cy="526.1" r="4.85" fill="#460B5D"/>
<circle cx="331.3" cy="462.5" r="4.85"/>
<circle cx="423.8" cy="352.3" r="4.85"/>
<circle cx="226.1" cy="346.4" r="4.85"/>
<circle cx="302.9" cy="468.9" r="4.85"/>
<circle cx="956.4" cy="307.4" r="4.85" fill="#460B5D"/>
<circle cx="978.6" cy="159.1" r="4.85" fill="#460B5D"/>
<circle cx="896.1" cy="439.5" r="4.85" fill="#34618D"/>
<circle cx="246.6" cy="387.8" r="4.85" fill="#472D7B"/>
<circle cx="903.4" cy="365.0" r="4.85" fill="#34618D"/>
<circle cx="854.6" cy="669.3" r="4.85" fill="#40BD73"/>
<circle cx="923.2" cy="137.0" r="4.85" fill="#460B5D"/>
<circle cx="466.6" cy="387.8" r="4.85"/>
<circle cx="687.9" cy="353.1" r="4.85" fill="#460B5D"/>
<circle cx="421.7" cy="435.5" r="4.85" fill="#460B5D"/>
<circle cx="245.1" cy="343.5" r="4.85" fill="#460B5D"/>
<circle cx="207.2" cy="407.4" r="4.85" fill="#3A548B"/>
<circle cx="275.5" cy="453.9" r="4.85" fill="#460B5D"/>
<circle cx="959.6" cy="168.3" r="4.85"/>
<circle cx="211.7" cy="431.0" r="4.85" fill="#460B5D"/>
<circle cx="178.0" cy="379.9" r="4.85" fill="#460B5D"/>
<circle cx="691.4" cy="322.0" r="4.85"/>
<circle cx="314.8" cy="291.9" r="4.85" fill="#460B5D"/>
<circle cx="311.1" cy="412.5" r="4.85" fill="#460B5D"/>
<circle cx="677.6" cy="323.4" r="4.85" fill="#433E84"/>
<circle cx="936.6" cy="649.6" r="4.85" fill="#481467"/>
<circle cx="253.5" cy="356.1" r="4.85" fill="#460B5D"/>
<circle cx="343.7" cy="380.2" r="4.85" fill="#375B8C"/>
<circle cx="784.8" cy="475.1" r="4.85" fill="#460B5D"/>
<circle cx="819.0" cy="258.7" r="4.85" fill="#98D83E"/>
<circle cx="872.9" cy="584.2" r="4.85" fill="#481467"/>
<circle cx="506.9" cy="447.3" r="4.85" fill="#375B8C"/>
<circle cx="184.7" cy="324.2" r="4.85" fill="#460B5D"/>
<circle cx="390.0" cy="163.3" r="4.85" fill="#472D7B"/>
<circle cx="293.3" cy="328.9" r="4.85" fill="#460B5D"/>
<circle cx="641.0" cy="459.8" r="4.85"/>
<circle cx="228.9" cy="398.2" r="4.85"/>
<circle cx="307.6" cy="379.6" r="4.85" fill="#460B5D"/>
<circle cx="697.9" cy="479.2" r="4.85" fill="#460B5D"/>
<circle cx="295.9" cy="344.4" r="4.85" fill="#460B5D"/>
<circle cx="925.3" cy="315.4" r="4.85" fill="#460B5D"/>
<circle cx="526.4" cy="363.0" r="4.85" fill="#460B5D"/>
<circle cx="213.3" cy="365.0" r="4.85" fill="#482576"/>
<circle cx="253.3" cy="352.7" r="4.85"/>
<circle cx="443.7" cy="424.8" r="4.85" fill="#460B5D"/>
<circle cx="629.2" cy="327.6" r="4.85"/>
<circle cx="784.7" cy="513.2" r="4.85"/>
<circle cx="652.9" cy="225.0" r="4.85" fill="#482576"/>
<circle cx="817.5" cy="544.0" r="4.85" fill="#228D8C"/>
<circle cx="293.9" cy="210.6" r="4.85" fill="#3A548B"/>
<circle cx="546.0" cy="514.8" r="4.85"/>
<circle cx="247.5" cy="295.2" r="4.85" fill="#433E84"/>
<circle cx="305.0" cy="400.8" r="4.85"/>
<circle cx="585.9" cy="521.0" r="4.85" fill="#2CB17D"/>
<circle cx="413.5" cy="474.7" r="4.85"/>
<circle cx="773.6" cy="513.6" r="4.85" fill="#460B5D"/>
<circle cx="883.8" cy="447.6" r="4.85" fill="#2B748E"/>
<circle cx="557.6" cy="425.1" r="4.85" fill="#460B5D"/>
<circle cx="427.6" cy="500.6" r="4.85" fill="#414587"/>
<circle cx="615.2" cy="405.8" r="4.85"/>
<circle cx="250.4" cy="281.0" r="4.85" fill="#414587"/>
<circle cx="323.2" cy="348.2" r="4.85"/>
<circle cx="482.2" cy="445.0" r="4.85"/>
<circle cx="620.6" cy="457.6" r="4.85" fill="#460B5D"/>
<circle cx="383.9" cy="515.8" r="4.85"/>
<circle cx="711.9" cy="420.7" r="4.85" fill="#22A585"/>
<circle cx="549.4" cy="570.0" r="4.85" fill="#460B5D"/>
<circle cx="777.2" cy="612.9" r="4.85"/>
<circle cx="231.4" cy="308.8" r="4.85" fill="#482576"/>
<circle cx="945.2" cy="209.2" r="4.85" fill="#460B5D"/>
<circle cx="315.1" cy="494.1" r="4.85" fill="#453680"/>
<circle cx="311.5" cy="429.0" r="4.85" fill="#BADE28"/>
<circle cx="204.4" cy="376.1" r="4.85" fill="#460B5D"/>
<circle cx="317.3" cy="334.1" r="4.85" fill="#460B5D"/>
<circle cx="352.8" cy="528.7" r="4.85"/>
<circle cx="294.8" cy="352.0" r="4.85"/>
<circle cx="310.0" cy="411.4" r="4.85" fill="#460B5D"/>
<circle cx="307.6" cy="283.2" r="4.85" fill="#460B5D"/>
<circle cx="218.6" cy="427.3" r="4.85"/>
<circle cx="289.2" cy="495.6" r="4.85" fill="#460B5D"/>
<circle cx="523.8" cy="204.2" r="4.85"/>
<circle cx="318.8" cy="352.0" r="4.85" fill="#453680"/>
<circle cx="810.2" cy="344.1" r="4.85" fill="#460B5D"/>
<circle cx="961.7" cy="147.7" r="4.85" fill="#460B5D"/>
<circle cx="888.5" cy="497.5" r="4.85" fill="#34618D"/>
<circle cx="715.2" cy="387.1" r="4.85" fill="#460B5D"/>
<circle cx="533.5" cy="335.1" r="4.85" fill="#460B5D"/>
<circle cx="932.2" cy="122.1" r="4.85"/>
<circle cx="703.7" cy="494.9" r="4.85"/>
<circle cx="646.5" cy="402.9" r="4.85"/>
<circle cx="896.4" cy="566.3" r="4.85" fill="#297A8E"/>
<circle cx="593.8" cy="433.3" r="4.85" fill="#460B5D"/>
<circle cx="294.4" cy="355.5" r="4.85" fill="#460B5D"/>
<circle cx="212.9" cy="262.1" r="4.85" fill="#460B5D"/>
<circle cx="606.2" cy="233.3" r="4.85" fill="#76D153"/>
<circle cx="661.2" cy="518.1" r="4.85"/>
<circle cx="964.1" cy="315.4" r="4.85" fill="#BADE28"/>
<circle cx="962.7" cy="228.4" r="4.85"/>
<circle cx="508.3" cy="332.0" r="4.85" fill="#460B5D"/>
<circle cx="471.5" cy="574.0" r="4.85"/>
<circle cx="371.6" cy="447.8" r="4.85" fill="#FDE725"/>
<circle cx="636.2" cy="444.9" r="4.85" fill="#460B5D"/>
<circle cx="939.3" cy="384.8" r="4.85" fill="#27818E"/>
<circle cx="893.9" cy="530.2" r="4.85" fill="#2B748E"/>
<circle cx="323.8" cy="416.3" r="4.85" fill="#482576"/>
<circle cx="287.7" cy="381.1" r="4.85" fill="#453680"/>
<circle cx="680.4" cy="471.7" r="4.85" fill="#460B5D"/>
<circle cx="271.3" cy="398.1" r="4.85" fill="#34618D"/>
<circle cx="600.0" cy="242.9" r="4.85" fill="#20938C"/>
<circle cx="390.9" cy="369.9" r="4.85" fill="#3A548B"/>
<circle cx="794.4" cy="506.6" r="4.85"/>
<circle cx="881.1" cy="622.5" r="4.85" fill="#4CC26C"/>
<circle cx="920.8" cy="52.1" r="4.85" fill="#481467"/>
<circle cx="592.2" cy="352.9" r="4.85" fill="#31678D"/>
<circle cx="762.2" cy="470.0" r="4.85"/>
<circle cx="241.5" cy="268.6" r="4.85" fill="#414587"/>
<circle cx="336.2" cy="518.0" r="4.85"/>
<circle cx="886.2" cy="304.8" r="4.85"/>
<circle cx="930.8" cy="241.3" r="4.85"/>
<circle cx="928.1" cy="127.3" r="4.85" fill="#460B5D"/>
<circle cx="340.2" cy="487.5" r="4.85" fill="#460B5D"/>
<circle cx="887.0" cy="458.3" r="4.85"/>
<circle cx="239.6" cy="347.8" r="4.85" fill="#482576"/>
<circle cx="224.3" cy="377.9" r="4.85"/>
<circle cx="920.8" cy="88.1" r="4.85"/>
<circle cx="262.6" cy="316.3" r="4.85" fill="#482576"/>
<circle cx="314.3" cy="402.9" r="4.85" fill="#460B5D"/>
<circle cx="560.7" cy="329.2" r="4.85"/>
<circle cx="810.8" cy="392.1" r="4.85"/>
<circle cx="340.2" cy="402.0" r="4.85" fill="#EDE51F"/>
<circle cx="657.7" cy="420.9" r="4.85" fill="#460B5D"/>
<circle cx="346.1" cy="363.0" r="4.85" fill="#460B5D"/>
<circle cx="918.3" cy="526.5" r="4.85" fill="#3A548B"/>
<circle cx="227.1" cy="405.3" r="4.85" fill="#460B5D"/>
<circle cx="364.3" cy="417.0" r="4.85"/>
<circle cx="390.5" cy="419.2" r="4.85"/>
<circle cx="295.1" cy="412.6" r="4.85" fill="#433E84"/>
<circle cx="260.9" cy="369.4" r="4.85" fill="#460B5D"/>
<circle cx="442.2" cy="464.2" r="4.85" fill="#27818E"/>
<circle cx="438.3" cy="390.0" r="4.85" fill="#2CB17D"/>
<circle cx="666.2" cy="376.2" r="4.85" fill="#460B5D"/>
<circle cx="916.2" cy="122.8" r="4.85"/>
<circle cx="760.4" cy="378.5" r="4.85" fill="#460B5D"/>
<circle cx="535.7" cy="309.6" r="4.85" fill="#DDE319"/>
<circle cx="912.5" cy="544.7" r="4.85"/>
<circle cx="895.5" cy="620.6" r="4.85" fill="#40BD73"/>
<circle cx="162.0" cy="393.0" r="4.85" fill="#460B5D"/>
<circle cx="618.1" cy="378.9" r="4.85" fill="#460B5D"/>
<circle cx="739.0" cy="469.9" r="4.85"/>
<circle cx="821.3" cy="424.5" r="4.85" fill="#460B5D"/>
<circle cx="813.3" cy="537.8" r="4.85"/>
<circle cx="930.7" cy="135.7" r="4.85"/>
<circle cx="561.1" cy="418.2" r="4.85" fill="#460B5D"/>
<circle cx="907.9" cy="117.8" r="4.85"/>
<circle cx="227.0" cy="386.7" r="4.85" fill="#414587"/>
<circle cx="233.7" cy="422.6" r="4.85" fill="#481D6E"/>
<circle cx="399.9" cy="512.2" r="4.85"/>
<circle cx="722.1" cy="520.4" r="4.85"/>
<circle cx="239.9" cy="401.0" r="4.85" fill="#472D7B"/>
<circle cx="943.3" cy="157.0" r="4.85" fill="#482576"/>
<circle cx="407.5" cy="293.5" r="4.85" fill="#3A548B"/>
<circle cx="948.6" cy="429.3" r="4.85" fill="#34618D"/>
<circle cx="545.9" cy="551.3" r="4.85" fill="#460B5D"/>
<circle cx="687.5" cy="582.2" r="4.85" fill="#460B5D"/>
<circle cx="756.7" cy="443.2" r="4.85"/>
<circle cx="750.8" cy="424.5" r="4.85"/>
<circle cx="913.7" cy="538.6" r="4.85" fill="#3D4D8A"/>
<circle cx="495.6" cy="424.5" r="4.85"/>
<circle cx="915.5" cy="325.6" r="4.85" fill="#460B5D"/>
<circle cx="299.2" cy="377.1" r="4.85"/>
<circle cx="553.4" cy="549.4" r="4.85" fill="#460B5D"/>
<circle cx="338.8" cy="216.7" r="4.85"/>
<circle cx="532.1" cy="324.6" r="4.85"/>
<circle cx="913.0" cy="385.0" r="4.85" fill="#31678D"/>
<circle cx="657.0" cy="437.3" r="4.85"/>
<circle cx="206.2" cy="411.0" r="4.85"/>
<circle cx="243.6" cy="376.4" r="4.85" fill="#460B5D"/>
<circle cx="406.5" cy="413.5" r="4.85"/>
<circle cx="482.3" cy="376.2" r="4.85" fill="#481467"/>
<circle cx="246.5" cy="302.4" r="4.85" fill="#460B5D"/>
<circle cx="913.2" cy="435.6" r="4.85" fill="#2E6E8E"/>
<circle cx="814.5" cy="292.4" r="4.85" fill="#375B8C"/>
<circle cx="662.1" cy="491.8" r="4.85" fill="#460B5D"/>
<circle cx="482.9" cy="413.3" r="4.85"/>
<circle cx="609.0" cy="377.0" r="4.85" fill="#460B5D"/>
<circle cx="570.2" cy="408.4" r="4.85"/>
<circle cx="315.5" cy="446.6" r="4.85" fill="#460B5D"/>
<circle cx="914.2" cy="650.3" r="4.85" fill="#2E6E8E"/>
<circle cx="603.6" cy="520.1" r="4.85"/>
<circle cx="551.1" cy="384.1" r="4.85"/>
<circle cx="599.8" cy="369.3" r="4.85"/>
<circle cx="464.7" cy="614.7" r="4.85"/>
<circle cx="571.4" cy="395.0" r="4.85" fill="#460B5D"/>
<circle cx="441.0" cy="530.8" r="4.85" fill="#433E84"/>
<circle cx="905.8" cy="606.4" r="4.85" fill="#2B748E"/>
<circle cx="784.6" cy="318.7" r="4.85"/>
<circle cx="922.5" cy="330.9" r="4.85"/>
<circle cx="625.5" cy="471.5" r="4.85" fill="#481467"/>
<circle cx="202.3" cy="295.5" r="4.85"/>
<circle cx="735.7" cy="359.3" r="4.85" fill="#460B5D"/>
<circle cx="314.1" cy="306.8" r="4.85"/>
<circle cx="211.3" cy="427.1" r="4.85" fill="#414587"/>
<circle cx="557.7" cy="282.7" r="4.85" fill="#472D7B"/>
<circle cx="723.4" cy="570.3" r="4.85" fill="#481467"/>
<circle cx="268.8" cy="340.8" r="4.85"/>
<circle cx="379.6" cy="461.6" r="4.85" fill="#460B5D"/>
<circle cx="316.4" cy="445.3" r="4.85" fill="#460B5D"/>
<circle cx="190.5" cy="222.5" r="4.85"/>
<circle cx="153.6" cy="367.8" r="4.85" fill="#460B5D"/>
<circle cx="259.5" cy="343.2" r="4.85" fill="#481467"/>
<circle cx="591.7" cy="515.3" r="4.85" fill="#59C765"/>
<circle cx="539.1" cy="353.1" r="4.85" fill="#297A8E"/>
<circle cx="427.3" cy="379.4" r="4.85" fill="#460B5D"/>
<circle cx="903.4" cy="110.3" r="4.85" fill="#460B5D"/>
<circle cx="212.6" cy="287.0" r="4.85" fill="#481D6E"/>
<circle cx="504.4" cy="563.9" r="4.85"/>
<circle cx="951.8" cy="590.5" r="4.85" fill="#3A548B"/>
<circle cx="468.6" cy="448.3" r="4.85" fill="#460B5D"/>
<circle cx="822.7" cy="563.5" r="4.85" fill="#481467"/>
<circle cx="723.9" cy="510.6" r="4.85" fill="#460B5D"/>
<circle cx="724.5" cy="457.2" r="4.85" fill="#87D549"/>
<circle cx="717.0" cy="278.5" r="4.85" fill="#460B5D"/>
<circle cx="892.7" cy="357.2" r="4.85" fill="#460B5D"/>
<circle cx="813.1" cy="293.7" r="4.85" fill="#460B5D"/>
<circle cx="340.7" cy="509.9" r="4.85" fill="#34618D"/>
<circle cx="979.1" cy="360.4" r="4.85" fill="#460B5D"/>
<circle cx="543.7" cy="473.3" r="4.85"/>
<circle cx="302.9" cy="286.2" r="4.85" fill="#481467"/>
<circle cx="945.4" cy="183.9" r="4.85" fill="#460B5D"/>
<circle cx="287.2" cy="261.1" r="4.85"/>
<circle cx="558.0" cy="317.6" r="4.85"/>
<circle cx="685.9" cy="482.7" r="4.85" fill="#481467"/>
<circle cx="885.8" cy="410.2" r="4.85" fill="#3A548B"/>
<circle cx="202.2" cy="338.1" r="4.85" fill="#3D4D8A"/>
<circle cx="282.0" cy="239.3" r="4.85" fill="#460B5D"/>
<circle cx="422.9" cy="341.9" r="4.85" fill="#2E6E8E"/>
<circle cx="517.0" cy="423.4" r="4.85"/>
<circle cx="689.7" cy="592.2" r="4.85"/>
<circle cx="654.4" cy="669.4" r="4.85"/>
<circle cx="595.4" cy="588.1" r="4.85" fill="#34618D"/>
<circle cx="298.3" cy="464.9" r="4.85" fill="#2B748E"/>
<circle cx="951.6" cy="334.5" r="4.85" fill="#460B5D"/>
<circle cx="190.4" cy="263.9" r="4.85" fill="#460B5D"/>
<circle cx="750.1" cy="308.0" r="4.85"/>
<circle cx="927.2" cy="360.7" r="4.85" fill="#375B8C"/>
<circle cx="201.0" cy="257.4" r="4.85"/>
<circle cx="757.3" cy="608.8" r="4.85" fill="#27818E"/>
<circle cx="926.6" cy="403.9" r="4.85" fill="#228D8C"/>
<circle cx="980.2" cy="240.2" r="4.85" fill="#460B5D"/>
<circle cx="785.4" cy="355.8" r="4.85"/>
<circle cx="940.5" cy="366.4" r="4.85" fill="#31678D"/>
<circle cx="298.7" cy="442.7" r="4.85"/>
<circle cx="868.8" cy="355.2" r="4.85" fill="#3A548B"/>
<circle cx="946.5" cy="433.9" r="4.85" fill="#453680"/>
<circle cx="808.3" cy="390.2" r="4.85"/>
<circle cx="228.6" cy="283.2" r="4.85" fill="#414587"/>
<circle cx="537.2" cy="343.4" r="4.85" fill="#27818E"/>
<circle cx="302.2" cy="427.4" r="4.85" fill="#3D4D8A"/>
<circle cx="532.0" cy="353.4" r="4.85" fill="#460B5D"/>
<circle cx="306.0" cy="380.5" r="4.85" fill="#460B5D"/>
<circle cx="976.4" cy="304.4" r="4.85"/>
<circle cx="798.2" cy="530.1" r="4.85" fill="#36B778"/>
<circle cx="851.2" cy="511.4" r="4.85"/>
<circle cx="816.4" cy="553.7" r="4.85" fill="#A9DB33"/>
<circle cx="944.3" cy="176.6" r="4.85" fill="#481467"/>
<circle cx="787.9" cy="314.3" r="4.85" fill="#27818E"/>
<circle cx="809.2" cy="548.2" r="4.85" fill="#26AB81"/>
<circle cx="534.6" cy="411.1" r="4.85" fill="#460B5D"/>
<circle cx="590.6" cy="546.1" r="4.85" fill="#460B5D"/>
<circle cx="508.4" cy="328.1" r="4.85" fill="#460B5D"/>
<circle cx="575.1" cy="463.6" r="4.85"/>
<circle cx="883.6" cy="272.3" r="4.85" fill="#460B5D"/>
<circle cx="297.6" cy="311.6" r="4.85"/>
<circle cx="754.2" cy="365.6" r="4.85"/>
<circle cx="446.1" cy="433.3" r="4.85"/>
<circle cx="903.2" cy="437.7" r="4.85" fill="#4CC26C"/>
<circle cx="934.5" cy="462.5" r="4.85" fill="#4CC26C"/>
<circle cx="471.0" cy="372.1" r="4.85" fill="#3D4D8A"/>
<circle cx="731.1" cy="515.0" r="4.85" fill="#460B5D"/>
<circle cx="326.7" cy="361.5" r="4.85" fill="#460B5D"/>
<circle cx="433.1" cy="463.5" r="4.85"/>
<circle cx="836.3" cy="296.1" r="4.85" fill="#209F88"/>
<circle cx="298.6" cy="306.6" r="4.85"/>
<circle cx="942.4" cy="154.7" r="4.85" fill="#460B5D"/>
<circle cx="966.5" cy="556.8" r="4.85" fill="#2E6E8E"/>
<circle cx="662.2" cy="447.6" r="4.85"/>
<circle cx="246.0" cy="418.0" r="4.85" fill="#375B8C"/>
<circle cx="396.4" cy="313.3" r="4.85" fill="#460B5D"/>
<circle cx="962.6" cy="499.8" r="4.85" fill="#36B778"/>
<circle cx="467.8" cy="402.1" r="4.85" fill="#24878D"/>
<circle cx="860.3" cy="301.4" r="4.85" fill="#460B5D"/>
<circle cx="305.8" cy="385.7" r="4.85"/>
<circle cx="828.5" cy="619.7" r="4.85" fill="#4CC26C"/>
<circle cx="286.9" cy="417.1" r="4.85" fill="#433E84"/>
<circle cx="804.8" cy="557.0" r="4.85" fill="#460B5D"/>
<circle cx="454.7" cy="519.1" r="4.85" fill="#460B5D"/>
<circle cx="556.8" cy="397.3" r="4.85" fill="#460B5D"/>
<circle cx="253.2" cy="297.4" r="4.85" fill="#460B5D"/>
<circle cx="624.2" cy="388.0" r="4.85"/>
<circle cx="334.1" cy="318.0" r="4.85"/>
<circle cx="264.6" cy="289.4" r="4.85" fill="#460B5D"/>
<circle cx="294.6" cy="479.3" r="4.85"/>
<circle cx="281.8" cy="417.0" r="4.85"/>
<circle cx="242.1" cy="464.5" r="4.85" fill="#433E84"/>
<circle cx="410.0" cy="315.2" r="4.85" fill="#460B5D"/>
<circle cx="350.6" cy="431.9" r="4.85" fill="#460B5D"/>
<circle cx="911.6" cy="121.9" r="4.85" fill="#472D7B"/>
<circle cx="357.6" cy="514.9" r="4.85" fill="#3A548B"/>
<circle cx="955.9" cy="395.0" r="4.85"/>
<circle cx="228.9" cy="282.6" r="4.85"/>
<circle cx="474.4" cy="478.3" r="4.85" fill="#481467"/>
<circle cx="957.4" cy="227.8" r="4.85"/>
<circle cx="603.8" cy="383.8" r="4.85" fill="#460B5D"/>
<circle cx="905.1" cy="171.3" r="4.85"/>
<circle cx="808.6" cy="504.0" r="4.85" fill="#481467"/>
<circle cx="892.1" cy="437.6" r="4.85" fill="#297A8E"/>
<circle cx="906.7" cy="469.9" r="4.85" fill="#34618D"/>
<circle cx="393.2" cy="315.7" r="4.85"/>
<circle cx="167.3" cy="421.3" r="4.85" fill="#433E84"/>
<circle cx="852.9" cy="491.7" r="4.85" fill="#24878D"/>
<circle cx="336.6" cy="371.3" r="4.85" fill="#2CB17D"/>
<circle cx="856.2" cy="293.1" r="4.85"/>
<circle cx="385.9" cy="347.8" r="4.85"/>
<circle cx="570.1" cy="378.6" r="4.85" fill="#460B5D"/>
<circle cx="516.8" cy="533.4" r="4.85"/>
<circle cx="735.9" cy="535.4" r="4.85" fill="#460B5D"/>
<circle cx="749.9" cy="461.1" r="4.85"/>
<circle cx="231.3" cy="346.8" r="4.85" fill="#31678D"/>
<circle cx="664.7" cy="377.3" r="4.85" fill="#76D153"/>
<circle cx="886.1" cy="585.6" r="4.85" fill="#24878D"/>
<circle cx="271.5" cy="388.7" r="4.85" fill="#482576"/>
<circle cx="179.8" cy="486.3" r="4.85" fill="#31678D"/>
<circle cx="215.9" cy="385.1" r="4.85" fill="#460B5D"/>
<circle cx="559.5" cy="441.3" r="4.85" fill="#481467"/>
<circle cx="205.7" cy="271.1" r="4.85" fill="#460B5D"/>
<circle cx="922.1" cy="613.8" r="4.85" fill="#433E84"/>
<circle cx="921.5" cy="465.5" r="4.85" fill="#22A585"/>
<circle cx="343.2" cy="478.7" r="4.85" fill="#460B5D"/>
<circle cx="330.0" cy="561.5" r="4.85" fill="#453680"/>
<circle cx="685.9" cy="424.5" r="4.85" fill="#460B5D"/>
<circle cx="587.5" cy="358.0" r="4.85"/>
<circle cx="912.5" cy="347.2" r="4.85" fill="#297A8E"/>
<circle cx="254.7" cy="405.5" r="4.85" fill="#3A548B"/>
<circle cx="814.4" cy="358.8" r="4.85" fill="#460B5D"/>
<circle cx="805.6" cy="651.5" r="4.85" fill="#481D6E"/>
<circle cx="281.0" cy="268.7" r="4.85"/>
<circle cx="983.4" cy="276.1" r="4.85" fill="#460B5D"/>
<circle cx="167.6" cy="336.5" r="4.85"/>
<circle cx="309.6" cy="250.3" r="4.85" fill="#34618D"/>
<circle cx="866.5" cy="560.0" r="4.85" fill="#BADE28"/>
<circle cx="510.6" cy="533.0" r="4.85" fill="#3A548B"/>
<circle cx="442.6" cy="387.8" r="4.85"/>
<circle cx="822.8" cy="617.9" r="4.85" fill="#228D8C"/>
<circle cx="219.2" cy="407.7" r="4.85"/>
<circle cx="275.1" cy="200.3" r="4.85" fill="#3A548B"/>
<circle cx="259.5" cy="325.7" r="4.85"/>
<circle cx="438.2" cy="438.4" r="4.85" fill="#460B5D"/>
<circle cx="690.6" cy="476.0" r="4.85"/>
<circle cx="795.8" cy="341.4" r="4.85" fill="#460B5D"/>
<circle cx="425.9" cy="466.0" r="4.85"/>
<circle cx="921.8" cy="193.6" r="4.85"/>
<circle cx="546.2" cy="358.5" r="4.85"/>
<circle cx="977.0" cy="198.9" r="4.85"/>
<circle cx="910.5" cy="196.4" r="4.85"/>
<circle cx="606.0" cy="531.1" r="4.85"/>
<circle cx="980.3" cy="225.1" r="4.85"/>
<circle cx="632.7" cy="495.1" r="4.85"/>
<circle cx="308.4" cy="203.4" r="4.85"/>
<circle cx="298.5" cy="454.4" r="4.85"/>
<circle cx="513.9" cy="409.1" r="4.85"/>
<circle cx="930.3" cy="474.7" r="4.85" fill="#22A585"/>
<circle cx="573.3" cy="484.1" r="4.85"/>
<circle cx="254.7" cy="415.4" r="4.85" fill="#31678D"/>
<circle cx="611.9" cy="405.4" r="4.85" fill="#24878D"/>
<circle cx="937.1" cy="299.2" r="4.85" fill="#481467"/>
<circle cx="327.0" cy="444.7" r="4.85" fill="#433E84"/>
<circle cx="242.5" cy="407.2" r="4.85"/>
<circle cx="189.1" cy="317.2" r="4.85" fill="#460B5D"/>
<circle cx="687.2" cy="561.5" r="4.85" fill="#34618D"/>
<circle cx="908.7" cy="362.6" r="4.85" fill="#20938C"/>
<circle cx="571.8" cy="366.2" r="4.85" fill="#460B5D"/>
<circle cx="595.0" cy="404.7" r="4.85"/>
<circle cx="289.1" cy="255.6" r="4.85" fill="#460B5D"/>
<circle cx="684.2" cy="477.4" r="4.85"/>
<circle cx="944.0" cy="192.9" r="4.85"/>
<circle cx="342.1" cy="411.0" r="4.85" fill="#433E84"/>
<circle cx="266.9" cy="331.4" r="4.85"/>
<circle cx="907.5" cy="565.3" r="4.85" fill="#20938C"/>
<circle cx="278.5" cy="432.3" r="4.85" fill="#34618D"/>
<circle cx="600.8" cy="323.9" r="4.85" fill="#460B5D"/>
<circle cx="802.2" cy="271.6" r="4.85" fill="#2B748E"/>
<circle cx="716.8" cy="395.1" r="4.85" fill="#460B5D"/>
<circle cx="981.3" cy="349.4" r="4.85" fill="#3A548B"/>
<circle cx="750.7" cy="325.6" r="4.85" fill="#26AB81"/>
<circle cx="544.2" cy="361.4" r="4.85"/>
<circle cx="324.0" cy="433.3" r="4.85"/>
<circle cx="967.9" cy="552.4" r="4.85" fill="#2B748E"/>
<circle cx="534.6" cy="360.8" r="4.85" fill="#460B5D"/>
<circle cx="846.1" cy="631.6" r="4.85" fill="#59C765"/>
<circle cx="365.6" cy="382.3" r="4.85"/>
<circle cx="217.5" cy="300.5" r="4.85"/>
<circle cx="577.2" cy="410.9" r="4.85"/>
<circle cx="234.9" cy="304.7" r="4.85" fill="#34618D"/>
<circle cx="542.8" cy="521.9" r="4.85"/>
<circle cx="362.7" cy="383.0" r="4.85" fill="#460B5D"/>
<circle cx="235.2" cy="489.5" r="4.85" fill="#3D4D8A"/>
<circle cx="267.1" cy="275.4" r="4.85" fill="#460B5D"/>
<circle cx="759.7" cy="342.1" r="4.85" fill="#460B5D"/>
<circle cx="907.1" cy="480.6" r="4.85" fill="#24878D"/>
<circle cx="297.8" cy="305.4" r="4.85" fill="#481467"/>
<circle cx="233.4" cy="360.6" r="4.85"/>
<circle cx="399.7" cy="535.0" r="4.85"/>
<circle cx="797.6" cy="387.1" r="4.85" fill="#460B5D"/>
<circle cx="639.7" cy="582.4" r="4.85" fill="#460B5D"/>
<circle cx="952.6" cy="532.1" r="4.85" fill="#460B5D"/>
<circle cx="944.4" cy="444.9" r="4.85"/>
<circle cx="938.1" cy="264.1" r="4.85" fill="#460B5D"/>
<circle cx="877.9" cy="366.2" r="4.85" fill="#460B5D"/>
<circle cx="865.0" cy="533.5" r="4.85" fill="#481467"/>
<circle cx="296.0" cy="528.5" r="4.85" fill="#2E6E8E"/>
<circle cx="959.5" cy="202.1" r="4.85" fill="#34618D"/>
<circle cx="928.7" cy="335.3" r="4.85"/>
<circle cx="962.7" cy="201.1" r="4.85"/>
<circle cx="516.2" cy="574.0" r="4.85"/>
<circle cx="269.6" cy="478.8" r="4.85" fill="#2E6E8E"/>
<circle cx="296.8" cy="389.9" r="4.85" fill="#2E6E8E"/>
<circle cx="388.9" cy="276.3" r="4.85"/>
<circle cx="984.5" cy="139.5" r="4.85" fill="#481467"/>
<circle cx="860.9" cy="332.1" r="4.85" fill="#2B748E"/>
<circle cx="576.7" cy="428.3" r="4.85" fill="#A9DB33"/>
<circle cx="203.4" cy="239.1" r="4.85" fill="#34618D"/>
<circle cx="323.2" cy="484.7" r="4.85"/>
<circle cx="939.4" cy="496.2" r="4.85" fill="#453680"/>
<circle cx="743.9" cy="587.8" r="4.85" fill="#460B5D"/>
<circle cx="500.0" cy="386.6" r="4.85"/>
<circle cx="796.9" cy="399.7" r="4.85" fill="#453680"/>
<circle cx="616.3" cy="431.5" r="4.85" fill="#460B5D"/>
<circle cx="810.9" cy="550.5" r="4.85" fill="#433E84"/>
<circle cx="967.1" cy="339.5" r="4.85"/>
<circle cx="763.0" cy="657.6" r="4.85"/>
<circle cx="984.4" cy="251.3" r="4.85"/>
<circle cx="948.3" cy="444.5" r="4.85" fill="#40BD73"/>
<circle cx="943.4" cy="436.2" r="4.85" fill="#3D4D8A"/>
<circle cx="650.4" cy="461.0" r="4.85" fill="#460B5D"/>
<circle cx="708.4" cy="615.8" r="4.85" fill="#481467"/>
<circle cx="741.5" cy="398.7" r="4.85" fill="#460B5D"/>
<circle cx="886.0" cy="625.5" r="4.85" fill="#472D7B"/>
<circle cx="235.4" cy="493.0" r="4.85" fill="#34618D"/>
<circle cx="149.6" cy="418.2" r="4.85" fill="#375B8C"/>
<circle cx="710.5" cy="446.2" r="4.85" fill="#460B5D"/>
<circle cx="249.1" cy="431.3" r="4.85" fill="#472D7B"/>
<circle cx="250.7" cy="269.8" r="4.85" fill="#4CC26C"/>
<circle cx="838.7" cy="495.1" r="4.85" fill="#481D6E"/>
<circle cx="921.3" cy="396.0" r="4.85" fill="#3D4D8A"/>
<circle cx="916.3" cy="193.0" r="4.85" fill="#414587"/>
<circle cx="649.0" cy="283.4" r="4.85" fill="#460B5D"/>
<circle cx="410.4" cy="445.6" r="4.85" fill="#460B5D"/>
<circle cx="506.6" cy="537.8" r="4.85" fill="#460B5D"/>
<circle cx="785.0" cy="569.0" r="4.85" fill="#2B748E"/>
<circle cx="861.8" cy="445.8" r="4.85" fill="#228D8C"/>
<circle cx="927.0" cy="483.0" r="4.85" fill="#34618D"/>
<circle cx="921.3" cy="381.8" r="4.85" fill="#20938C"/>
<circle cx="288.5" cy="486.8" r="4.85" fill="#460B5D"/>
<circle cx="504.6" cy="380.0" r="4.85"/>
<circle cx="200.0" cy="393.0" r="4.85" fill="#453680"/>
<circle cx="631.3" cy="406.3" r="4.85"/>
<circle cx="950.7" cy="522.4" r="4.85" fill="#3A548B"/>
<circle cx="553.8" cy="356.6" r="4.85" fill="#460B5D"/>
<circle cx="786.1" cy="729.4" r="4.85" fill="#34618D"/>
<circle cx="599.6" cy="406.5" r="4.85"/>
<circle cx="550.3" cy="301.6" r="4.85" fill="#BADE28"/>
<circle cx="582.9" cy="362.4" r="4.85"/>
<circle cx="256.4" cy="435.4" r="4.85"/>
<circle cx="374.0" cy="391.5" r="4.85"/>
<circle cx="247.8" cy="213.5" r="4.85" fill="#481467"/>
<circle cx="813.7" cy="400.4" r="4.85"/>
<circle cx="293.7" cy="449.6" r="4.85" fill="#460B5D"/>
<circle cx="940.0" cy="256.6" r="4.85"/>
<circle cx="357.5" cy="187.1" r="4.85"/>
<circle cx="907.4" cy="418.5" r="4.85" fill="#228D8C"/>
<circle cx="332.5" cy="369.6" r="4.85"/>
<circle cx="895.1" cy="503.1" r="4.85"/>
<circle cx="573.7" cy="392.1" r="4.85" fill="#460B5D"/>
<circle cx="596.3" cy="386.0" r="4.85" fill="#27818E"/>
<circle cx="893.2" cy="269.6" r="4.85"/>
<circle cx="883.0" cy="460.1" r="4.85"/>
<circle cx="636.8" cy="522.4" r="4.85"/>
<circle cx="921.4" cy="225.7" r="4.85"/>
<circle cx="686.4" cy="624.9" r="4.85" fill="#460B5D"/>
<circle cx="949.4" cy="599.0" r="4.85" fill="#36B778"/>
<circle cx="785.2" cy="476.4" r="4.85" fill="#460B5D"/>
<circle cx="975.8" cy="146.2" r="4.85"/>
<circle cx="789.9" cy="474.0" r="4.85"/>
<circle cx="968.7" cy="531.0" r="4.85" fill="#460B5D"/>
<circle cx="552.1" cy="470.1" r="4.85"/>
<circle cx="523.4" cy="298.8" r="4.85"/>
<circle cx="217.4" cy="360.2" r="4.85"/>
<circle cx="585.7" cy="480.8" r="4.85" fill="#460B5D"/>
<circle cx="303.6" cy="438.1" r="4.85" fill="#482576"/>
<circle cx="215.9" cy="335.9" r="4.85"/>
<circle cx="931.1" cy="201.6" r="4.85"/>
<circle cx="257.9" cy="336.1" r="4.85"/>
<circle cx="919.0" cy="110.2" r="4.85"/>
<circle cx="254.7" cy="364.7" r="4.85" fill="#375B8C"/>
<circle cx="211.6" cy="285.7" r="4.85" fill="#482576"/>
<circle cx="302.2" cy="453.3" r="4.85" fill="#3A548B"/>
<circle cx="216.4" cy="364.7" r="4.85"/>
<circle cx="497.8" cy="482.2" r="4.85" fill="#460B5D"/>
<circle cx="730.0" cy="676.2" r="4.85"/>
<circle cx="429.7" cy="323.1" r="4.85"/>
<circle cx="316.5" cy="462.7" r="4.85" fill="#460B5D"/>
<circle cx="911.0" cy="542.8" r="4.85" fill="#2E6E8E"/>
<circle cx="238.9" cy="264.9" r="4.85" fill="#482576"/>
<circle cx="691.7" cy="236.2" r="4.85" fill="#482576"/>
<circle cx="984.0" cy="323.0" r="4.85" fill="#460B5D"/>
<circle cx="218.3" cy="288.5" r="4.85" fill="#3A548B"/>
<circle cx="211.6" cy="440.1" r="4.85" fill="#3A548B"/>
<circle cx="457.3" cy="300.3" r="4.85" fill="#433E84"/>
<circle cx="637.5" cy="244.6" r="4.85" fill="#76D153"/>
<circle cx="268.8" cy="403.5" r="4.85" fill="#375B8C"/>
<circle cx="444.4" cy="266.5" r="4.85" fill="#460B5D"/>
<circle cx="710.3" cy="432.7" r="4.85" fill="#2B748E"/>
<circle cx="215.6" cy="323.4" r="4.85" fill="#31678D"/>
<circle cx="255.4" cy="293.1" r="4.85" fill="#3A548B"/>
<circle cx="787.7" cy="326.6" r="4.85" fill="#460B5D"/>
<circle cx="574.1" cy="529.2" r="4.85" fill="#460B5D"/>
<circle cx="360.5" cy="502.8" r="4.85" fill="#472D7B"/>
<circle cx="689.9" cy="453.7" r="4.85"/>
<circle cx="901.3" cy="449.4" r="4.85" fill="#59C765"/>
<circle cx="757.8" cy="497.3" r="4.85"/>
<circle cx="350.1" cy="506.3" r="4.85"/>
<circle cx="504.0" cy="357.4" r="4.85" fill="#460B5D"/>
<circle cx="589.9" cy="434.9" r="4.85"/>
<circle cx="888.1" cy="395.8" r="4.85" fill="#460B5D"/>
<circle cx="959.6" cy="352.1" r="4.85"/>
<circle cx="395.3" cy="423.3" r="4.85"/>
<circle cx="1008.3" cy="195.8" r="4.85"/>
<circle cx="309.0" cy="408.6" r="4.85" fill="#460B5D"/>
<circle cx="570.1" cy="418.3" r="4.85" fill="#228D8C"/>
<circle cx="761.3" cy="360.7" r="4.85" fill="#460B5D"/>
<circle cx="201.5" cy="350.4" r="4.85" fill="#460B5D"/>
<circle cx="973.8" cy="626.7" r="4.85" fill="#3D4D8A"/>
<circle cx="929.2" cy="477.0" r="4.85"/>
<circle cx="283.6" cy="389.0" r="4.85" fill="#481467"/>
<circle cx="933.6" cy="228.9" r="4.85"/>
<circle cx="344.6" cy="460.1" r="4.85" fill="#460B5D"/>
<circle cx="213.2" cy="384.7" r="4.85" fill="#460B5D"/>
<circle cx="292.1" cy="260.0" r="4.85"/>
<circle cx="200.6" cy="277.5" r="4.85" fill="#40BD73"/>
<circle cx="752.9" cy="417.1" r="4.85"/>
<circle cx="520.2" cy="339.0" r="4.85" fill="#460B5D"/>
<circle cx="272.1" cy="198.4" r="4.85" fill="#460B5D"/>
<circle cx="252.3" cy="424.9" r="4.85" fill="#31678D"/>
<circle cx="343.6" cy="411.5" r="4.85" fill="#460B5D"/>
<circle cx="640.0" cy="236.7" r="4.85"/>
<circle cx="858.4" cy="594.2" r="4.85" fill="#460B5D"/>
<circle cx="261.4" cy="372.3" r="4.85" fill="#481D6E"/>
<circle cx="950.2" cy="173.5" r="4.85" fill="#460B5D"/>
<circle cx="159.6" cy="289.5" r="4.85" fill="#482576"/>
<circle cx="867.1" cy="398.3" r="4.85" fill="#27818E"/>
<circle cx="225.0" cy="345.1" r="4.85" fill="#481D6E"/>
<circle cx="755.3" cy="492.1" r="4.85" fill="#460B5D"/>
<circle cx="164.7" cy="342.4" r="4.85"/>
<circle cx="962.1" cy="615.7" r="4.85" fill="#3A548B"/>
<circle cx="941.6" cy="186.1" r="4.85"/>
<circle cx="261.7" cy="291.2" r="4.85"/>
<circle cx="269.0" cy="345.6" r="4.85" fill="#34618D"/>
<circle cx="926.3" cy="238.2" r="4.85" fill="#3D4D8A"/>
<circle cx="487.3" cy="535.2" r="4.85"/>
<circle cx="949.1" cy="483.5" r="4.85" fill="#20938C"/>
<circle cx="582.1" cy="473.0" r="4.85" fill="#375B8C"/>
<circle cx="815.3" cy="402.3" r="4.85" fill="#460B5D"/>
<circle cx="832.6" cy="528.8" r="4.85"/>
<circle cx="747.0" cy="369.1" r="4.85"/>
<circle cx="287.3" cy="360.8" r="4.85" fill="#460B5D"/>
<circle cx="889.8" cy="294.6" r="4.85" fill="#460B5D"/>
<circle cx="285.9" cy="423.1" r="4.85" fill="#460B5D"/>
<circle cx="675.8" cy="516.3" r="4.85" fill="#481D6E"/>
<circle cx="784.2" cy="481.5" r="4.85" fill="#460B5D"/>
<circle cx="974.9" cy="259.7" r="4.85" fill="#460B5D"/>
<circle cx="240.3" cy="453.0" r="4.85" fill="#472D7B"/>
<circle cx="205.6" cy="436.9" r="4.85" fill="#482576"/>
<circle cx="616.2" cy="493.8" r="4.85"/>
<circle cx="973.7" cy="444.9" r="4.85" fill="#34618D"/>
<circle cx="555.9" cy="406.7" r="4.85"/>
<circle cx="919.4" cy="621.0" r="4.85" fill="#228D8C"/>
<circle cx="704.3" cy="467.1" r="4.85" fill="#481467"/>
<circle cx="336.1" cy="399.6" r="4.85"/>
<circle cx="818.4" cy="524.7" r="4.85"/>
<circle cx="679.1" cy="420.7" r="4.85"/>
<circle cx="203.7" cy="283.5" r="4.85" fill="#433E84"/>
<circle cx="898.4" cy="391.2" r="4.85" fill="#433E84"/>
<circle cx="894.5" cy="570.0" r="4.85" fill="#2B748E"/>
<circle cx="889.2" cy="326.9" r="4.85" fill="#460B5D"/>
<circle cx="471.7" cy="342.3" r="4.85"/>
<circle cx="419.2" cy="347.0" r="4.85"/>
<circle cx="216.7" cy="417.6" r="4.85" fill="#414587"/>
<circle cx="539.1" cy="355.5" r="4.85" fill="#2E6E8E"/>
<circle cx="221.5" cy="398.0" r="4.85"/>
<circle cx="583.3" cy="432.6" r="4.85"/>
<circle cx="493.8" cy="344.6" r="4.85" fill="#460B5D"/>
<circle cx="955.0" cy="501.9" r="4.85" fill="#31678D"/>
<circle cx="796.8" cy="394.7" r="4.85" fill="#460B5D"/>
<circle cx="594.6" cy="233.3" r="4.85"/>
<circle cx="532.3" cy="452.2" r="4.85" fill="#A9DB33"/>
<circle cx="922.4" cy="444.9" r="4.85" fill="#24878D"/>
<circle cx="692.0" cy="534.6" r="4.85"/>
<circle cx="565.9" cy="376.8" r="4.85"/>
<circle cx="430.8" cy="438.0" r="4.85" fill="#433E84"/>
<circle cx="560.2" cy="413.7" r="4.85" fill="#481467"/>
<circle cx="631.1" cy="421.1" r="4.85" fill="#481467"/>
<circle cx="344.1" cy="404.0" r="4.85" fill="#460B5D"/>
<circle cx="216.2" cy="469.0" r="4.85" fill="#460B5D"/>
<circle cx="205.5" cy="298.5" r="4.85"/>
<circle cx="362.3" cy="325.7" r="4.85"/>
<circle cx="803.8" cy="524.9" r="4.85"/>
<circle cx="603.4" cy="517.3" r="4.85" fill="#481467"/>
<circle cx="927.6" cy="369.1" r="4.85" fill="#24878D"/>
<circle cx="207.5" cy="354.3" r="4.85" fill="#433E84"/>
<circle cx="800.5" cy="552.1" r="4.85"/>
<circle cx="627.9" cy="352.3" r="4.85" fill="#3A548B"/>
<circle cx="971.5" cy="185.5" r="4.85" fill="#453680"/>
<circle cx="917.9" cy="396.3" r="4.85" fill="#27818E"/>
<circle cx="918.4" cy="150.0" r="4.85"/>
<circle cx="303.3" cy="507.4" r="4.85" fill="#453680"/>
<circle cx="416.7" cy="436.9" r="4.85" fill="#460B5D"/>
<circle cx="883.5" cy="412.7" r="4.85" fill="#20938C"/>
<circle cx="309.4" cy="253.7" r="4.85"/>
<circle cx="326.9" cy="543.8" r="4.85" fill="#460B5D"/>
<circle cx="422.9" cy="303.0" r="4.85"/>
<circle cx="833.1" cy="458.6" r="4.85" fill="#460B5D"/>
<circle cx="157.0" cy="308.2" r="4.85" fill="#414587"/>
<circle cx="877.5" cy="578.4" r="4.85" fill="#460B5D"/>
<circle cx="868.6" cy="441.0" r="4.85" fill="#2E6E8E"/>
<circle cx="787.0" cy="531.2" r="4.85" fill="#460B5D"/>
<circle cx="980.6" cy="309.8" r="4.85"/>
<circle cx="598.1" cy="431.4" r="4.85" fill="#87D549"/>
<circle cx="969.9" cy="306.2" r="4.85"/>
<circle cx="929.4" cy="239.1" r="4.85" fill="#4CC26C"/>
<circle cx="971.9" cy="276.3" r="4.85" fill="#460B5D"/>
<circle cx="356.3" cy="378.4" r="4.85"/>
<circle cx="708.7" cy="384.5" r="4.85"/>
<circle cx="645.3" cy="351.2" r="4.85"/>
<circle cx="395.2" cy="548.9" r="4.85"/>
<circle cx="411.7" cy="342.8" r="4.85" fill="#482576"/>
<circle cx="927.4" cy="293.2" r="4.85" fill="#472D7B"/>
<circle cx="656.9" cy="455.2" r="4.85" fill="#460B5D"/>
<circle cx="246.2" cy="471.4" r="4.85" fill="#453680"/>
<circle cx="823.0" cy="498.7" r="4.85" fill="#460B5D"/>
<circle cx="284.8" cy="420.5" r="4.85" fill="#87D549"/>
<circle cx="680.4" cy="490.7" r="4.85" fill="#472D7B"/>
<circle cx="207.3" cy="419.4" r="4.85" fill="#414587"/>
<circle cx="459.1" cy="300.0" r="4.85" fill="#460B5D"/>
<circle cx="369.9" cy="400.5" r="4.85"/>
<circle cx="898.8" cy="278.2" r="4.85"/>
<circle cx="251.5" cy="303.3" r="4.85" fill="#460B5D"/>
<circle cx="862.1" cy="589.5" r="4.85" fill="#98D83E"/>
<circle cx="696.0" cy="668.6" r="4.85"/>
<circle cx="918.3" cy="440.9" r="4.85" fill="#2E6E8E"/>
<circle cx="1017.9" cy="254.5" r="4.85" fill="#460B5D"/>
<circle cx="250.9" cy="395.0" r="4.85"/>
<circle cx="710.5" cy="317.7" r="4.85" fill="#460B5D"/>
<circle cx="729.8" cy="453.7" r="4.85"/>
<circle cx="274.4" cy="290.1" r="4.85" fill="#CBE120"/>
<circle cx="938.1" cy="322.6" r="4.85" fill="#24878D"/>
<circle cx="281.6" cy="454.4" r="4.85" fill="#31678D"/>
<circle cx="890.8" cy="379.4" r="4.85" fill="#460B5D"/>
<circle cx="416.2" cy="562.8" r="4.85"/>
<circle cx="694.0" cy="426.3" r="4.85" fill="#460B5D"/>
<circle cx="939.8" cy="218.6" r="4.85" fill="#460B5D"/>
<circle cx="783.9" cy="502.7" r="4.85" fill="#460B5D"/>
<circle cx="433.8" cy="256.1" r="4.85"/>
<circle cx="891.4" cy="375.5" r="4.85" fill="#414587"/>
<circle cx="719.2" cy="417.9" r="4.85" fill="#460B5D"/>
<circle cx="208.8" cy="341.9" r="4.85" fill="#433E84"/>
<circle cx="464.0" cy="300.3" r="4.85"/>
<circle cx="564.3" cy="308.4" r="4.85" fill="#460B5D"/>
<circle cx="266.2" cy="600.0" r="4.85"/>
<circle cx="642.8" cy="763.4" r="4.85"/>
<circle cx="556.3" cy="482.7" r="4.85" fill="#3A548B"/>
<circle cx="674.1" cy="393.4" r="4.85"/>
<circle cx="336.5" cy="518.9" r="4.85" fill="#460B5D"/>
<circle cx="685.6" cy="545.1" r="4.85" fill="#3D4D8A"/>
<circle cx="883.9" cy="709.4" r="4.85"/>
<circle cx="910.0" cy="524.5" r="4.85" fill="#3A548B"/>
<circle cx="249.4" cy="276.8" r="4.85" fill="#3D4D8A"/>
<circle cx="542.7" cy="487.2" r="4.85" fill="#460B5D"/>
<circle cx="692.7" cy="537.6" r="4.85"/>
<circle cx="935.8" cy="330.7" r="4.85" fill="#3D4D8A"/>
<circle cx="435.1" cy="450.7" r="4.85"/>
<circle cx="359.6" cy="447.3" r="4.85" fill="#EDE51F"/>
<circle cx="387.9" cy="415.0" r="4.85" fill="#460B5D"/>
<circle cx="652.1" cy="518.9" r="4.85" fill="#460B5D"/>
<circle cx="756.1" cy="302.0" r="4.85" fill="#BADE28"/>
<circle cx="727.7" cy="393.6" r="4.85" fill="#27818E"/>
<circle cx="239.2" cy="429.0" r="4.85" fill="#460B5D"/>
<circle cx="426.3" cy="458.3" r="4.85" fill="#482576"/>
<circle cx="267.8" cy="209.6" r="4.85" fill="#297A8E"/>
<circle cx="876.1" cy="431.2" r="4.85"/>
<circle cx="549.0" cy="368.8" r="4.85"/>
<circle cx="303.4" cy="449.0" r="4.85" fill="#481467"/>
<circle cx="899.6" cy="127.1" r="4.85"/>
<circle cx="766.2" cy="388.5" r="4.85"/>
<circle cx="195.9" cy="320.2" r="4.85" fill="#31678D"/>
<circle cx="189.2" cy="312.3" r="4.85"/>
<circle cx="604.9" cy="489.3" r="4.85" fill="#482576"/>
<circle cx="756.0" cy="510.8" r="4.85" fill="#209F88"/>
<circle cx="549.8" cy="478.0" r="4.85"/>
<circle cx="264.4" cy="343.6" r="4.85"/>
<circle cx="164.6" cy="376.6" r="4.85" fill="#3D4D8A"/>
<circle cx="441.5" cy="366.8" r="4.85"/>
<circle cx="802.0" cy="629.5" r="4.85" fill="#22A585"/>
<circle cx="410.6" cy="360.9" r="4.85" fill="#3A548B"/>
<circle cx="932.8" cy="592.8" r="4.85" fill="#2B748E"/>
<circle cx="589.8" cy="387.4" r="4.85" fill="#3D4D8A"/>
<circle cx="220.5" cy="497.6" r="4.85" fill="#482576"/>
<circle cx="737.2" cy="482.9" r="4.85"/>
<circle cx="278.4" cy="328.1" r="4.85"/>
<circle cx="200.2" cy="424.0" r="4.85" fill="#460B5D"/>
<circle cx="759.6" cy="473.6" r="4.85" fill="#481467"/>
<circle cx="494.5" cy="401.7" r="4.85"/>
<circle cx="418.0" cy="425.3" r="4.85"/>
<circle cx="824.6" cy="417.3" r="4.85" fill="#460B5D"/>
<circle cx="241.4" cy="313.3" r="4.85" fill="#433E84"/>
<circle cx="761.7" cy="491.7" r="4.85" fill="#460B5D"/>
<circle cx="455.7" cy="324.5" r="4.85" fill="#460B5D"/>
<circle cx="509.9" cy="404.8" r="4.85" fill="#36B778"/>
<circle cx="680.5" cy="385.4" r="4.85"/>
<circle cx="388.8" cy="147.9" r="4.85" fill="#472D7B"/>
<circle cx="443.2" cy="455.7" r="4.85" fill="#460B5D"/>
<circle cx="755.4" cy="466.2" r="4.85"/>
<circle cx="785.5" cy="270.9" r="4.85" fill="#460B5D"/>
<circle cx="280.1" cy="315.0" r="4.85" fill="#3D4D8A"/>
<circle cx="714.5" cy="372.1" r="4.85" fill="#3D4D8A"/>
<circle cx="458.7" cy="347.5" r="4.85"/>
<circle cx="506.5" cy="457.3" r="4.85"/>
<circle cx="987.8" cy="252.9" r="4.85" fill="#460B5D"/>
<circle cx="856.1" cy="490.7" r="4.85" fill="#460B5D"/>
<circle cx="939.0" cy="171.3" r="4.85" fill="#460B5D"/>
<circle cx="438.0" cy="476.7" r="4.85"/>
<circle cx="202.9" cy="396.1" r="4.85" fill="#481D6E"/>
<circle cx="203.3" cy="369.0" r="4.85" fill="#3A548B"/>
<circle cx="483.5" cy="352.8" r="4.85"/>
<circle cx="415.1" cy="334.7" r="4.85"/>
<circle cx="245.7" cy="461.4" r="4.85" fill="#460B5D"/>
<circle cx="254.0" cy="351.6" r="4.85" fill="#453680"/>
<circle cx="612.0" cy="530.4" r="4.85"/>
<circle cx="974.9" cy="252.4" r="4.85" fill="#482576"/>
<circle cx="326.7" cy="273.3" r="4.85"/>
<circle cx="841.2" cy="288.3" r="4.85"/>
<circle cx="380.7" cy="530.8" r="4.85"/>
<circle cx="370.2" cy="548.5" r="4.85"/>
<circle cx="641.0" cy="349.2" r="4.85" fill="#460B5D"/>
<circle cx="191.2" cy="463.9" r="4.85" fill="#3A548B"/>
<circle cx="974.8" cy="140.4" r="4.85" fill="#460B5D"/>
<circle cx="334.2" cy="385.0" r="4.85" fill="#26AB81"/>
<circle cx="726.5" cy="343.4" r="4.85"/>
<circle cx="806.1" cy="616.1" r="4.85" fill="#3A548B"/>
<circle cx="942.5" cy="561.9" r="4.85" fill="#34618D"/>
<circle cx="424.4" cy="345.2" r="4.85"/>
<circle cx="662.3" cy="378.4" r="4.85" fill="#460B5D"/>
<circle cx="349.9" cy="476.9" r="4.85" fill="#460B5D"/>
<circle cx="823.4" cy="289.0" r="4.85" fill="#481467"/>
<circle cx="367.4" cy="294.8" r="4.85" fill="#460B5D"/>
<circle cx="536.4" cy="459.1" r="4.85" fill="#460B5D"/>
<circle cx="530.2" cy="386.6" r="4.85" fill="#460B5D"/>
<circle cx="1012.5" cy="467.5" r="4.85" fill="#481467"/>
<circle cx="903.8" cy="588.8" r="4.85"/>
<circle cx="374.3" cy="331.1" r="4.85" fill="#460B5D"/>
<circle cx="760.7" cy="470.9" r="4.85" fill="#460B5D"/>
<circle cx="148.5" cy="367.3" r="4.85"/>
<circle cx="806.0" cy="443.5" r="4.85"/>
<circle cx="331.1" cy="535.4" r="4.85" fill="#460B5D"/>
<circle cx="473.2" cy="382.4" r="4.85" fill="#460B5D"/>
<circle cx="335.4" cy="387.3" r="4.85"/>
<circle cx="220.9" cy="332.5" r="4.85" fill="#460B5D"/>
<circle cx="178.3" cy="327.2" r="4.85" fill="#460B5D"/>
<circle cx="403.0" cy="497.7" r="4.85"/>
<circle cx="890.7" cy="340.9" r="4.85" fill="#375B8C"/>
<circle cx="394.5" cy="399.1" r="4.85" fill="#460B5D"/>
<circle cx="957.4" cy="130.5" r="4.85" fill="#414587"/>
<circle cx="192.9" cy="343.7" r="4.85" fill="#3D4D8A"/>
<circle cx="453.6" cy="458.2" r="4.85"/>
<circle cx="209.3" cy="339.2" r="4.85" fill="#34618D"/>
<circle cx="296.8" cy="436.3" r="4.85" fill="#460B5D"/>
<circle cx="991.0" cy="272.5" r="4.85"/>
<circle cx="219.7" cy="341.0" r="4.85" fill="#460B5D"/>
<circle cx="511.9" cy="491.8" r="4.85" fill="#460B5D"/>
<circle cx="691.3" cy="399.9" r="4.85" fill="#3A548B"/>
<circle cx="481.4" cy="586.1" r="4.85" fill="#481D6E"/>
<circle cx="877.6" cy="599.6" r="4.85" fill="#EDE51F"/>
<circle cx="484.3" cy="533.7" r="4.85" fill="#460B5D"/>
<circle cx="552.9" cy="492.0" r="4.85"/>
<circle cx="625.3" cy="501.3" r="4.85" fill="#460B5D"/>
<circle cx="467.6" cy="506.8" r="4.85"/>
<circle cx="522.0" cy="464.5" r="4.85" fill="#460B5D"/>
<circle cx="669.4" cy="464.9" r="4.85" fill="#460B5D"/>
<circle cx="760.6" cy="443.2" r="4.85" fill="#460B5D"/>
<circle cx="487.4" cy="318.6" r="4.85" fill="#31678D"/>
<circle cx="888.3" cy="388.9" r="4.85"/>
<circle cx="358.2" cy="446.6" r="4.85"/>
<circle cx="503.3" cy="373.3" r="4.85" fill="#460B5D"/>
<circle cx="290.8" cy="469.9" r="4.85" fill="#2E6E8E"/>
<circle cx="898.1" cy="472.5" r="4.85" fill="#3D4D8A"/>
<circle cx="858.7" cy="475.3" r="4.85"/>
<circle cx="352.8" cy="304.2" r="4.85"/>
<circle cx="384.7" cy="542.5" r="4.85" fill="#460B5D"/>
<circle cx="933.0" cy="232.3" r="4.85" fill="#460B5D"/>
<circle cx="874.0" cy="294.9" r="4.85" fill="#36B778"/>
<circle cx="260.0" cy="321.2" r="4.85" fill="#453680"/>
<circle cx="367.0" cy="445.7" r="4.85"/>
<circle cx="989.9" cy="373.1" r="4.85" fill="#34618D"/>
<circle cx="295.0" cy="371.6" r="4.85"/>
<circle cx="232.9" cy="187.0" r="4.85"/>
<circle cx="963.6" cy="507.4" r="4.85" fill="#24878D"/>
<circle cx="991.3" cy="142.9" r="4.85"/>
<circle cx="237.0" cy="325.0" r="4.85" fill="#481467"/>
<circle cx="657.9" cy="466.3" r="4.85" fill="#460B5D"/>
<circle cx="573.3" cy="361.6" r="4.85"/>
<circle cx="367.1" cy="489.2" r="4.85" fill="#40BD73"/>
<circle cx="902.4" cy="304.5" r="4.85" fill="#460B5D"/>
<circle cx="950.9" cy="236.0" r="4.85"/>
<circle cx="956.6" cy="114.9" r="4.85" fill="#453680"/>
<circle cx="658.4" cy="711.9" r="4.85" fill="#BADE28"/>
<circle cx="893.1" cy="469.8" r="4.85" fill="#1F998A"/>
<circle cx="730.1" cy="393.0" r="4.85"/>
<circle cx="923.3" cy="226.0" r="4.85"/>
<circle cx="880.7" cy="633.5" r="4.85" fill="#228D8C"/>
<circle cx="873.7" cy="460.8" r="4.85" fill="#31678D"/>
<circle cx="574.8" cy="426.0" r="4.85" fill="#433E84"/>
<circle cx="926.4" cy="137.0" r="4.85" fill="#460B5D"/>
<circle cx="321.1" cy="301.1" r="4.85" fill="#481467"/>
<circle cx="515.8" cy="451.6" r="4.85" fill="#460B5D"/>
<circle cx="532.1" cy="399.9" r="4.85" fill="#460B5D"/>
<circle cx="212.0" cy="317.0" r="4.85" fill="#460B5D"/>
<circle cx="925.3" cy="624.1" r="4.85" fill="#34618D"/>
<circle cx="240.4" cy="378.0" r="4.85" fill="#460B5D"/>
<circle cx="419.3" cy="468.0" r="4.85" fill="#481467"/>
<circle cx="227.7" cy="419.8" r="4.85" fill="#481467"/>
<circle cx="853.8" cy="492.6" r="4.85"/>
<circle cx="389.6" cy="415.2" r="4.85" fill="#481467"/>
<circle cx="881.9" cy="238.8" r="4.85" fill="#481D6E"/>
<circle cx="338.7" cy="533.7" r="4.85"/>
<circle cx="822.1" cy="273.5" r="4.85" fill="#59C765"/>
<circle cx="466.6" cy="444.3" r="4.85"/>
<circle cx="156.9" cy="300.2" r="4.85" fill="#460B5D"/>
<circle cx="781.5" cy="426.3" r="4.85"/>
<circle cx="945.5" cy="150.0" r="4.85"/>
<circle cx="920.9" cy="135.8" r="4.85" fill="#460B5D"/>
<circle cx="597.6" cy="391.4" r="4.85" fill="#460B5D"/>
<circle cx="764.1" cy="308.4" r="4.85" fill="#460B5D"/>
<circle cx="179.3" cy="326.4" r="4.85" fill="#31678D"/>
<circle cx="369.2" cy="307.7" r="4.85"/>
<circle cx="275.5" cy="243.9" r="4.85" fill="#460B5D"/>
<circle cx="989.0" cy="290.8" r="4.85"/>
<circle cx="680.2" cy="363.5" r="4.85" fill="#460B5D"/>
<circle cx="376.7" cy="404.6" r="4.85" fill="#472D7B"/>
<circle cx="638.3" cy="501.9" r="4.85"/>
<circle cx="281.0" cy="231.3" r="4.85" fill="#433E84"/>
<circle cx="621.4" cy="474.9" r="4.85" fill="#460B5D"/>
<circle cx="927.3" cy="248.0" r="4.85"/>
<circle cx="568.0" cy="375.4" r="4.85" fill="#460B5D"/>
<circle cx="255.3" cy="361.9" r="4.85" fill="#460B5D"/>
<circle cx="638.8" cy="614.7" r="4.85" fill="#34618D"/>
<circle cx="240.9" cy="446.4" r="4.85"/>
<circle cx="923.9" cy="193.9" r="4.85" fill="#460B5D"/>
<circle cx="836.6" cy="490.8" r="4.85" fill="#460B5D"/>
<circle cx="947.6" cy="458.2" r="4.85" fill="#20938C"/>
<circle cx="930.1" cy="505.3" r="4.85" fill="#EDE51F"/>
<circle cx="944.6" cy="228.7" r="4.85"/>
<circle cx="701.1" cy="458.2" r="4.85" fill="#375B8C"/>
<circle cx="306.1" cy="309.6" r="4.85"/>
<circle cx="930.2" cy="163.6" r="4.85" fill="#460B5D"/>
<circle cx="549.4" cy="418.3" r="4.85"/>
<circle cx="804.8" cy="474.9" r="4.85"/>
<circle cx="517.1" cy="338.9" r="4.85"/>
<circle cx="949.8" cy="225.5" r="4.85" fill="#3D4D8A"/>
<circle cx="975.9" cy="197.3" r="4.85" fill="#31678D"/>
<circle cx="434.3" cy="505.4" r="4.85" fill="#460B5D"/>
<circle cx="242.4" cy="459.3" r="4.85" fill="#3D4D8A"/>
<circle cx="568.8" cy="169.6" r="4.85"/>
<circle cx="271.2" cy="217.0" r="4.85"/>
<circle cx="221.2" cy="253.4" r="4.85" fill="#31678D"/>
<circle cx="451.6" cy="581.0" r="4.85"/>
<circle cx="992.8" cy="266.6" r="4.85"/>
<circle cx="840.2" cy="390.5" r="4.85" fill="#460B5D"/>
<circle cx="185.9" cy="392.4" r="4.85" fill="#375B8C"/>
<circle cx="510.8" cy="327.4" r="4.85" fill="#31678D"/>
<circle cx="918.1" cy="243.9" r="4.85" fill="#481467"/>
<circle cx="679.4" cy="426.4" r="4.85" fill="#460B5D"/>
<circle cx="629.9" cy="478.9" r="4.85" fill="#453680"/>
<circle cx="870.0" cy="164.6" r="4.85" fill="#482576"/>
<circle cx="927.2" cy="383.5" r="4.85"/>
<circle cx="330.6" cy="346.2" r="4.85"/>
<circle cx="522.1" cy="541.3" r="4.85" fill="#24878D"/>
<circle cx="311.5" cy="408.8" r="4.85"/>
<circle cx="310.1" cy="385.1" r="4.85"/>
<circle cx="792.0" cy="417.5" r="4.85"/>
<circle cx="306.6" cy="478.2" r="4.85"/>
<circle cx="211.5" cy="464.3" r="4.85" fill="#482576"/>
<circle cx="733.1" cy="267.2" r="4.85" fill="#460B5D"/>
<circle cx="187.4" cy="315.1" r="4.85" fill="#460B5D"/>
<circle cx="926.3" cy="351.3" r="4.85" fill="#3A548B"/>
<circle cx="307.2" cy="291.3" r="4.85" fill="#460B5D"/>
<circle cx="228.4" cy="469.3" r="4.85" fill="#414587"/>
<circle cx="517.0" cy="370.4" r="4.85"/>
<circle cx="405.6" cy="506.5" r="4.85" fill="#414587"/>
<circle cx="178.4" cy="410.3" r="4.85" fill="#481467"/>
<circle cx="261.4" cy="482.8" r="4.85" fill="#482576"/>
<circle cx="299.6" cy="330.1" r="4.85" fill="#472D7B"/>
<circle cx="935.9" cy="493.2" r="4.85"/>
<circle cx="654.9" cy="398.4" r="4.85"/>
<circle cx="936.9" cy="179.1" r="4.85"/>
<circle cx="424.1" cy="600.9" r="4.85" fill="#460B5D"/>
<circle cx="208.2" cy="364.1" r="4.85"/>
<circle cx="691.6" cy="614.9" r="4.85"/>
<circle cx="447.3" cy="395.1" r="4.85" fill="#87D549"/>
<circle cx="544.1" cy="420.3" r="4.85"/>
<circle cx="339.4" cy="382.7" r="4.85" fill="#414587"/>
<circle cx="936.0" cy="500.3" r="4.85" fill="#2E6E8E"/>
<circle cx="357.8" cy="410.6" r="4.85" fill="#BADE28"/>
<circle cx="547.5" cy="549.2" r="4.85" fill="#DDE319"/>
<circle cx="655.4" cy="407.3" r="4.85"/>
<circle cx="624.4" cy="687.5" r="4.85"/>
<circle cx="703.9" cy="566.9" r="4.85" fill="#2E6E8E"/>
<circle cx="258.6" cy="344.1" r="4.85" fill="#482576"/>
<circle cx="407.4" cy="454.7" r="4.85" fill="#87D549"/>
<circle cx="230.7" cy="324.2" r="4.85"/>
<circle cx="323.8" cy="397.6" r="4.85"/>
<circle cx="260.1" cy="342.0" r="4.85" fill="#460B5D"/>
<circle cx="501.5" cy="302.1" r="4.85" fill="#34618D"/>
<circle cx="431.1" cy="347.6" r="4.85" fill="#3D4D8A"/>
<circle cx="266.5" cy="238.7" r="4.85"/>
<circle cx="872.8" cy="493.2" r="4.85"/>
<circle cx="558.0" cy="363.6" r="4.85" fill="#460B5D"/>
<circle cx="249.2" cy="480.9" r="4.85" fill="#3D4D8A"/>
<circle cx="773.1" cy="531.1" r="4.85" fill="#481467"/>
<circle cx="459.2" cy="321.8" r="4.85" fill="#460B5D"/>
<circle cx="903.7" cy="199.9" r="4.85" fill="#481467"/>
<circle cx="742.5" cy="595.7" r="4.85" fill="#1F998A"/>
<circle cx="906.4" cy="280.5" r="4.85"/>
<circle cx="166.6" cy="301.8" r="4.85"/>
<circle cx="526.7" cy="433.4" r="4.85"/>
<circle cx="973.1" cy="277.8" r="4.85" fill="#460B5D"/>
<circle cx="223.8" cy="413.0" r="4.85" fill="#460B5D"/>
<circle cx="716.7" cy="476.1" r="4.85"/>
<circle cx="865.3" cy="507.4" r="4.85" fill="#27818E"/>
<circle cx="295.6" cy="404.7" r="4.85"/>
<circle cx="405.9" cy="443.5" r="4.85"/>
<circle cx="526.0" cy="494.5" r="4.85" fill="#414587"/>
<circle cx="697.8" cy="474.7" r="4.85"/>
<circle cx="961.2" cy="206.0" r="4.85" fill="#460B5D"/>
<circle cx="582.6" cy="469.7" r="4.85" fill="#460B5D"/>
<circle cx="206.7" cy="441.6" r="4.85"/>
<circle cx="910.1" cy="346.2" r="4.85" fill="#1F998A"/>
<circle cx="915.4" cy="531.7" r="4.85" fill="#31678D"/>
<circle cx="547.5" cy="601.6" r="4.85"/>
<circle cx="462.9" cy="418.3" r="4.85" fill="#482576"/>
<circle cx="675.0" cy="309.6" r="4.85" fill="#98D83E"/>
<circle cx="961.4" cy="227.7" r="4.85"/>
<circle cx="421.4" cy="348.4" r="4.85"/>
<circle cx="715.9" cy="328.5" r="4.85" fill="#460B5D"/>
<circle cx="416.7" cy="189.6" r="4.85" fill="#DDE319"/>
<circle cx="905.7" cy="676.7" r="4.85"/>
<circle cx="349.9" cy="357.8" r="4.85"/>
<circle cx="418.6" cy="397.5" r="4.85" fill="#460B5D"/>
<circle cx="266.0" cy="228.2" r="4.85" fill="#460B5D"/>
<circle cx="316.4" cy="404.5" r="4.85" fill="#2E6E8E"/>
<circle cx="380.4" cy="478.3" r="4.85" fill="#375B8C"/>
<circle cx="553.7" cy="524.7" r="4.85" fill="#2E6E8E"/>
<circle cx="248.4" cy="333.1" r="4.85" fill="#34618D"/>
<circle cx="835.7" cy="309.6" r="4.85"/>
<circle cx="589.7" cy="346.4" r="4.85" fill="#460B5D"/>
<circle cx="148.6" cy="299.1" r="4.85" fill="#460B5D"/>
<circle cx="741.4" cy="417.7" r="4.85"/>
<circle cx="495.8" cy="365.9" r="4.85" fill="#460B5D"/>
<circle cx="460.0" cy="486.8" r="4.85" fill="#460B5D"/>
<circle cx="742.2" cy="263.1" r="4.85" fill="#460B5D"/>
<circle cx="328.5" cy="421.5" r="4.85" fill="#460B5D"/>
<circle cx="239.2" cy="427.7" r="4.85" fill="#472D7B"/>
<circle cx="245.1" cy="432.5" r="4.85" fill="#460B5D"/>
<circle cx="383.3" cy="384.9" r="4.85"/>
<circle cx="322.4" cy="293.0" r="4.85"/>
<circle cx="869.4" cy="495.5" r="4.85" fill="#59C765"/>
<circle cx="811.8" cy="640.7" r="4.85"/>
<circle cx="227.4" cy="385.6" r="4.85" fill="#453680"/>
<circle cx="868.4" cy="641.1" r="4.85" fill="#34618D"/>
<circle cx="959.1" cy="386.7" r="4.85" fill="#414587"/>
<circle cx="780.0" cy="398.2" r="4.85" fill="#460B5D"/>
<circle cx="811.8" cy="426.8" r="4.85"/>
<circle cx="331.4" cy="331.9" r="4.85" fill="#460B5D"/>
<circle cx="712.6" cy="492.0" r="4.85" fill="#460B5D"/>
<circle cx="919.7" cy="239.7" r="4.85" fill="#3A548B"/>
<circle cx="566.7" cy="461.0" r="4.85" fill="#460B5D"/>
<circle cx="829.2" cy="377.1" r="4.85"/>
<circle cx="546.6" cy="540.4" r="4.85" fill="#460B5D"/>
<circle cx="479.9" cy="450.6" r="4.85" fill="#460B5D"/>
<circle cx="721.2" cy="383.7" r="4.85" fill="#460B5D"/>
<circle cx="672.9" cy="516.5" r="4.85"/>
<circle cx="360.8" cy="387.1" r="4.85" fill="#460B5D"/>
<circle cx="346.8" cy="512.8" r="4.85" fill="#460B5D"/>
<circle cx="928.6" cy="155.9" r="4.85" fill="#482576"/>
<circle cx="488.1" cy="552.3" r="4.85"/>
<circle cx="426.6" cy="372.4" r="4.85"/>
<circle cx="973.6" cy="416.2" r="4.85" fill="#3D4D8A"/>
<circle cx="249.8" cy="295.0" r="4.85" fill="#472D7B"/>
<circle cx="530.7" cy="441.0" r="4.85"/>
<circle cx="263.1" cy="333.9" r="4.85" fill="#460B5D"/>
<circle cx="605.2" cy="388.0" r="4.85"/>
<circle cx="785.1" cy="514.3" r="4.85" fill="#481467"/>
<circle cx="369.0" cy="399.4" r="4.85"/>
<circle cx="447.0" cy="429.0" r="4.85" fill="#297A8E"/>
<circle cx="186.9" cy="379.8" r="4.85" fill="#433E84"/>
<circle cx="801.7" cy="487.5" r="4.85" fill="#31678D"/>
<circle cx="213.6" cy="275.4" r="4.85"/>
<circle cx="405.0" cy="265.5" r="4.85" fill="#460B5D"/>
<circle cx="553.4" cy="580.3" r="4.85"/>
<circle cx="200.0" cy="305.5" r="4.85" fill="#481D6E"/>
<circle cx="216.3" cy="393.7" r="4.85" fill="#472D7B"/>
<circle cx="419.9" cy="438.8" r="4.85"/>
<circle cx="218.6" cy="386.7" r="4.85" fill="#482576"/>
<circle cx="237.6" cy="383.3" r="4.85"/>
<circle cx="259.9" cy="385.4" r="4.85" fill="#453680"/>
<circle cx="761.2" cy="383.9" r="4.85" fill="#460B5D"/>
<circle cx="233.2" cy="339.2" r="4.85" fill="#460B5D"/>
<circle cx="689.1" cy="528.5" r="4.85" fill="#460B5D"/>
<circle cx="392.4" cy="360.8" r="4.85"/>
<circle cx="294.1" cy="311.6" r="4.85" fill="#460B5D"/>
<circle cx="283.4" cy="269.0" r="4.85"/>
<circle cx="421.0" cy="480.3" r="4.85" fill="#460B5D"/>
<circle cx="477.7" cy="483.5" r="4.85"/>
<circle cx="241.8" cy="379.4" r="4.85" fill="#3A548B"/>
<circle cx="267.4" cy="365.1" r="4.85" fill="#460B5D"/>
<circle cx="160.2" cy="389.2" r="4.85" fill="#460B5D"/>
<circle cx="301.6" cy="339.5" r="4.85" fill="#433E84"/>
<circle cx="754.5" cy="648.7" r="4.85" fill="#481D6E"/>
<circle cx="278.4" cy="309.2" r="4.85" fill="#2E6E8E"/>
<circle cx="953.9" cy="188.2" r="4.85"/>
<circle cx="573.6" cy="420.1" r="4.85"/>
<circle cx="706.6" cy="545.6" r="4.85"/>
<circle cx="908.5" cy="202.8" r="4.85"/>
<circle cx="696.3" cy="390.9" r="4.85"/>
<circle cx="952.3" cy="475.7" r="4.85" fill="#67CC5C"/>
<circle cx="932.3" cy="241.1" r="4.85"/>
<circle cx="449.7" cy="422.6" r="4.85"/>
<circle cx="938.5" cy="567.9" r="4.85" fill="#375B8C"/>
<circle cx="786.5" cy="498.8" r="4.85"/>
<circle cx="540.2" cy="392.2" r="4.85"/>
<circle cx="370.7" cy="488.1" r="4.85" fill="#460B5D"/>
<circle cx="304.1" cy="307.9" r="4.85"/>
<circle cx="560.9" cy="364.0" r="4.85"/>
<circle cx="918.7" cy="435.2" r="4.85" fill="#460B5D"/>
<circle cx="933.9" cy="599.1" r="4.85" fill="#453680"/>
<circle cx="930.4" cy="153.6" r="4.85"/>
<circle cx="327.4" cy="466.0" r="4.85" fill="#59C765"/>
<circle cx="510.8" cy="324.2" r="4.85" fill="#460B5D"/>
<circle cx="629.1" cy="482.8" r="4.85"/>
<circle cx="258.9" cy="409.5" r="4.85" fill="#460B5D"/>
<circle cx="581.3" cy="341.4" r="4.85"/>
<circle cx="238.8" cy="341.7" r="4.85" fill="#482576"/>
<circle cx="301.2" cy="442.5" r="4.85"/>
<circle cx="229.4" cy="277.7" r="4.85" fill="#433E84"/>
<circle cx="203.5" cy="222.6" r="4.85"/>
<circle cx="907.8" cy="442.4" r="4.85" fill="#460B5D"/>
<circle cx="422.4" cy="344.1" r="4.85"/>
<circle cx="827.5" cy="444.8" r="4.85"/>
<circle cx="756.2" cy="247.9" r="4.85"/>
<circle cx="456.9" cy="307.0" r="4.85" fill="#FDE725"/>
<circle cx="193.4" cy="409.4" r="4.85" fill="#472D7B"/>
<circle cx="209.5" cy="313.8" r="4.85" fill="#414587"/>
<circle cx="267.9" cy="449.0" r="4.85" fill="#3D4D8A"/>
<circle cx="262.9" cy="404.9" r="4.85" fill="#31678D"/>
<circle cx="187.0" cy="390.4" r="4.85" fill="#460B5D"/>
<circle cx="427.1" cy="390.4" r="4.85" fill="#460B5D"/>
<circle cx="686.8" cy="446.4" r="4.85" fill="#460B5D"/>
<circle cx="353.4" cy="332.0" r="4.85" fill="#460B5D"/>
<circle cx="243.4" cy="268.3" r="4.85"/>
<circle cx="367.1" cy="367.3" r="4.85"/>
<circle cx="917.9" cy="442.6" r="4.85" fill="#228D8C"/>
<circle cx="980.2" cy="238.6" r="4.85"/>
<circle cx="984.1" cy="208.9" r="4.85"/>
<circle cx="263.9" cy="366.7" r="4.85" fill="#433E84"/>
<circle cx="374.4" cy="469.8" r="4.85" fill="#481467"/>
<circle cx="834.5" cy="290.0" r="4.85" fill="#460B5D"/>
<circle cx="888.8" cy="541.5" r="4.85"/>
<circle cx="316.5" cy="257.6" r="4.85" fill="#460B5D"/>
<circle cx="911.9" cy="636.9" r="4.85" fill="#3D4D8A"/>
<circle cx="212.0" cy="321.7" r="4.85" fill="#482576"/>
<circle cx="274.4" cy="409.8" r="4.85" fill="#460B5D"/>
<circle cx="464.2" cy="416.4" r="4.85" fill="#460B5D"/>
<circle cx="550.5" cy="430.4" r="4.85" fill="#460B5D"/>
<circle cx="627.1" cy="476.8" r="4.85" fill="#1F998A"/>
<circle cx="939.8" cy="353.0" r="4.85" fill="#3A548B"/>
<circle cx="408.6" cy="430.9" r="4.85" fill="#460B5D"/>
<circle cx="484.4" cy="471.4" r="4.85"/>
<circle cx="786.3" cy="716.8" r="4.85" fill="#482576"/>
<circle cx="233.4" cy="493.3" r="4.85" fill="#3A548B"/>
<circle cx="279.2" cy="236.4" r="4.85"/>
<circle cx="745.3" cy="492.4" r="4.85" fill="#460B5D"/>
<circle cx="957.1" cy="191.3" r="4.85" fill="#2E6E8E"/>
<circle cx="641.9" cy="370.6" r="4.85"/>
<circle cx="786.0" cy="509.4" r="4.85" fill="#460B5D"/>
<circle cx="619.0" cy="350.1" r="4.85"/>
<circle cx="426.1" cy="360.1" r="4.85" fill="#482576"/>
<circle cx="228.5" cy="361.1" r="4.85" fill="#3A548B"/>
<circle cx="265.0" cy="391.8" r="4.85"/>
<circle cx="937.4" cy="511.2" r="4.85" fill="#472D7B"/>
<circle cx="760.6" cy="438.2" r="4.85" fill="#460B5D"/>
<circle cx="650.5" cy="499.8" r="4.85" fill="#460B5D"/>
<circle cx="555.6" cy="459.2" r="4.85" fill="#453680"/>
<circle cx="919.0" cy="114.7" r="4.85" fill="#433E84"/>
<circle cx="756.1" cy="447.1" r="4.85" fill="#3D4D8A"/>
<circle cx="869.8" cy="519.2" r="4.85" fill="#2B748E"/>
<circle cx="651.2" cy="498.4" r="4.85"/>
<circle cx="231.7" cy="288.4" r="4.85" fill="#472D7B"/>
<circle cx="226.6" cy="363.1" r="4.85" fill="#453680"/>
<circle cx="202.7" cy="283.8" r="4.85" fill="#433E84"/>
<circle cx="929.0" cy="334.5" r="4.85" fill="#228D8C"/>
<circle cx="978.2" cy="325.0" r="4.85"/>
<circle cx="955.4" cy="158.0" r="4.85" fill="#460B5D"/>
<circle cx="936.9" cy="522.4" r="4.85" fill="#460B5D"/>
<circle cx="236.7" cy="308.1" r="4.85"/>
<circle cx="260.1" cy="386.6" r="4.85"/>
<circle cx="539.7" cy="480.9" r="4.85" fill="#460B5D"/>
<circle cx="930.2" cy="156.6" r="4.85"/>
<circle cx="307.2" cy="355.0" r="4.85" fill="#1F998A"/>
<circle cx="914.9" cy="433.2" r="4.85"/>
<circle cx="270.8" cy="346.8" r="4.85" fill="#3A548B"/>
<circle cx="275.0" cy="348.7" r="4.85" fill="#460B5D"/>
<circle cx="713.5" cy="496.3" r="4.85" fill="#460B5D"/>
<circle cx="427.8" cy="286.7" r="4.85" fill="#460B5D"/>
<circle cx="918.9" cy="579.5" r="4.85" fill="#481467"/>
<circle cx="694.6" cy="276.8" r="4.85"/>
<circle cx="937.9" cy="197.0" r="4.85" fill="#481467"/>
<circle cx="218.5" cy="300.4" r="4.85" fill="#460B5D"/>
<circle cx="864.5" cy="414.5" r="4.85" fill="#3A548B"/>
<circle cx="253.4" cy="342.4" r="4.85" fill="#433E84"/>
<circle cx="670.3" cy="509.4" r="4.85" fill="#460B5D"/>
<circle cx="930.2" cy="461.1" r="4.85" fill="#20938C"/>
<circle cx="347.0" cy="399.0" r="4.85"/>
<circle cx="953.1" cy="408.5" r="4.85" fill="#2B748E"/>
<circle cx="985.9" cy="244.6" r="4.85"/>
<circle cx="945.7" cy="350.7" r="4.85" fill="#472D7B"/>
<circle cx="743.3" cy="448.9" r="4.85" fill="#460B5D"/>
<circle cx="758.8" cy="465.0" r="4.85"/>
<circle cx="588.0" cy="576.5" r="4.85" fill="#460B5D"/>
<circle cx="195.9" cy="357.1" r="4.85" fill="#3A548B"/>
<circle cx="173.4" cy="390.8" r="4.85" fill="#460B5D"/>
<circle cx="905.2" cy="179.5" r="4.85"/>
<circle cx="252.8" cy="355.8" r="4.85" fill="#460B5D"/>
<circle cx="785.6" cy="395.4" r="4.85"/>
<circle cx="183.7" cy="329.3" r="4.85" fill="#31678D"/>
<circle cx="901.4" cy="434.7" r="4.85" fill="#433E84"/>
<circle cx="517.0" cy="484.0" r="4.85" fill="#460B5D"/>
<circle cx="869.2" cy="633.9" r="4.85" fill="#2E6E8E"/>
<circle cx="290.4" cy="429.6" r="4.85" fill="#460B5D"/>
<circle cx="240.6" cy="358.8" r="4.85" fill="#460B5D"/>
<circle cx="883.2" cy="625.5" r="4.85" fill="#209F88"/>
<circle cx="202.3" cy="326.2" r="4.85" fill="#482576"/>
<circle cx="258.3" cy="436.3" r="4.85" fill="#460B5D"/>
<circle cx="233.8" cy="408.2" r="4.85"/>
<circle cx="288.6" cy="456.4" r="4.85"/>
<circle cx="264.0" cy="309.4" r="4.85" fill="#460B5D"/>
<circle cx="234.0" cy="382.1" r="4.85"/>
<circle cx="491.9" cy="328.7" r="4.85" fill="#460B5D"/>
<circle cx="344.6" cy="366.8" r="4.85"/>
<circle cx="484.4" cy="514.9" r="4.85"/>
<circle cx="575.4" cy="504.5" r="4.85" fill="#460B5D"/>
<circle cx="563.3" cy="396.5" r="4.85"/>
<circle cx="396.8" cy="440.6" r="4.85" fill="#CBE120"/>
<circle cx="932.1" cy="355.9" r="4.85"/>
<circle cx="837.3" cy="549.5" r="4.85"/>
<circle cx="268.3" cy="427.7" r="4.85" fill="#433E84"/>
<circle cx="506.8" cy="474.9" r="4.85" fill="#460B5D"/>
<circle cx="774.2" cy="291.4" r="4.85" fill="#A9DB33"/>
<circle cx="445.9" cy="319.7" r="4.85" fill="#481467"/>
<circle cx="936.6" cy="228.4" r="4.85"/>
<circle cx="438.0" cy="351.1" r="4.85"/>
<circle cx="991.5" cy="154.0" r="4.85" fill="#481467"/>
<circle cx="536.6" cy="390.1" r="4.85" fill="#460B5D"/>
<circle cx="789.0" cy="393.2" r="4.85" fill="#228D8C"/>
<circle cx="421.6" cy="493.4" r="4.85"/>
<circle cx="221.4" cy="401.7" r="4.85" fill="#433E84"/>
<circle cx="967.3" cy="148.5" r="4.85"/>
<circle cx="716.3" cy="479.8" r="4.85"/>
<circle cx="1009.4" cy="288.1" r="4.85"/>
<circle cx="768.1" cy="341.6" r="4.85"/>
<circle cx="220.2" cy="355.0" r="4.85" fill="#460B5D"/>
<circle cx="735.8" cy="459.8" r="4.85" fill="#481467"/>
<circle cx="658.7" cy="484.8" r="4.85"/>
<circle cx="795.4" cy="423.6" r="4.85"/>
<circle cx="974.1" cy="177.5" r="4.85" fill="#31678D"/>
<circle cx="961.7" cy="226.1" r="4.85" fill="#460B5D"/>
<circle cx="910.3" cy="664.7" r="4.85"/>
<circle cx="903.4" cy="371.1" r="4.85" fill="#2E6E8E"/>
<circle cx="352.6" cy="337.2" r="4.85" fill="#460B5D"/>
<circle cx="199.6" cy="429.1" r="4.85"/>
<circle cx="761.9" cy="435.3" r="4.85"/>
<circle cx="567.0" cy="524.9" r="4.85"/>
<circle cx="235.2" cy="469.7" r="4.85" fill="#482576"/>
<circle cx="266.3" cy="367.9" r="4.85" fill="#472D7B"/>
<circle cx="605.0" cy="390.6" r="4.85" fill="#297A8E"/>
<circle cx="889.8" cy="383.6" r="4.85" fill="#2E6E8E"/>
<circle cx="901.3" cy="372.2" r="4.85"/>
<circle cx="291.1" cy="347.8" r="4.85" fill="#460B5D"/>
<circle cx="789.9" cy="383.4" r="4.85" fill="#BADE28"/>
<circle cx="928.3" cy="455.7" r="4.85" fill="#460B5D"/>
<circle cx="213.2" cy="245.4" r="4.85" fill="#2E6E8E"/>
<circle cx="266.5" cy="398.8" r="4.85" fill="#433E84"/>
<circle cx="808.6" cy="600.9" r="4.85" fill="#460B5D"/>
<circle cx="940.1" cy="138.4" r="4.85" fill="#460B5D"/>
<circle cx="969.5" cy="201.9" r="4.85" fill="#460B5D"/>
<circle cx="914.5" cy="454.7" r="4.85"/>
<circle cx="922.4" cy="239.2" r="4.85" fill="#460B5D"/>
<circle cx="754.3" cy="455.5" r="4.85" fill="#460B5D"/>
<circle cx="218.7" cy="424.0" r="4.85"/>
<circle cx="387.1" cy="198.8" r="4.85" fill="#460B5D"/>
<circle cx="644.9" cy="469.9" r="4.85"/>
<circle cx="302.6" cy="434.3" r="4.85" fill="#460B5D"/>
<circle cx="890.0" cy="582.2" r="4.85" fill="#24878D"/>
<circle cx="424.0" cy="473.8" r="4.85"/>
<circle cx="316.4" cy="355.9" r="4.85" fill="#414587"/>
<circle cx="886.2" cy="161.8" r="4.85"/>
<circle cx="887.8" cy="165.4" r="4.85"/>
<circle cx="383.7" cy="455.5" r="4.85" fill="#3D4D8A"/>
<circle cx="430.6" cy="370.4" r="4.85"/>
<circle cx="681.4" cy="430.2" r="4.85" fill="#36B778"/>
<circle cx="834.9" cy="430.2" r="4.85" fill="#460B5D"/>
<circle cx="360.5" cy="455.8" r="4.85"/>
<circle cx="934.9" cy="485.5" r="4.85" fill="#414587"/>
<circle cx="221.6" cy="382.1" r="4.85" fill="#460B5D"/>
<circle cx="925.2" cy="168.0" r="4.85" fill="#460B5D"/>
<circle cx="205.6" cy="406.4" r="4.85" fill="#472D7B"/>
<circle cx="926.7" cy="246.1" r="4.85" fill="#481467"/>
<circle cx="179.5" cy="364.0" r="4.85"/>
<circle cx="700.4" cy="505.1" r="4.85" fill="#460B5D"/>
<circle cx="482.2" cy="415.1" r="4.85" fill="#460B5D"/>
<circle cx="909.6" cy="185.1" r="4.85" fill="#460B5D"/>
<circle cx="480.8" cy="474.4" r="4.85" fill="#460B5D"/>
<circle cx="801.6" cy="504.0" r="4.85" fill="#460B5D"/>
<circle cx="215.0" cy="311.5" r="4.85" fill="#460B5D"/>
<circle cx="604.7" cy="436.8" r="4.85" fill="#460B5D"/>
<circle cx="520.0" cy="401.9" r="4.85" fill="#460B5D"/>
<circle cx="237.2" cy="420.2" r="4.85" fill="#414587"/>
<circle cx="947.8" cy="486.5" r="4.85" fill="#433E84"/>
<circle cx="402.0" cy="396.8" r="4.85" fill="#460B5D"/>
<circle cx="380.4" cy="566.0" r="4.85"/>
<circle cx="803.7" cy="497.3" r="4.85" fill="#481467"/>
<circle cx="240.4" cy="253.1" r="4.85"/>
<circle cx="928.8" cy="360.9" r="4.85" fill="#27818E"/>
<circle cx="391.2" cy="498.6" r="4.85" fill="#460B5D"/>
<circle cx="978.2" cy="303.7" r="4.85" fill="#98D83E"/>
<circle cx="918.7" cy="482.2" r="4.85" fill="#2CB17D"/>
<circle cx="952.8" cy="199.2" r="4.85"/>
<circle cx="985.9" cy="192.5" r="4.85" fill="#481467"/>
<circle cx="230.7" cy="489.7" r="4.85" fill="#460B5D"/>
<circle cx="511.6" cy="518.5" r="4.85"/>
<circle cx="365.8" cy="587.9" r="4.85"/>
<circle cx="661.4" cy="448.9" r="4.85" fill="#209F88"/>
<circle cx="264.5" cy="278.7" r="4.85" fill="#375B8C"/>
<circle cx="554.9" cy="480.6" r="4.85" fill="#209F88"/>
<circle cx="1015.2" cy="160.4" r="4.85" fill="#482576"/>
<circle cx="473.1" cy="536.6" r="4.85" fill="#460B5D"/>
<circle cx="474.2" cy="250.0" r="4.85" fill="#460B5D"/>
<circle cx="916.6" cy="534.6" r="4.85" fill="#297A8E"/>
<circle cx="657.8" cy="735.6" r="4.85"/>
<circle cx="934.0" cy="207.9" r="4.85"/>
<circle cx="283.7" cy="307.4" r="4.85" fill="#460B5D"/>
<circle cx="650.6" cy="547.7" r="4.85" fill="#460B5D"/>
<circle cx="371.4" cy="484.0" r="4.85"/>
<circle cx="286.7" cy="524.4" r="4.85" fill="#3A548B"/>
<circle cx="384.5" cy="362.9" r="4.85"/>
<circle cx="477.1" cy="214.6" r="4.85"/>
<circle cx="577.2" cy="361.3" r="4.85"/>
<circle cx="397.2" cy="435.6" r="4.85" fill="#433E84"/>
<circle cx="431.8" cy="473.1" r="4.85" fill="#460B5D"/>
<circle cx="893.3" cy="280.1" r="4.85" fill="#460B5D"/>
<circle cx="376.5" cy="393.4" r="4.85"/>
<circle cx="943.7" cy="269.2" r="4.85" fill="#482576"/>
<circle cx="225.3" cy="376.0" r="4.85"/>
<circle cx="319.0" cy="418.0" r="4.85" fill="#2B748E"/>
<circle cx="535.6" cy="470.8" r="4.85" fill="#481467"/>
<circle cx="409.4" cy="369.8" r="4.85"/>
<circle cx="362.3" cy="299.7" r="4.85" fill="#460B5D"/>
<circle cx="637.3" cy="335.5" r="4.85" fill="#460B5D"/>
<circle cx="856.1" cy="548.4" r="4.85" fill="#460B5D"/>
<circle cx="628.8" cy="571.0" r="4.85"/>
<circle cx="715.4" cy="296.4" r="4.85"/>
<circle cx="925.3" cy="438.7" r="4.85" fill="#24878D"/>
<circle cx="347.9" cy="324.5" r="4.85" fill="#481467"/>
<circle cx="760.2" cy="732.8" r="4.85"/>
<circle cx="215.3" cy="248.8" r="4.85" fill="#481467"/>
<circle cx="484.6" cy="155.0" r="4.85"/>
<circle cx="901.4" cy="214.2" r="4.85" fill="#460B5D"/>
<circle cx="920.2" cy="179.4" r="4.85"/>
<circle cx="645.1" cy="489.4" r="4.85" fill="#460B5D"/>
<circle cx="639.0" cy="273.6" r="4.85" fill="#460B5D"/>
<circle cx="940.5" cy="491.0" r="4.85" fill="#2E6E8E"/>
<circle cx="885.5" cy="516.0" r="4.85" fill="#3A548B"/>
<circle cx="211.6" cy="315.4" r="4.85"/>
<circle cx="703.3" cy="508.9" r="4.85"/>
<circle cx="591.1" cy="363.6" r="4.85"/>
<circle cx="424.5" cy="343.3" r="4.85"/>
<circle cx="271.2" cy="247.8" r="4.85"/>
<circle cx="589.9" cy="359.2" r="4.85"/>
<circle cx="836.5" cy="356.1" r="4.85" fill="#481467"/>
<circle cx="285.6" cy="412.8" r="4.85" fill="#414587"/>
<circle cx="240.1" cy="383.7" r="4.85" fill="#3D4D8A"/>
<circle cx="174.5" cy="429.7" r="4.85"/>
<circle cx="936.5" cy="477.2" r="4.85" fill="#27818E"/>
<circle cx="266.4" cy="419.0" r="4.85" fill="#433E84"/>
<circle cx="503.4" cy="392.5" r="4.85" fill="#460B5D"/>
<circle cx="253.9" cy="421.2" r="4.85" fill="#34618D"/>
<circle cx="187.2" cy="373.6" r="4.85" fill="#481467"/>
<circle cx="285.0" cy="449.2" r="4.85" fill="#2B748E"/>
<circle cx="190.2" cy="267.2" r="4.85" fill="#482576"/>
<circle cx="270.0" cy="439.4" r="4.85" fill="#460B5D"/>
<circle cx="377.5" cy="410.3" r="4.85"/>
<circle cx="331.7" cy="279.1" r="4.85" fill="#460B5D"/>
<circle cx="388.0" cy="466.6" r="4.85"/>
<circle cx="275.7" cy="320.3" r="4.85" fill="#460B5D"/>
<circle cx="748.2" cy="333.7" r="4.85" fill="#209F88"/>
<circle cx="922.9" cy="434.8" r="4.85" fill="#2CB17D"/>
<circle cx="369.8" cy="401.9" r="4.85"/>
<circle cx="290.3" cy="460.9" r="4.85" fill="#460B5D"/>
<circle cx="554.0" cy="317.9" r="4.85" fill="#460B5D"/>
<circle cx="284.8" cy="433.5" r="4.85"/>
<circle cx="317.1" cy="457.6" r="4.85"/>
<circle cx="545.3" cy="480.0" r="4.85" fill="#481467"/>
<circle cx="745.5" cy="341.8" r="4.85" fill="#414587"/>
<circle cx="518.5" cy="471.1" r="4.85"/>
<circle cx="812.1" cy="583.3" r="4.85" fill="#2B748E"/>
<circle cx="172.9" cy="373.4" r="4.85" fill="#482576"/>
<circle cx="960.6" cy="493.3" r="4.85" fill="#26AB81"/>
<circle cx="950.9" cy="275.2" r="4.85" fill="#460B5D"/>
<circle cx="946.8" cy="528.9" r="4.85" fill="#2E6E8E"/>
<circle cx="765.9" cy="730.5" r="4.85"/>
<circle cx="264.6" cy="338.0" r="4.85"/>
<circle cx="400.9" cy="460.5" r="4.85"/>
<circle cx="658.0" cy="426.6" r="4.85"/>
<circle cx="835.9" cy="588.7" r="4.85"/>
<circle cx="652.9" cy="351.5" r="4.85" fill="#460B5D"/>
<circle cx="539.7" cy="556.5" r="4.85" fill="#3D4D8A"/>
<circle cx="256.0" cy="293.1" r="4.85" fill="#460B5D"/>
<circle cx="279.6" cy="258.0" r="4.85" fill="#481D6E"/>
<circle cx="591.4" cy="256.7" r="4.85" fill="#A9DB33"/>
<circle cx="568.0" cy="380.6" r="4.85" fill="#24878D"/>
<circle cx="546.0" cy="491.9" r="4.85"/>
<circle cx="819.6" cy="575.6" r="4.85" fill="#460B5D"/>
<circle cx="954.0" cy="472.7" r="4.85"/>
<circle cx="196.9" cy="280.3" r="4.85" fill="#482576"/>
<circle cx="870.7" cy="268.1" r="4.85" fill="#460B5D"/>
<circle cx="551.2" cy="405.5" r="4.85"/>
<circle cx="958.3" cy="75.4" r="4.85"/>
<circle cx="511.6" cy="625.6" r="4.85" fill="#34618D"/>
<circle cx="734.7" cy="582.2" r="4.85" fill="#36B778"/>
<circle cx="840.4" cy="346.3" r="4.85" fill="#460B5D"/>
<circle cx="866.3" cy="370.3" r="4.85" fill="#2B748E"/>
<circle cx="194.4" cy="345.5" r="4.85" fill="#375B8C"/>
<circle cx="942.0" cy="596.5" r="4.85" fill="#2CB17D"/>
<circle cx="395.2" cy="377.3" r="4.85" fill="#453680"/>
<circle cx="337.2" cy="360.6" r="4.85" fill="#460B5D"/>
<circle cx="343.4" cy="443.9" r="4.85"/>
<circle cx="279.3" cy="391.8" r="4.85" fill="#460B5D"/>
<circle cx="881.7" cy="396.1" r="4.85" fill="#26AB81"/>
<circle cx="260.4" cy="318.5" r="4.85" fill="#460B5D"/>
<circle cx="227.2" cy="457.2" r="4.85" fill="#453680"/>
<circle cx="737.6" cy="479.8" r="4.85" fill="#460B5D"/>
<circle cx="250.9" cy="370.8" r="4.85" fill="#414587"/>
<circle cx="495.7" cy="495.2" r="4.85" fill="#460B5D"/>
<circle cx="364.5" cy="445.7" r="4.85"/>
<circle cx="867.9" cy="323.3" r="4.85" fill="#472D7B"/>
<circle cx="343.3" cy="442.4" r="4.85"/>
<circle cx="394.5" cy="361.0" r="4.85"/>
<circle cx="680.6" cy="593.7" r="4.85" fill="#460B5D"/>
<circle cx="490.7" cy="476.6" r="4.85" fill="#460B5D"/>
<circle cx="801.3" cy="358.6" r="4.85" fill="#481467"/>
<circle cx="243.0" cy="256.7" r="4.85" fill="#453680"/>
<circle cx="257.1" cy="416.6" r="4.85" fill="#34618D"/>
<circle cx="968.7" cy="165.2" r="4.85" fill="#481467"/>
<circle cx="598.4" cy="438.3" r="4.85" fill="#460B5D"/>
<circle cx="809.8" cy="339.6" r="4.85" fill="#460B5D"/>
<circle cx="398.0" cy="413.0" r="4.85" fill="#460B5D"/>
<circle cx="261.6" cy="333.2" r="4.85" fill="#3A548B"/>
<circle cx="316.8" cy="500.4" r="4.85"/>
<circle cx="904.7" cy="456.1" r="4.85" fill="#228D8C"/>
<circle cx="702.7" cy="341.0" r="4.85"/>
<circle cx="854.3" cy="425.0" r="4.85" fill="#482576"/>
<circle cx="780.1" cy="527.6" r="4.85"/>
<circle cx="810.2" cy="389.9" r="4.85"/>
<circle cx="974.0" cy="282.3" r="4.85"/>
<circle cx="370.5" cy="352.1" r="4.85" fill="#460B5D"/>
<circle cx="914.1" cy="615.7" r="4.85" fill="#27818E"/>
<circle cx="624.7" cy="497.4" r="4.85" fill="#482576"/>
<circle cx="706.2" cy="511.4" r="4.85" fill="#27818E"/>
<circle cx="242.0" cy="425.8" r="4.85" fill="#460B5D"/>
<circle cx="265.0" cy="443.8" r="4.85" fill="#433E84"/>
<circle cx="578.8" cy="190.4" r="4.85" fill="#3A548B"/>
<circle cx="785.9" cy="479.9" r="4.85"/>
<circle cx="276.7" cy="360.4" r="4.85" fill="#3D4D8A"/>
<circle cx="788.5" cy="460.0" r="4.85"/>
<circle cx="972.1" cy="166.0" r="4.85"/>
<circle cx="235.4" cy="395.8" r="4.85" fill="#3A548B"/>
<circle cx="924.7" cy="356.6" r="4.85" fill="#20938C"/>
<circle cx="249.7" cy="470.2" r="4.85" fill="#3D4D8A"/>
<circle cx="754.4" cy="397.0" r="4.85" fill="#460B5D"/>
<circle cx="573.8" cy="362.8" r="4.85" fill="#460B5D"/>
<circle cx="463.3" cy="340.9" r="4.85" fill="#460B5D"/>
<circle cx="196.0" cy="490.4" r="4.85" fill="#3A548B"/>
<circle cx="724.2" cy="411.5" r="4.85" fill="#460B5D"/>
<circle cx="793.6" cy="326.7" r="4.85"/>
<circle cx="275.5" cy="492.1" r="4.85" fill="#460B5D"/>
<circle cx="393.7" cy="413.6" r="4.85"/>
<circle cx="945.1" cy="517.5" r="4.85"/>
<circle cx="712.3" cy="490.9" r="4.85" fill="#460B5D"/>
<circle cx="513.5" cy="404.7" r="4.85"/>
<circle cx="193.5" cy="408.2" r="4.85" fill="#34618D"/>
<circle cx="691.6" cy="299.2" r="4.85" fill="#460B5D"/>
<circle cx="586.1" cy="508.9" r="4.85" fill="#2E6E8E"/>
<circle cx="906.6" cy="174.6" r="4.85" fill="#460B5D"/>
<circle cx="175.0" cy="379.9" r="4.85" fill="#3A548B"/>
<circle cx="396.8" cy="359.8" r="4.85" fill="#460B5D"/>
<circle cx="302.6" cy="478.9" r="4.85" fill="#460B5D"/>
<circle cx="249.5" cy="298.5" r="4.85" fill="#472D7B"/>
<circle cx="857.7" cy="357.1" r="4.85" fill="#24878D"/>
<circle cx="534.8" cy="348.8" r="4.85"/>
<circle cx="409.5" cy="430.1" r="4.85"/>
<circle cx="243.3" cy="335.9" r="4.85" fill="#31678D"/>
<circle cx="325.6" cy="278.7" r="4.85" fill="#460B5D"/>
<circle cx="247.2" cy="370.6" r="4.85" fill="#481467"/>
<circle cx="516.2" cy="455.8" r="4.85" fill="#414587"/>
<circle cx="952.9" cy="544.9" r="4.85" fill="#59C765"/>
<circle cx="273.7" cy="420.5" r="4.85" fill="#453680"/>
<circle cx="533.5" cy="394.4" r="4.85" fill="#481467"/>
<circle cx="808.2" cy="384.6" r="4.85" fill="#481467"/>
<circle cx="395.9" cy="440.3" r="4.85" fill="#460B5D"/>
<circle cx="542.4" cy="403.7" r="4.85" fill="#460B5D"/>
<circle cx="508.4" cy="550.6" r="4.85" fill="#460B5D"/>
<circle cx="947.7" cy="513.4" r="4.85"/>
<circle cx="756.7" cy="563.5" r="4.85"/>
<circle cx="966.8" cy="367.2" r="4.85"/>
<circle cx="408.4" cy="457.1" r="4.85" fill="#460B5D"/>
<circle cx="915.5" cy="547.5" r="4.85" fill="#297A8E"/>
<circle cx="410.8" cy="310.8" r="4.85" fill="#460B5D"/>
<circle cx="622.2" cy="302.4" r="4.85"/>
<circle cx="788.0" cy="304.3" r="4.85" fill="#453680"/>
<circle cx="980.8" cy="418.8" r="4.85" fill="#3A548B"/>
<circle cx="356.6" cy="390.6" r="4.85" fill="#460B5D"/>
<circle cx="345.6" cy="395.9" r="4.85" fill="#460B5D"/>
<circle cx="970.8" cy="73.3" r="4.85" fill="#482576"/>
<circle cx="556.7" cy="441.2" r="4.85" fill="#460B5D"/>
<circle cx="908.4" cy="205.6" r="4.85"/>
<circle cx="913.9" cy="547.0" r="4.85" fill="#22A585"/>
<circle cx="261.3" cy="287.9" r="4.85"/>
<circle cx="893.7" cy="164.4" r="4.85" fill="#460B5D"/>
<circle cx="953.6" cy="242.1" r="4.85"/>
<circle cx="415.8" cy="330.6" r="4.85"/>
<circle cx="745.7" cy="521.5" r="4.85" fill="#481467"/>
<circle cx="237.8" cy="477.8" r="4.85" fill="#482576"/>
<circle cx="733.6" cy="540.8" r="4.85" fill="#460B5D"/>
<circle cx="234.9" cy="395.4" r="4.85" fill="#472D7B"/>
<circle cx="677.8" cy="384.9" r="4.85"/>
<circle cx="207.9" cy="466.3" r="4.85" fill="#414587"/>
<circle cx="485.8" cy="411.1" r="4.85" fill="#460B5D"/>
<circle cx="875.8" cy="627.9" r="4.85" fill="#DDE319"/>
<circle cx="722.5" cy="508.4" r="4.85" fill="#433E84"/>
<circle cx="941.5" cy="126.3" r="4.85" fill="#460B5D"/>
<circle cx="195.3" cy="403.1" r="4.85" fill="#482576"/>
<circle cx="301.3" cy="379.8" r="4.85"/>
<circle cx="465.9" cy="392.7" r="4.85"/>
<circle cx="255.3" cy="446.3" r="4.85" fill="#460B5D"/>
<circle cx="250.8" cy="365.5" r="4.85" fill="#481467"/>
<circle cx="220.3" cy="278.8" r="4.85" fill="#460B5D"/>
<circle cx="434.9" cy="417.2" r="4.85" fill="#482576"/>
<circle cx="510.1" cy="441.8" r="4.85" fill="#481467"/>
<circle cx="721.2" cy="824.5" r="4.85" fill="#460B5D"/>
<circle cx="767.3" cy="323.2" r="4.85" fill="#460B5D"/>
<circle cx="228.1" cy="338.7" r="4.85" fill="#460B5D"/>
<circle cx="927.6" cy="429.5" r="4.85" fill="#24878D"/>
<circle cx="527.2" cy="337.6" r="4.85" fill="#460B5D"/>
<circle cx="662.8" cy="330.9" r="4.85" fill="#481467"/>
<circle cx="848.7" cy="408.0" r="4.85" fill="#67CC5C"/>
<circle cx="854.7" cy="583.1" r="4.85" fill="#98D83E"/>
<circle cx="299.9" cy="378.3" r="4.85" fill="#453680"/>
<circle cx="221.7" cy="257.7" r="4.85" fill="#375B8C"/>
<circle cx="495.7" cy="306.0" r="4.85" fill="#460B5D"/>
<circle cx="865.6" cy="664.1" r="4.85"/>
<circle cx="441.1" cy="426.6" r="4.85"/>
<circle cx="179.3" cy="302.8" r="4.85" fill="#460B5D"/>
<circle cx="268.8" cy="275.0" r="4.85" fill="#34618D"/>
<circle cx="534.7" cy="583.3" r="4.85"/>
<circle cx="920.7" cy="414.9" r="4.85" fill="#20938C"/>
<circle cx="248.4" cy="279.3" r="4.85" fill="#375B8C"/>
<circle cx="576.9" cy="409.4" r="4.85"/>
<circle cx="877.7" cy="383.6" r="4.85" fill="#414587"/>
<circle cx="457.7" cy="528.9" r="4.85"/>
<circle cx="801.3" cy="444.9" r="4.85"/>
<circle cx="584.3" cy="303.9" r="4.85" fill="#BADE28"/>
<circle cx="221.9" cy="282.2" r="4.85" fill="#481467"/>
<circle cx="307.8" cy="373.1" r="4.85"/>
<circle cx="952.0" cy="209.2" r="4.85" fill="#460B5D"/>
<circle cx="427.2" cy="534.8" r="4.85" fill="#460B5D"/>
<circle cx="871.5" cy="602.7" r="4.85"/>
<circle cx="337.4" cy="369.0" r="4.85"/>
<circle cx="223.1" cy="309.2" r="4.85"/>
<circle cx="945.4" cy="219.4" r="4.85"/>
<circle cx="277.5" cy="365.4" r="4.85" fill="#460B5D"/>
<circle cx="698.5" cy="468.9" r="4.85"/>
<circle cx="556.0" cy="449.8" r="4.85" fill="#460B5D"/>
<circle cx="815.1" cy="392.1" r="4.85"/>
<circle cx="471.8" cy="442.9" r="4.85" fill="#34618D"/>
<circle cx="981.0" cy="248.2" r="4.85" fill="#460B5D"/>
<circle cx="406.0" cy="372.2" r="4.85"/>
<circle cx="354.3" cy="425.3" r="4.85"/>
<circle cx="435.6" cy="413.4" r="4.85"/>
<circle cx="531.7" cy="450.2" r="4.85"/>
<circle cx="218.0" cy="318.0" r="4.85" fill="#453680"/>
<circle cx="228.3" cy="437.6" r="4.85" fill="#3A548B"/>
<circle cx="171.3" cy="342.8" r="4.85" fill="#433E84"/>
<circle cx="246.4" cy="408.9" r="4.85" fill="#460B5D"/>
<circle cx="197.9" cy="346.7" r="4.85" fill="#414587"/>
<circle cx="626.1" cy="285.9" r="4.85" fill="#460B5D"/>
<circle cx="859.4" cy="395.6" r="4.85"/>
<circle cx="283.4" cy="209.6" r="4.85"/>
<circle cx="408.8" cy="310.2" r="4.85" fill="#A9DB33"/>
<circle cx="892.5" cy="204.9" r="4.85" fill="#460B5D"/>
<circle cx="374.2" cy="421.5" r="4.85"/>
<circle cx="939.8" cy="231.2" r="4.85" fill="#460B5D"/>
<circle cx="370.1" cy="370.8" r="4.85" fill="#36B778"/>
<circle cx="774.0" cy="337.6" r="4.85" fill="#481467"/>
<circle cx="481.6" cy="541.9" r="4.85" fill="#24878D"/>
<circle cx="268.1" cy="373.4" r="4.85" fill="#472D7B"/>
<circle cx="220.1" cy="378.9" r="4.85" fill="#3A548B"/>
<circle cx="560.5" cy="449.8" r="4.85" fill="#228D8C"/>
<circle cx="933.3" cy="566.5" r="4.85" fill="#2E6E8E"/>
<circle cx="389.1" cy="407.2" r="4.85" fill="#FDE725"/>
<circle cx="172.6" cy="470.4" r="4.85" fill="#433E84"/>
<circle cx="943.5" cy="734.0" r="4.85" fill="#460B5D"/>
<circle cx="497.8" cy="357.0" r="4.85"/>
<circle cx="944.0" cy="180.0" r="4.85"/>
<circle cx="285.7" cy="352.3" r="4.85" fill="#481467"/>
<circle cx="954.5" cy="203.8" r="4.85"/>
<circle cx="240.2" cy="434.8" r="4.85" fill="#3A548B"/>
<circle cx="821.9" cy="579.5" r="4.85" fill="#375B8C"/>
<circle cx="423.9" cy="519.6" r="4.85" fill="#460B5D"/>
<circle cx="255.4" cy="335.4" r="4.85"/>
<circle cx="982.2" cy="509.2" r="4.85" fill="#34618D"/>
<circle cx="179.1" cy="356.9" r="4.85" fill="#433E84"/>
<circle cx="455.4" cy="304.1" r="4.85"/>
<circle cx="639.1" cy="593.7" r="4.85" fill="#27818E"/>
<circle cx="642.8" cy="407.2" r="4.85" fill="#460B5D"/>
<circle cx="935.6" cy="396.2" r="4.85" fill="#2E6E8E"/>
<circle cx="327.7" cy="316.7" r="4.85" fill="#3A548B"/>
<circle cx="905.4" cy="247.1" r="4.85" fill="#460B5D"/>
<circle cx="859.8" cy="493.6" r="4.85"/>
<circle cx="701.4" cy="470.5" r="4.85" fill="#460B5D"/>
<circle cx="256.0" cy="308.0" r="4.85" fill="#460B5D"/>
<circle cx="391.5" cy="381.0" r="4.85"/>
<circle cx="937.5" cy="465.4" r="4.85" fill="#375B8C"/>
<circle cx="1009.9" cy="226.2" r="4.85" fill="#460B5D"/>
<circle cx="912.1" cy="183.5" r="4.85" fill="#460B5D"/>
<circle cx="943.9" cy="621.9" r="4.85"/>
<circle cx="970.6" cy="460.3" r="4.85" fill="#453680"/>
<circle cx="244.8" cy="318.8" r="4.85" fill="#481467"/>
<circle cx="215.9" cy="238.5" r="4.85" fill="#460B5D"/>
<circle cx="433.9" cy="429.0" r="4.85" fill="#460B5D"/>
<circle cx="216.3" cy="373.3" r="4.85" fill="#453680"/>
<circle cx="662.2" cy="445.2" r="4.85"/>
<circle cx="250.9" cy="310.7" r="4.85" fill="#453680"/>
<circle cx="208.0" cy="250.8" r="4.85"/>
<circle cx="974.7" cy="261.2" r="4.85" fill="#BADE28"/>
<circle cx="582.7" cy="471.4" r="4.85" fill="#460B5D"/>
<circle cx="258.4" cy="281.7" r="4.85"/>
<circle cx="168.6" cy="453.9" r="4.85" fill="#482576"/>
<circle cx="947.4" cy="468.9" r="4.85" fill="#2E6E8E"/>
<circle cx="265.0" cy="362.2" r="4.85"/>
<circle cx="938.5" cy="427.1" r="4.85" fill="#22A585"/>
<circle cx="238.5" cy="345.9" r="4.85" fill="#375B8C"/>
<circle cx="853.7" cy="704.6" r="4.85" fill="#76D153"/>
<circle cx="264.0" cy="342.5" r="4.85" fill="#460B5D"/>
<circle cx="453.2" cy="562.9" r="4.85" fill="#482576"/>
<circle cx="313.5" cy="298.7" r="4.85"/>
<circle cx="247.0" cy="312.6" r="4.85" fill="#453680"/>
<circle cx="735.6" cy="609.4" r="4.85"/>
<circle cx="501.0" cy="439.7" r="4.85"/>
<circle cx="811.3" cy="424.7" r="4.85"/>
<circle cx="830.6" cy="327.5" r="4.85" fill="#460B5D"/>
<circle cx="522.2" cy="442.9" r="4.85" fill="#460B5D"/>
<circle cx="466.2" cy="477.2" r="4.85" fill="#460B5D"/>
<circle cx="235.2" cy="320.0" r="4.85"/>
<circle cx="763.9" cy="512.2" r="4.85" fill="#460B5D"/>
<circle cx="1026.5" cy="108.3" r="4.85"/>
<circle cx="505.8" cy="210.4" r="4.85" fill="#DDE319"/>
<circle cx="886.7" cy="576.7" r="4.85" fill="#2E6E8E"/>
<circle cx="181.6" cy="360.6" r="4.85"/>
<circle cx="250.7" cy="238.3" r="4.85"/>
<circle cx="473.9" cy="449.3" r="4.85"/>
<circle cx="568.7" cy="395.6" r="4.85" fill="#460B5D"/>
<circle cx="887.8" cy="518.4" r="4.85"/>
<circle cx="710.8" cy="615.3" r="4.85"/>
<circle cx="929.7" cy="240.8" r="4.85"/>
<circle cx="231.6" cy="371.6" r="4.85" fill="#460B5D"/>
<circle cx="915.0" cy="462.2" r="4.85" fill="#20938C"/>
<circle cx="440.5" cy="407.3" r="4.85"/>
<circle cx="822.9" cy="296.7" r="4.85"/>
<circle cx="942.2" cy="137.6" r="4.85" fill="#460B5D"/>
<circle cx="567.9" cy="462.9" r="4.85"/>
<circle cx="689.3" cy="366.4" r="4.85" fill="#460B5D"/>
<circle cx="889.0" cy="329.1" r="4.85"/>
<circle cx="415.7" cy="364.1" r="4.85"/>
<circle cx="764.2" cy="431.9" r="4.85"/>
<circle cx="397.5" cy="452.0" r="4.85"/>
<circle cx="257.8" cy="216.5" r="4.85" fill="#460B5D"/>
<circle cx="357.1" cy="373.1" r="4.85"/>
<circle cx="511.3" cy="398.6" r="4.85" fill="#460B5D"/>
<circle cx="266.5" cy="400.8" r="4.85"/>
<circle cx="296.6" cy="399.9" r="4.85" fill="#481467"/>
<circle cx="640.4" cy="287.7" r="4.85" fill="#3A548B"/>
<circle cx="943.6" cy="138.4" r="4.85" fill="#482576"/>
<circle cx="291.7" cy="240.1" r="4.85" fill="#433E84"/>
<circle cx="279.2" cy="261.7" r="4.85" fill="#460B5D"/>
<circle cx="248.0" cy="367.1" r="4.85"/>
<circle cx="492.0" cy="331.3" r="4.85" fill="#460B5D"/>
<circle cx="261.5" cy="457.4" r="4.85" fill="#3A548B"/>
<circle cx="248.6" cy="291.9" r="4.85" fill="#414587"/>
<circle cx="215.9" cy="250.8" r="4.85" fill="#482576"/>
<circle cx="886.2" cy="331.6" r="4.85" fill="#460B5D"/>
<circle cx="328.3" cy="328.9" r="4.85" fill="#460B5D"/>
<circle cx="317.1" cy="307.7" r="4.85" fill="#2B748E"/>
<circle cx="552.2" cy="499.4" r="4.85"/>
<circle cx="398.2" cy="355.9" r="4.85" fill="#460B5D"/>
<circle cx="461.4" cy="365.0" r="4.85" fill="#460B5D"/>
<circle cx="960.8" cy="349.4" r="4.85" fill="#59C765"/>
<circle cx="617.6" cy="275.3" r="4.85" fill="#460B5D"/>
<circle cx="991.4" cy="248.4" r="4.85" fill="#460B5D"/>
<circle cx="462.8" cy="426.9" r="4.85" fill="#460B5D"/>
<circle cx="304.5" cy="366.2" r="4.85" fill="#433E84"/>
<circle cx="732.6" cy="341.4" r="4.85"/>
<circle cx="914.1" cy="239.8" r="4.85"/>
<circle cx="937.6" cy="396.0" r="4.85"/>
<circle cx="560.0" cy="266.0" r="4.85" fill="#460B5D"/>
<circle cx="788.3" cy="328.0" r="4.85"/>
<circle cx="852.9" cy="430.1" r="4.85" fill="#209F88"/>
<circle cx="217.1" cy="346.5" r="4.85" fill="#482576"/>
<circle cx="999.3" cy="172.8" r="4.85"/>
<circle cx="938.7" cy="246.0" r="4.85" fill="#460B5D"/>
<circle cx="426.1" cy="374.5" r="4.85" fill="#460B5D"/>
<circle cx="931.9" cy="619.9" r="4.85" fill="#433E84"/>
<circle cx="719.1" cy="427.7" r="4.85" fill="#481467"/>
<circle cx="540.0" cy="488.8" r="4.85" fill="#460B5D"/>
<circle cx="576.3" cy="323.8" r="4.85" fill="#375B8C"/>
<circle cx="544.9" cy="561.0" r="4.85"/>
<circle cx="519.5" cy="393.0" r="4.85" fill="#460B5D"/>
<circle cx="884.9" cy="200.9" r="4.85"/>
<circle cx="886.5" cy="206.6" r="4.85" fill="#460B5D"/>
<circle cx="744.1" cy="539.6" r="4.85" fill="#460B5D"/>
<circle cx="970.5" cy="188.4" r="4.85" fill="#375B8C"/>
<circle cx="485.7" cy="477.5" r="4.85" fill="#481467"/>
<circle cx="865.5" cy="553.7" r="4.85" fill="#3A548B"/>
<circle cx="204.1" cy="389.9" r="4.85" fill="#482576"/>
<circle cx="475.6" cy="477.0" r="4.85"/>
<circle cx="745.9" cy="430.1" r="4.85" fill="#460B5D"/>
<circle cx="807.2" cy="767.2" r="4.85" fill="#482576"/>
<circle cx="686.6" cy="474.6" r="4.85" fill="#460B5D"/>
<circle cx="828.9" cy="518.6" r="4.85"/>
<circle cx="251.2" cy="398.3" r="4.85"/>
<circle cx="947.0" cy="395.6" r="4.85" fill="#24878D"/>
<circle cx="900.6" cy="610.7" r="4.85" fill="#433E84"/>
<circle cx="949.4" cy="207.2" r="4.85"/>
<circle cx="384.3" cy="396.4" r="4.85" fill="#481D6E"/>
<circle cx="227.5" cy="331.9" r="4.85"/>
<circle cx="911.2" cy="451.6" r="4.85" fill="#27818E"/>
<circle cx="882.3" cy="327.0" r="4.85"/>
<circle cx="795.9" cy="483.5" r="4.85" fill="#460B5D"/>
<circle cx="495.8" cy="510.0" r="4.85"/>
<circle cx="224.2" cy="331.8" r="4.85"/>
<circle cx="724.6" cy="473.2" r="4.85" fill="#460B5D"/>
<circle cx="776.9" cy="558.4" r="4.85"/>
<circle cx="580.8" cy="431.8" r="4.85" fill="#3A548B"/>
<circle cx="977.5" cy="152.8" r="4.85" fill="#460B5D"/>
<circle cx="886.7" cy="338.6" r="4.85"/>
<circle cx="413.9" cy="448.3" r="4.85"/>
<circle cx="434.3" cy="443.9" r="4.85" fill="#460B5D"/>
<circle cx="256.5" cy="391.0" r="4.85" fill="#414587"/>
<circle cx="574.9" cy="587.3" r="4.85"/>
<circle cx="660.8" cy="138.8" r="4.85" fill="#BADE28"/>
<circle cx="457.5" cy="648.4" r="4.85" fill="#472D7B"/>
<circle cx="263.9" cy="283.6" r="4.85" fill="#460B5D"/>
<circle cx="466.4" cy="502.9" r="4.85" fill="#375B8C"/>
<circle cx="560.7" cy="568.6" r="4.85"/>
<circle cx="702.3" cy="297.8" r="4.85"/>
<circle cx="310.2" cy="402.1" r="4.85" fill="#481467"/>
<circle cx="585.5" cy="417.7" r="4.85"/>
<circle cx="265.1" cy="418.4" r="4.85" fill="#460B5D"/>
<circle cx="939.2" cy="566.5" r="4.85"/>
<circle cx="365.0" cy="438.7" r="4.85" fill="#460B5D"/>
<circle cx="935.2" cy="237.2" r="4.85"/>
<circle cx="290.3" cy="458.0" r="4.85" fill="#2B748E"/>
<circle cx="940.3" cy="389.0" r="4.85" fill="#20938C"/>
<circle cx="220.6" cy="252.5" r="4.85" fill="#481467"/>
<circle cx="629.5" cy="409.1" r="4.85"/>
<circle cx="315.4" cy="412.0" r="4.85" fill="#209F88"/>
<circle cx="616.7" cy="455.0" r="4.85"/>
<circle cx="873.4" cy="522.7" r="4.85" fill="#460B5D"/>
<circle cx="975.0" cy="226.4" r="4.85"/>
<circle cx="483.0" cy="395.0" r="4.85" fill="#2B748E"/>
<circle cx="285.1" cy="254.7" r="4.85" fill="#460B5D"/>
<circle cx="676.2" cy="620.3" r="4.85" fill="#460B5D"/>
<circle cx="552.2" cy="397.6" r="4.85"/>
<circle cx="788.1" cy="348.0" r="4.85" fill="#460B5D"/>
<circle cx="693.9" cy="387.2" r="4.85"/>
<circle cx="369.9" cy="436.2" r="4.85" fill="#481467"/>
<circle cx="323.1" cy="406.0" r="4.85"/>
<circle cx="954.8" cy="292.0" r="4.85"/>
<circle cx="517.6" cy="340.3" r="4.85"/>
<circle cx="781.1" cy="262.0" r="4.85" fill="#460B5D"/>
<circle cx="333.9" cy="434.6" r="4.85"/>
<circle cx="893.0" cy="585.7" r="4.85"/>
<circle cx="608.0" cy="418.8" r="4.85" fill="#460B5D"/>
<circle cx="975.5" cy="348.8" r="4.85" fill="#27818E"/>
<circle cx="589.6" cy="441.9" r="4.85"/>
<circle cx="401.2" cy="410.8" r="4.85"/>
<circle cx="219.2" cy="358.9" r="4.85" fill="#482576"/>
<circle cx="827.9" cy="520.9" r="4.85" fill="#2E6E8E"/>
<circle cx="878.2" cy="442.4" r="4.85" fill="#414587"/>
<circle cx="921.4" cy="638.4" r="4.85" fill="#3D4D8A"/>
<circle cx="241.0" cy="312.8" r="4.85" fill="#3D4D8A"/>
<circle cx="659.3" cy="373.4" r="4.85" fill="#481467"/>
<circle cx="560.1" cy="312.8" r="4.85" fill="#460B5D"/>
<circle cx="757.2" cy="527.8" r="4.85"/>
<circle cx="832.7" cy="306.3" r="4.85" fill="#67CC5C"/>
<circle cx="688.2" cy="554.3" r="4.85"/>
<circle cx="990.1" cy="231.0" r="4.85"/>
<circle cx="306.5" cy="521.2" r="4.85"/>
<circle cx="838.9" cy="325.0" r="4.85"/>
<circle cx="965.9" cy="223.5" r="4.85" fill="#460B5D"/>
<circle cx="584.2" cy="468.8" r="4.85" fill="#460B5D"/>
<circle cx="257.8" cy="342.4" r="4.85" fill="#414587"/>
<circle cx="355.8" cy="333.4" r="4.85"/>
<circle cx="734.2" cy="554.3" r="4.85" fill="#460B5D"/>
<circle cx="775.4" cy="234.6" r="4.85"/>
<circle cx="201.7" cy="387.8" r="4.85" fill="#433E84"/>
<circle cx="690.9" cy="280.4" r="4.85" fill="#460B5D"/>
<circle cx="224.5" cy="391.4" r="4.85" fill="#453680"/>
<circle cx="885.8" cy="440.8" r="4.85" fill="#2E6E8E"/>
<circle cx="901.8" cy="440.1" r="4.85" fill="#2B748E"/>
<circle cx="861.7" cy="466.4" r="4.85"/>
<circle cx="414.5" cy="386.1" r="4.85"/>
<circle cx="231.1" cy="366.4" r="4.85"/>
<circle cx="952.8" cy="447.2" r="4.85" fill="#34618D"/>
<circle cx="929.0" cy="551.5" r="4.85" fill="#209F88"/>
<circle cx="740.2" cy="425.8" r="4.85"/>
<circle cx="842.1" cy="221.7" r="4.85"/>
<circle cx="962.5" cy="360.1" r="4.85" fill="#460B5D"/>
<circle cx="844.4" cy="390.3" r="4.85" fill="#76D153"/>
<circle cx="595.9" cy="619.4" r="4.85"/>
<circle cx="322.3" cy="464.2" r="4.85"/>
<circle cx="257.4" cy="386.8" r="4.85" fill="#3D4D8A"/>
<circle cx="770.6" cy="536.5" r="4.85" fill="#2B748E"/>
<circle cx="221.7" cy="345.6" r="4.85"/>
<circle cx="789.7" cy="277.8" r="4.85" fill="#460B5D"/>
<circle cx="245.6" cy="283.3" r="4.85"/>
<circle cx="755.9" cy="459.7" r="4.85" fill="#481467"/>
<circle cx="382.1" cy="464.1" r="4.85" fill="#460B5D"/>
<circle cx="849.4" cy="406.7" r="4.85" fill="#40BD73"/>
<circle cx="239.0" cy="284.5" r="4.85"/>
<circle cx="285.6" cy="462.2" r="4.85" fill="#460B5D"/>
<circle cx="418.3" cy="220.0" r="4.85" fill="#297A8E"/>
<circle cx="638.5" cy="296.2" r="4.85"/>
<circle cx="749.7" cy="428.9" r="4.85" fill="#460B5D"/>
<circle cx="723.5" cy="662.9" r="4.85" fill="#481467"/>
<circle cx="934.7" cy="203.8" r="4.85" fill="#2E6E8E"/>
<circle cx="442.4" cy="474.8" r="4.85"/>
<circle cx="671.1" cy="446.6" r="4.85"/>
<circle cx="604.1" cy="354.8" r="4.85" fill="#460B5D"/>
<circle cx="444.8" cy="453.6" r="4.85"/>
<circle cx="881.1" cy="572.8" r="4.85" fill="#BADE28"/>
<circle cx="647.0" cy="458.4" r="4.85" fill="#460B5D"/>
<circle cx="565.8" cy="381.1" r="4.85" fill="#460B5D"/>
<circle cx="856.0" cy="501.2" r="4.85"/>
<circle cx="674.6" cy="319.1" r="4.85" fill="#460B5D"/>
<circle cx="611.0" cy="456.9" r="4.85" fill="#453680"/>
<circle cx="476.5" cy="529.1" r="4.85" fill="#98D83E"/>
<circle cx="906.9" cy="171.9" r="4.85" fill="#460B5D"/>
<circle cx="907.3" cy="409.3" r="4.85" fill="#433E84"/>
<circle cx="984.5" cy="148.4" r="4.85" fill="#482576"/>
<circle cx="428.3" cy="328.9" r="4.85" fill="#460B5D"/>
<circle cx="359.9" cy="385.4" r="4.85"/>
<circle cx="310.3" cy="449.1" r="4.85" fill="#460B5D"/>
<circle cx="216.4" cy="403.8" r="4.85" fill="#472D7B"/>
<circle cx="703.0" cy="330.8" r="4.85" fill="#460B5D"/>
<circle cx="775.9" cy="391.5" r="4.85"/>
<circle cx="747.9" cy="400.6" r="4.85" fill="#3D4D8A"/>
<circle cx="767.9" cy="562.6" r="4.85"/>
<circle cx="493.6" cy="350.6" r="4.85" fill="#20938C"/>
<circle cx="661.9" cy="533.7" r="4.85"/>
<circle cx="361.7" cy="398.5" r="4.85" fill="#460B5D"/>
<circle cx="613.3" cy="447.3" r="4.85"/>
<circle cx="954.8" cy="214.8" r="4.85" fill="#453680"/>
<circle cx="243.7" cy="330.5" r="4.85" fill="#481467"/>
<circle cx="914.2" cy="153.7" r="4.85" fill="#472D7B"/>
<circle cx="458.4" cy="476.5" r="4.85" fill="#460B5D"/>
<circle cx="318.4" cy="302.3" r="4.85" fill="#460B5D"/>
<circle cx="922.9" cy="247.2" r="4.85" fill="#460B5D"/>
<circle cx="350.5" cy="395.8" r="4.85"/>
<circle cx="671.8" cy="464.9" r="4.85" fill="#460B5D"/>
<circle cx="197.5" cy="390.7" r="4.85" fill="#453680"/>
<circle cx="921.8" cy="139.3" r="4.85" fill="#453680"/>
<circle cx="441.6" cy="485.1" r="4.85" fill="#460B5D"/>
<circle cx="894.0" cy="605.0" r="4.85" fill="#414587"/>
<circle cx="400.4" cy="529.2" r="4.85"/>
<circle cx="581.2" cy="489.3" r="4.85" fill="#460B5D"/>
<circle cx="886.4" cy="470.1" r="4.85"/>
<circle cx="441.1" cy="301.8" r="4.85"/>
<circle cx="447.0" cy="379.7" r="4.85" fill="#460B5D"/>
<circle cx="317.8" cy="480.1" r="4.85" fill="#297A8E"/>
<circle cx="579.9" cy="367.0" r="4.85"/>
<circle cx="786.1" cy="364.1" r="4.85" fill="#460B5D"/>
<circle cx="428.4" cy="331.1" r="4.85"/>
<circle cx="238.6" cy="313.4" r="4.85" fill="#460B5D"/>
<circle cx="957.1" cy="416.2" r="4.85" fill="#228D8C"/>
<circle cx="942.7" cy="603.6" r="4.85" fill="#433E84"/>
<circle cx="502.3" cy="401.6" r="4.85" fill="#460B5D"/>
<circle cx="245.6" cy="417.4" r="4.85" fill="#3D4D8A"/>
<circle cx="198.7" cy="400.8" r="4.85"/>
<circle cx="426.7" cy="221.7" r="4.85" fill="#EDE51F"/>
<circle cx="903.1" cy="569.6" r="4.85" fill="#34618D"/>
<circle cx="279.3" cy="373.1" r="4.85" fill="#453680"/>
<circle cx="639.3" cy="470.6" r="4.85" fill="#460B5D"/>
<circle cx="567.7" cy="415.0" r="4.85" fill="#460B5D"/>
<circle cx="942.9" cy="225.1" r="4.85" fill="#460B5D"/>
<circle cx="266.9" cy="345.8" r="4.85" fill="#472D7B"/>
<circle cx="559.3" cy="372.2" r="4.85" fill="#460B5D"/>
<circle cx="964.5" cy="87.5" r="4.85" fill="#FDE725"/>
<circle cx="982.6" cy="262.4" r="4.85"/>
<circle cx="565.3" cy="472.3" r="4.85" fill="#414587"/>
<circle cx="326.2" cy="367.0" r="4.85" fill="#67CC5C"/>
<circle cx="790.9" cy="511.3" r="4.85" fill="#460B5D"/>
<circle cx="192.2" cy="339.3" r="4.85"/>
<circle cx="909.3" cy="123.7" r="4.85" fill="#460B5D"/>
<circle cx="935.3" cy="526.7" r="4.85" fill="#40BD73"/>
<circle cx="183.5" cy="359.6" r="4.85" fill="#31678D"/>
<circle cx="275.5" cy="473.6" r="4.85"/>
<circle cx="731.7" cy="584.9" r="4.85" fill="#87D549"/>
<circle cx="235.5" cy="257.5" r="4.85" fill="#375B8C"/>
<circle cx="941.9" cy="194.5" r="4.85"/>
<circle cx="261.8" cy="308.6" r="4.85" fill="#414587"/>
<circle cx="316.0" cy="466.8" r="4.85" fill="#297A8E"/>
<circle cx="939.8" cy="370.7" r="4.85" fill="#453680"/>
<circle cx="239.5" cy="439.0" r="4.85" fill="#433E84"/>
</g>
<g stroke="#000" stroke-width="2.9" fill="none">
<path d="M92.4 11.9V881.9"/>
<path d="M90.95 880.5H1091.6"/>
<path d="M85.4 102.4H92M85.4 389.95H92M85.4 677.5H92"/>
<path d="M130.6 881V887.4M349.3 881V887.4M568 881V887.4M786.7 881V887.4M1005.4 881V887.4"/>
</g>
<g class="t" text-anchor="end">
<text x="79.6" y="109.9">10</text>
<text x="79.6" y="397.8">0</text>
<text x="79.6" y="685.7">-10</text>
</g>
<g class="t" text-anchor="middle">
<text x="130.4" y="909">-20</text>
<text x="349.1" y="909">-10</text>
<text x="567.5" y="909">0</text>
<text x="786.3" y="909">10</text>
<text x="1005" y="909">20</text>
</g>
<text class="T" x="512.7" y="941" textLength="157" lengthAdjust="spacingAndGlyphs">PCA 1 (23%)</text>
<text class="T" transform="translate(33.4 518) rotate(-90)" textLength="141.8" lengthAdjust="spacingAndGlyphs">PCA 2 (3%)</text>
<text class="T" x="1116.6" y="376.8" textLength="214.5" lengthAdjust="spacingAndGlyphs">scDblFinder.score</text>
<rect x="1116.5" y="394" width="29.5" height="145" fill="url(#vg)"/>
<g stroke="#fff" stroke-width="1" stroke-opacity="0.8">
<path d="M1116.5 502.7h6M1140 502.7h6M1116.5 466.5h6M1140 466.5h6M1116.5 430.3h6M1140 430.3h6"/>
</g>
<g class="t">
<text x="1159" y="402.4">1.00</text>
<text x="1159" y="438.4">0.75</text>
<text x="1159" y="474.6">0.50</text>
<text x="1159" y="510.8">0.25</text>
<text x="1159" y="547">0.00</text>
</g>
</svg>
</body>
</html>
